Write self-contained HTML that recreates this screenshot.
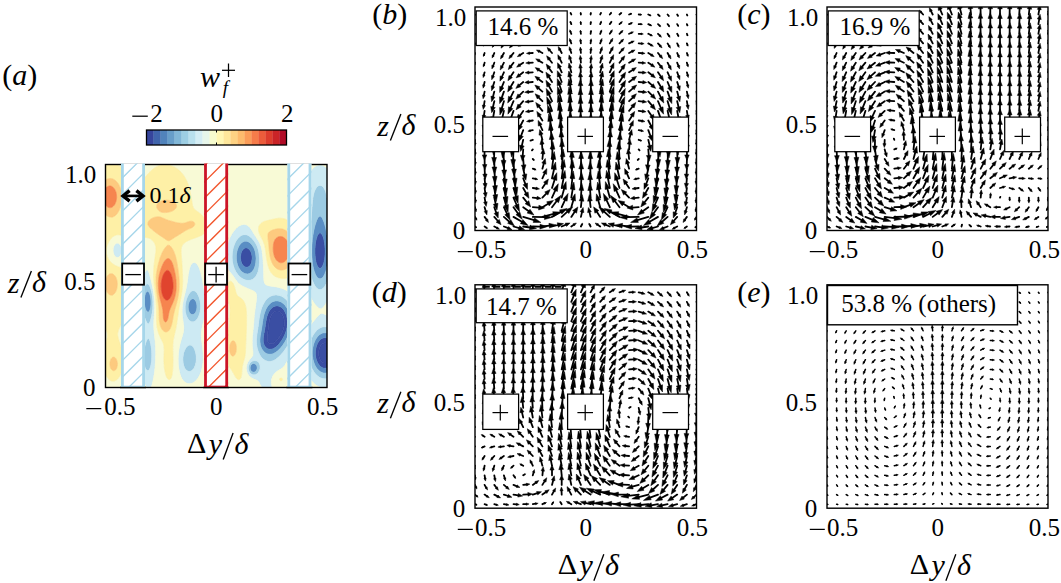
<!DOCTYPE html><html><head><meta charset="utf-8"><style>html,body{margin:0;padding:0;background:#fff}svg{display:block}text{font-family:"Liberation Serif",serif;fill:#000}</style></head><body>
<svg width="1061" height="583" viewBox="0 0 1061 583">
<defs>
<clipPath id="clipa"><rect x="105.5" y="164.5" width="221.5" height="223"/></clipPath>
<clipPath id="clipb"><rect x="475.0" y="7.0" width="221.5" height="223.5"/></clipPath>
<clipPath id="clipc"><rect x="827.0" y="7.0" width="221" height="223.5"/></clipPath>
<clipPath id="clipd"><rect x="475.0" y="284.8" width="221.5" height="223.4"/></clipPath>
<clipPath id="clipe"><rect x="827.0" y="284.8" width="221" height="223.4"/></clipPath>
<linearGradient id="cbg" x1="0" x2="1" y1="0" y2="0"><stop offset="0.000" stop-color="#313695"/><stop offset="0.050" stop-color="#3a54a4"/><stop offset="0.100" stop-color="#4574b3"/><stop offset="0.150" stop-color="#5c90c2"/><stop offset="0.200" stop-color="#74add1"/><stop offset="0.250" stop-color="#90c3dd"/><stop offset="0.300" stop-color="#aad8e9"/><stop offset="0.350" stop-color="#c5e6f0"/><stop offset="0.400" stop-color="#e0f3f8"/><stop offset="0.450" stop-color="#f0f9db"/><stop offset="0.500" stop-color="#fffebe"/><stop offset="0.550" stop-color="#fff0a8"/><stop offset="0.600" stop-color="#fee090"/><stop offset="0.650" stop-color="#fdc778"/><stop offset="0.700" stop-color="#fdad60"/><stop offset="0.750" stop-color="#f88c51"/><stop offset="0.800" stop-color="#f46d43"/><stop offset="0.850" stop-color="#e54e35"/><stop offset="0.900" stop-color="#d62f27"/><stop offset="0.950" stop-color="#bd1726"/><stop offset="1.000" stop-color="#a50026"/></linearGradient>
</defs>
<g clip-path="url(#clipa)">
<path d="M275.1 311.3L275.9 311.1L276.6 310.9L277.4 310.9L278.1 311L278.8 311.3L279.2 311.4L279.6 311.6L280.3 312.1L280.4 312.2L281.1 312.8L281.1 312.9L281.8 313.7L281.8 313.7L282.3 314.4L282.6 314.9L282.7 315.2L283 315.9L283.3 316.5L283.3 316.6L283.6 317.4L283.8 318.1L284 318.9L284 319.2L284.1 319.6L284.2 320.4L284.3 321.1L284.3 321.9L284.4 322.6L284.4 323.4L284.3 324.1L284.3 324.9L284.2 325.6L284.1 326.3L284 326.5L283.9 327.1L283.7 327.8L283.5 328.6L283.3 329.3L283.3 329.4L283.1 330.1L282.8 330.8L282.6 331.4L282.5 331.6L282.2 332.3L281.8 333.1L281.8 333.1L281.4 333.8L281.1 334.4L281 334.5L280.6 335.3L280.3 335.7L280.1 336L279.6 336.8L279.6 336.8L279.1 337.5L278.8 337.8L278.5 338.3L278.1 338.8L277.9 339L277.4 339.7L277.3 339.8L276.6 340.5L276.6 340.5L275.9 341.3L275.9 341.3L275.1 341.9L275.1 342L274.4 342.5L274 342.8L273.7 343L272.9 343.4L272.5 343.5L272.2 343.6L271.4 343.7L270.7 343.7L270 343.6L269.7 343.5L269.2 343.2L268.7 342.8L268.5 342.6L268.1 342L267.7 341.3L267.7 341.3L267.5 340.5L267.3 339.8L267.2 339L267.2 338.3L267.2 337.5L267.2 336.8L267.3 336L267.4 335.3L267.5 334.5L267.6 333.8L267.7 333.1L267.7 332.7L267.8 332.3L267.9 331.6L268 330.8L268.1 330.1L268.2 329.3L268.3 328.6L268.4 327.8L268.5 327.1L268.5 327L268.6 326.3L268.6 325.6L268.7 324.9L268.8 324.1L268.9 323.4L269.1 322.6L269.2 321.9L269.2 321.6L269.3 321.1L269.5 320.4L269.7 319.6L269.8 318.9L270 318.5L270.1 318.1L270.3 317.4L270.6 316.6L270.7 316.4L271 315.9L271.3 315.2L271.4 315L271.8 314.4L272.2 313.8L272.3 313.7L272.9 312.9L272.9 312.9L273.7 312.2L273.7 312.2L274.4 311.7L274.9 311.4L275.1 311.3ZM323.3 343.2L324 342.9L324.8 342.8L325.5 342.9L326.3 343L327 343.3L327 343.5L327 344.2L327 345L327 345.7L327 346.5L327 347.2L327 348L327 348.7L327 349.5L327 350.2L327 351L327 351.7L327 352.4L327 353.2L327 353.9L327 354.7L327 355.4L327 356.2L327 356.9L327 357.7L327 358.4L327 359.2L327 359.9L327 360.7L327 361.4L327 362.1L327 362.6L326.4 362.9L326.3 362.9L325.5 363.1L324.8 363.1L324 363L323.6 362.9L323.3 362.8L322.6 362.4L322.3 362.1L321.8 361.8L321.5 361.4L321.1 361L320.9 360.7L320.4 359.9L320.3 359.9L320 359.2L319.6 358.4L319.6 358.3L319.4 357.7L319.2 356.9L319 356.2L318.9 355.5L318.8 355.4L318.7 354.7L318.7 353.9L318.7 353.2L318.7 352.4L318.7 351.7L318.8 351L318.9 350.5L318.9 350.2L319.1 349.5L319.2 348.7L319.5 348L319.6 347.7L319.8 347.2L320.1 346.5L320.3 346.1L320.6 345.7L321.1 345L321.1 345L321.8 344.2L321.8 344.2L322.6 343.6L322.7 343.5L323.3 343.2Z" fill="#3a4ea3" stroke="#3a4ea3" stroke-width="0.6"/>
<path d="M319.6 233.1L320.3 233L320.5 233.1L321.1 233.5L321.4 233.9L321.8 234.3L322 234.6L322.4 235.4L322.6 235.7L322.7 236.1L323 236.8L323.3 237.6L323.3 237.7L323.5 238.3L323.7 239.1L323.9 239.8L324 240.6L324 240.6L324.2 241.3L324.3 242.1L324.4 242.8L324.5 243.6L324.6 244.3L324.7 245L324.8 245.5L324.8 245.8L324.9 246.5L324.9 247.3L325 248L325 248.8L325 249.5L325.1 250.3L325.1 251L325.1 251.8L325.1 252.5L325 253.3L325 254L325 254.7L324.9 255.5L324.9 256.2L324.8 257L324.8 257L324.7 257.7L324.6 258.5L324.5 259.2L324.4 260L324.2 260.7L324.1 261.5L324 261.6L323.9 262.2L323.7 262.9L323.5 263.7L323.3 264.2L323.2 264.4L322.9 265.2L322.6 265.9L322.6 265.9L322.1 266.7L321.8 267.1L321.5 267.4L321.1 267.8L320.4 268.2L320.3 268.2L320 268.2L319.6 268.2L318.9 267.8L318.5 267.4L318.1 267L317.9 266.7L317.5 265.9L317.4 265.8L317.1 265.2L316.8 264.4L316.6 263.9L316.6 263.7L316.3 262.9L316.1 262.2L316 261.5L315.9 261.1L315.8 260.7L315.7 260L315.5 259.2L315.4 258.5L315.3 257.7L315.3 257L315.2 256.2L315.1 255.9L315.1 255.5L315.1 254.7L315 254L315 253.3L315 252.5L315 251.8L315 251L315 250.3L315 249.5L315 248.8L315.1 248L315.1 247.3L315.1 246.7L315.2 246.5L315.2 245.8L315.3 245L315.4 244.3L315.5 243.6L315.6 242.8L315.7 242.1L315.8 241.3L315.9 241.1L316 240.6L316.2 239.8L316.3 239.1L316.5 238.3L316.6 238L316.8 237.6L317 236.8L317.3 236.1L317.4 235.9L317.6 235.4L318 234.6L318.1 234.5L318.6 233.9L318.9 233.5L319.5 233.1L319.6 233.1ZM245.5 248L246.3 248L246.8 248L247 248.1L247.7 248.3L248.5 248.8L248.5 248.8L249.2 249.4L249.3 249.5L249.9 250.3L250 250.3L250.4 251L250.7 251.6L250.8 251.8L251.1 252.5L251.4 253.3L251.4 253.5L251.6 254L251.7 254.7L251.9 255.5L252 256.2L252 257L252.1 257.7L252.1 258.5L252 259.2L251.9 260L251.8 260.7L251.7 261.5L251.5 262.2L251.4 262.4L251.3 262.9L251 263.7L250.7 264.2L250.6 264.4L250.1 265.2L250 265.4L249.5 265.9L249.2 266.2L248.5 266.7L248.5 266.7L247.7 267L247 267.2L246.3 267.2L245.5 267L244.8 266.7L244.8 266.7L244 266.2L243.7 265.9L243.3 265.5L243 265.2L242.5 264.6L242.5 264.4L242 263.7L241.8 263.2L241.7 262.9L241.4 262.2L241.1 261.5L241.1 261.2L240.9 260.7L240.8 260L240.7 259.2L240.6 258.5L240.6 257.7L240.6 257L240.6 256.2L240.7 255.5L240.8 254.7L240.9 254L241.1 253.4L241.1 253.3L241.3 252.5L241.6 251.8L241.8 251.4L242 251L242.5 250.3L242.5 250.1L243 249.5L243.3 249.3L243.8 248.8L244 248.6L244.8 248.2L245.4 248L245.5 248ZM275.1 306.2L275.9 306L276.6 305.9L277.4 305.9L278.1 306L278.8 306.2L278.9 306.2L279.6 306.5L280.3 306.8L280.6 307L281.1 307.3L281.7 307.7L281.8 307.8L282.5 308.4L282.6 308.5L283.2 309.2L283.3 309.3L283.8 309.9L284 310.3L284.3 310.7L284.7 311.4L284.8 311.5L285.1 312.2L285.5 312.9L285.5 313L285.8 313.7L286.1 314.4L286.3 315L286.3 315.2L286.5 315.9L286.7 316.6L286.9 317.4L287 318L287 318.1L287.1 318.9L287.2 319.6L287.3 320.4L287.4 321.1L287.4 321.9L287.4 322.6L287.4 323.4L287.3 324.1L287.3 324.9L287.2 325.6L287.1 326.3L287 327.1L287 327.2L286.9 327.8L286.7 328.6L286.6 329.3L286.4 330.1L286.3 330.5L286.2 330.8L285.9 331.6L285.7 332.3L285.5 332.8L285.4 333.1L285.1 333.8L284.8 334.5L284.8 334.6L284.5 335.3L284.1 336L284 336.2L283.7 336.8L283.3 337.5L283.3 337.6L282.9 338.3L282.6 338.9L282.5 339L282 339.8L281.8 340L281.5 340.5L281.1 341.2L281 341.3L280.5 342L280.3 342.2L279.9 342.8L279.6 343.2L279.3 343.5L278.8 344.1L278.7 344.2L278.1 344.9L278 345L277.4 345.6L277.3 345.7L276.6 346.3L276.5 346.5L275.9 347L275.5 347.2L275.1 347.5L274.4 348L274.4 348L273.7 348.4L272.9 348.7L272.9 348.7L272.2 349L271.4 349.1L270.7 349.2L270 349.2L269.2 349.2L268.5 349L267.8 348.7L267.7 348.7L267 348.3L266.5 348L266.3 347.7L265.7 347.2L265.5 347L265.1 346.5L264.8 346L264.6 345.7L264.3 345L264 344.4L264 344.2L263.7 343.5L263.6 342.8L263.4 342L263.3 341.3L263.3 340.5L263.3 340.4L263.3 339.8L263.3 339.2L263.3 339L263.3 338.3L263.4 337.5L263.5 336.8L263.6 336L263.7 335.3L263.8 334.5L264 333.8L264 333.5L264.1 333.1L264.3 332.3L264.4 331.6L264.5 330.8L264.7 330.1L264.8 329.5L264.8 329.3L264.9 328.6L265 327.8L265.2 327.1L265.3 326.3L265.4 325.6L265.5 324.9L265.5 324.6L265.6 324.1L265.7 323.4L265.8 322.6L265.9 321.9L266 321.1L266.2 320.4L266.3 319.9L266.3 319.6L266.5 318.9L266.6 318.1L266.8 317.4L267 316.7L267 316.6L267.2 315.9L267.5 315.2L267.7 314.4L267.7 314.4L268 313.7L268.4 312.9L268.5 312.7L268.7 312.2L269.1 311.4L269.2 311.3L269.6 310.7L270 310.1L270.1 309.9L270.7 309.2L270.7 309.2L271.4 308.4L271.4 308.4L272.2 307.7L272.2 307.7L272.9 307.2L273.3 307L273.7 306.7L274.4 306.4L275 306.2L275.1 306.2ZM274.9 311.4L274.4 311.7L273.7 312.2L273.7 312.2L272.9 312.9L272.9 312.9L272.3 313.7L272.2 313.8L271.8 314.4L271.4 315L271.3 315.2L271 315.9L270.7 316.4L270.6 316.6L270.3 317.4L270.1 318.1L270 318.5L269.8 318.9L269.7 319.6L269.5 320.4L269.3 321.1L269.2 321.6L269.2 321.9L269.1 322.6L268.9 323.4L268.8 324.1L268.7 324.9L268.6 325.6L268.6 326.3L268.5 327L268.5 327.1L268.4 327.8L268.3 328.6L268.2 329.3L268.1 330.1L268 330.8L267.9 331.6L267.8 332.3L267.7 332.7L267.7 333.1L267.6 333.8L267.5 334.5L267.4 335.3L267.3 336L267.2 336.8L267.2 337.5L267.2 338.3L267.2 339L267.3 339.8L267.5 340.5L267.7 341.3L267.7 341.3L268.1 342L268.5 342.6L268.7 342.8L269.2 343.2L269.7 343.5L270 343.6L270.7 343.7L271.4 343.7L272.2 343.6L272.5 343.5L272.9 343.4L273.7 343L274 342.8L274.4 342.5L275.1 342L275.1 341.9L275.9 341.3L275.9 341.3L276.6 340.5L276.6 340.5L277.3 339.8L277.4 339.7L277.9 339L278.1 338.8L278.5 338.3L278.8 337.8L279.1 337.5L279.6 336.8L279.6 336.8L280.1 336L280.3 335.7L280.6 335.3L281 334.5L281.1 334.4L281.4 333.8L281.8 333.1L281.8 333.1L282.2 332.3L282.5 331.6L282.6 331.4L282.8 330.8L283.1 330.1L283.3 329.4L283.3 329.3L283.5 328.6L283.7 327.8L283.9 327.1L284 326.5L284.1 326.3L284.2 325.6L284.3 324.9L284.3 324.1L284.4 323.4L284.4 322.6L284.3 321.9L284.3 321.1L284.2 320.4L284.1 319.6L284 319.2L284 318.9L283.8 318.1L283.6 317.4L283.3 316.6L283.3 316.5L283 315.9L282.7 315.2L282.6 314.9L282.3 314.4L281.8 313.7L281.8 313.7L281.1 312.9L281.1 312.8L280.4 312.2L280.3 312.1L279.6 311.6L279.2 311.4L278.8 311.3L278.1 311L277.4 310.9L276.6 310.9L275.9 311.1L275.1 311.3L274.9 311.4ZM322.6 338.2L323.3 338L324 337.8L324.8 337.7L325.5 337.7L326.3 337.9L327 338.1L327 338.3L327 339L327 339.8L327 340.5L327 341.3L327 342L327 342.8L327 343.3L326.3 343L325.5 342.9L324.8 342.8L324 342.9L323.3 343.2L322.7 343.5L322.6 343.6L321.8 344.2L321.8 344.2L321.1 345L321.1 345L320.6 345.7L320.3 346.1L320.1 346.5L319.8 347.2L319.6 347.7L319.5 348L319.2 348.7L319.1 349.5L318.9 350.2L318.9 350.5L318.8 351L318.7 351.7L318.7 352.4L318.7 353.2L318.7 353.9L318.7 354.7L318.8 355.4L318.9 355.5L319 356.2L319.2 356.9L319.4 357.7L319.6 358.3L319.6 358.4L320 359.2L320.3 359.9L320.4 359.9L320.9 360.7L321.1 361L321.5 361.4L321.8 361.8L322.3 362.1L322.6 362.4L323.3 362.8L323.6 362.9L324 363L324.8 363.1L325.5 363.1L326.3 362.9L326.4 362.9L327 362.6L327 362.9L327 363.6L327 364.4L327 365.1L327 365.9L327 366.6L327 367.4L327 367.9L326.3 368.1L326.1 368.1L325.5 368.2L324.8 368.2L324 368.1L323.9 368.1L323.3 368L322.6 367.7L321.9 367.4L321.8 367.3L321.1 366.9L320.8 366.6L320.3 366.3L319.9 365.9L319.6 365.5L319.3 365.1L318.9 364.6L318.7 364.4L318.2 363.6L318.1 363.5L317.8 362.9L317.4 362.1L317.4 362.1L317.1 361.4L316.8 360.7L316.6 360.2L316.5 359.9L316.3 359.2L316.1 358.4L315.9 357.7L315.9 357.4L315.8 356.9L315.7 356.2L315.6 355.4L315.5 354.7L315.5 353.9L315.5 353.2L315.5 352.4L315.5 351.7L315.6 351L315.6 350.2L315.7 349.5L315.9 348.7L315.9 348.6L316 348L316.2 347.2L316.4 346.5L316.6 345.7L316.6 345.7L316.9 345L317.2 344.2L317.4 343.9L317.5 343.5L317.9 342.8L318.1 342.4L318.4 342L318.9 341.3L318.9 341.3L319.5 340.5L319.6 340.4L320.2 339.8L320.3 339.7L321.1 339.1L321.1 339L321.8 338.6L322.4 338.3L322.6 338.2Z" fill="#3a4ea3" stroke="#3a4ea3" stroke-width="0.6"/>
<path d="M318.9 216.7L319.6 216.2L320.3 216.2L321.1 216.6L321.2 216.7L321.8 217.5L321.8 217.5L322.2 218.2L322.6 218.7L322.6 218.9L323 219.7L323.3 220.4L323.3 220.4L323.6 221.2L323.9 221.9L324 222.4L324.1 222.7L324.3 223.4L324.6 224.2L324.8 224.8L324.8 224.9L325 225.7L325.2 226.4L325.4 227.1L325.5 227.6L325.6 227.9L325.8 228.6L325.9 229.4L326.1 230.1L326.2 230.9L326.3 231L326.4 231.6L326.5 232.4L326.7 233.1L326.8 233.9L326.9 234.6L327 235L327 235.4L327 236.1L327 236.8L327 237.6L327 238.3L327 239.1L327 239.8L327 240.6L327 241.3L327 242.1L327 242.8L327 243.6L327 244.3L327 245L327 245.8L327 246.5L327 247.3L327 248L327 248.8L327 249.5L327 250.3L327 251L327 251.8L327 252.5L327 253.3L327 254L327 254.7L327 255.5L327 256.2L327 257L327 257.7L327 258.5L327 259.2L327 260L327 260.7L327 261.5L327 262.2L327 262.9L327 263.7L327 264.4L327 265.2L327 265.9L327 266.2L326.9 266.7L326.7 267.4L326.6 268.2L326.4 268.9L326.3 269.4L326.2 269.7L326 270.4L325.8 271.2L325.5 271.9L325.5 271.9L325.2 272.6L325 273.4L324.8 273.8L324.6 274.1L324.3 274.9L324 275.4L323.9 275.6L323.4 276.4L323.3 276.6L322.8 277.1L322.6 277.5L322.1 277.9L321.8 278.1L321.1 278.6L320.9 278.6L320.3 278.8L319.6 278.8L319.1 278.6L318.9 278.5L318.1 278.1L317.9 277.9L317.4 277.4L317.2 277.1L316.6 276.4L316.6 276.4L316.1 275.6L315.9 275.2L315.7 274.9L315.4 274.1L315.1 273.6L315.1 273.4L314.8 272.6L314.5 271.9L314.4 271.6L314.3 271.2L314 270.4L313.8 269.7L313.7 269L313.6 268.9L313.5 268.2L313.3 267.4L313.1 266.7L313 265.9L312.9 265.5L312.9 265.2L312.7 264.4L312.6 263.7L312.5 262.9L312.4 262.2L312.3 261.5L312.3 260.7L312.2 260L312.2 260L312.1 259.2L312.1 258.5L312 257.7L312 257L311.9 256.2L311.9 255.5L311.9 254.7L311.8 254L311.8 253.3L311.8 252.5L311.8 251.8L311.8 251L311.8 250.3L311.8 249.5L311.8 248.8L311.8 248L311.9 247.3L311.9 246.5L311.9 245.8L312 245L312 244.3L312.1 243.6L312.1 242.8L312.2 242.2L312.2 242.1L312.3 241.3L312.3 240.6L312.4 239.8L312.5 239.1L312.6 238.3L312.7 237.6L312.8 236.8L312.9 236.1L312.9 235.8L313 235.4L313.1 234.6L313.2 233.9L313.4 233.1L313.5 232.4L313.6 231.6L313.7 231.5L313.8 230.9L313.9 230.1L314.1 229.4L314.3 228.6L314.4 228.1L314.4 227.9L314.6 227.1L314.8 226.4L315 225.7L315.1 225.2L315.2 224.9L315.4 224.2L315.7 223.4L315.9 222.7L315.9 222.7L316.2 221.9L316.4 221.2L316.6 220.6L316.7 220.4L317 219.7L317.4 218.9L317.4 218.9L317.8 218.2L318.1 217.6L318.2 217.5L318.8 216.7L318.9 216.7ZM319.5 233.1L318.9 233.5L318.6 233.9L318.1 234.5L318 234.6L317.6 235.4L317.4 235.9L317.3 236.1L317 236.8L316.8 237.6L316.6 238L316.5 238.3L316.3 239.1L316.2 239.8L316 240.6L315.9 241.1L315.8 241.3L315.7 242.1L315.6 242.8L315.5 243.6L315.4 244.3L315.3 245L315.2 245.8L315.2 246.5L315.1 246.7L315.1 247.3L315.1 248L315 248.8L315 249.5L315 250.3L315 251L315 251.8L315 252.5L315 253.3L315 254L315.1 254.7L315.1 255.5L315.1 255.9L315.2 256.2L315.3 257L315.3 257.7L315.4 258.5L315.5 259.2L315.7 260L315.8 260.7L315.9 261.1L316 261.5L316.1 262.2L316.3 262.9L316.6 263.7L316.6 263.9L316.8 264.4L317.1 265.2L317.4 265.8L317.5 265.9L317.9 266.7L318.1 267L318.5 267.4L318.9 267.8L319.6 268.2L320 268.2L320.3 268.2L320.4 268.2L321.1 267.8L321.5 267.4L321.8 267.1L322.1 266.7L322.6 265.9L322.6 265.9L322.9 265.2L323.2 264.4L323.3 264.2L323.5 263.7L323.7 262.9L323.9 262.2L324 261.6L324.1 261.5L324.2 260.7L324.4 260L324.5 259.2L324.6 258.5L324.7 257.7L324.8 257L324.8 257L324.9 256.2L324.9 255.5L325 254.7L325 254L325 253.3L325.1 252.5L325.1 251.8L325.1 251L325.1 250.3L325 249.5L325 248.8L325 248L324.9 247.3L324.9 246.5L324.8 245.8L324.8 245.5L324.7 245L324.6 244.3L324.5 243.6L324.4 242.8L324.3 242.1L324.2 241.3L324 240.6L324 240.6L323.9 239.8L323.7 239.1L323.5 238.3L323.3 237.7L323.3 237.6L323 236.8L322.7 236.1L322.6 235.7L322.4 235.4L322 234.6L321.8 234.3L321.4 233.9L321.1 233.5L320.5 233.1L320.3 233L319.6 233.1L319.5 233.1ZM244.8 241.3L245.5 241.2L246.3 241.3L246.6 241.3L247 241.4L247.7 241.6L248.5 242L248.7 242.1L249.2 242.4L249.8 242.8L250 242.9L250.7 243.6L250.7 243.6L251.4 244.3L251.4 244.4L252 245L252.2 245.3L252.5 245.8L252.9 246.4L253 246.5L253.4 247.3L253.7 247.7L253.8 248L254.2 248.8L254.4 249.4L254.5 249.5L254.7 250.3L255 251L255.1 251.7L255.2 251.8L255.3 252.5L255.5 253.3L255.6 254L255.7 254.7L255.8 255.5L255.9 256.2L255.9 256.3L255.9 257L256 257.7L256 258.5L256 259.2L255.9 260L255.9 260.7L255.9 261L255.8 261.5L255.8 262.2L255.7 262.9L255.5 263.7L255.4 264.4L255.2 265.2L255.1 265.5L255 265.9L254.8 266.7L254.5 267.4L254.4 267.8L254.2 268.2L253.9 268.9L253.7 269.4L253.5 269.7L253 270.4L252.9 270.6L252.5 271.2L252.2 271.5L251.8 271.9L251.4 272.2L250.9 272.6L250.7 272.8L250 273.3L249.7 273.4L249.2 273.6L248.5 273.8L247.7 273.9L247 273.9L246.3 273.8L245.5 273.7L244.8 273.5L244.6 273.4L244 273.1L243.3 272.7L243.2 272.6L242.5 272.2L242.2 271.9L241.8 271.6L241.4 271.2L241.1 270.9L240.7 270.4L240.3 270L240.1 269.7L239.6 269L239.6 268.9L239.1 268.2L238.8 267.7L238.7 267.4L238.3 266.7L238.1 266.1L238 265.9L237.7 265.2L237.5 264.4L237.4 264.1L237.3 263.7L237.1 262.9L236.9 262.2L236.7 261.5L236.6 260.7L236.6 260.7L236.5 260L236.5 259.2L236.4 258.5L236.4 257.7L236.4 257L236.4 256.2L236.4 255.5L236.5 254.7L236.6 254L236.6 253.5L236.7 253.3L236.8 252.5L236.9 251.8L237.1 251L237.3 250.3L237.4 250L237.5 249.5L237.8 248.8L238.1 248L238.1 247.9L238.4 247.3L238.8 246.5L238.8 246.4L239.2 245.8L239.6 245.1L239.7 245L240.2 244.3L240.3 244.2L240.9 243.6L241.1 243.3L241.6 242.8L241.8 242.7L242.5 242.2L242.7 242.1L243.3 241.8L244 241.5L244.7 241.3L244.8 241.3ZM245.4 248L244.8 248.2L244 248.6L243.8 248.8L243.3 249.3L243 249.5L242.5 250.1L242.5 250.3L242 251L241.8 251.4L241.6 251.8L241.3 252.5L241.1 253.3L241.1 253.4L240.9 254L240.8 254.7L240.7 255.5L240.6 256.2L240.6 257L240.6 257.7L240.6 258.5L240.7 259.2L240.8 260L240.9 260.7L241.1 261.2L241.1 261.5L241.4 262.2L241.7 262.9L241.8 263.2L242 263.7L242.5 264.4L242.5 264.6L243 265.2L243.3 265.5L243.7 265.9L244 266.2L244.8 266.7L244.8 266.7L245.5 267L246.3 267.2L247 267.2L247.7 267L248.5 266.7L248.5 266.7L249.2 266.2L249.5 265.9L250 265.4L250.1 265.2L250.6 264.4L250.7 264.2L251 263.7L251.3 262.9L251.4 262.4L251.5 262.2L251.7 261.5L251.8 260.7L251.9 260L252 259.2L252.1 258.5L252.1 257.7L252 257L252 256.2L251.9 255.5L251.7 254.7L251.6 254L251.4 253.5L251.4 253.3L251.1 252.5L250.8 251.8L250.7 251.6L250.4 251L250 250.3L249.9 250.3L249.3 249.5L249.2 249.4L248.5 248.8L248.5 248.8L247.7 248.3L247 248.1L246.8 248L246.3 248L245.5 248L245.4 248ZM147 291.5L147.7 291.3L148.5 291.8L148.7 292L149.2 292.8L149.2 292.8L149.5 293.5L149.8 294.3L149.9 294.7L150 295L150.2 295.8L150.4 296.5L150.5 297.3L150.7 298L150.7 298.2L150.7 298.7L150.8 299.5L150.9 300.2L150.9 301L150.9 301.7L150.9 302.5L150.9 303.2L150.9 304L150.9 304.7L150.8 305.5L150.7 306.2L150.7 306.4L150.6 307L150.5 307.7L150.3 308.4L150.1 309.2L149.9 309.7L149.9 309.9L149.5 310.7L149.2 311.3L149.1 311.4L148.5 312L147.7 312.1L147 311.6L146.9 311.4L146.3 310.7L146.2 310.5L146 309.9L145.7 309.2L145.5 308.7L145.4 308.4L145.2 307.7L145 307L144.9 306.2L144.8 305.7L144.7 305.5L144.6 304.7L144.5 304L144.5 303.2L144.4 302.5L144.4 301.7L144.4 301L144.4 300.2L144.4 299.5L144.5 298.7L144.5 298L144.6 297.3L144.7 296.5L144.8 296.3L144.9 295.8L145.1 295L145.3 294.3L145.5 293.6L145.5 293.5L145.9 292.8L146.2 292.2L146.4 292L147 291.5ZM191.4 299.2L192.2 298.9L192.9 298.8L193.7 299L194.4 299.5L194.4 299.5L195.1 300.2L195.1 300.3L195.6 301L195.9 301.5L196 301.7L196.3 302.5L196.5 303.2L196.6 303.8L196.7 304L196.8 304.7L196.9 305.5L196.9 306.2L196.9 307L196.9 307.7L196.8 308.4L196.7 309.2L196.6 309.4L196.5 309.9L196.3 310.7L196 311.4L195.9 311.6L195.6 312.2L195.1 312.9L195.1 312.9L194.4 313.7L194.4 313.7L193.7 314.2L193.1 314.4L192.9 314.5L192.2 314.5L191.8 314.4L191.4 314.3L190.7 313.9L190.5 313.7L190 313.1L189.8 312.9L189.3 312.2L189.2 311.9L189 311.4L188.7 310.7L188.5 309.9L188.5 309.8L188.4 309.2L188.3 308.4L188.2 307.7L188.2 307L188.2 306.2L188.3 305.5L188.4 304.7L188.5 304.3L188.5 304L188.8 303.2L189 302.5L189.2 302L189.3 301.7L189.7 301L190 300.6L190.3 300.2L190.7 299.7L191 299.5L191.4 299.2ZM275.9 301L276.6 300.9L277.4 301L277.6 301L278.1 301L278.8 301.2L279.6 301.4L280.3 301.7L280.4 301.7L281.1 302L281.8 302.5L281.8 302.5L282.6 303L282.9 303.2L283.3 303.6L283.7 304L284 304.2L284.5 304.7L284.8 305L285.1 305.5L285.5 305.9L285.7 306.2L286.2 307L286.3 307L286.7 307.7L287 308.2L287.1 308.4L287.5 309.2L287.7 309.6L287.9 309.9L288.2 310.7L288.5 311.4L288.5 311.4L288.8 312.2L289 312.9L289.2 313.6L289.2 313.7L289.4 314.4L289.6 315.2L289.8 315.9L289.9 316.6L290 317L290 317.4L290.1 318.1L290.2 318.9L290.3 319.6L290.3 320.4L290.4 321.1L290.4 321.9L290.4 322.6L290.4 323.4L290.4 324.1L290.3 324.9L290.3 325.6L290.2 326.3L290.1 327.1L290 327.8L290 328L289.9 328.6L289.7 329.3L289.6 330.1L289.4 330.8L289.2 331.6L289.2 331.6L289 332.3L288.8 333.1L288.6 333.8L288.5 334L288.3 334.5L288 335.3L287.7 336L287.7 336L287.4 336.8L287.1 337.5L287 337.8L286.8 338.3L286.4 339L286.3 339.3L286 339.8L285.6 340.5L285.5 340.7L285.2 341.3L284.8 342L284.8 342L284.3 342.8L284 343.2L283.8 343.5L283.3 344.2L283.3 344.3L282.8 345L282.6 345.4L282.3 345.7L281.8 346.3L281.7 346.5L281.1 347.2L281.1 347.3L280.5 348L280.3 348.2L279.8 348.7L279.6 349L279.1 349.5L278.8 349.7L278.3 350.2L278.1 350.4L277.5 351L277.4 351.1L276.6 351.6L276.5 351.7L275.9 352.2L275.4 352.4L275.1 352.6L274.4 353L274.1 353.2L273.7 353.4L272.9 353.7L272.2 353.9L272.1 353.9L271.4 354.1L270.7 354.2L270 354.2L269.2 354.2L268.5 354.1L267.7 353.9L267.7 353.9L267 353.7L266.3 353.4L265.9 353.2L265.5 352.9L264.8 352.4L264.8 352.4L264 351.8L264 351.7L263.3 351L263.3 351L262.7 350.2L262.6 350L262.2 349.5L261.8 348.8L261.8 348.7L261.4 348L261.1 347.2L261.1 347.2L260.8 346.5L260.6 345.7L260.4 345L260.3 344.5L260.3 344.2L260.2 343.5L260.1 342.8L260 342L260 341.3L260 340.5L260 339.8L260 339L260.1 338.3L260.1 337.5L260.2 336.8L260.3 336L260.3 336L260.4 335.3L260.6 334.5L260.7 333.8L260.8 333.1L261 332.3L261.1 331.7L261.1 331.6L261.2 330.8L261.4 330.1L261.5 329.3L261.6 328.6L261.8 327.8L261.8 327.5L261.9 327.1L262 326.3L262.1 325.6L262.2 324.9L262.3 324.1L262.4 323.4L262.5 322.6L262.6 322.5L262.6 321.9L262.7 321.1L262.9 320.4L263 319.6L263.1 318.9L263.3 318.1L263.3 317.9L263.4 317.4L263.6 316.6L263.7 315.9L263.9 315.2L264 314.7L264.1 314.4L264.3 313.7L264.6 312.9L264.8 312.3L264.8 312.2L265.1 311.4L265.4 310.7L265.5 310.4L265.7 309.9L266 309.2L266.3 308.8L266.4 308.4L266.8 307.7L267 307.4L267.3 307L267.7 306.3L267.8 306.2L268.4 305.5L268.5 305.3L269 304.7L269.2 304.5L269.7 304L270 303.7L270.6 303.2L270.7 303.1L271.4 302.6L271.6 302.5L272.2 302.1L272.9 301.8L273 301.7L273.7 301.5L274.4 301.2L275.1 301.1L275.8 301L275.9 301ZM275 306.2L274.4 306.4L273.7 306.7L273.3 307L272.9 307.2L272.2 307.7L272.2 307.7L271.4 308.4L271.4 308.4L270.7 309.2L270.7 309.2L270.1 309.9L270 310.1L269.6 310.7L269.2 311.3L269.1 311.4L268.7 312.2L268.5 312.7L268.4 312.9L268 313.7L267.7 314.4L267.7 314.4L267.5 315.2L267.2 315.9L267 316.6L267 316.7L266.8 317.4L266.6 318.1L266.5 318.9L266.3 319.6L266.3 319.9L266.2 320.4L266 321.1L265.9 321.9L265.8 322.6L265.7 323.4L265.6 324.1L265.5 324.6L265.5 324.9L265.4 325.6L265.3 326.3L265.2 327.1L265 327.8L264.9 328.6L264.8 329.3L264.8 329.5L264.7 330.1L264.5 330.8L264.4 331.6L264.3 332.3L264.1 333.1L264 333.5L264 333.8L263.8 334.5L263.7 335.3L263.6 336L263.5 336.8L263.4 337.5L263.3 338.3L263.3 339L263.3 339.2L263.3 339.8L263.3 340.4L263.3 340.5L263.3 341.3L263.4 342L263.6 342.8L263.7 343.5L264 344.2L264 344.4L264.3 345L264.6 345.7L264.8 346L265.1 346.5L265.5 347L265.7 347.2L266.3 347.7L266.5 348L267 348.3L267.7 348.7L267.8 348.7L268.5 349L269.2 349.2L270 349.2L270.7 349.2L271.4 349.1L272.2 349L272.9 348.7L272.9 348.7L273.7 348.4L274.4 348L274.4 348L275.1 347.5L275.5 347.2L275.9 347L276.5 346.5L276.6 346.3L277.3 345.7L277.4 345.6L278 345L278.1 344.9L278.7 344.2L278.8 344.1L279.3 343.5L279.6 343.2L279.9 342.8L280.3 342.2L280.5 342L281 341.3L281.1 341.2L281.5 340.5L281.8 340L282 339.8L282.5 339L282.6 338.9L282.9 338.3L283.3 337.6L283.3 337.5L283.7 336.8L284 336.2L284.1 336L284.5 335.3L284.8 334.6L284.8 334.5L285.1 333.8L285.4 333.1L285.5 332.8L285.7 332.3L285.9 331.6L286.2 330.8L286.3 330.5L286.4 330.1L286.6 329.3L286.7 328.6L286.9 327.8L287 327.2L287 327.1L287.1 326.3L287.2 325.6L287.3 324.9L287.3 324.1L287.4 323.4L287.4 322.6L287.4 321.9L287.4 321.1L287.3 320.4L287.2 319.6L287.1 318.9L287 318.1L287 318L286.9 317.4L286.7 316.6L286.5 315.9L286.3 315.2L286.3 315L286.1 314.4L285.8 313.7L285.5 313L285.5 312.9L285.1 312.2L284.8 311.5L284.7 311.4L284.3 310.7L284 310.3L283.8 309.9L283.3 309.3L283.2 309.2L282.6 308.5L282.5 308.4L281.8 307.8L281.7 307.7L281.1 307.3L280.6 307L280.3 306.8L279.6 306.5L278.9 306.2L278.8 306.2L278.1 306L277.4 305.9L276.6 305.9L275.9 306L275.1 306.2L275 306.2ZM323.3 332.9L324 332.8L324.8 332.8L325.5 332.8L326.3 332.9L327 333L327 333.1L327 333.8L327 334.5L327 335.3L327 336L327 336.8L327 337.5L327 338.1L326.3 337.9L325.5 337.7L324.8 337.7L324 337.8L323.3 338L322.6 338.2L322.4 338.3L321.8 338.6L321.1 339L321.1 339.1L320.3 339.7L320.2 339.8L319.6 340.4L319.5 340.5L318.9 341.3L318.9 341.3L318.4 342L318.1 342.4L317.9 342.8L317.5 343.5L317.4 343.9L317.2 344.2L316.9 345L316.6 345.7L316.6 345.7L316.4 346.5L316.2 347.2L316 348L315.9 348.6L315.9 348.7L315.7 349.5L315.6 350.2L315.6 351L315.5 351.7L315.5 352.4L315.5 353.2L315.5 353.9L315.5 354.7L315.6 355.4L315.7 356.2L315.8 356.9L315.9 357.4L315.9 357.7L316.1 358.4L316.3 359.2L316.5 359.9L316.6 360.2L316.8 360.7L317.1 361.4L317.4 362.1L317.4 362.1L317.8 362.9L318.1 363.5L318.2 363.6L318.7 364.4L318.9 364.6L319.3 365.1L319.6 365.5L319.9 365.9L320.3 366.3L320.8 366.6L321.1 366.9L321.8 367.3L321.9 367.4L322.6 367.7L323.3 368L323.9 368.1L324 368.1L324.8 368.2L325.5 368.2L326.1 368.1L326.3 368.1L327 367.9L327 368.1L327 368.9L327 369.6L327 370.3L327 371.1L327 371.8L327 372.6L327 372.8L326.3 373L325.5 373.1L324.8 373.1L324 373L323.3 372.9L322.6 372.7L322.2 372.6L321.8 372.4L321.1 372.1L320.6 371.8L320.3 371.7L319.6 371.1L319.5 371.1L318.9 370.5L318.7 370.3L318.1 369.8L317.9 369.6L317.4 369L317.3 368.9L316.7 368.1L316.6 368L316.2 367.4L315.9 366.8L315.8 366.6L315.4 365.9L315.1 365.5L315 365.1L314.6 364.4L314.4 363.8L314.3 363.6L314.1 362.9L313.8 362.1L313.7 361.7L313.6 361.4L313.4 360.7L313.2 359.9L313 359.2L312.9 358.6L312.9 358.4L312.8 357.7L312.7 356.9L312.6 356.2L312.5 355.4L312.5 354.7L312.4 353.9L312.4 353.2L312.4 352.4L312.4 351.7L312.5 351L312.5 350.2L312.6 349.5L312.7 348.7L312.8 348L312.9 347.3L312.9 347.2L313.1 346.5L313.3 345.7L313.4 345L313.7 344.2L313.7 344.2L313.9 343.5L314.2 342.8L314.4 342.1L314.4 342L314.8 341.3L315.1 340.5L315.1 340.4L315.5 339.8L315.9 339.1L315.9 339L316.4 338.3L316.6 337.9L316.9 337.5L317.4 336.9L317.5 336.8L318.1 336.1L318.1 336L318.9 335.3L318.9 335.3L319.6 334.7L319.8 334.5L320.3 334.2L321 333.8L321.1 333.8L321.8 333.4L322.6 333.1L322.8 333.1L323.3 332.9ZM253.7 363.6L254.1 363.6L254.4 363.7L255.1 364L255.7 364.4L255.9 364.5L256.4 365.1L256.6 365.6L256.7 365.9L257 366.6L257.1 367.4L257.1 368.1L257 368.9L256.8 369.6L256.6 370L256.4 370.3L255.9 371.1L255.9 371.1L255.1 371.7L255 371.8L254.4 372.1L253.7 372.2L252.9 372.1L252.2 371.8L252.2 371.8L251.4 371.3L251.3 371.1L250.7 370.3L250.7 370.2L250.4 369.6L250.3 368.9L250.2 368.1L250.2 367.4L250.4 366.6L250.6 365.9L250.7 365.7L251.1 365.1L251.4 364.7L251.7 364.4L252.2 364L252.9 363.7L253.4 363.6L253.7 363.6Z" fill="#5a8ec4" stroke="#5a8ec4" stroke-width="0.6"/>
<path d="M318.1 186.1L318.9 185.7L319.6 185.5L320.3 185.5L321.1 185.7L321.8 186L321.9 186.1L322.6 186.6L322.8 186.9L323.3 187.4L323.5 187.6L324 188.4L324 188.5L324.4 189.1L324.8 189.9L324.8 189.9L325.1 190.6L325.4 191.3L325.5 191.8L325.6 192.1L325.9 192.8L326.1 193.6L326.3 194.3L326.3 194.3L326.4 195.1L326.6 195.8L326.7 196.6L326.9 197.3L327 198.1L327 198.2L327 198.8L327 199.6L327 200.3L327 201L327 201.8L327 202.5L327 203.3L327 204L327 204.8L327 205.5L327 206.3L327 207L327 207.8L327 208.5L327 209.2L327 210L327 210.7L327 211.5L327 212.2L327 213L327 213.7L327 214.5L327 215.2L327 216L327 216.7L327 217.5L327 218.2L327 218.9L327 219.7L327 220.4L327 221.2L327 221.9L327 222.7L327 223.4L327 224.2L327 224.9L327 225.7L327 226.4L327 227.1L327 227.9L327 228.6L327 229.4L327 230.1L327 230.9L327 231.6L327 232.4L327 233.1L327 233.9L327 234.6L327 235L326.9 234.6L326.8 233.9L326.7 233.1L326.5 232.4L326.4 231.6L326.3 231L326.2 230.9L326.1 230.1L325.9 229.4L325.8 228.6L325.6 227.9L325.5 227.6L325.4 227.1L325.2 226.4L325 225.7L324.8 224.9L324.8 224.8L324.6 224.2L324.3 223.4L324.1 222.7L324 222.4L323.9 221.9L323.6 221.2L323.3 220.4L323.3 220.4L323 219.7L322.6 218.9L322.6 218.7L322.2 218.2L321.8 217.5L321.8 217.5L321.2 216.7L321.1 216.6L320.3 216.2L319.6 216.2L318.9 216.7L318.8 216.7L318.2 217.5L318.1 217.6L317.8 218.2L317.4 218.9L317.4 218.9L317 219.7L316.7 220.4L316.6 220.6L316.4 221.2L316.2 221.9L315.9 222.7L315.9 222.7L315.7 223.4L315.4 224.2L315.2 224.9L315.1 225.2L315 225.7L314.8 226.4L314.6 227.1L314.4 227.9L314.4 228.1L314.3 228.6L314.1 229.4L313.9 230.1L313.8 230.9L313.7 231.5L313.6 231.6L313.5 232.4L313.4 233.1L313.2 233.9L313.1 234.6L313 235.4L312.9 235.8L312.9 236.1L312.8 236.8L312.7 237.6L312.6 238.3L312.5 239.1L312.4 239.8L312.3 240.6L312.3 241.3L312.2 242.1L312.2 242.2L312.1 242.8L312.1 243.6L312 244.3L312 245L311.9 245.8L311.9 246.5L311.9 247.3L311.8 248L311.8 248.8L311.8 249.5L311.8 250.3L311.8 251L311.8 251.8L311.8 252.5L311.8 253.3L311.8 254L311.9 254.7L311.9 255.5L311.9 256.2L312 257L312 257.7L312.1 258.5L312.1 259.2L312.2 260L312.2 260L312.3 260.7L312.3 261.5L312.4 262.2L312.5 262.9L312.6 263.7L312.7 264.4L312.9 265.2L312.9 265.5L313 265.9L313.1 266.7L313.3 267.4L313.5 268.2L313.6 268.9L313.7 269L313.8 269.7L314 270.4L314.3 271.2L314.4 271.6L314.5 271.9L314.8 272.6L315.1 273.4L315.1 273.6L315.4 274.1L315.7 274.9L315.9 275.2L316.1 275.6L316.6 276.4L316.6 276.4L317.2 277.1L317.4 277.4L317.9 277.9L318.1 278.1L318.9 278.5L319.1 278.6L319.6 278.8L320.3 278.8L320.9 278.6L321.1 278.6L321.8 278.1L322.1 277.9L322.6 277.5L322.8 277.1L323.3 276.6L323.4 276.4L323.9 275.6L324 275.4L324.3 274.9L324.6 274.1L324.8 273.8L325 273.4L325.2 272.6L325.5 271.9L325.5 271.9L325.8 271.2L326 270.4L326.2 269.7L326.3 269.4L326.4 268.9L326.6 268.2L326.7 267.4L326.9 266.7L327 266.2L327 266.7L327 267.4L327 268.2L327 268.9L327 269.7L327 270.4L327 271.2L327 271.9L327 272.6L327 273.4L327 274.1L327 274.9L327 275.6L327 276.4L327 277.1L327 277.9L327 278.6L327 279.4L327 280.1L327 280.8L327 281.6L327 281.8L326.8 282.3L326.5 283.1L326.3 283.5L326.1 283.8L325.7 284.6L325.5 285L325.3 285.3L324.8 286.1L324.8 286.2L324.3 286.8L324 287.2L323.7 287.6L323.3 288L322.9 288.3L322.6 288.6L321.9 289.1L321.8 289.1L321.1 289.4L320.3 289.5L319.6 289.5L318.9 289.4L318.1 289.1L318.1 289L317.4 288.6L317.1 288.3L316.6 287.9L316.3 287.6L315.9 287.1L315.7 286.8L315.2 286.1L315.1 286.1L314.7 285.3L314.4 284.8L314.3 284.6L313.9 283.8L313.7 283.4L313.5 283.1L313.2 282.3L312.9 281.6L312.9 281.6L312.6 280.8L312.4 280.1L312.2 279.6L312.1 279.4L311.9 278.6L311.7 277.9L311.5 277.1L311.4 277.1L311.3 276.4L311.1 275.6L310.9 274.9L310.7 274.1L310.7 274L310.6 273.4L310.4 272.6L310.3 271.9L310.2 271.2L310 270.4L310 270L309.9 269.7L309.8 268.9L309.7 268.2L309.6 267.4L309.5 266.7L309.4 265.9L309.3 265.2L309.3 264.4L309.2 264L309.2 263.7L309.1 262.9L309.1 262.2L309 261.5L309 260.7L308.9 260L308.9 259.2L308.8 258.5L308.8 257.7L308.8 257L308.7 256.2L308.7 255.5L308.7 254.7L308.7 254L308.7 253.3L308.7 252.5L308.7 251.8L308.7 251L308.7 250.3L308.7 249.5L308.7 248.8L308.7 248L308.7 247.3L308.7 246.5L308.8 245.8L308.8 245L308.8 244.3L308.8 243.6L308.9 242.8L308.9 242.1L308.9 241.3L309 240.6L309 239.8L309.1 239.1L309.1 238.3L309.2 237.6L309.2 237.1L309.2 236.8L309.3 236.1L309.4 235.4L309.4 234.6L309.5 233.9L309.6 233.1L309.6 232.4L309.7 231.6L309.8 230.9L309.8 230.1L309.9 229.4L310 229L310 228.6L310.1 227.9L310.2 227.1L310.2 226.4L310.3 225.7L310.4 224.9L310.5 224.2L310.6 223.4L310.7 222.7L310.7 222.3L310.7 221.9L310.8 221.2L310.9 220.4L311 219.7L311.1 218.9L311.1 218.2L311.2 217.5L311.3 216.7L311.4 216L311.4 215.2L311.4 215.1L311.5 214.5L311.6 213.7L311.6 213L311.7 212.2L311.8 211.5L311.8 210.7L311.9 210L311.9 209.2L312 208.5L312 207.8L312.1 207L312.2 206.3L312.2 205.9L312.2 205.5L312.3 204.8L312.3 204L312.4 203.3L312.5 202.5L312.6 201.8L312.6 201L312.7 200.3L312.8 199.6L312.9 198.8L312.9 198.7L313 198.1L313.1 197.3L313.3 196.6L313.4 195.8L313.6 195.1L313.7 194.7L313.7 194.3L313.9 193.6L314.1 192.8L314.4 192.1L314.4 192L314.6 191.3L314.9 190.6L315.1 190.1L315.2 189.9L315.6 189.1L315.9 188.6L316 188.4L316.5 187.6L316.6 187.5L317.2 186.9L317.4 186.7L318 186.1L318.1 186.1ZM242.5 235.1L243.3 234.8L244 234.7L244.8 234.7L245.5 234.7L246.3 234.8L247 235L247.7 235.3L247.8 235.4L248.5 235.7L249.1 236.1L249.2 236.2L250 236.7L250.1 236.8L250.7 237.4L250.9 237.6L251.4 238.1L251.7 238.3L252.2 238.8L252.4 239.1L252.9 239.7L253 239.8L253.6 240.6L253.7 240.6L254.2 241.3L254.4 241.6L254.7 242.1L255.1 242.7L255.2 242.8L255.7 243.6L255.9 243.9L256.1 244.3L256.5 245L256.6 245.4L256.8 245.8L257.2 246.5L257.4 247.1L257.4 247.3L257.7 248L257.9 248.8L258.1 249.3L258.2 249.5L258.4 250.3L258.5 251L258.7 251.8L258.8 252.5L258.8 252.7L258.9 253.3L259 254L259.1 254.7L259.2 255.5L259.3 256.2L259.3 257L259.4 257.7L259.4 258.5L259.4 259.2L259.4 260L259.4 260.7L259.4 261.5L259.4 262.2L259.4 262.9L259.3 263.7L259.3 264.4L259.2 265.2L259.1 265.9L259 266.7L258.9 267.4L258.8 267.9L258.8 268.2L258.6 268.9L258.5 269.7L258.3 270.4L258.1 271.1L258.1 271.2L257.9 271.9L257.6 272.6L257.4 273.2L257.3 273.4L257 274.1L256.6 274.8L256.6 274.9L256.2 275.6L255.9 276.1L255.7 276.4L255.1 277.1L255.1 277.1L254.4 277.9L254.4 277.9L253.7 278.5L253.5 278.6L252.9 279.1L252.4 279.4L252.2 279.5L251.4 279.8L250.7 280L250.5 280.1L250 280.2L249.2 280.3L248.5 280.3L247.7 280.3L247 280.2L246.4 280.1L246.3 280.1L245.5 279.9L244.8 279.6L244.1 279.4L244 279.3L243.3 279L242.6 278.6L242.5 278.6L241.8 278.1L241.4 277.9L241.1 277.6L240.4 277.1L240.3 277L239.6 276.4L239.6 276.4L238.8 275.6L238.8 275.6L238.2 274.9L238.1 274.8L237.6 274.1L237.4 273.8L237.1 273.4L236.6 272.7L236.6 272.6L236.1 271.9L235.9 271.5L235.7 271.2L235.3 270.4L235.1 270.1L234.9 269.7L234.6 268.9L234.4 268.4L234.3 268.2L234 267.4L233.7 266.7L233.7 266.5L233.5 265.9L233.3 265.2L233.1 264.4L232.9 263.7L232.9 263.7L232.8 262.9L232.6 262.2L232.5 261.5L232.4 260.7L232.3 260L232.3 259.2L232.2 258.5L232.2 257.7L232.2 257L232.2 256.2L232.2 255.5L232.3 254.7L232.3 254L232.4 253.3L232.5 252.5L232.6 251.8L232.7 251L232.8 250.3L232.9 249.8L233 249.5L233.1 248.8L233.3 248L233.5 247.3L233.7 246.8L233.7 246.5L234 245.8L234.3 245L234.4 244.7L234.6 244.3L234.9 243.6L235.1 243L235.2 242.8L235.6 242.1L235.9 241.5L236 241.3L236.5 240.6L236.6 240.3L237 239.8L237.4 239.3L237.5 239.1L238.1 238.3L238.1 238.3L238.8 237.6L238.8 237.5L239.6 236.9L239.6 236.8L240.3 236.3L240.6 236.1L241.1 235.8L241.8 235.4L241.9 235.4L242.5 235.1ZM244.7 241.3L244 241.5L243.3 241.8L242.7 242.1L242.5 242.2L241.8 242.7L241.6 242.8L241.1 243.3L240.9 243.6L240.3 244.2L240.2 244.3L239.7 245L239.6 245.1L239.2 245.8L238.8 246.4L238.8 246.5L238.4 247.3L238.1 247.9L238.1 248L237.8 248.8L237.5 249.5L237.4 250L237.3 250.3L237.1 251L236.9 251.8L236.8 252.5L236.7 253.3L236.6 253.5L236.6 254L236.5 254.7L236.4 255.5L236.4 256.2L236.4 257L236.4 257.7L236.4 258.5L236.5 259.2L236.5 260L236.6 260.7L236.6 260.7L236.7 261.5L236.9 262.2L237.1 262.9L237.3 263.7L237.4 264.1L237.5 264.4L237.7 265.2L238 265.9L238.1 266.1L238.3 266.7L238.7 267.4L238.8 267.7L239.1 268.2L239.6 268.9L239.6 269L240.1 269.7L240.3 270L240.7 270.4L241.1 270.9L241.4 271.2L241.8 271.6L242.2 271.9L242.5 272.2L243.2 272.6L243.3 272.7L244 273.1L244.6 273.4L244.8 273.5L245.5 273.7L246.3 273.8L247 273.9L247.7 273.9L248.5 273.8L249.2 273.6L249.7 273.4L250 273.3L250.7 272.8L250.9 272.6L251.4 272.2L251.8 271.9L252.2 271.5L252.5 271.2L252.9 270.6L253 270.4L253.5 269.7L253.7 269.4L253.9 268.9L254.2 268.2L254.4 267.8L254.5 267.4L254.8 266.7L255 265.9L255.1 265.5L255.2 265.2L255.4 264.4L255.5 263.7L255.7 262.9L255.8 262.2L255.8 261.5L255.9 261L255.9 260.7L255.9 260L256 259.2L256 258.5L256 257.7L255.9 257L255.9 256.3L255.9 256.2L255.8 255.5L255.7 254.7L255.6 254L255.5 253.3L255.3 252.5L255.2 251.8L255.1 251.7L255 251L254.7 250.3L254.5 249.5L254.4 249.4L254.2 248.8L253.8 248L253.7 247.7L253.4 247.3L253 246.5L252.9 246.4L252.5 245.8L252.2 245.3L252 245L251.4 244.4L251.4 244.3L250.7 243.6L250.7 243.6L250 242.9L249.8 242.8L249.2 242.4L248.7 242.1L248.5 242L247.7 241.6L247 241.4L246.6 241.3L246.3 241.3L245.5 241.2L244.8 241.3L244.7 241.3ZM146.2 284.3L147 284L147.7 284L148.5 284.5L148.5 284.6L149.1 285.3L149.2 285.4L149.6 286.1L149.9 286.8L150 286.8L150.3 287.6L150.5 288.3L150.7 288.7L150.8 289.1L151 289.8L151.2 290.5L151.4 291.3L151.4 291.4L151.6 292L151.7 292.8L151.9 293.5L152 294.3L152.1 295L152.2 295.2L152.3 295.8L152.4 296.5L152.4 297.3L152.5 298L152.6 298.7L152.7 299.5L152.7 300.2L152.8 301L152.8 301.7L152.8 302.5L152.8 303.2L152.8 304L152.8 304.7L152.8 305.5L152.8 306.2L152.8 307L152.7 307.7L152.7 308.4L152.6 309.2L152.5 309.9L152.4 310.7L152.3 311.4L152.2 312.2L152.2 312.6L152.1 312.9L152 313.7L151.8 314.4L151.7 315.2L151.6 315.9L151.4 316.5L151.4 316.6L151.2 317.4L151 318.1L150.8 318.9L150.7 319.4L150.6 319.6L150.4 320.4L150.1 321.1L149.9 321.6L149.8 321.9L149.5 322.6L149.2 323.1L148.9 323.4L148.5 323.8L147.7 323.6L147.6 323.4L147 322.7L147 322.6L146.6 321.9L146.2 321.3L146.2 321.1L145.9 320.4L145.6 319.6L145.5 319.5L145.3 318.9L145 318.1L144.8 317.5L144.7 317.4L144.5 316.6L144.2 315.9L144 315.2L144 315.2L143.8 314.4L143.6 313.7L143.4 312.9L143.3 312.4L143.2 312.2L143.1 311.4L142.9 310.7L142.8 309.9L142.6 309.2L142.5 308.6L142.5 308.4L142.4 307.7L142.3 307L142.2 306.2L142.1 305.5L142.1 304.7L142 304L142 303.2L142 302.5L141.9 301.7L141.9 301L141.9 300.2L141.9 299.5L142 298.7L142 298L142.1 297.3L142.1 296.5L142.2 295.8L142.3 295L142.4 294.3L142.5 293.5L142.5 293.4L142.6 292.8L142.8 292L143 291.3L143.1 290.5L143.3 290L143.4 289.8L143.6 289.1L143.8 288.3L144 287.8L144.1 287.6L144.5 286.8L144.8 286.2L144.9 286.1L145.3 285.3L145.5 285.1L146 284.6L146.2 284.3ZM146.4 292L146.2 292.2L145.9 292.8L145.5 293.5L145.5 293.6L145.3 294.3L145.1 295L144.9 295.8L144.8 296.3L144.7 296.5L144.6 297.3L144.5 298L144.5 298.7L144.4 299.5L144.4 300.2L144.4 301L144.4 301.7L144.4 302.5L144.5 303.2L144.5 304L144.6 304.7L144.7 305.5L144.8 305.7L144.9 306.2L145 307L145.2 307.7L145.4 308.4L145.5 308.7L145.7 309.2L146 309.9L146.2 310.5L146.3 310.7L146.9 311.4L147 311.6L147.7 312.1L148.5 312L149.1 311.4L149.2 311.3L149.5 310.7L149.9 309.9L149.9 309.7L150.1 309.2L150.3 308.4L150.5 307.7L150.6 307L150.7 306.4L150.7 306.2L150.8 305.5L150.9 304.7L150.9 304L150.9 303.2L150.9 302.5L150.9 301.7L150.9 301L150.9 300.2L150.8 299.5L150.7 298.7L150.7 298.2L150.7 298L150.5 297.3L150.4 296.5L150.2 295.8L150 295L149.9 294.7L149.8 294.3L149.5 293.5L149.2 292.8L149.2 292.8L148.7 292L148.5 291.8L147.7 291.3L147 291.5L146.4 292ZM192.2 290.9L192.9 290.7L193.7 290.7L194.4 290.9L195.1 291.3L195.1 291.3L195.9 291.9L196 292L196.6 292.8L196.6 292.8L197.2 293.5L197.4 293.8L197.6 294.3L198 295L198.1 295.2L198.4 295.8L198.7 296.5L198.8 296.9L199 297.3L199.2 298L199.5 298.7L199.6 299.2L199.7 299.5L199.9 300.2L200 301L200.2 301.7L200.3 302.5L200.3 302.8L200.4 303.2L200.5 304L200.5 304.7L200.6 305.5L200.6 306.2L200.6 307L200.5 307.7L200.5 308.4L200.4 309.2L200.3 309.9L200.3 310L200.2 310.7L200.1 311.4L199.9 312.2L199.7 312.9L199.6 313.5L199.5 313.7L199.3 314.4L199 315.2L198.8 315.6L198.7 315.9L198.4 316.6L198.1 317.2L198 317.4L197.6 318.1L197.4 318.5L197.1 318.9L196.6 319.5L196.5 319.6L195.9 320.3L195.8 320.4L195.1 320.9L194.8 321.1L194.4 321.4L193.7 321.7L192.9 321.8L192.2 321.8L191.4 321.7L190.7 321.3L190.4 321.1L190 320.9L189.4 320.4L189.2 320.2L188.7 319.6L188.5 319.3L188.2 318.9L187.7 318.2L187.7 318.1L187.3 317.4L187 316.8L186.9 316.6L186.6 315.9L186.3 315.2L186.2 315L186.1 314.4L185.9 313.7L185.7 312.9L185.5 312.2L185.5 311.9L185.4 311.4L185.3 310.7L185.3 309.9L185.2 309.2L185.2 308.4L185.2 307.7L185.2 307L185.2 306.2L185.3 305.5L185.4 304.7L185.5 304L185.5 303.8L185.6 303.2L185.7 302.5L185.9 301.7L186.1 301L186.2 300.4L186.3 300.2L186.5 299.5L186.8 298.7L187 298.1L187 298L187.3 297.3L187.7 296.5L187.7 296.4L188 295.8L188.4 295L188.5 294.9L188.9 294.3L189.2 293.7L189.4 293.5L189.9 292.8L190 292.7L190.6 292L190.7 291.9L191.4 291.3L191.5 291.3L192.2 290.9ZM191 299.5L190.7 299.7L190.3 300.2L190 300.6L189.7 301L189.3 301.7L189.2 302L189 302.5L188.8 303.2L188.5 304L188.5 304.3L188.4 304.7L188.3 305.5L188.2 306.2L188.2 307L188.2 307.7L188.3 308.4L188.4 309.2L188.5 309.8L188.5 309.9L188.7 310.7L189 311.4L189.2 311.9L189.3 312.2L189.8 312.9L190 313.1L190.5 313.7L190.7 313.9L191.4 314.3L191.8 314.4L192.2 314.5L192.9 314.5L193.1 314.4L193.7 314.2L194.4 313.7L194.4 313.7L195.1 312.9L195.1 312.9L195.6 312.2L195.9 311.6L196 311.4L196.3 310.7L196.5 309.9L196.6 309.4L196.7 309.2L196.8 308.4L196.9 307.7L196.9 307L196.9 306.2L196.9 305.5L196.8 304.7L196.7 304L196.6 303.8L196.5 303.2L196.3 302.5L196 301.7L195.9 301.5L195.6 301L195.1 300.3L195.1 300.2L194.4 299.5L194.4 299.5L193.7 299L192.9 298.8L192.2 298.9L191.4 299.2L191 299.5ZM272.2 295.7L272.9 295.5L273.7 295.3L274.4 295.2L275.1 295.1L275.9 295.1L276.6 295.1L277.4 295.2L278.1 295.3L278.8 295.4L279.6 295.6L280 295.8L280.3 295.9L281.1 296.1L281.8 296.5L281.9 296.5L282.6 296.9L283.2 297.3L283.3 297.3L284 297.8L284.3 298L284.8 298.4L285.2 298.7L285.5 299L286 299.5L286.3 299.8L286.7 300.2L287 300.6L287.3 301L287.7 301.5L287.9 301.7L288.5 302.5L288.5 302.5L289 303.2L289.2 303.6L289.4 304L289.8 304.7L290 304.9L290.2 305.5L290.6 306.2L290.7 306.4L290.9 307L291.3 307.7L291.4 308.2L291.5 308.4L291.8 309.2L292.1 309.9L292.2 310.3L292.3 310.7L292.5 311.4L292.7 312.2L292.9 312.9L292.9 313L293.1 313.7L293.2 314.4L293.4 315.2L293.5 315.9L293.6 316.6L293.7 317.3L293.7 317.4L293.8 318.1L293.8 318.9L293.9 319.6L293.9 320.4L294 321.1L294 321.9L294 322.6L294 323.4L294 324.1L293.9 324.9L293.9 325.6L293.8 326.3L293.7 327.1L293.7 327.8L293.7 327.8L293.6 328.6L293.5 329.3L293.3 330.1L293.2 330.8L293 331.6L292.9 332.1L292.9 332.3L292.7 333.1L292.5 333.8L292.3 334.5L292.2 335L292.1 335.3L291.9 336L291.6 336.8L291.4 337.3L291.3 337.5L291.1 338.3L290.8 339L290.7 339.2L290.5 339.8L290.1 340.5L290 340.9L289.8 341.3L289.4 342L289.2 342.5L289.1 342.8L288.7 343.5L288.5 343.9L288.3 344.2L287.9 345L287.7 345.2L287.4 345.7L287 346.5L287 346.5L286.5 347.2L286.3 347.7L286 348L285.5 348.7L285.5 348.8L285 349.5L284.8 349.8L284.5 350.2L284 350.8L283.9 351L283.4 351.7L283.3 351.8L282.8 352.4L282.6 352.7L282.2 353.2L281.8 353.6L281.5 353.9L281.1 354.4L280.8 354.7L280.3 355.2L280.1 355.4L279.6 356L279.4 356.2L278.8 356.7L278.5 356.9L278.1 357.3L277.7 357.7L277.4 357.9L276.8 358.4L276.6 358.5L275.9 359L275.7 359.2L275.1 359.5L274.5 359.9L274.4 360L273.7 360.4L273 360.7L272.9 360.7L272.2 361L271.4 361.2L270.7 361.3L270.1 361.4L270 361.4L269.2 361.4L268.5 361.4L268.5 361.4L267.7 361.3L267 361.1L266.3 360.8L265.9 360.7L265.5 360.5L264.8 360.1L264.5 359.9L264 359.6L263.4 359.2L263.3 359.1L262.6 358.4L262.6 358.4L261.9 357.7L261.8 357.6L261.3 356.9L261.1 356.7L260.7 356.2L260.3 355.5L260.3 355.4L259.8 354.7L259.6 354.2L259.5 353.9L259.1 353.2L258.8 352.7L258.8 352.4L258.4 351.7L258.2 351L258.1 350.8L257.9 350.2L257.7 349.5L257.5 348.7L257.4 348.4L257.3 348L257.1 347.2L257 346.5L256.8 345.7L256.7 345L256.6 344.2L256.6 344L256.6 343.5L256.5 342.8L256.5 342L256.5 341.3L256.5 340.5L256.5 339.8L256.6 339L256.6 338.3L256.6 338.2L256.7 337.5L256.7 336.8L256.8 336L256.9 335.3L257 334.5L257.1 333.8L257.2 333.1L257.4 332.3L257.4 332.3L257.5 331.6L257.6 330.8L257.7 330.1L257.8 329.3L257.9 328.6L258 327.8L258.1 327.4L258.1 327.1L258.3 326.3L258.4 325.6L258.4 324.9L258.5 324.1L258.6 323.4L258.7 322.6L258.8 321.9L258.8 321.8L258.9 321.1L259 320.4L259.1 319.6L259.2 318.9L259.3 318.1L259.5 317.4L259.6 316.6L259.6 316.6L259.7 315.9L259.8 315.2L260 314.4L260.1 313.7L260.3 312.9L260.3 312.9L260.5 312.2L260.7 311.4L260.9 310.7L261.1 310L261.1 309.9L261.3 309.2L261.6 308.4L261.8 307.8L261.8 307.7L262.1 307L262.4 306.2L262.6 305.9L262.7 305.5L263.1 304.7L263.3 304.3L263.5 304L263.9 303.2L264 302.9L264.3 302.5L264.8 301.7L264.8 301.7L265.3 301L265.5 300.7L265.9 300.2L266.3 299.8L266.5 299.5L267 299L267.2 298.7L267.7 298.3L268.1 298L268.5 297.7L269.1 297.3L269.2 297.1L270 296.7L270.3 296.5L270.7 296.3L271.4 296L272 295.8L272.2 295.7ZM275.8 301L275.1 301.1L274.4 301.2L273.7 301.5L273 301.7L272.9 301.8L272.2 302.1L271.6 302.5L271.4 302.6L270.7 303.1L270.6 303.2L270 303.7L269.7 304L269.2 304.5L269 304.7L268.5 305.3L268.4 305.5L267.8 306.2L267.7 306.3L267.3 307L267 307.4L266.8 307.7L266.4 308.4L266.3 308.8L266 309.2L265.7 309.9L265.5 310.4L265.4 310.7L265.1 311.4L264.8 312.2L264.8 312.3L264.6 312.9L264.3 313.7L264.1 314.4L264 314.7L263.9 315.2L263.7 315.9L263.6 316.6L263.4 317.4L263.3 317.9L263.3 318.1L263.1 318.9L263 319.6L262.9 320.4L262.7 321.1L262.6 321.9L262.6 322.5L262.5 322.6L262.4 323.4L262.3 324.1L262.2 324.9L262.1 325.6L262 326.3L261.9 327.1L261.8 327.5L261.8 327.8L261.6 328.6L261.5 329.3L261.4 330.1L261.2 330.8L261.1 331.6L261.1 331.7L261 332.3L260.8 333.1L260.7 333.8L260.6 334.5L260.4 335.3L260.3 336L260.3 336L260.2 336.8L260.1 337.5L260.1 338.3L260 339L260 339.8L260 340.5L260 341.3L260 342L260.1 342.8L260.2 343.5L260.3 344.2L260.3 344.5L260.4 345L260.6 345.7L260.8 346.5L261.1 347.2L261.1 347.2L261.4 348L261.8 348.7L261.8 348.8L262.2 349.5L262.6 350L262.7 350.2L263.3 351L263.3 351L264 351.7L264 351.8L264.8 352.4L264.8 352.4L265.5 352.9L265.9 353.2L266.3 353.4L267 353.7L267.7 353.9L267.7 353.9L268.5 354.1L269.2 354.2L270 354.2L270.7 354.2L271.4 354.1L272.1 353.9L272.2 353.9L272.9 353.7L273.7 353.4L274.1 353.2L274.4 353L275.1 352.6L275.4 352.4L275.9 352.2L276.5 351.7L276.6 351.6L277.4 351.1L277.5 351L278.1 350.4L278.3 350.2L278.8 349.7L279.1 349.5L279.6 349L279.8 348.7L280.3 348.2L280.5 348L281.1 347.3L281.1 347.2L281.7 346.5L281.8 346.3L282.3 345.7L282.6 345.4L282.8 345L283.3 344.3L283.3 344.2L283.8 343.5L284 343.2L284.3 342.8L284.8 342L284.8 342L285.2 341.3L285.5 340.7L285.6 340.5L286 339.8L286.3 339.3L286.4 339L286.8 338.3L287 337.8L287.1 337.5L287.4 336.8L287.7 336L287.7 336L288 335.3L288.3 334.5L288.5 334L288.6 333.8L288.8 333.1L289 332.3L289.2 331.6L289.2 331.6L289.4 330.8L289.6 330.1L289.7 329.3L289.9 328.6L290 328L290 327.8L290.1 327.1L290.2 326.3L290.3 325.6L290.3 324.9L290.4 324.1L290.4 323.4L290.4 322.6L290.4 321.9L290.4 321.1L290.3 320.4L290.3 319.6L290.2 318.9L290.1 318.1L290 317.4L290 317L289.9 316.6L289.8 315.9L289.6 315.2L289.4 314.4L289.2 313.7L289.2 313.6L289 312.9L288.8 312.2L288.5 311.4L288.5 311.4L288.2 310.7L287.9 309.9L287.7 309.6L287.5 309.2L287.1 308.4L287 308.2L286.7 307.7L286.3 307L286.2 307L285.7 306.2L285.5 305.9L285.1 305.5L284.8 305L284.5 304.7L284 304.2L283.7 304L283.3 303.6L282.9 303.2L282.6 303L281.8 302.5L281.8 302.5L281.1 302L280.4 301.7L280.3 301.7L279.6 301.4L278.8 301.2L278.1 301L277.6 301L277.4 301L276.6 300.9L275.9 301L275.8 301ZM322.6 327.1L323.3 326.9L324 326.9L324.8 326.8L325.5 326.9L326.3 327L326.9 327.1L327 327.1L327 327.8L327 328.6L327 329.3L327 330.1L327 330.8L327 331.6L327 332.3L327 333L326.3 332.9L325.5 332.8L324.8 332.8L324 332.8L323.3 332.9L322.8 333.1L322.6 333.1L321.8 333.4L321.1 333.8L321 333.8L320.3 334.2L319.8 334.5L319.6 334.7L318.9 335.3L318.9 335.3L318.1 336L318.1 336.1L317.5 336.8L317.4 336.9L316.9 337.5L316.6 337.9L316.4 338.3L315.9 339L315.9 339.1L315.5 339.8L315.1 340.4L315.1 340.5L314.8 341.3L314.4 342L314.4 342.1L314.2 342.8L313.9 343.5L313.7 344.2L313.7 344.2L313.4 345L313.3 345.7L313.1 346.5L312.9 347.2L312.9 347.3L312.8 348L312.7 348.7L312.6 349.5L312.5 350.2L312.5 351L312.4 351.7L312.4 352.4L312.4 353.2L312.4 353.9L312.5 354.7L312.5 355.4L312.6 356.2L312.7 356.9L312.8 357.7L312.9 358.4L312.9 358.6L313 359.2L313.2 359.9L313.4 360.7L313.6 361.4L313.7 361.7L313.8 362.1L314.1 362.9L314.3 363.6L314.4 363.8L314.6 364.4L315 365.1L315.1 365.5L315.4 365.9L315.8 366.6L315.9 366.8L316.2 367.4L316.6 368L316.7 368.1L317.3 368.9L317.4 369L317.9 369.6L318.1 369.8L318.7 370.3L318.9 370.5L319.5 371.1L319.6 371.1L320.3 371.7L320.6 371.8L321.1 372.1L321.8 372.4L322.2 372.6L322.6 372.7L323.3 372.9L324 373L324.8 373.1L325.5 373.1L326.3 373L327 372.8L327 373.3L327 374.1L327 374.8L327 375.6L327 376.3L327 377.1L327 377.8L327 378.6L327 378.6L326.3 378.7L325.5 378.8L324.8 378.8L324 378.7L323.3 378.6L322.8 378.6L322.6 378.5L321.8 378.3L321.1 378L320.6 377.8L320.3 377.7L319.6 377.3L319.2 377.1L318.9 376.8L318.1 376.3L318.1 376.3L317.4 375.7L317.2 375.6L316.6 375L316.4 374.8L315.9 374.3L315.7 374.1L315.1 373.4L315.1 373.3L314.5 372.6L314.4 372.4L314 371.8L313.7 371.3L313.5 371.1L313.1 370.3L312.9 370.1L312.7 369.6L312.3 368.9L312.2 368.7L311.9 368.1L311.6 367.4L311.4 367L311.3 366.6L311 365.9L310.8 365.1L310.7 364.9L310.5 364.4L310.3 363.6L310.1 362.9L310 362.4L309.9 362.1L309.7 361.4L309.6 360.7L309.4 359.9L309.3 359.2L309.2 358.5L309.2 358.4L309.1 357.7L309 356.9L309 356.2L308.9 355.4L308.9 354.7L308.8 353.9L308.8 353.2L308.8 352.4L308.8 351.7L308.9 351L308.9 350.2L309 349.5L309 348.7L309.1 348L309.2 347.2L309.2 347.2L309.3 346.5L309.5 345.7L309.6 345L309.7 344.2L309.9 343.5L310 343.4L310.1 342.8L310.3 342L310.5 341.3L310.7 340.8L310.8 340.5L311.1 339.8L311.3 339L311.4 338.8L311.7 338.3L312 337.5L312.2 337.1L312.3 336.8L312.7 336L312.9 335.7L313.1 335.3L313.6 334.5L313.7 334.4L314.1 333.8L314.4 333.3L314.6 333.1L315.1 332.3L315.1 332.3L315.8 331.6L315.9 331.4L316.4 330.8L316.6 330.6L317.2 330.1L317.4 329.9L318.1 329.3L318.1 329.3L318.9 328.8L319.1 328.6L319.6 328.3L320.3 327.9L320.4 327.8L321.1 327.5L321.8 327.3L322.5 327.1L322.6 327.1ZM147.7 338.8L148.5 338.6L148.9 339L149.2 339.4L149.4 339.8L149.7 340.5L149.9 341.2L150 341.3L150.1 342L150.3 342.8L150.5 343.5L150.7 344.2L150.7 344.3L150.8 345L150.9 345.7L151.1 346.5L151.2 347.2L151.3 348L151.4 348.7L151.4 349.5L151.4 349.5L151.5 350.2L151.6 351L151.6 351.7L151.6 352.4L151.7 353.2L151.7 353.9L151.7 354.7L151.7 355.4L151.7 356.2L151.7 356.9L151.7 357.7L151.6 358.4L151.6 359.2L151.6 359.9L151.5 360.7L151.4 361.3L151.4 361.4L151.3 362.1L151.2 362.9L151.1 363.6L151 364.4L150.8 365.1L150.7 365.8L150.7 365.9L150.5 366.6L150.2 367.4L150 368.1L149.9 368.2L149.6 368.9L149.2 369.6L149.2 369.6L148.5 370.3L148.5 370.4L147.7 370.6L147 370.4L146.9 370.3L146.2 369.6L146.2 369.6L145.8 368.9L145.5 368.3L145.4 368.1L145.1 367.4L144.9 366.6L144.8 366.2L144.7 365.9L144.5 365.1L144.3 364.4L144.2 363.6L144.1 362.9L144 362.5L144 362.1L143.9 361.4L143.8 360.7L143.8 359.9L143.7 359.2L143.7 358.4L143.7 357.7L143.7 356.9L143.7 356.2L143.7 355.4L143.7 354.7L143.7 353.9L143.8 353.2L143.9 352.4L143.9 351.7L144 351L144 350.9L144.1 350.2L144.2 349.5L144.4 348.7L144.5 348L144.6 347.2L144.8 346.6L144.8 346.5L145 345.7L145.2 345L145.4 344.2L145.5 343.7L145.6 343.5L145.8 342.8L146.1 342L146.2 341.5L146.4 341.3L146.7 340.5L147 339.9L147.1 339.8L147.6 339L147.7 338.8ZM188.5 345.5L189.2 345.2L190 345.1L190.7 345.2L191.4 345.4L191.9 345.7L192.2 345.9L192.7 346.5L192.9 346.7L193.3 347.2L193.7 347.7L193.8 348L194.2 348.7L194.4 349.1L194.5 349.5L194.8 350.2L195.1 351L195.1 351.1L195.3 351.7L195.5 352.4L195.7 353.2L195.8 353.9L195.9 354.3L195.9 354.7L196 355.4L196.1 356.2L196.2 356.9L196.2 357.7L196.2 358.4L196.2 359.2L196.1 359.9L196.1 360.7L196 361.4L195.9 362.1L195.9 362.3L195.8 362.9L195.6 363.6L195.4 364.4L195.2 365.1L195.1 365.3L194.9 365.9L194.6 366.6L194.4 367.1L194.3 367.4L193.9 368.1L193.7 368.4L193.4 368.9L192.9 369.4L192.7 369.6L192.2 370.2L191.9 370.3L191.4 370.7L190.7 371.1L190.7 371.1L190 371.3L189.2 371.4L188.5 371.3L187.9 371.1L187.7 371L187 370.6L186.7 370.3L186.2 370L185.9 369.6L185.5 369.1L185.3 368.9L184.9 368.1L184.8 367.9L184.5 367.4L184.2 366.6L184 366.2L183.9 365.9L183.7 365.1L183.5 364.4L183.4 363.6L183.3 363.2L183.2 362.9L183.1 362.1L183.1 361.4L183 360.7L183 359.9L183 359.2L183 358.4L183 357.7L183.1 356.9L183.2 356.2L183.3 355.4L183.3 355.3L183.4 354.7L183.5 353.9L183.7 353.2L183.9 352.4L184 352.1L184.2 351.7L184.4 351L184.7 350.2L184.8 350.1L185.1 349.5L185.5 348.7L185.5 348.7L186 348L186.2 347.6L186.5 347.2L187 346.7L187.2 346.5L187.7 346L188.2 345.7L188.5 345.5ZM252.2 361.3L252.9 361L253.7 360.8L254.4 360.7L255.1 360.7L255.9 360.8L256.6 361L257.4 361.3L257.4 361.4L258.1 361.9L258.4 362.1L258.8 362.8L258.9 362.9L259.3 363.6L259.6 364.3L259.6 364.4L259.8 365.1L260 365.9L260 366.6L260 367.4L260 368.1L259.9 368.9L259.7 369.6L259.6 369.9L259.4 370.3L259.1 371.1L258.8 371.6L258.7 371.8L258.2 372.6L258.1 372.7L257.5 373.3L257.4 373.5L256.6 374L256.5 374.1L255.9 374.4L255.1 374.7L254.4 374.8L253.7 374.8L252.9 374.7L252.2 374.5L251.4 374.1L251.4 374.1L250.7 373.5L250.5 373.3L250 372.8L249.8 372.6L249.4 371.8L249.2 371.6L249 371.1L248.7 370.3L248.6 369.6L248.5 369L248.5 368.9L248.4 368.1L248.4 367.4L248.5 367.1L248.5 366.6L248.7 365.9L248.9 365.1L249.2 364.5L249.3 364.4L249.7 363.6L250 363.2L250.2 362.9L250.7 362.4L251 362.1L251.4 361.8L252 361.4L252.2 361.3ZM253.4 363.6L252.9 363.7L252.2 364L251.7 364.4L251.4 364.7L251.1 365.1L250.7 365.7L250.6 365.9L250.4 366.6L250.2 367.4L250.2 368.1L250.3 368.9L250.4 369.6L250.7 370.2L250.7 370.3L251.3 371.1L251.4 371.3L252.2 371.8L252.2 371.8L252.9 372.1L253.7 372.2L254.4 372.1L255 371.8L255.1 371.7L255.9 371.1L255.9 371.1L256.4 370.3L256.6 370L256.8 369.6L257 368.9L257.1 368.1L257.1 367.4L257 366.6L256.7 365.9L256.6 365.6L256.4 365.1L255.9 364.5L255.7 364.4L255.1 364L254.4 363.7L254.1 363.6L253.7 363.6L253.4 363.6Z" fill="#9ccbe3" stroke="#9ccbe3" stroke-width="0.6"/>
<path d="M318.1 165.2L318.9 165L319.6 164.9L320.3 164.9L321.1 165L321.8 165.1L322.2 165.2L322.6 165.4L323.3 165.7L324 166L324 166L324.8 166.5L325.1 166.7L325.5 167L326.1 167.5L326.3 167.6L326.9 168.2L327 168.4L327 169L327 169.7L327 170.5L327 171.2L327 172L327 172.7L327 173.4L327 174.2L327 174.9L327 175.7L327 176.4L327 177.2L327 177.9L327 178.7L327 179.4L327 180.2L327 180.9L327 181.7L327 182.4L327 183.1L327 183.9L327 184.6L327 185.4L327 186.1L327 186.9L327 187.6L327 188.4L327 189.1L327 189.9L327 190.6L327 191.3L327 192.1L327 192.8L327 193.6L327 194.3L327 195.1L327 195.8L327 196.6L327 197.3L327 198.1L327 198.2L327 198.1L326.9 197.3L326.7 196.6L326.6 195.8L326.4 195.1L326.3 194.3L326.3 194.3L326.1 193.6L325.9 192.8L325.6 192.1L325.5 191.8L325.4 191.3L325.1 190.6L324.8 189.9L324.8 189.9L324.4 189.1L324 188.5L324 188.4L323.5 187.6L323.3 187.4L322.8 186.9L322.6 186.6L321.9 186.1L321.8 186L321.1 185.7L320.3 185.5L319.6 185.5L318.9 185.7L318.1 186.1L318 186.1L317.4 186.7L317.2 186.9L316.6 187.5L316.5 187.6L316 188.4L315.9 188.6L315.6 189.1L315.2 189.9L315.1 190.1L314.9 190.6L314.6 191.3L314.4 192L314.4 192.1L314.1 192.8L313.9 193.6L313.7 194.3L313.7 194.7L313.6 195.1L313.4 195.8L313.3 196.6L313.1 197.3L313 198.1L312.9 198.7L312.9 198.8L312.8 199.6L312.7 200.3L312.6 201L312.6 201.8L312.5 202.5L312.4 203.3L312.3 204L312.3 204.8L312.2 205.5L312.2 205.9L312.2 206.3L312.1 207L312 207.8L312 208.5L311.9 209.2L311.9 210L311.8 210.7L311.8 211.5L311.7 212.2L311.6 213L311.6 213.7L311.5 214.5L311.4 215.1L311.4 215.2L311.4 216L311.3 216.7L311.2 217.5L311.1 218.2L311.1 218.9L311 219.7L310.9 220.4L310.8 221.2L310.7 221.9L310.7 222.3L310.7 222.7L310.6 223.4L310.5 224.2L310.4 224.9L310.3 225.7L310.2 226.4L310.2 227.1L310.1 227.9L310 228.6L310 229L309.9 229.4L309.8 230.1L309.8 230.9L309.7 231.6L309.6 232.4L309.6 233.1L309.5 233.9L309.4 234.6L309.4 235.4L309.3 236.1L309.2 236.8L309.2 237.1L309.2 237.6L309.1 238.3L309.1 239.1L309 239.8L309 240.6L308.9 241.3L308.9 242.1L308.9 242.8L308.8 243.6L308.8 244.3L308.8 245L308.8 245.8L308.7 246.5L308.7 247.3L308.7 248L308.7 248.8L308.7 249.5L308.7 250.3L308.7 251L308.7 251.8L308.7 252.5L308.7 253.3L308.7 254L308.7 254.7L308.7 255.5L308.7 256.2L308.8 257L308.8 257.7L308.8 258.5L308.9 259.2L308.9 260L309 260.7L309 261.5L309.1 262.2L309.1 262.9L309.2 263.7L309.2 264L309.3 264.4L309.3 265.2L309.4 265.9L309.5 266.7L309.6 267.4L309.7 268.2L309.8 268.9L309.9 269.7L310 270L310 270.4L310.2 271.2L310.3 271.9L310.4 272.6L310.6 273.4L310.7 274L310.7 274.1L310.9 274.9L311.1 275.6L311.3 276.4L311.4 277.1L311.5 277.1L311.7 277.9L311.9 278.6L312.1 279.4L312.2 279.6L312.4 280.1L312.6 280.8L312.9 281.6L312.9 281.6L313.2 282.3L313.5 283.1L313.7 283.4L313.9 283.8L314.3 284.6L314.4 284.8L314.7 285.3L315.1 286.1L315.2 286.1L315.7 286.8L315.9 287.1L316.3 287.6L316.6 287.9L317.1 288.3L317.4 288.6L318.1 289L318.1 289.1L318.9 289.4L319.6 289.5L320.3 289.5L321.1 289.4L321.8 289.1L321.9 289.1L322.6 288.6L322.9 288.3L323.3 288L323.7 287.6L324 287.2L324.3 286.8L324.8 286.2L324.8 286.1L325.3 285.3L325.5 285L325.7 284.6L326.1 283.8L326.3 283.5L326.5 283.1L326.8 282.3L327 281.8L327 282.3L327 283.1L327 283.8L327 284.6L327 285.3L327 286.1L327 286.8L327 287.6L327 288.3L327 289.1L327 289.8L327 290.5L327 291.3L327 292L327 292.8L327 293.5L327 294.3L327 295L327 295.8L327 296.5L327 297.3L327 298L327 298.7L327 299.5L327 300.2L327 301L327 301.6L326.9 301.7L326.5 302.5L326.3 302.9L326.1 303.2L325.6 304L325.5 304.2L325.2 304.7L324.8 305.3L324.6 305.5L324.1 306.2L324 306.3L323.5 307L323.3 307.2L322.8 307.7L322.6 308L321.9 308.4L321.8 308.5L321.1 308.8L320.3 308.8L319.6 308.5L319.5 308.4L318.9 308.1L318.3 307.7L318.1 307.5L317.5 307L317.4 306.9L316.7 306.2L316.6 306.1L316 305.5L315.9 305.3L315.4 304.7L315.1 304.4L314.8 304L314.4 303.4L314.3 303.2L313.7 302.5L313.7 302.4L313.3 301.7L312.9 301.2L312.8 301L312.4 300.2L312.2 299.9L312 299.5L311.6 298.7L311.4 298.4L311.2 298L310.9 297.3L310.7 296.9L310.6 296.5L310.2 295.8L310 295.1L309.9 295L309.6 294.3L309.4 293.5L309.2 293.1L309.1 292.8L308.9 292L308.6 291.3L308.5 290.8L308.4 290.5L308.2 289.8L308 289.1L307.8 288.3L307.7 288.2L307.6 287.6L307.4 286.8L307.2 286.1L307 285.3L307 285.1L306.9 284.6L306.7 283.8L306.6 283.1L306.4 282.3L306.3 281.6L306.3 281.2L306.2 280.8L306.1 280.1L306 279.4L305.9 278.6L305.8 277.9L305.7 277.1L305.6 276.4L305.5 275.7L305.5 275.6L305.4 274.9L305.4 274.1L305.3 273.4L305.2 272.6L305.2 271.9L305.1 271.2L305.1 270.4L305 269.7L305 268.9L305 268.2L304.9 267.4L304.9 266.7L304.9 265.9L304.9 265.2L304.9 264.4L304.8 263.7L304.8 262.9L304.8 262.2L304.8 261.5L304.8 260.7L304.8 260L304.8 259.2L304.8 258.5L304.8 257.7L304.8 257L304.8 256.2L304.8 255.5L304.8 254.7L304.8 254L304.8 253.3L304.8 252.5L304.8 251.8L304.8 251L304.8 250.3L304.8 249.5L304.8 248.8L304.8 248L304.8 247.3L304.8 246.5L304.8 245.8L304.8 245L304.8 244.3L304.8 243.6L304.8 242.8L304.8 242.1L304.8 241.3L304.8 240.6L304.8 239.8L304.8 239.1L304.8 238.3L304.8 237.6L304.8 236.8L304.8 236.1L304.8 235.4L304.8 234.6L304.8 233.9L304.8 233.1L304.8 232.4L304.8 231.6L304.8 230.9L304.8 230.1L304.8 229.4L304.8 228.6L304.8 227.9L304.8 227.1L304.8 226.4L304.8 225.7L304.8 224.9L304.8 224.2L304.8 223.4L304.8 223L304.8 222.7L304.8 221.9L304.7 221.2L304.7 220.4L304.7 219.7L304.7 218.9L304.7 218.2L304.7 217.5L304.6 216.7L304.6 216L304.6 215.2L304.6 214.5L304.5 213.7L304.5 213L304.5 212.2L304.5 211.5L304.4 210.7L304.4 210L304.4 209.2L304.4 208.5L304.3 207.8L304.3 207L304.3 206.3L304.3 205.5L304.3 204.8L304.2 204L304.2 203.3L304.2 202.5L304.2 201.8L304.2 201L304.2 200.3L304.2 199.6L304.2 198.8L304.3 198.1L304.3 197.3L304.3 196.6L304.3 195.8L304.4 195.1L304.4 194.3L304.5 193.6L304.5 192.8L304.6 192.1L304.7 191.3L304.7 190.6L304.8 190.4L304.8 189.9L304.9 189.1L305 188.4L305.1 187.6L305.3 186.9L305.4 186.1L305.5 185.4L305.5 185.4L305.7 184.6L305.8 183.9L306 183.1L306.2 182.4L306.3 182.1L306.4 181.7L306.6 180.9L306.8 180.2L307 179.5L307 179.4L307.3 178.7L307.5 177.9L307.7 177.3L307.8 177.2L308.1 176.4L308.4 175.7L308.5 175.5L308.7 174.9L309.1 174.2L309.2 173.9L309.5 173.4L309.9 172.7L310 172.5L310.3 172L310.7 171.3L310.8 171.2L311.3 170.5L311.4 170.2L311.8 169.7L312.2 169.3L312.4 169L312.9 168.4L313.1 168.2L313.7 167.7L313.9 167.5L314.4 167.1L314.9 166.7L315.1 166.5L315.9 166.1L316 166L316.6 165.7L317.4 165.4L317.8 165.2L318.1 165.2ZM241.8 224.9L242.5 224.7L243.3 224.6L244 224.5L244.8 224.5L245.5 224.6L246.3 224.9L246.4 224.9L247 225.2L247.7 225.6L247.8 225.7L248.5 226.2L248.7 226.4L249.2 226.9L249.4 227.1L250 227.8L250 227.9L250.6 228.6L250.7 228.8L251.1 229.4L251.4 229.9L251.6 230.1L252.1 230.9L252.2 231.1L252.5 231.6L252.9 232.2L253 232.4L253.5 233.1L253.7 233.4L253.9 233.9L254.4 234.6L254.4 234.6L254.9 235.4L255.1 235.8L255.4 236.1L255.8 236.8L255.9 236.9L256.3 237.6L256.6 238.1L256.8 238.3L257.3 239.1L257.4 239.2L257.7 239.8L258.1 240.4L258.2 240.6L258.6 241.3L258.8 241.7L259 242.1L259.4 242.8L259.6 243.1L259.8 243.6L260.1 244.3L260.3 244.8L260.4 245L260.7 245.8L261 246.5L261.1 246.9L261.2 247.3L261.4 248L261.6 248.8L261.7 249.5L261.8 249.9L261.9 250.3L262 251L262.1 251.8L262.2 252.5L262.3 253.3L262.4 254L262.5 254.7L262.6 254.9L262.6 255.5L262.7 256.2L262.8 257L262.8 257.7L262.9 258.5L262.9 259.2L263 260L263.1 260.7L263.1 261.5L263.2 262.2L263.2 262.9L263.2 263.7L263.3 264.4L263.3 264.5L263.3 265.2L263.4 265.9L263.4 266.7L263.4 267.4L263.5 268.2L263.5 268.9L263.5 269.7L263.5 270.4L263.6 271.2L263.6 271.9L263.6 272.6L263.6 273.4L263.6 274.1L263.6 274.9L263.6 275.6L263.7 276.4L263.7 277.1L263.7 277.9L263.7 278.6L263.8 279.4L263.8 280.1L263.9 280.8L264 281.4L264.1 281.6L264.3 282.3L264.5 283.1L264.8 283.6L265 283.8L265.5 284.5L265.7 284.6L266.3 285L267 285.3L267 285.3L267.7 285.6L268.5 285.8L269.2 285.9L270 286.1L270 286.1L270.7 286.2L271.4 286.3L272.2 286.4L272.9 286.5L273.7 286.6L274.4 286.7L274.9 286.8L275.1 286.9L275.9 287L276.6 287.1L277.4 287.3L278.1 287.4L278.6 287.6L278.8 287.6L279.6 287.8L280.3 288L281.1 288.2L281.3 288.3L281.8 288.5L282.6 288.7L283.3 289L283.4 289.1L284 289.3L284.8 289.7L285.1 289.8L285.5 290L286.3 290.4L286.4 290.5L287 290.9L287.6 291.3L287.7 291.4L288.5 291.9L288.6 292L289.2 292.5L289.5 292.8L290 293.2L290.3 293.5L290.7 293.9L291.1 294.3L291.4 294.7L291.7 295L292.2 295.6L292.3 295.8L292.9 296.5L292.9 296.6L293.4 297.3L293.7 297.7L293.8 298L294.3 298.7L294.4 299L294.7 299.5L295.1 300.2L295.1 300.3L295.5 301L295.8 301.7L295.9 301.9L296.1 302.5L296.4 303.2L296.6 303.7L296.7 304L297 304.7L297.3 305.5L297.4 305.8L297.5 306.2L297.8 307L298 307.7L298.1 308.2L298.2 308.4L298.4 309.2L298.5 309.9L298.7 310.7L298.8 311.4L298.9 311.4L299 312.2L299.2 312.9L299.3 313.7L299.4 314.4L299.5 315.2L299.6 315.7L299.6 315.9L299.7 316.6L299.8 317.4L299.9 318.1L300 318.9L300 319.6L300.1 320.4L300.1 321.1L300.2 321.9L300.2 322.6L300.2 323.4L300.3 324.1L300.3 324.9L300.3 325.6L300.3 326.3L300.3 327.1L300.3 327.8L300.3 328.6L300.2 329.3L300.2 330.1L300.2 330.8L300.1 331.6L300 332.3L300 333.1L299.9 333.8L299.8 334.5L299.6 335.3L299.6 335.4L299.5 336L299.3 336.8L299.2 337.5L298.9 338.3L298.8 338.5L298.7 339L298.5 339.8L298.2 340.5L298.1 340.7L297.9 341.3L297.6 342L297.4 342.5L297.3 342.8L296.9 343.5L296.6 344.1L296.6 344.2L296.2 345L295.9 345.6L295.8 345.7L295.4 346.5L295.1 347L295 347.2L294.7 348L294.4 348.4L294.2 348.7L293.8 349.5L293.7 349.7L293.4 350.2L293 351L292.9 351.1L292.6 351.7L292.2 352.3L292.1 352.4L291.7 353.2L291.4 353.6L291.3 353.9L290.8 354.7L290.7 354.9L290.4 355.4L290 356.1L289.9 356.2L289.5 356.9L289.2 357.4L289.1 357.7L288.6 358.4L288.5 358.7L288.2 359.2L287.8 359.9L287.7 360L287.4 360.7L287 361.3L287 361.4L286.5 362.1L286.3 362.7L286.1 362.9L285.7 363.6L285.5 364L285.3 364.4L284.8 365.1L284.8 365.2L284.3 365.9L284 366.2L283.7 366.6L283.3 367.1L283 367.4L282.6 367.7L282.1 368.1L281.8 368.3L281.1 368.8L281 368.9L280.3 369.3L279.8 369.6L279.6 369.7L278.8 370.1L278.5 370.3L278.1 370.6L277.4 371.1L277.4 371.1L276.6 371.6L276.4 371.8L275.9 372.2L275.5 372.6L275.1 372.9L274.7 373.3L274.4 373.7L274.1 374.1L273.7 374.6L273.5 374.8L273 375.6L272.9 375.8L272.6 376.3L272.3 377.1L272.2 377.4L272 377.8L271.8 378.6L271.6 379.3L271.5 380L271.4 380.6L271.4 380.8L271.4 381.5L271.4 382.3L271.4 383L271.4 383.1L271.5 383.8L271.6 384.5L271.7 385.3L271.8 386L271.9 386.8L272 387.5L271.4 387.5L270.7 387.5L270 387.5L269.2 387.5L268.5 387.5L267.7 387.5L267 387.5L266.3 387.5L265.5 387.5L264.8 387.5L264 387.5L263.3 387.5L262.6 387.5L261.8 387.5L261.8 387.5L261.4 386.8L261.1 386.2L261 386L260.6 385.3L260.3 384.7L260.2 384.5L259.9 383.8L259.6 383.3L259.5 383L259 382.3L258.8 382L258.5 381.5L258.1 381.1L257.7 380.8L257.4 380.5L256.6 380.1L256.5 380L255.9 379.8L255.1 379.5L254.6 379.3L254.4 379.2L253.7 379L252.9 378.6L252.8 378.6L252.2 378.3L251.5 377.8L251.4 377.8L250.7 377.3L250.4 377.1L250 376.6L249.6 376.3L249.2 375.9L249 375.6L248.5 374.9L248.4 374.8L247.9 374.1L247.7 373.7L247.6 373.3L247.2 372.6L247 371.9L247 371.8L246.8 371.1L246.6 370.3L246.5 369.6L246.4 368.9L246.4 368.1L246.4 367.4L246.5 366.6L246.6 365.9L246.8 365.1L247 364.4L247 364.4L247.3 363.6L247.6 362.9L247.7 362.6L248 362.1L248.4 361.4L248.5 361.3L248.9 360.7L249.2 360.2L249.4 359.9L250 359.3L250.1 359.2L250.7 358.4L250.7 358.4L251.4 357.7L251.4 357.6L252 356.9L252.2 356.6L252.4 356.2L252.8 355.4L252.9 354.8L252.9 354.7L253 353.9L253.1 353.2L253 352.4L253 351.7L252.9 351.3L252.9 351L252.8 350.2L252.7 349.5L252.6 348.7L252.6 348L252.5 347.2L252.4 346.5L252.4 345.7L252.3 345L252.3 344.2L252.3 343.5L252.3 342.8L252.3 342L252.3 341.3L252.3 340.5L252.3 339.8L252.3 339L252.4 338.3L252.4 337.5L252.5 336.8L252.5 336L252.6 335.3L252.7 334.5L252.7 333.8L252.8 333.1L252.9 332.3L252.9 332L253 331.6L253 330.8L253.1 330.1L253.2 329.3L253.3 328.6L253.3 327.8L253.4 327.1L253.5 326.3L253.5 325.6L253.6 324.9L253.7 324.2L253.7 324.1L253.7 323.4L253.8 322.6L253.9 321.9L253.9 321.1L254 320.4L254 319.6L254.1 318.9L254.2 318.1L254.2 317.4L254.3 316.6L254.4 315.9L254.4 315.8L254.5 315.2L254.5 314.4L254.6 313.7L254.7 312.9L254.8 312.2L254.9 311.4L255 310.7L255.1 309.9L255.1 309.4L255.2 309.2L255.3 308.4L255.4 307.7L255.5 307L255.6 306.2L255.7 305.5L255.8 304.7L255.9 304.1L255.9 304L256 303.2L256.1 302.5L256.2 301.7L256.3 301L256.4 300.2L256.5 299.5L256.5 298.7L256.6 298L256.6 297.3L256.6 297.3L256.6 296.5L256.6 296.3L256.6 295.8L256.5 295L256.4 294.3L256.1 293.5L255.9 293.1L255.7 292.8L255.1 292.1L255.1 292L254.4 291.5L254.1 291.3L253.7 291L252.9 290.7L252.7 290.5L252.2 290.3L251.4 290L251 289.8L250.7 289.7L250 289.4L249.2 289.1L249.1 289.1L248.5 288.8L247.7 288.5L247.4 288.3L247 288.1L246.3 287.8L245.7 287.6L245.5 287.5L244.8 287.1L244.2 286.8L244 286.8L243.3 286.4L242.7 286.1L242.5 286L241.8 285.6L241.4 285.3L241.1 285.1L240.3 284.7L240.2 284.6L239.6 284.1L239.2 283.8L238.8 283.5L238.4 283.1L238.1 282.8L237.7 282.3L237.4 282L237.1 281.6L236.6 281L236.5 280.8L236 280.1L235.9 279.9L235.5 279.4L235.1 278.8L235 278.6L234.5 277.9L234.4 277.7L234 277.1L233.7 276.6L233.5 276.4L233 275.6L232.9 275.5L232.4 274.9L232.2 274.6L231.8 274.1L231.4 273.7L231.2 273.4L230.7 272.8L230.5 272.6L230 272L229.9 271.9L229.3 271.2L229.2 271.1L228.7 270.4L228.5 269.9L228.3 269.7L227.9 268.9L227.7 268.4L227.6 268.2L227.4 267.4L227.1 266.7L227 266.2L226.9 265.9L226.7 265.2L226.6 264.4L226.5 263.7L226.3 262.9L226.3 262.2L226.3 262.2L226.2 261.5L226.1 260.7L226 260L226 259.2L225.9 258.5L225.9 257.7L225.9 257L225.9 256.2L225.9 255.5L226 254.7L226 254L226 253.3L226.1 252.5L226.2 251.8L226.3 251.1L226.3 251L226.4 250.3L226.5 249.5L226.6 248.8L226.7 248L226.9 247.3L227 246.7L227 246.5L227.2 245.8L227.4 245L227.6 244.3L227.7 243.7L227.8 243.6L228 242.8L228.3 242.1L228.5 241.4L228.5 241.3L228.8 240.6L229.1 239.8L229.2 239.5L229.4 239.1L229.7 238.3L230 237.8L230 237.6L230.4 236.8L230.7 236.3L230.8 236.1L231.2 235.4L231.4 234.9L231.6 234.6L232 233.9L232.2 233.6L232.5 233.1L232.9 232.5L233 232.4L233.5 231.6L233.7 231.4L234.1 230.9L234.4 230.4L234.7 230.1L235.1 229.6L235.3 229.4L235.9 228.8L236 228.6L236.6 228L236.8 227.9L237.4 227.4L237.7 227.1L238.1 226.8L238.7 226.4L238.8 226.3L239.6 225.8L239.9 225.7L240.3 225.5L241.1 225.1L241.7 224.9L241.8 224.9ZM241.9 235.4L241.8 235.4L241.1 235.8L240.6 236.1L240.3 236.3L239.6 236.8L239.6 236.9L238.8 237.5L238.8 237.6L238.1 238.3L238.1 238.3L237.5 239.1L237.4 239.3L237 239.8L236.6 240.3L236.5 240.6L236 241.3L235.9 241.5L235.6 242.1L235.2 242.8L235.1 243L234.9 243.6L234.6 244.3L234.4 244.7L234.3 245L234 245.8L233.7 246.5L233.7 246.8L233.5 247.3L233.3 248L233.1 248.8L233 249.5L232.9 249.8L232.8 250.3L232.7 251L232.6 251.8L232.5 252.5L232.4 253.3L232.3 254L232.3 254.7L232.2 255.5L232.2 256.2L232.2 257L232.2 257.7L232.2 258.5L232.3 259.2L232.3 260L232.4 260.7L232.5 261.5L232.6 262.2L232.8 262.9L232.9 263.7L232.9 263.7L233.1 264.4L233.3 265.2L233.5 265.9L233.7 266.5L233.7 266.7L234 267.4L234.3 268.2L234.4 268.4L234.6 268.9L234.9 269.7L235.1 270.1L235.3 270.4L235.7 271.2L235.9 271.5L236.1 271.9L236.6 272.6L236.6 272.7L237.1 273.4L237.4 273.8L237.6 274.1L238.1 274.8L238.2 274.9L238.8 275.6L238.8 275.6L239.6 276.4L239.6 276.4L240.3 277L240.4 277.1L241.1 277.6L241.4 277.9L241.8 278.1L242.5 278.6L242.6 278.6L243.3 279L244 279.3L244.1 279.4L244.8 279.6L245.5 279.9L246.3 280.1L246.4 280.1L247 280.2L247.7 280.3L248.5 280.3L249.2 280.3L250 280.2L250.5 280.1L250.7 280L251.4 279.8L252.2 279.5L252.4 279.4L252.9 279.1L253.5 278.6L253.7 278.5L254.4 277.9L254.4 277.9L255.1 277.1L255.1 277.1L255.7 276.4L255.9 276.1L256.2 275.6L256.6 274.9L256.6 274.8L257 274.1L257.3 273.4L257.4 273.2L257.6 272.6L257.9 271.9L258.1 271.2L258.1 271.1L258.3 270.4L258.5 269.7L258.6 268.9L258.8 268.2L258.8 267.9L258.9 267.4L259 266.7L259.1 265.9L259.2 265.2L259.3 264.4L259.3 263.7L259.4 262.9L259.4 262.2L259.4 261.5L259.4 260.7L259.4 260L259.4 259.2L259.4 258.5L259.4 257.7L259.3 257L259.3 256.2L259.2 255.5L259.1 254.7L259 254L258.9 253.3L258.8 252.7L258.8 252.5L258.7 251.8L258.5 251L258.4 250.3L258.2 249.5L258.1 249.3L257.9 248.8L257.7 248L257.4 247.3L257.4 247.1L257.2 246.5L256.8 245.8L256.6 245.4L256.5 245L256.1 244.3L255.9 243.9L255.7 243.6L255.2 242.8L255.1 242.7L254.7 242.1L254.4 241.6L254.2 241.3L253.7 240.6L253.6 240.6L253 239.8L252.9 239.7L252.4 239.1L252.2 238.8L251.7 238.3L251.4 238.1L250.9 237.6L250.7 237.4L250.1 236.8L250 236.7L249.2 236.2L249.1 236.1L248.5 235.7L247.8 235.4L247.7 235.3L247 235L246.3 234.8L245.5 234.7L244.8 234.7L244 234.7L243.3 234.8L242.5 235.1L241.9 235.4ZM272 295.8L271.4 296L270.7 296.3L270.3 296.5L270 296.7L269.2 297.1L269.1 297.3L268.5 297.7L268.1 298L267.7 298.3L267.2 298.7L267 299L266.5 299.5L266.3 299.8L265.9 300.2L265.5 300.7L265.3 301L264.8 301.7L264.8 301.7L264.3 302.5L264 302.9L263.9 303.2L263.5 304L263.3 304.3L263.1 304.7L262.7 305.5L262.6 305.9L262.4 306.2L262.1 307L261.8 307.7L261.8 307.8L261.6 308.4L261.3 309.2L261.1 309.9L261.1 310L260.9 310.7L260.7 311.4L260.5 312.2L260.3 312.9L260.3 312.9L260.1 313.7L260 314.4L259.8 315.2L259.7 315.9L259.6 316.6L259.6 316.6L259.5 317.4L259.3 318.1L259.2 318.9L259.1 319.6L259 320.4L258.9 321.1L258.8 321.8L258.8 321.9L258.7 322.6L258.6 323.4L258.5 324.1L258.4 324.9L258.4 325.6L258.3 326.3L258.1 327.1L258.1 327.4L258 327.8L257.9 328.6L257.8 329.3L257.7 330.1L257.6 330.8L257.5 331.6L257.4 332.3L257.4 332.3L257.2 333.1L257.1 333.8L257 334.5L256.9 335.3L256.8 336L256.7 336.8L256.7 337.5L256.6 338.2L256.6 338.3L256.6 339L256.5 339.8L256.5 340.5L256.5 341.3L256.5 342L256.5 342.8L256.6 343.5L256.6 344L256.6 344.2L256.7 345L256.8 345.7L257 346.5L257.1 347.2L257.3 348L257.4 348.4L257.5 348.7L257.7 349.5L257.9 350.2L258.1 350.8L258.2 351L258.4 351.7L258.8 352.4L258.8 352.7L259.1 353.2L259.5 353.9L259.6 354.2L259.8 354.7L260.3 355.4L260.3 355.5L260.7 356.2L261.1 356.7L261.3 356.9L261.8 357.6L261.9 357.7L262.6 358.4L262.6 358.4L263.3 359.1L263.4 359.2L264 359.6L264.5 359.9L264.8 360.1L265.5 360.5L265.9 360.7L266.3 360.8L267 361.1L267.7 361.3L268.5 361.4L268.5 361.4L269.2 361.4L270 361.4L270.1 361.4L270.7 361.3L271.4 361.2L272.2 361L272.9 360.7L273 360.7L273.7 360.4L274.4 360L274.5 359.9L275.1 359.5L275.7 359.2L275.9 359L276.6 358.5L276.8 358.4L277.4 357.9L277.7 357.7L278.1 357.3L278.5 356.9L278.8 356.7L279.4 356.2L279.6 356L280.1 355.4L280.3 355.2L280.8 354.7L281.1 354.4L281.5 353.9L281.8 353.6L282.2 353.2L282.6 352.7L282.8 352.4L283.3 351.8L283.4 351.7L283.9 351L284 350.8L284.5 350.2L284.8 349.8L285 349.5L285.5 348.8L285.5 348.7L286 348L286.3 347.7L286.5 347.2L287 346.5L287 346.5L287.4 345.7L287.7 345.2L287.9 345L288.3 344.2L288.5 343.9L288.7 343.5L289.1 342.8L289.2 342.5L289.4 342L289.8 341.3L290 340.9L290.1 340.5L290.5 339.8L290.7 339.2L290.8 339L291.1 338.3L291.3 337.5L291.4 337.3L291.6 336.8L291.9 336L292.1 335.3L292.2 335L292.3 334.5L292.5 333.8L292.7 333.1L292.9 332.3L292.9 332.1L293 331.6L293.2 330.8L293.3 330.1L293.5 329.3L293.6 328.6L293.7 327.8L293.7 327.8L293.7 327.1L293.8 326.3L293.9 325.6L293.9 324.9L294 324.1L294 323.4L294 322.6L294 321.9L294 321.1L293.9 320.4L293.9 319.6L293.8 318.9L293.8 318.1L293.7 317.4L293.7 317.3L293.6 316.6L293.5 315.9L293.4 315.2L293.2 314.4L293.1 313.7L292.9 313L292.9 312.9L292.7 312.2L292.5 311.4L292.3 310.7L292.2 310.3L292.1 309.9L291.8 309.2L291.5 308.4L291.4 308.2L291.3 307.7L290.9 307L290.7 306.4L290.6 306.2L290.2 305.5L290 304.9L289.8 304.7L289.4 304L289.2 303.6L289 303.2L288.5 302.5L288.5 302.5L287.9 301.7L287.7 301.5L287.3 301L287 300.6L286.7 300.2L286.3 299.8L286 299.5L285.5 299L285.2 298.7L284.8 298.4L284.3 298L284 297.8L283.3 297.3L283.2 297.3L282.6 296.9L281.9 296.5L281.8 296.5L281.1 296.1L280.3 295.9L280 295.8L279.6 295.6L278.8 295.4L278.1 295.3L277.4 295.2L276.6 295.1L275.9 295.1L275.1 295.1L274.4 295.2L273.7 295.3L272.9 295.5L272.2 295.7L272 295.8ZM252 361.4L251.4 361.8L251 362.1L250.7 362.4L250.2 362.9L250 363.2L249.7 363.6L249.3 364.4L249.2 364.5L248.9 365.1L248.7 365.9L248.5 366.6L248.5 367.1L248.4 367.4L248.4 368.1L248.5 368.9L248.5 369L248.6 369.6L248.7 370.3L249 371.1L249.2 371.6L249.4 371.8L249.8 372.6L250 372.8L250.5 373.3L250.7 373.5L251.4 374.1L251.4 374.1L252.2 374.5L252.9 374.7L253.7 374.8L254.4 374.8L255.1 374.7L255.9 374.4L256.5 374.1L256.6 374L257.4 373.5L257.5 373.3L258.1 372.7L258.2 372.6L258.7 371.8L258.8 371.6L259.1 371.1L259.4 370.3L259.6 369.9L259.7 369.6L259.9 368.9L260 368.1L260 367.4L260 366.6L260 365.9L259.8 365.1L259.6 364.4L259.6 364.3L259.3 363.6L258.9 362.9L258.8 362.8L258.4 362.1L258.1 361.9L257.4 361.4L257.4 361.3L256.6 361L255.9 360.8L255.1 360.7L254.4 360.7L253.7 360.8L252.9 361L252.2 361.3L252 361.4ZM116.6 243.3L117.4 243.2L118.1 243.3L118.7 243.6L118.8 243.6L119.6 244.2L119.6 244.3L120.2 245L120.3 245.2L120.6 245.8L121 246.5L121.1 246.8L121.2 247.3L121.4 248L121.5 248.8L121.6 249.5L121.6 250.3L121.6 251L121.6 251.8L121.5 252.5L121.3 253.3L121.1 254L121.1 254L120.8 254.7L120.4 255.5L120.3 255.6L119.8 256.2L119.6 256.5L119 257L118.8 257.1L118.1 257.4L117.4 257.5L116.6 257.3L115.9 257L115.9 257L115.1 256.3L115.1 256.2L114.5 255.5L114.4 255.3L114.1 254.7L113.8 254L113.6 253.6L113.5 253.3L113.4 252.5L113.2 251.8L113.2 251L113.1 250.3L113.2 249.5L113.2 248.8L113.4 248L113.5 247.3L113.6 246.9L113.8 246.5L114.1 245.8L114.4 245.3L114.5 245L115.1 244.3L115.1 244.3L115.9 243.6L116.1 243.6L116.6 243.3ZM192.9 262.9L193.7 262.6L194.4 262.6L195.1 262.8L195.5 262.9L195.9 263.2L196.4 263.7L196.6 263.8L197.1 264.4L197.4 264.7L197.7 265.2L198.1 265.9L198.1 265.9L198.5 266.7L198.8 267.3L198.9 267.4L199.2 268.2L199.5 268.9L199.6 269.1L199.8 269.7L200 270.4L200.3 271.2L200.3 271.2L200.5 271.9L200.7 272.6L200.9 273.4L201.1 273.9L201.1 274.1L201.3 274.9L201.5 275.6L201.7 276.4L201.8 277L201.8 277.1L202 277.9L202.1 278.6L202.3 279.4L202.4 280.1L202.5 280.8L202.5 280.9L202.7 281.6L202.8 282.3L202.9 283.1L203 283.8L203.2 284.6L203.3 285.3L203.3 285.4L203.4 286.1L203.5 286.8L203.6 287.6L203.8 288.3L203.9 289.1L204 289.8L204 290.1L204.1 290.5L204.2 291.3L204.3 292L204.5 292.8L204.6 293.5L204.7 294.3L204.8 294.9L204.8 295L204.9 295.8L205 296.5L205.1 297.3L205.2 298L205.3 298.7L205.3 299.5L205.4 300.2L205.5 301L205.5 301.7L205.5 301.8L205.6 302.5L205.6 303.2L205.6 304L205.6 304.7L205.7 305.5L205.7 306.2L205.6 307L205.6 307.7L205.6 308.4L205.5 309.2L205.5 309.7L205.5 309.9L205.4 310.7L205.4 311.4L205.3 312.2L205.2 312.9L205.1 313.7L205 314.4L204.9 315.2L204.8 315.7L204.7 315.9L204.6 316.6L204.5 317.4L204.3 318.1L204.2 318.9L204 319.4L204 319.6L203.8 320.4L203.6 321.1L203.5 321.9L203.3 322.5L203.3 322.6L203.1 323.4L202.9 324.1L202.7 324.9L202.5 325.6L202.5 325.6L202.4 326.3L202.2 327.1L202.1 327.8L201.9 328.6L201.8 329.1L201.8 329.3L201.7 330.1L201.6 330.8L201.5 331.6L201.4 332.3L201.3 333.1L201.3 333.8L201.3 334.5L201.3 335.3L201.3 336L201.3 336.8L201.4 337.5L201.4 338.3L201.5 339L201.5 339.8L201.6 340.5L201.7 341.3L201.8 342L201.8 342.1L201.9 342.8L202 343.5L202.1 344.2L202.2 345L202.3 345.7L202.4 346.5L202.5 347.2L202.5 347.9L202.6 348L202.6 348.7L202.7 349.5L202.8 350.2L202.9 351L202.9 351.7L203 352.4L203 353.2L203.1 353.9L203.1 354.7L203.1 355.4L203.2 356.2L203.2 356.9L203.2 357.7L203.2 358.4L203.1 359.2L203.1 359.9L203.1 360.7L203 361.4L203 362.1L202.9 362.9L202.8 363.6L202.7 364.4L202.6 365.1L202.5 365.4L202.5 365.9L202.3 366.6L202.2 367.4L202 368.1L201.8 368.9L201.8 369L201.7 369.6L201.4 370.3L201.2 371.1L201.1 371.6L201 371.8L200.7 372.6L200.4 373.3L200.3 373.6L200.1 374.1L199.8 374.8L199.6 375.2L199.4 375.6L199 376.3L198.8 376.6L198.6 377.1L198.1 377.8L198.1 377.8L197.6 378.6L197.4 378.9L197 379.3L196.6 379.8L196.4 380L195.9 380.6L195.7 380.8L195.1 381.3L194.8 381.5L194.4 381.9L193.8 382.3L193.7 382.4L192.9 382.8L192.4 383L192.2 383.1L191.4 383.4L190.7 383.5L190 383.6L189.2 383.7L188.5 383.6L187.7 383.5L187 383.3L186.4 383L186.2 382.9L185.5 382.5L185.1 382.3L184.8 382L184.2 381.5L184 381.4L183.5 380.8L183.3 380.5L182.9 380L182.5 379.5L182.4 379.3L181.9 378.6L181.8 378.3L181.5 377.8L181.2 377.1L181.1 376.8L180.9 376.3L180.6 375.6L180.3 374.8L180.3 374.8L180.1 374.1L179.9 373.3L179.7 372.6L179.6 372.1L179.5 371.8L179.3 371.1L179.2 370.3L179.1 369.6L178.9 368.9L178.8 368.2L178.8 368.1L178.7 367.4L178.6 366.6L178.6 365.9L178.5 365.1L178.4 364.4L178.4 363.6L178.3 362.9L178.3 362.1L178.3 361.4L178.3 360.7L178.2 359.9L178.2 359.2L178.2 358.4L178.3 357.7L178.3 356.9L178.3 356.2L178.4 355.4L178.4 354.7L178.5 353.9L178.5 353.2L178.6 352.4L178.7 351.7L178.8 351L178.8 350.4L178.9 350.2L179 349.5L179.1 348.7L179.2 348L179.4 347.2L179.5 346.5L179.6 346.1L179.7 345.7L179.8 345L180 344.2L180.2 343.5L180.3 343L180.4 342.8L180.6 342L180.8 341.3L181 340.5L181.1 340.4L181.2 339.8L181.5 339L181.7 338.3L181.8 338L181.9 337.5L182.2 336.8L182.4 336L182.5 335.6L182.6 335.3L182.8 334.5L183 333.8L183.2 333.1L183.3 332.7L183.4 332.3L183.5 331.6L183.6 330.8L183.7 330.1L183.7 329.3L183.8 328.6L183.8 327.8L183.8 327.1L183.7 326.3L183.7 325.6L183.6 324.9L183.5 324.1L183.4 323.4L183.3 322.6L183.3 322.5L183.2 321.9L183.1 321.1L183 320.4L182.9 319.6L182.8 318.9L182.7 318.1L182.6 317.4L182.5 317L182.5 316.6L182.4 315.9L182.4 315.2L182.3 314.4L182.3 313.7L182.2 312.9L182.2 312.2L182.2 311.4L182.2 310.7L182.2 309.9L182.2 309.2L182.3 308.4L182.3 307.7L182.4 307L182.5 306.2L182.5 305.5L182.5 305.4L182.6 304.7L182.7 304L182.8 303.2L183 302.5L183.1 301.7L183.2 301L183.3 300.7L183.4 300.2L183.5 299.5L183.7 298.7L183.9 298L184 297.3L184 297.3L184.2 296.5L184.4 295.8L184.6 295L184.8 294.3L184.8 294.3L185 293.5L185.2 292.8L185.3 292L185.5 291.4L185.5 291.3L185.7 290.5L185.9 289.8L186.1 289.1L186.2 288.3L186.2 288.2L186.4 287.6L186.5 286.8L186.7 286.1L186.8 285.3L187 284.6L187 284.3L187.1 283.8L187.2 283.1L187.3 282.3L187.4 281.6L187.5 280.8L187.6 280.1L187.7 279.4L187.7 279.2L187.8 278.6L187.9 277.9L188 277.1L188.1 276.4L188.2 275.6L188.3 274.9L188.4 274.1L188.5 273.9L188.6 273.4L188.7 272.6L188.8 271.9L189 271.2L189.1 270.4L189.2 270L189.3 269.7L189.5 268.9L189.7 268.2L189.9 267.4L190 267.4L190.2 266.7L190.5 265.9L190.7 265.6L190.9 265.2L191.3 264.4L191.4 264.3L191.9 263.7L192.2 263.4L192.8 262.9L192.9 262.9ZM191.5 291.3L191.4 291.3L190.7 291.9L190.6 292L190 292.7L189.9 292.8L189.4 293.5L189.2 293.7L188.9 294.3L188.5 294.9L188.4 295L188 295.8L187.7 296.4L187.7 296.5L187.3 297.3L187 298L187 298.1L186.8 298.7L186.5 299.5L186.3 300.2L186.2 300.4L186.1 301L185.9 301.7L185.7 302.5L185.6 303.2L185.5 303.8L185.5 304L185.4 304.7L185.3 305.5L185.2 306.2L185.2 307L185.2 307.7L185.2 308.4L185.2 309.2L185.3 309.9L185.3 310.7L185.4 311.4L185.5 311.9L185.5 312.2L185.7 312.9L185.9 313.7L186.1 314.4L186.2 315L186.3 315.2L186.6 315.9L186.9 316.6L187 316.8L187.3 317.4L187.7 318.1L187.7 318.2L188.2 318.9L188.5 319.3L188.7 319.6L189.2 320.2L189.4 320.4L190 320.9L190.4 321.1L190.7 321.3L191.4 321.7L192.2 321.8L192.9 321.8L193.7 321.7L194.4 321.4L194.8 321.1L195.1 320.9L195.8 320.4L195.9 320.3L196.5 319.6L196.6 319.5L197.1 318.9L197.4 318.5L197.6 318.1L198 317.4L198.1 317.2L198.4 316.6L198.7 315.9L198.8 315.6L199 315.2L199.3 314.4L199.5 313.7L199.6 313.5L199.7 312.9L199.9 312.2L200.1 311.4L200.2 310.7L200.3 310L200.3 309.9L200.4 309.2L200.5 308.4L200.5 307.7L200.6 307L200.6 306.2L200.6 305.5L200.5 304.7L200.5 304L200.4 303.2L200.3 302.8L200.3 302.5L200.2 301.7L200 301L199.9 300.2L199.7 299.5L199.6 299.2L199.5 298.7L199.2 298L199 297.3L198.8 296.9L198.7 296.5L198.4 295.8L198.1 295.2L198 295L197.6 294.3L197.4 293.8L197.2 293.5L196.6 292.8L196.6 292.8L196 292L195.9 291.9L195.1 291.3L195.1 291.3L194.4 290.9L193.7 290.7L192.9 290.7L192.2 290.9L191.5 291.3ZM188.2 345.7L187.7 346L187.2 346.5L187 346.7L186.5 347.2L186.2 347.6L186 348L185.5 348.7L185.5 348.7L185.1 349.5L184.8 350.1L184.7 350.2L184.4 351L184.2 351.7L184 352.1L183.9 352.4L183.7 353.2L183.5 353.9L183.4 354.7L183.3 355.3L183.3 355.4L183.2 356.2L183.1 356.9L183 357.7L183 358.4L183 359.2L183 359.9L183 360.7L183.1 361.4L183.1 362.1L183.2 362.9L183.3 363.2L183.4 363.6L183.5 364.4L183.7 365.1L183.9 365.9L184 366.2L184.2 366.6L184.5 367.4L184.8 367.9L184.9 368.1L185.3 368.9L185.5 369.1L185.9 369.6L186.2 370L186.7 370.3L187 370.6L187.7 371L187.9 371.1L188.5 371.3L189.2 371.4L190 371.3L190.7 371.1L190.7 371.1L191.4 370.7L191.9 370.3L192.2 370.2L192.7 369.6L192.9 369.4L193.4 368.9L193.7 368.4L193.9 368.1L194.3 367.4L194.4 367.1L194.6 366.6L194.9 365.9L195.1 365.3L195.2 365.1L195.4 364.4L195.6 363.6L195.8 362.9L195.9 362.3L195.9 362.1L196 361.4L196.1 360.7L196.1 359.9L196.2 359.2L196.2 358.4L196.2 357.7L196.2 356.9L196.1 356.2L196 355.4L195.9 354.7L195.9 354.3L195.8 353.9L195.7 353.2L195.5 352.4L195.3 351.7L195.1 351.1L195.1 351L194.8 350.2L194.5 349.5L194.4 349.1L194.2 348.7L193.8 348L193.7 347.7L193.3 347.2L192.9 346.7L192.7 346.5L192.2 345.9L191.9 345.7L191.4 345.4L190.7 345.2L190 345.1L189.2 345.2L188.5 345.5L188.2 345.7ZM146.2 270.2L147 269.8L147.7 270.2L147.9 270.4L148.3 271.2L148.5 271.4L148.6 271.9L148.9 272.6L149.2 273.4L149.2 273.5L149.4 274.1L149.6 274.9L149.8 275.6L149.9 276L150 276.4L150.2 277.1L150.4 277.9L150.6 278.6L150.7 278.9L150.8 279.4L151 280.1L151.1 280.8L151.3 281.6L151.4 282L151.5 282.3L151.7 283.1L151.8 283.8L152 284.6L152.2 285.3L152.2 285.4L152.3 286.1L152.5 286.8L152.6 287.6L152.7 288.3L152.9 289.1L152.9 289.2L153 289.8L153.1 290.5L153.3 291.3L153.4 292L153.5 292.8L153.6 293.5L153.7 293.9L153.7 294.3L153.8 295L153.9 295.8L154 296.5L154.1 297.3L154.1 298L154.2 298.7L154.3 299.5L154.3 300.2L154.4 301L154.4 301.2L154.4 301.7L154.5 302.5L154.5 303.2L154.5 304L154.6 304.7L154.6 305.5L154.6 306.2L154.6 307L154.6 307.7L154.6 308.4L154.5 309.2L154.5 309.9L154.5 310.7L154.4 311.4L154.4 312.2L154.4 312.3L154.4 312.9L154.3 313.7L154.3 314.4L154.2 315.2L154.1 315.9L154.1 316.6L154 317.4L154 318.1L153.9 318.9L153.9 319.6L153.8 320.4L153.8 321.1L153.8 321.9L153.8 322.6L153.7 323.4L153.7 324.1L153.7 324.9L153.7 325.6L153.7 326.3L153.8 327.1L153.8 327.8L153.8 328.6L153.9 329.3L153.9 330.1L154 330.8L154.1 331.6L154.1 332.3L154.2 333.1L154.3 333.8L154.4 334.5L154.4 334.8L154.4 335.3L154.5 336L154.6 336.8L154.7 337.5L154.8 338.3L154.9 339L154.9 339.8L155 340.5L155.1 341.3L155.1 341.9L155.1 342L155.2 342.8L155.3 343.5L155.3 344.2L155.4 345L155.4 345.7L155.4 346.5L155.5 347.2L155.5 348L155.5 348.7L155.5 349.5L155.6 350.2L155.6 351L155.6 351.7L155.6 352.4L155.6 353.2L155.6 353.9L155.6 354.7L155.6 355.4L155.5 356.2L155.5 356.9L155.5 357.7L155.5 358.4L155.5 359.2L155.4 359.9L155.4 360.7L155.4 361.4L155.3 362.1L155.3 362.9L155.2 363.6L155.2 364.4L155.1 365L155.1 365.1L155.1 365.9L155 366.6L155 367.4L154.9 368.1L154.8 368.9L154.7 369.6L154.7 370.3L154.6 371.1L154.5 371.8L154.4 372.4L154.4 372.6L154.3 373.3L154.2 374.1L154.1 374.8L153.9 375.6L153.8 376.3L153.7 377.1L153.7 377.3L153.6 377.8L153.4 378.6L153.3 379.3L153.1 380L153 380.8L152.9 381.1L152.8 381.5L152.6 382.3L152.5 383L152.3 383.8L152.2 384.1L152.1 384.5L151.8 385.3L151.6 386L151.4 386.5L151.3 386.8L151 387.5L150.7 387.5L149.9 387.5L149.2 387.5L148.5 387.5L147.7 387.5L147 387.5L146.3 387.5L146.2 387.4L146 386.8L145.6 386L145.5 385.8L145.3 385.3L145 384.5L144.8 383.9L144.7 383.8L144.4 383L144.2 382.3L144 381.8L143.9 381.5L143.7 380.8L143.5 380L143.3 379.5L143.2 379.3L143 378.6L142.8 377.8L142.6 377.1L142.5 376.8L142.4 376.3L142.2 375.6L142 374.8L141.9 374.1L141.8 373.7L141.7 373.3L141.6 372.6L141.4 371.8L141.3 371.1L141.2 370.3L141.1 369.6L141.1 369.6L140.9 368.9L140.8 368.1L140.7 367.4L140.6 366.6L140.6 365.9L140.5 365.1L140.4 364.4L140.4 363.6L140.3 363L140.3 362.9L140.3 362.1L140.2 361.4L140.2 360.7L140.1 359.9L140.1 359.2L140.1 358.4L140.1 357.7L140.1 356.9L140.1 356.2L140.1 355.4L140.1 354.7L140.1 353.9L140.2 353.2L140.2 352.4L140.2 351.7L140.3 351L140.3 350.4L140.3 350.2L140.4 349.5L140.4 348.7L140.5 348L140.5 347.2L140.6 346.5L140.7 345.7L140.8 345L140.8 344.2L140.9 343.5L141 342.8L141.1 342.2L141.1 342L141.1 341.3L141.2 340.5L141.3 339.8L141.4 339L141.4 338.3L141.5 337.5L141.6 336.8L141.6 336L141.7 335.3L141.7 334.5L141.8 333.8L141.8 333.3L141.8 333.1L141.8 332.3L141.8 331.6L141.8 330.8L141.8 330.1L141.8 329.3L141.8 329L141.8 328.6L141.7 327.8L141.7 327.1L141.6 326.3L141.6 325.6L141.5 324.9L141.4 324.1L141.3 323.4L141.2 322.6L141.1 321.9L141.1 321.5L141 321.1L140.9 320.4L140.8 319.6L140.6 318.9L140.5 318.1L140.4 317.4L140.3 316.8L140.3 316.6L140.2 315.9L140.1 315.2L139.9 314.4L139.8 313.7L139.7 312.9L139.6 312.2L139.6 311.7L139.5 311.4L139.4 310.7L139.4 309.9L139.3 309.2L139.2 308.4L139.1 307.7L139.1 307L139 306.2L139 305.5L138.9 304.7L138.9 304L138.9 303.2L138.9 302.5L138.9 301.7L138.9 301L138.9 300.2L138.9 299.5L138.9 298.7L138.9 298L138.9 297.3L139 296.5L139 295.8L139.1 295L139.1 294.3L139.2 293.5L139.3 292.8L139.4 292L139.5 291.3L139.6 290.7L139.6 290.5L139.7 289.8L139.8 289.1L140 288.3L140.1 287.6L140.3 286.8L140.3 286.5L140.4 286.1L140.6 285.3L140.7 284.6L140.9 283.8L141.1 283.4L141.1 283.1L141.3 282.3L141.5 281.6L141.8 280.8L141.8 280.7L142 280.1L142.2 279.4L142.5 278.6L142.5 278.4L142.7 277.9L143 277.1L143.3 276.4L143.3 276.3L143.5 275.6L143.8 274.9L144 274.4L144.1 274.1L144.5 273.4L144.8 272.7L144.8 272.6L145.2 271.9L145.5 271.3L145.6 271.2L146.1 270.4L146.2 270.2ZM146 284.6L145.5 285.1L145.3 285.3L144.9 286.1L144.8 286.2L144.5 286.8L144.1 287.6L144 287.8L143.8 288.3L143.6 289.1L143.4 289.8L143.3 290L143.1 290.5L143 291.3L142.8 292L142.6 292.8L142.5 293.4L142.5 293.5L142.4 294.3L142.3 295L142.2 295.8L142.1 296.5L142.1 297.3L142 298L142 298.7L141.9 299.5L141.9 300.2L141.9 301L141.9 301.7L142 302.5L142 303.2L142 304L142.1 304.7L142.1 305.5L142.2 306.2L142.3 307L142.4 307.7L142.5 308.4L142.5 308.6L142.6 309.2L142.8 309.9L142.9 310.7L143.1 311.4L143.2 312.2L143.3 312.4L143.4 312.9L143.6 313.7L143.8 314.4L144 315.2L144 315.2L144.2 315.9L144.5 316.6L144.7 317.4L144.8 317.5L145 318.1L145.3 318.9L145.5 319.5L145.6 319.6L145.9 320.4L146.2 321.1L146.2 321.3L146.6 321.9L147 322.6L147 322.7L147.6 323.4L147.7 323.6L148.5 323.8L148.9 323.4L149.2 323.1L149.5 322.6L149.8 321.9L149.9 321.6L150.1 321.1L150.4 320.4L150.6 319.6L150.7 319.4L150.8 318.9L151 318.1L151.2 317.4L151.4 316.6L151.4 316.5L151.6 315.9L151.7 315.2L151.8 314.4L152 313.7L152.1 312.9L152.2 312.6L152.2 312.2L152.3 311.4L152.4 310.7L152.5 309.9L152.6 309.2L152.7 308.4L152.7 307.7L152.8 307L152.8 306.2L152.8 305.5L152.8 304.7L152.8 304L152.8 303.2L152.8 302.5L152.8 301.7L152.8 301L152.7 300.2L152.7 299.5L152.6 298.7L152.5 298L152.4 297.3L152.4 296.5L152.3 295.8L152.2 295.2L152.1 295L152 294.3L151.9 293.5L151.7 292.8L151.6 292L151.4 291.4L151.4 291.3L151.2 290.5L151 289.8L150.8 289.1L150.7 288.7L150.5 288.3L150.3 287.6L150 286.8L149.9 286.8L149.6 286.1L149.2 285.4L149.1 285.3L148.5 284.6L148.5 284.5L147.7 284L147 284L146.2 284.3L146 284.6ZM147.6 339L147.1 339.8L147 339.9L146.7 340.5L146.4 341.3L146.2 341.5L146.1 342L145.8 342.8L145.6 343.5L145.5 343.7L145.4 344.2L145.2 345L145 345.7L144.8 346.5L144.8 346.6L144.6 347.2L144.5 348L144.4 348.7L144.2 349.5L144.1 350.2L144 350.9L144 351L143.9 351.7L143.9 352.4L143.8 353.2L143.7 353.9L143.7 354.7L143.7 355.4L143.7 356.2L143.7 356.9L143.7 357.7L143.7 358.4L143.7 359.2L143.8 359.9L143.8 360.7L143.9 361.4L144 362.1L144 362.5L144.1 362.9L144.2 363.6L144.3 364.4L144.5 365.1L144.7 365.9L144.8 366.2L144.9 366.6L145.1 367.4L145.4 368.1L145.5 368.3L145.8 368.9L146.2 369.6L146.2 369.6L146.9 370.3L147 370.4L147.7 370.6L148.5 370.4L148.5 370.3L149.2 369.6L149.2 369.6L149.6 368.9L149.9 368.2L150 368.1L150.2 367.4L150.5 366.6L150.7 365.9L150.7 365.8L150.8 365.1L151 364.4L151.1 363.6L151.2 362.9L151.3 362.1L151.4 361.4L151.4 361.3L151.5 360.7L151.6 359.9L151.6 359.2L151.6 358.4L151.7 357.7L151.7 356.9L151.7 356.2L151.7 355.4L151.7 354.7L151.7 353.9L151.7 353.2L151.6 352.4L151.6 351.7L151.6 351L151.5 350.2L151.4 349.5L151.4 349.5L151.4 348.7L151.3 348L151.2 347.2L151.1 346.5L150.9 345.7L150.8 345L150.7 344.3L150.7 344.2L150.5 343.5L150.3 342.8L150.1 342L150 341.3L149.9 341.2L149.7 340.5L149.4 339.8L149.2 339.4L148.9 339L148.5 338.6L147.7 338.8L147.6 339ZM321.1 313.6L321.8 313.4L322.6 313.5L323 313.7L323.3 313.7L324 314L324.7 314.4L324.8 314.4L325.5 314.8L326.1 315.2L326.3 315.3L327 315.7L327 315.9L327 316.6L327 317.4L327 318.1L327 318.9L327 319.6L327 320.4L327 321.1L327 321.9L327 322.6L327 323.4L327 324.1L327 324.9L327 325.6L327 326.3L327 327.1L327 327.1L326.9 327.1L326.3 327L325.5 326.9L324.8 326.8L324 326.9L323.3 326.9L322.6 327.1L322.5 327.1L321.8 327.3L321.1 327.5L320.4 327.8L320.3 327.9L319.6 328.3L319.1 328.6L318.9 328.8L318.1 329.3L318.1 329.3L317.4 329.9L317.2 330.1L316.6 330.6L316.4 330.8L315.9 331.4L315.8 331.6L315.1 332.3L315.1 332.3L314.6 333.1L314.4 333.3L314.1 333.8L313.7 334.4L313.6 334.5L313.1 335.3L312.9 335.7L312.7 336L312.3 336.8L312.2 337.1L312 337.5L311.7 338.3L311.4 338.8L311.3 339L311.1 339.8L310.8 340.5L310.7 340.8L310.5 341.3L310.3 342L310.1 342.8L310 343.4L309.9 343.5L309.7 344.2L309.6 345L309.5 345.7L309.3 346.5L309.2 347.2L309.2 347.2L309.1 348L309 348.7L309 349.5L308.9 350.2L308.9 351L308.8 351.7L308.8 352.4L308.8 353.2L308.8 353.9L308.9 354.7L308.9 355.4L309 356.2L309 356.9L309.1 357.7L309.2 358.4L309.2 358.5L309.3 359.2L309.4 359.9L309.6 360.7L309.7 361.4L309.9 362.1L310 362.4L310.1 362.9L310.3 363.6L310.5 364.4L310.7 364.9L310.8 365.1L311 365.9L311.3 366.6L311.4 367L311.6 367.4L311.9 368.1L312.2 368.7L312.3 368.9L312.7 369.6L312.9 370.1L313.1 370.3L313.5 371.1L313.7 371.3L314 371.8L314.4 372.4L314.5 372.6L315.1 373.3L315.1 373.4L315.7 374.1L315.9 374.3L316.4 374.8L316.6 375L317.2 375.6L317.4 375.7L318.1 376.3L318.1 376.3L318.9 376.8L319.2 377.1L319.6 377.3L320.3 377.7L320.6 377.8L321.1 378L321.8 378.3L322.6 378.5L322.8 378.6L323.3 378.6L324 378.7L324.8 378.8L325.5 378.8L326.3 378.7L327 378.6L327 379.3L327 380L327 380.8L327 381.5L327 382.3L327 383L327 383.8L327 384.5L327 385.3L327 386L327 386.8L327 387.5L326.3 387.5L325.5 387.5L324.8 387.5L324 387.5L323.3 387.5L322.6 387.5L321.8 387.5L321.2 387.5L321.1 387.5L320.3 387.2L319.6 387L319.1 386.8L318.9 386.6L318.1 386.3L317.7 386L317.4 385.8L316.6 385.4L316.5 385.3L315.9 384.9L315.4 384.5L315.1 384.3L314.5 383.8L314.4 383.7L313.7 383L313.7 383L313 382.3L312.9 382.2L312.3 381.5L312.2 381.4L311.6 380.8L311.4 380.5L311.1 380L310.7 379.6L310.5 379.3L310 378.6L310 378.5L309.5 377.8L309.2 377.3L309 377.1L308.6 376.3L308.5 376.1L308.2 375.6L307.8 374.8L307.7 374.7L307.4 374.1L307.1 373.3L307 373.1L306.8 372.6L306.5 371.8L306.3 371.3L306.2 371.1L305.9 370.3L305.6 369.6L305.5 369.3L305.4 368.9L305.1 368.1L304.9 367.4L304.8 366.9L304.7 366.6L304.5 365.9L304.3 365.1L304.1 364.4L304 364L304 363.6L303.8 362.9L303.6 362.1L303.5 361.4L303.4 360.7L303.3 360.1L303.3 359.9L303.1 359.2L303 358.4L302.9 357.7L302.9 356.9L302.8 356.2L302.7 355.4L302.7 354.7L302.6 353.9L302.6 353.2L302.6 353L302.5 352.4L302.5 351.7L302.5 351L302.4 350.2L302.4 349.5L302.4 348.7L302.4 348L302.5 347.2L302.5 346.5L302.5 345.7L302.6 345.3L302.6 345L302.6 344.2L302.7 343.5L302.8 342.8L302.9 342L303 341.3L303.1 340.5L303.3 339.9L303.3 339.8L303.5 339L303.7 338.3L303.9 337.5L304 337.3L304.2 336.8L304.5 336L304.8 335.3L304.8 335.3L305.1 334.5L305.5 333.8L305.5 333.7L305.8 333.1L306.2 332.3L306.3 332.2L306.6 331.6L307 330.9L307 330.8L307.5 330.1L307.7 329.6L307.9 329.3L308.4 328.6L308.5 328.4L308.8 327.8L309.2 327.3L309.3 327.1L309.8 326.3L310 326.2L310.4 325.6L310.7 325.1L310.9 324.9L311.4 324.1L311.4 324.1L312 323.4L312.2 323.1L312.5 322.6L312.9 322.1L313.1 321.9L313.7 321.2L313.7 321.1L314.3 320.4L314.4 320.3L314.9 319.6L315.1 319.4L315.5 318.9L315.9 318.5L316.2 318.1L316.6 317.6L316.8 317.4L317.4 316.8L317.5 316.6L318.1 316L318.2 315.9L318.9 315.2L318.9 315.2L319.6 314.5L319.7 314.4L320.3 313.9L320.9 313.7L321.1 313.6Z" fill="#cdeaf3" stroke="#cdeaf3" stroke-width="0.6"/>
<path d="M106.2 164.5L107 164.5L107.7 164.5L108.5 164.5L108.7 164.5L108.5 164.6L107.7 165L107.3 165.2L107 165.5L106.2 166L106.2 166L105.5 166.5L105.5 166L105.5 165.2L105.5 164.5L106.2 164.5ZM117.4 164.5L118.1 164.5L118.8 164.5L119.6 164.5L120.3 164.5L121.1 164.5L121.8 164.5L122.5 164.5L123.3 164.5L124 164.5L124.8 164.5L125.5 164.5L126.2 164.5L127 164.5L127.7 164.5L128.5 164.5L129.2 164.5L129.9 164.5L130.7 164.5L131.4 164.5L132.2 164.5L132.9 164.5L133.7 164.5L134.4 164.5L135.1 164.5L135.9 164.5L136.6 164.5L137.4 164.5L138.1 164.5L138.8 164.5L139.6 164.5L140.3 164.5L141.1 164.5L141.8 164.5L142.5 164.5L143.3 164.5L144 164.5L144.8 164.5L145.5 164.5L146.2 164.5L147 164.5L147.7 164.5L148.5 164.5L149.2 164.5L149.9 164.5L150.7 164.5L151.4 164.5L152.2 164.5L152.9 164.5L153.7 164.5L154.4 164.5L155.1 164.5L155.9 164.5L156.6 164.5L157.4 164.5L158.1 164.5L158.8 164.5L159.6 164.5L160.3 164.5L161.1 164.5L161.8 164.5L162.5 164.5L163.3 164.5L164 164.5L164.8 164.5L165.5 164.5L166.2 164.5L167 164.5L167.7 164.5L168.5 164.5L169.2 164.5L169.9 164.5L170.7 164.5L171.4 164.5L172.2 164.5L172.9 164.5L173.7 164.5L174.4 164.5L175.1 164.5L175.9 164.5L176.6 164.5L177.4 164.5L178.1 164.5L178.8 164.5L179.6 164.5L180.3 164.5L181.1 164.5L181.8 164.5L182.5 164.5L183.3 164.5L184 164.5L184.8 164.5L185.5 164.5L186.2 164.5L187 164.5L187.7 164.5L188.5 164.5L189.2 164.5L190 164.5L190.7 164.5L191.4 164.5L192.2 164.5L192.9 164.5L193.7 164.5L194.4 164.5L195.1 164.5L195.9 164.5L196.6 164.5L197.4 164.5L198.1 164.5L198.8 164.5L199.6 164.5L200.3 164.5L201.1 164.5L201.8 164.5L202.5 164.5L203.3 164.5L204 164.5L204.8 164.5L205.5 164.5L206.2 164.5L207 164.5L207.7 164.5L208.5 164.5L209.2 164.5L210 164.5L210.7 164.5L211.4 164.5L212.2 164.5L212.9 164.5L213.7 164.5L214.4 164.5L215.1 164.5L215.9 164.5L216.6 164.5L217.4 164.5L218.1 164.5L218.8 164.5L219.6 164.5L220.3 164.5L221.1 164.5L221.8 164.5L222.5 164.5L223.3 164.5L224 164.5L224.8 164.5L225.5 164.5L226.3 164.5L227 164.5L227.7 164.5L228.5 164.5L229.2 164.5L230 164.5L230.7 164.5L231.4 164.5L232.2 164.5L232.9 164.5L233.7 164.5L234.4 164.5L235.1 164.5L235.9 164.5L236.6 164.5L237.4 164.5L238.1 164.5L238.8 164.5L239.6 164.5L240.3 164.5L241.1 164.5L241.8 164.5L242.5 164.5L243.3 164.5L244 164.5L244.8 164.5L245.5 164.5L246.3 164.5L247 164.5L247.7 164.5L248.5 164.5L249.2 164.5L250 164.5L250.7 164.5L251.4 164.5L252.2 164.5L252.9 164.5L253.7 164.5L254.4 164.5L255.1 164.5L255.9 164.5L256.6 164.5L257.4 164.5L258.1 164.5L258.8 164.5L259.6 164.5L260.3 164.5L261.1 164.5L261.8 164.5L262.6 164.5L263.3 164.5L264 164.5L264.8 164.5L265.5 164.5L266.3 164.5L267 164.5L267.7 164.5L268.5 164.5L269.2 164.5L270 164.5L270.7 164.5L271.4 164.5L272.2 164.5L272.9 164.5L273.7 164.5L274.4 164.5L275.1 164.5L275.9 164.5L276.6 164.5L277.4 164.5L278.1 164.5L278.8 164.5L279.6 164.5L280.3 164.5L281.1 164.5L281.8 164.5L282.6 164.5L283.3 164.5L284 164.5L284.8 164.5L285.5 164.5L286.3 164.5L287 164.5L287.7 164.5L288.5 164.5L289.2 164.5L290 164.5L290.7 164.5L291.4 164.5L292.2 164.5L292.9 164.5L293.7 164.5L294.4 164.5L295.1 164.5L295.9 164.5L296.6 164.5L297.4 164.5L298.1 164.5L298.8 164.5L299.6 164.5L300.3 164.5L301.1 164.5L301.8 164.5L302.6 164.5L303.3 164.5L304 164.5L304.8 164.5L305.5 164.5L306.3 164.5L307 164.5L307.7 164.5L308.5 164.5L309.2 164.5L310 164.5L310.7 164.5L311.4 164.5L312.2 164.5L312.9 164.5L313.7 164.5L314.4 164.5L315.1 164.5L315.9 164.5L316.6 164.5L317.4 164.5L318.1 164.5L318.9 164.5L319.6 164.5L320.3 164.5L321.1 164.5L321.8 164.5L322.6 164.5L323.3 164.5L324 164.5L324.8 164.5L325.5 164.5L326.3 164.5L327 164.5L327 165.2L327 166L327 166.7L327 167.5L327 168.2L327 168.4L326.9 168.2L326.3 167.6L326.1 167.5L325.5 167L325.1 166.7L324.8 166.5L324 166L324 166L323.3 165.7L322.6 165.4L322.2 165.2L321.8 165.1L321.1 165L320.3 164.9L319.6 164.9L318.9 165L318.1 165.2L317.8 165.2L317.4 165.4L316.6 165.7L316 166L315.9 166.1L315.1 166.5L314.9 166.7L314.4 167.1L313.9 167.5L313.7 167.7L313.1 168.2L312.9 168.4L312.4 169L312.2 169.3L311.8 169.7L311.4 170.2L311.3 170.5L310.8 171.2L310.7 171.3L310.3 172L310 172.5L309.9 172.7L309.5 173.4L309.2 173.9L309.1 174.2L308.7 174.9L308.5 175.5L308.4 175.7L308.1 176.4L307.8 177.2L307.7 177.3L307.5 177.9L307.3 178.7L307 179.4L307 179.5L306.8 180.2L306.6 180.9L306.4 181.7L306.3 182.1L306.2 182.4L306 183.1L305.8 183.9L305.7 184.6L305.5 185.4L305.5 185.4L305.4 186.1L305.3 186.9L305.1 187.6L305 188.4L304.9 189.1L304.8 189.9L304.8 190.4L304.7 190.6L304.7 191.3L304.6 192.1L304.5 192.8L304.5 193.6L304.4 194.3L304.4 195.1L304.3 195.8L304.3 196.6L304.3 197.3L304.3 198.1L304.2 198.8L304.2 199.6L304.2 200.3L304.2 201L304.2 201.8L304.2 202.5L304.2 203.3L304.2 204L304.3 204.8L304.3 205.5L304.3 206.3L304.3 207L304.3 207.8L304.4 208.5L304.4 209.2L304.4 210L304.4 210.7L304.5 211.5L304.5 212.2L304.5 213L304.5 213.7L304.6 214.5L304.6 215.2L304.6 216L304.6 216.7L304.7 217.5L304.7 218.2L304.7 218.9L304.7 219.7L304.7 220.4L304.7 221.2L304.8 221.9L304.8 222.7L304.8 223L304.8 223.4L304.8 224.2L304.8 224.9L304.8 225.7L304.8 226.4L304.8 227.1L304.8 227.9L304.8 228.6L304.8 229.4L304.8 230.1L304.8 230.9L304.8 231.6L304.8 232.4L304.8 233.1L304.8 233.9L304.8 234.6L304.8 235.4L304.8 236.1L304.8 236.8L304.8 237.6L304.8 238.3L304.8 239.1L304.8 239.8L304.8 240.6L304.8 241.3L304.8 242.1L304.8 242.8L304.8 243.6L304.8 244.3L304.8 245L304.8 245.8L304.8 246.5L304.8 247.3L304.8 248L304.8 248.8L304.8 249.5L304.8 250.3L304.8 251L304.8 251.8L304.8 252.5L304.8 253.3L304.8 254L304.8 254.7L304.8 255.5L304.8 256.2L304.8 257L304.8 257.7L304.8 258.5L304.8 259.2L304.8 260L304.8 260.7L304.8 261.5L304.8 262.2L304.8 262.9L304.8 263.7L304.9 264.4L304.9 265.2L304.9 265.9L304.9 266.7L304.9 267.4L305 268.2L305 268.9L305 269.7L305.1 270.4L305.1 271.2L305.2 271.9L305.2 272.6L305.3 273.4L305.4 274.1L305.4 274.9L305.5 275.6L305.5 275.7L305.6 276.4L305.7 277.1L305.8 277.9L305.9 278.6L306 279.4L306.1 280.1L306.2 280.8L306.3 281.2L306.3 281.6L306.4 282.3L306.6 283.1L306.7 283.8L306.9 284.6L307 285.1L307 285.3L307.2 286.1L307.4 286.8L307.6 287.6L307.7 288.2L307.8 288.3L308 289.1L308.2 289.8L308.4 290.5L308.5 290.8L308.6 291.3L308.9 292L309.1 292.8L309.2 293.1L309.4 293.5L309.6 294.3L309.9 295L310 295.1L310.2 295.8L310.6 296.5L310.7 296.9L310.9 297.3L311.2 298L311.4 298.4L311.6 298.7L312 299.5L312.2 299.9L312.4 300.2L312.8 301L312.9 301.2L313.3 301.7L313.7 302.4L313.7 302.5L314.3 303.2L314.4 303.4L314.8 304L315.1 304.4L315.4 304.7L315.9 305.3L316 305.5L316.6 306.1L316.7 306.2L317.4 306.9L317.5 307L318.1 307.5L318.3 307.7L318.9 308.1L319.5 308.4L319.6 308.5L320.3 308.8L321.1 308.8L321.8 308.5L321.9 308.4L322.6 308L322.8 307.7L323.3 307.2L323.5 307L324 306.3L324.1 306.2L324.6 305.5L324.8 305.3L325.2 304.7L325.5 304.2L325.6 304L326.1 303.2L326.3 302.9L326.5 302.5L326.9 301.7L327 301.6L327 301.7L327 302.5L327 303.2L327 304L327 304.7L327 305.5L327 306.2L327 307L327 307.7L327 308.4L327 309.2L327 309.9L327 310.7L327 311.4L327 312.2L327 312.9L327 313.7L327 314.4L327 315.2L327 315.7L326.3 315.3L326.1 315.2L325.5 314.8L324.8 314.4L324.7 314.4L324 314L323.3 313.7L323 313.7L322.6 313.5L321.8 313.4L321.1 313.6L320.9 313.7L320.3 313.9L319.7 314.4L319.6 314.5L318.9 315.2L318.9 315.2L318.2 315.9L318.1 316L317.5 316.6L317.4 316.8L316.8 317.4L316.6 317.6L316.2 318.1L315.9 318.5L315.5 318.9L315.1 319.4L314.9 319.6L314.4 320.3L314.3 320.4L313.7 321.1L313.7 321.2L313.1 321.9L312.9 322.1L312.5 322.6L312.2 323.1L312 323.4L311.4 324.1L311.4 324.1L310.9 324.9L310.7 325.1L310.4 325.6L310 326.2L309.8 326.3L309.3 327.1L309.2 327.3L308.8 327.8L308.5 328.4L308.4 328.6L307.9 329.3L307.7 329.6L307.5 330.1L307 330.8L307 330.9L306.6 331.6L306.3 332.2L306.2 332.3L305.8 333.1L305.5 333.7L305.5 333.8L305.1 334.5L304.8 335.3L304.8 335.3L304.5 336L304.2 336.8L304 337.3L303.9 337.5L303.7 338.3L303.5 339L303.3 339.8L303.3 339.9L303.1 340.5L303 341.3L302.9 342L302.8 342.8L302.7 343.5L302.6 344.2L302.6 345L302.6 345.3L302.5 345.7L302.5 346.5L302.5 347.2L302.4 348L302.4 348.7L302.4 349.5L302.4 350.2L302.5 351L302.5 351.7L302.5 352.4L302.6 353L302.6 353.2L302.6 353.9L302.7 354.7L302.7 355.4L302.8 356.2L302.9 356.9L302.9 357.7L303 358.4L303.1 359.2L303.3 359.9L303.3 360.1L303.4 360.7L303.5 361.4L303.6 362.1L303.8 362.9L304 363.6L304 364L304.1 364.4L304.3 365.1L304.5 365.9L304.7 366.6L304.8 366.9L304.9 367.4L305.1 368.1L305.4 368.9L305.5 369.3L305.6 369.6L305.9 370.3L306.2 371.1L306.3 371.3L306.5 371.8L306.8 372.6L307 373.1L307.1 373.3L307.4 374.1L307.7 374.7L307.8 374.8L308.2 375.6L308.5 376.1L308.6 376.3L309 377.1L309.2 377.3L309.5 377.8L310 378.5L310 378.6L310.5 379.3L310.7 379.6L311.1 380L311.4 380.5L311.6 380.8L312.2 381.4L312.3 381.5L312.9 382.2L313 382.3L313.7 383L313.7 383L314.4 383.7L314.5 383.8L315.1 384.3L315.4 384.5L315.9 384.9L316.5 385.3L316.6 385.4L317.4 385.8L317.7 386L318.1 386.3L318.9 386.6L319.1 386.8L319.6 387L320.3 387.2L321.1 387.5L321.2 387.5L321.1 387.5L320.3 387.5L319.6 387.5L318.9 387.5L318.1 387.5L317.4 387.5L316.6 387.5L315.9 387.5L315.1 387.5L314.4 387.5L313.7 387.5L312.9 387.5L312.2 387.5L311.4 387.5L310.7 387.5L310 387.5L309.2 387.5L308.5 387.5L307.7 387.5L307 387.5L306.3 387.5L305.5 387.5L304.8 387.5L304 387.5L303.3 387.5L302.6 387.5L301.8 387.5L301.1 387.5L300.3 387.5L299.6 387.5L298.8 387.5L298.1 387.5L297.4 387.5L296.6 387.5L295.9 387.5L295.1 387.5L294.4 387.5L293.7 387.5L292.9 387.5L292.2 387.5L291.4 387.5L290.7 387.5L290 387.5L289.2 387.5L288.5 387.5L287.7 387.5L287 387.5L286.3 387.5L285.5 387.5L284.8 387.5L284 387.5L283.3 387.5L282.6 387.5L281.8 387.5L281.1 387.5L280.3 387.5L279.6 387.5L278.8 387.5L278.1 387.5L277.4 387.5L276.6 387.5L275.9 387.5L275.1 387.5L274.4 387.5L273.7 387.5L272.9 387.5L272.2 387.5L272 387.5L271.9 386.8L271.8 386L271.7 385.3L271.6 384.5L271.5 383.8L271.4 383.1L271.4 383L271.4 382.3L271.4 381.5L271.4 380.8L271.4 380.6L271.5 380L271.6 379.3L271.8 378.6L272 377.8L272.2 377.4L272.3 377.1L272.6 376.3L272.9 375.8L273 375.6L273.5 374.8L273.7 374.6L274.1 374.1L274.4 373.7L274.7 373.3L275.1 372.9L275.5 372.6L275.9 372.2L276.4 371.8L276.6 371.6L277.4 371.1L277.4 371.1L278.1 370.6L278.5 370.3L278.8 370.1L279.6 369.7L279.8 369.6L280.3 369.3L281 368.9L281.1 368.8L281.8 368.3L282.1 368.1L282.6 367.7L283 367.4L283.3 367.1L283.7 366.6L284 366.2L284.3 365.9L284.8 365.2L284.8 365.1L285.3 364.4L285.5 364L285.7 363.6L286.1 362.9L286.3 362.7L286.5 362.1L287 361.4L287 361.3L287.4 360.7L287.7 360L287.8 359.9L288.2 359.2L288.5 358.7L288.6 358.4L289.1 357.7L289.2 357.4L289.5 356.9L289.9 356.2L290 356.1L290.4 355.4L290.7 354.9L290.8 354.7L291.3 353.9L291.4 353.6L291.7 353.2L292.1 352.4L292.2 352.3L292.6 351.7L292.9 351.1L293 351L293.4 350.2L293.7 349.7L293.8 349.5L294.2 348.7L294.4 348.4L294.7 348L295 347.2L295.1 347L295.4 346.5L295.8 345.7L295.9 345.6L296.2 345L296.6 344.2L296.6 344.1L296.9 343.5L297.3 342.8L297.4 342.5L297.6 342L297.9 341.3L298.1 340.7L298.2 340.5L298.5 339.8L298.7 339L298.8 338.5L298.9 338.3L299.2 337.5L299.3 336.8L299.5 336L299.6 335.4L299.6 335.3L299.8 334.5L299.9 333.8L300 333.1L300 332.3L300.1 331.6L300.2 330.8L300.2 330.1L300.2 329.3L300.3 328.6L300.3 327.8L300.3 327.1L300.3 326.3L300.3 325.6L300.3 324.9L300.3 324.1L300.2 323.4L300.2 322.6L300.2 321.9L300.1 321.1L300.1 320.4L300 319.6L300 318.9L299.9 318.1L299.8 317.4L299.7 316.6L299.6 315.9L299.6 315.7L299.5 315.2L299.4 314.4L299.3 313.7L299.2 312.9L299 312.2L298.9 311.4L298.8 311.4L298.7 310.7L298.5 309.9L298.4 309.2L298.2 308.4L298.1 308.2L298 307.7L297.8 307L297.5 306.2L297.4 305.8L297.3 305.5L297 304.7L296.7 304L296.6 303.7L296.4 303.2L296.1 302.5L295.9 301.9L295.8 301.7L295.5 301L295.1 300.3L295.1 300.2L294.7 299.5L294.4 299L294.3 298.7L293.8 298L293.7 297.7L293.4 297.3L292.9 296.6L292.9 296.5L292.3 295.8L292.2 295.6L291.7 295L291.4 294.7L291.1 294.3L290.7 293.9L290.3 293.5L290 293.2L289.5 292.8L289.2 292.5L288.6 292L288.5 291.9L287.7 291.4L287.6 291.3L287 290.9L286.4 290.5L286.3 290.4L285.5 290L285.1 289.8L284.8 289.7L284 289.3L283.4 289.1L283.3 289L282.6 288.7L281.8 288.5L281.3 288.3L281.1 288.2L280.3 288L279.6 287.8L278.8 287.6L278.6 287.6L278.1 287.4L277.4 287.3L276.6 287.1L275.9 287L275.1 286.9L274.9 286.8L274.4 286.7L273.7 286.6L272.9 286.5L272.2 286.4L271.4 286.3L270.7 286.2L270 286.1L270 286.1L269.2 285.9L268.5 285.8L267.7 285.6L267 285.3L267 285.3L266.3 285L265.7 284.6L265.5 284.5L265 283.8L264.8 283.6L264.5 283.1L264.3 282.3L264.1 281.6L264 281.4L263.9 280.8L263.8 280.1L263.8 279.4L263.7 278.6L263.7 277.9L263.7 277.1L263.7 276.4L263.6 275.6L263.6 274.9L263.6 274.1L263.6 273.4L263.6 272.6L263.6 271.9L263.6 271.2L263.5 270.4L263.5 269.7L263.5 268.9L263.5 268.2L263.4 267.4L263.4 266.7L263.4 265.9L263.3 265.2L263.3 264.5L263.3 264.4L263.2 263.7L263.2 262.9L263.2 262.2L263.1 261.5L263.1 260.7L263 260L262.9 259.2L262.9 258.5L262.8 257.7L262.8 257L262.7 256.2L262.6 255.5L262.6 254.9L262.5 254.7L262.4 254L262.3 253.3L262.2 252.5L262.1 251.8L262 251L261.9 250.3L261.8 249.9L261.7 249.5L261.6 248.8L261.4 248L261.2 247.3L261.1 246.9L261 246.5L260.7 245.8L260.4 245L260.3 244.8L260.1 244.3L259.8 243.6L259.6 243.1L259.4 242.8L259 242.1L258.8 241.7L258.6 241.3L258.2 240.6L258.1 240.4L257.7 239.8L257.4 239.2L257.3 239.1L256.8 238.3L256.6 238.1L256.3 237.6L255.9 236.9L255.8 236.8L255.4 236.1L255.1 235.8L254.9 235.4L254.4 234.6L254.4 234.6L253.9 233.9L253.7 233.4L253.5 233.1L253 232.4L252.9 232.2L252.5 231.6L252.2 231.1L252.1 230.9L251.6 230.1L251.4 229.9L251.1 229.4L250.7 228.8L250.6 228.6L250 227.9L250 227.8L249.4 227.1L249.2 226.9L248.7 226.4L248.5 226.2L247.8 225.7L247.7 225.6L247 225.2L246.4 224.9L246.3 224.9L245.5 224.6L244.8 224.5L244 224.5L243.3 224.6L242.5 224.7L241.8 224.9L241.7 224.9L241.1 225.1L240.3 225.5L239.9 225.7L239.6 225.8L238.8 226.3L238.7 226.4L238.1 226.8L237.7 227.1L237.4 227.4L236.8 227.9L236.6 228L236 228.6L235.9 228.8L235.3 229.4L235.1 229.6L234.7 230.1L234.4 230.4L234.1 230.9L233.7 231.4L233.5 231.6L233 232.4L232.9 232.5L232.5 233.1L232.2 233.6L232 233.9L231.6 234.6L231.4 234.9L231.2 235.4L230.8 236.1L230.7 236.3L230.4 236.8L230 237.6L230 237.8L229.7 238.3L229.4 239.1L229.2 239.5L229.1 239.8L228.8 240.6L228.5 241.3L228.5 241.4L228.3 242.1L228 242.8L227.8 243.6L227.7 243.7L227.6 244.3L227.4 245L227.2 245.8L227 246.5L227 246.7L226.9 247.3L226.7 248L226.6 248.8L226.5 249.5L226.4 250.3L226.3 251L226.3 251.1L226.2 251.8L226.1 252.5L226 253.3L226 254L226 254.7L225.9 255.5L225.9 256.2L225.9 257L225.9 257.7L225.9 258.5L226 259.2L226 260L226.1 260.7L226.2 261.5L226.3 262.2L226.3 262.2L226.3 262.9L226.5 263.7L226.6 264.4L226.7 265.2L226.9 265.9L227 266.2L227.1 266.7L227.4 267.4L227.6 268.2L227.7 268.4L227.9 268.9L228.3 269.7L228.5 269.9L228.7 270.4L229.2 271.1L229.3 271.2L229.9 271.9L230 272L230.5 272.6L230.7 272.8L231.2 273.4L231.4 273.7L231.8 274.1L232.2 274.6L232.4 274.9L232.9 275.5L233 275.6L233.5 276.4L233.7 276.6L234 277.1L234.4 277.7L234.5 277.9L235 278.6L235.1 278.8L235.5 279.4L235.9 279.9L236 280.1L236.5 280.8L236.6 281L237.1 281.6L237.4 282L237.7 282.3L238.1 282.8L238.4 283.1L238.8 283.5L239.2 283.8L239.6 284.1L240.2 284.6L240.3 284.7L241.1 285.1L241.4 285.3L241.8 285.6L242.5 286L242.7 286.1L243.3 286.4L244 286.8L244.2 286.8L244.8 287.1L245.5 287.5L245.7 287.6L246.3 287.8L247 288.1L247.4 288.3L247.7 288.5L248.5 288.8L249.1 289.1L249.2 289.1L250 289.4L250.7 289.7L251 289.8L251.4 290L252.2 290.3L252.7 290.5L252.9 290.7L253.7 291L254.1 291.3L254.4 291.5L255.1 292L255.1 292.1L255.7 292.8L255.9 293.1L256.1 293.5L256.4 294.3L256.5 295L256.6 295.8L256.6 296.3L256.6 296.5L256.6 297.3L256.6 297.3L256.6 298L256.5 298.7L256.5 299.5L256.4 300.2L256.3 301L256.2 301.7L256.1 302.5L256 303.2L255.9 304L255.9 304.1L255.8 304.7L255.7 305.5L255.6 306.2L255.5 307L255.4 307.7L255.3 308.4L255.2 309.2L255.1 309.4L255.1 309.9L255 310.7L254.9 311.4L254.8 312.2L254.7 312.9L254.6 313.7L254.5 314.4L254.5 315.2L254.4 315.8L254.4 315.9L254.3 316.6L254.2 317.4L254.2 318.1L254.1 318.9L254 319.6L254 320.4L253.9 321.1L253.9 321.9L253.8 322.6L253.7 323.4L253.7 324.1L253.7 324.2L253.6 324.9L253.5 325.6L253.5 326.3L253.4 327.1L253.3 327.8L253.3 328.6L253.2 329.3L253.1 330.1L253 330.8L253 331.6L252.9 332L252.9 332.3L252.8 333.1L252.7 333.8L252.7 334.5L252.6 335.3L252.5 336L252.5 336.8L252.4 337.5L252.4 338.3L252.3 339L252.3 339.8L252.3 340.5L252.3 341.3L252.3 342L252.3 342.8L252.3 343.5L252.3 344.2L252.3 345L252.4 345.7L252.4 346.5L252.5 347.2L252.6 348L252.6 348.7L252.7 349.5L252.8 350.2L252.9 351L252.9 351.3L253 351.7L253 352.4L253.1 353.2L253 353.9L252.9 354.7L252.9 354.8L252.8 355.4L252.4 356.2L252.2 356.6L252 356.9L251.4 357.6L251.4 357.7L250.7 358.4L250.7 358.4L250.1 359.2L250 359.3L249.4 359.9L249.2 360.2L248.9 360.7L248.5 361.3L248.4 361.4L248 362.1L247.7 362.6L247.6 362.9L247.3 363.6L247 364.4L247 364.4L246.8 365.1L246.6 365.9L246.5 366.6L246.4 367.4L246.4 368.1L246.4 368.9L246.5 369.6L246.6 370.3L246.8 371.1L247 371.8L247 371.9L247.2 372.6L247.6 373.3L247.7 373.7L247.9 374.1L248.4 374.8L248.5 374.9L249 375.6L249.2 375.9L249.6 376.3L250 376.6L250.4 377.1L250.7 377.3L251.4 377.8L251.5 377.8L252.2 378.3L252.8 378.6L252.9 378.6L253.7 379L254.4 379.2L254.6 379.3L255.1 379.5L255.9 379.8L256.5 380L256.6 380.1L257.4 380.5L257.7 380.8L258.1 381.1L258.5 381.5L258.8 382L259 382.3L259.5 383L259.6 383.3L259.9 383.8L260.2 384.5L260.3 384.7L260.6 385.3L261 386L261.1 386.2L261.4 386.8L261.8 387.5L261.1 387.5L260.3 387.5L259.6 387.5L258.8 387.5L258.1 387.5L257.4 387.5L256.6 387.5L255.9 387.5L255.1 387.5L254.4 387.5L253.7 387.5L252.9 387.5L252.2 387.5L251.4 387.5L250.7 387.5L250 387.5L249.2 387.5L248.5 387.5L247.7 387.5L247 387.5L246.3 387.5L245.5 387.5L244.8 387.5L244 387.5L243.3 387.5L242.5 387.5L241.8 387.5L241.1 387.5L240.3 387.5L239.6 387.5L238.8 387.5L238.1 387.5L237.4 387.5L236.6 387.5L235.9 387.5L235.1 387.5L234.4 387.5L233.7 387.5L232.9 387.5L232.2 387.5L231.4 387.5L230.7 387.5L230 387.5L229.2 387.5L228.5 387.5L227.7 387.5L227 387.5L226.3 387.5L225.5 387.5L224.8 387.5L224 387.5L223.3 387.5L222.5 387.5L221.8 387.5L221.1 387.5L220.3 387.5L219.6 387.5L218.8 387.5L218.1 387.5L217.4 387.5L216.6 387.5L215.9 387.5L215.1 387.5L214.4 387.5L213.7 387.5L212.9 387.5L212.2 387.5L211.4 387.5L210.7 387.5L210 387.5L209.2 387.5L208.5 387.5L207.7 387.5L207 387.5L206.2 387.5L205.5 387.5L204.8 387.5L204 387.5L203.3 387.5L202.5 387.5L201.8 387.5L201.1 387.5L200.3 387.5L199.6 387.5L198.8 387.5L198.1 387.5L197.4 387.5L196.6 387.5L195.9 387.5L195.1 387.5L194.4 387.5L193.7 387.5L192.9 387.5L192.2 387.5L191.4 387.5L190.7 387.5L190 387.5L189.2 387.5L188.5 387.5L187.7 387.5L187 387.5L186.2 387.5L185.5 387.5L184.8 387.5L184 387.5L183.3 387.5L182.5 387.5L181.8 387.5L181.1 387.5L180.3 387.5L179.6 387.5L178.8 387.5L178.1 387.5L177.4 387.5L176.6 387.5L175.9 387.5L175.1 387.5L174.4 387.5L173.7 387.5L172.9 387.5L172.2 387.5L171.4 387.5L170.7 387.5L169.9 387.5L169.2 387.5L168.5 387.5L167.7 387.5L167 387.5L166.2 387.5L165.5 387.5L164.8 387.5L164 387.5L163.3 387.5L162.5 387.5L161.8 387.5L161.1 387.5L160.3 387.5L159.6 387.5L158.8 387.5L158.1 387.5L157.4 387.5L156.6 387.5L155.9 387.5L155.1 387.5L154.4 387.5L153.7 387.5L152.9 387.5L152.2 387.5L151.4 387.5L151 387.5L151.3 386.8L151.4 386.5L151.6 386L151.8 385.3L152.1 384.5L152.2 384.1L152.3 383.8L152.5 383L152.6 382.3L152.8 381.5L152.9 381.1L153 380.8L153.1 380L153.3 379.3L153.4 378.6L153.6 377.8L153.7 377.3L153.7 377.1L153.8 376.3L153.9 375.6L154.1 374.8L154.2 374.1L154.3 373.3L154.4 372.6L154.4 372.4L154.5 371.8L154.6 371.1L154.7 370.3L154.7 369.6L154.8 368.9L154.9 368.1L155 367.4L155 366.6L155.1 365.9L155.1 365.1L155.1 365L155.2 364.4L155.2 363.6L155.3 362.9L155.3 362.1L155.4 361.4L155.4 360.7L155.4 359.9L155.5 359.2L155.5 358.4L155.5 357.7L155.5 356.9L155.5 356.2L155.6 355.4L155.6 354.7L155.6 353.9L155.6 353.2L155.6 352.4L155.6 351.7L155.6 351L155.6 350.2L155.5 349.5L155.5 348.7L155.5 348L155.5 347.2L155.4 346.5L155.4 345.7L155.4 345L155.3 344.2L155.3 343.5L155.2 342.8L155.1 342L155.1 341.9L155.1 341.3L155 340.5L154.9 339.8L154.9 339L154.8 338.3L154.7 337.5L154.6 336.8L154.5 336L154.4 335.3L154.4 334.8L154.4 334.5L154.3 333.8L154.2 333.1L154.1 332.3L154.1 331.6L154 330.8L153.9 330.1L153.9 329.3L153.8 328.6L153.8 327.8L153.8 327.1L153.7 326.3L153.7 325.6L153.7 324.9L153.7 324.1L153.7 323.4L153.8 322.6L153.8 321.9L153.8 321.1L153.8 320.4L153.9 319.6L153.9 318.9L154 318.1L154 317.4L154.1 316.6L154.1 315.9L154.2 315.2L154.3 314.4L154.3 313.7L154.4 312.9L154.4 312.3L154.4 312.2L154.4 311.4L154.5 310.7L154.5 309.9L154.5 309.2L154.6 308.4L154.6 307.7L154.6 307L154.6 306.2L154.6 305.5L154.6 304.7L154.5 304L154.5 303.2L154.5 302.5L154.4 301.7L154.4 301.2L154.4 301L154.3 300.2L154.3 299.5L154.2 298.7L154.1 298L154.1 297.3L154 296.5L153.9 295.8L153.8 295L153.7 294.3L153.7 293.9L153.6 293.5L153.5 292.8L153.4 292L153.3 291.3L153.1 290.5L153 289.8L152.9 289.2L152.9 289.1L152.7 288.3L152.6 287.6L152.5 286.8L152.3 286.1L152.2 285.4L152.2 285.3L152 284.6L151.8 283.8L151.7 283.1L151.5 282.3L151.4 282L151.3 281.6L151.1 280.8L151 280.1L150.8 279.4L150.7 278.9L150.6 278.6L150.4 277.9L150.2 277.1L150 276.4L149.9 276L149.8 275.6L149.6 274.9L149.4 274.1L149.2 273.5L149.2 273.4L148.9 272.6L148.6 271.9L148.5 271.4L148.3 271.2L147.9 270.4L147.7 270.2L147 269.8L146.2 270.2L146.1 270.4L145.6 271.2L145.5 271.3L145.2 271.9L144.8 272.6L144.8 272.7L144.5 273.4L144.1 274.1L144 274.4L143.8 274.9L143.5 275.6L143.3 276.3L143.3 276.4L143 277.1L142.7 277.9L142.5 278.4L142.5 278.6L142.2 279.4L142 280.1L141.8 280.7L141.8 280.8L141.5 281.6L141.3 282.3L141.1 283.1L141.1 283.4L140.9 283.8L140.7 284.6L140.6 285.3L140.4 286.1L140.3 286.5L140.3 286.8L140.1 287.6L140 288.3L139.8 289.1L139.7 289.8L139.6 290.5L139.6 290.7L139.5 291.3L139.4 292L139.3 292.8L139.2 293.5L139.1 294.3L139.1 295L139 295.8L139 296.5L138.9 297.3L138.9 298L138.9 298.7L138.9 299.5L138.9 300.2L138.9 301L138.9 301.7L138.9 302.5L138.9 303.2L138.9 304L138.9 304.7L139 305.5L139 306.2L139.1 307L139.1 307.7L139.2 308.4L139.3 309.2L139.4 309.9L139.4 310.7L139.5 311.4L139.6 311.7L139.6 312.2L139.7 312.9L139.8 313.7L139.9 314.4L140.1 315.2L140.2 315.9L140.3 316.6L140.3 316.8L140.4 317.4L140.5 318.1L140.6 318.9L140.8 319.6L140.9 320.4L141 321.1L141.1 321.5L141.1 321.9L141.2 322.6L141.3 323.4L141.4 324.1L141.5 324.9L141.6 325.6L141.6 326.3L141.7 327.1L141.7 327.8L141.8 328.6L141.8 329L141.8 329.3L141.8 330.1L141.8 330.8L141.8 331.6L141.8 332.3L141.8 333.1L141.8 333.3L141.8 333.8L141.7 334.5L141.7 335.3L141.6 336L141.6 336.8L141.5 337.5L141.4 338.3L141.4 339L141.3 339.8L141.2 340.5L141.1 341.3L141.1 342L141.1 342.2L141 342.8L140.9 343.5L140.8 344.2L140.8 345L140.7 345.7L140.6 346.5L140.5 347.2L140.5 348L140.4 348.7L140.4 349.5L140.3 350.2L140.3 350.4L140.3 351L140.2 351.7L140.2 352.4L140.2 353.2L140.1 353.9L140.1 354.7L140.1 355.4L140.1 356.2L140.1 356.9L140.1 357.7L140.1 358.4L140.1 359.2L140.1 359.9L140.2 360.7L140.2 361.4L140.3 362.1L140.3 362.9L140.3 363L140.4 363.6L140.4 364.4L140.5 365.1L140.6 365.9L140.6 366.6L140.7 367.4L140.8 368.1L140.9 368.9L141.1 369.6L141.1 369.6L141.2 370.3L141.3 371.1L141.4 371.8L141.6 372.6L141.7 373.3L141.8 373.7L141.9 374.1L142 374.8L142.2 375.6L142.4 376.3L142.5 376.8L142.6 377.1L142.8 377.8L143 378.6L143.2 379.3L143.3 379.5L143.5 380L143.7 380.8L143.9 381.5L144 381.8L144.2 382.3L144.4 383L144.7 383.8L144.8 383.9L145 384.5L145.3 385.3L145.5 385.8L145.6 386L146 386.8L146.2 387.4L146.3 387.5L146.2 387.5L145.5 387.5L144.8 387.5L144 387.5L143.3 387.5L142.5 387.5L141.8 387.5L141.1 387.5L140.3 387.5L139.6 387.5L138.8 387.5L138.1 387.5L137.4 387.5L136.6 387.5L135.9 387.5L135.1 387.5L134.4 387.5L133.7 387.5L132.9 387.5L132.2 387.5L131.4 387.5L130.7 387.5L129.9 387.5L129.2 387.5L128.5 387.5L127.7 387.5L127 387.5L126.2 387.5L125.5 387.5L124.8 387.5L124 387.5L123.3 387.5L122.5 387.5L121.8 387.5L121.1 387.5L120.3 387.5L119.6 387.5L118.8 387.5L118.1 387.5L117.4 387.5L116.6 387.5L115.9 387.5L115.1 387.5L114.4 387.5L113.6 387.5L112.9 387.5L112.2 387.5L111.4 387.5L110.7 387.5L109.9 387.5L109.2 387.5L108.5 387.5L107.7 387.5L107 387.5L106.2 387.5L105.5 387.5L105.5 386.8L105.5 386L105.5 385.3L105.5 384.5L105.5 383.8L105.5 383L105.5 382.3L105.5 381.5L105.5 380.8L105.5 380L105.5 379.3L105.5 378.6L105.5 377.8L105.5 377.1L105.5 376.3L105.5 375.6L105.5 374.8L105.5 374.1L105.5 374.1L105.5 374.1L105.8 374.8L106.2 375.6L106.2 375.7L106.6 376.3L107 376.9L107.1 377.1L107.6 377.8L107.7 378L108.2 378.6L108.5 378.9L108.9 379.3L109.2 379.6L109.8 380L109.9 380.2L110.7 380.6L111.2 380.8L111.4 380.9L112.2 381.1L112.9 381.2L113.6 381.1L114.4 381L114.9 380.8L115.1 380.7L115.9 380.3L116.3 380L116.6 379.8L117.2 379.3L117.4 379.2L117.9 378.6L118.1 378.4L118.5 377.8L118.8 377.4L119.1 377.1L119.5 376.3L119.6 376.2L119.9 375.6L120.3 374.8L120.3 374.8L120.6 374.1L120.9 373.3L121.1 373L121.2 372.6L121.5 371.8L121.7 371.1L121.8 370.6L121.9 370.3L122 369.6L122.2 368.9L122.3 368.1L122.5 367.4L122.5 366.8L122.6 366.6L122.7 365.9L122.7 365.1L122.8 364.4L122.9 363.6L122.9 362.9L122.9 362.1L122.9 361.4L122.9 360.7L122.9 359.9L122.9 359.2L122.8 358.4L122.8 357.7L122.7 356.9L122.7 356.2L122.6 355.4L122.5 355L122.5 354.7L122.4 353.9L122.3 353.2L122.2 352.4L122 351.7L121.9 351L121.8 350.4L121.7 350.2L121.6 349.5L121.4 348.7L121.2 348L121.1 347.3L121 347.2L120.8 346.5L120.6 345.7L120.4 345L120.3 344.7L120.2 344.2L120 343.5L119.7 342.8L119.6 342.3L119.5 342L119.2 341.3L119 340.5L118.8 340L118.8 339.8L118.5 339L118.3 338.3L118.1 337.5L118.1 337.4L118 336.8L117.8 336L117.7 335.3L117.7 334.5L117.7 333.8L117.8 333.1L117.9 332.3L118 331.6L118.1 331.4L118.3 330.8L118.5 330.1L118.8 329.3L118.8 329.3L119.1 328.6L119.5 327.8L119.6 327.6L119.8 327.1L120.2 326.3L120.3 326.1L120.6 325.6L120.9 324.9L121.1 324.6L121.3 324.1L121.6 323.4L121.8 323L122 322.6L122.3 321.9L122.5 321.3L122.6 321.1L122.9 320.4L123.2 319.6L123.3 319.5L123.5 318.9L123.8 318.1L124 317.5L124 317.4L124.3 316.6L124.5 315.9L124.8 315.2L124.8 315.1L125 314.4L125.2 313.7L125.3 312.9L125.5 312.3L125.5 312.2L125.7 311.4L125.9 310.7L126 309.9L126.1 309.2L126.2 308.6L126.3 308.4L126.4 307.7L126.5 307L126.6 306.2L126.7 305.5L126.8 304.7L126.9 304L126.9 303.2L127 302.8L127 302.5L127.1 301.7L127.1 301L127.2 300.2L127.2 299.5L127.2 298.7L127.3 298L127.3 297.3L127.3 296.5L127.3 295.8L127.3 295L127.3 294.3L127.3 293.5L127.3 292.8L127.3 292L127.3 291.3L127.3 290.5L127.2 289.8L127.2 289.1L127.2 288.3L127.1 287.6L127.1 286.8L127 286.1L127 285.4L127 285.3L126.9 284.6L126.9 283.8L126.8 283.1L126.7 282.3L126.7 281.6L126.6 280.8L126.5 280.1L126.4 279.4L126.3 278.6L126.2 278L126.2 277.9L126.1 277.1L126 276.4L125.9 275.6L125.7 274.9L125.6 274.1L125.5 273.7L125.4 273.4L125.2 272.6L125 271.9L124.8 271.2L124.7 271.2L124.4 270.4L124 269.8L123.9 269.7L123.3 268.9L123.3 268.9L122.5 268.4L122.2 268.2L121.8 268L121.1 267.7L120.3 267.5L120.2 267.4L119.6 267.2L118.8 267L118.1 266.7L118 266.7L117.4 266.4L116.6 266.1L116.2 265.9L115.9 265.8L115.1 265.4L114.8 265.2L114.4 265L113.6 264.5L113.6 264.4L112.9 264L112.6 263.7L112.2 263.4L111.7 262.9L111.4 262.7L110.9 262.2L110.7 262L110.2 261.5L109.9 261.1L109.6 260.7L109.2 260.1L109.1 260L108.6 259.2L108.5 258.9L108.2 258.5L107.8 257.7L107.7 257.4L107.5 257L107.2 256.2L107 255.5L107 255.3L106.8 254.7L106.6 254L106.5 253.3L106.4 252.5L106.4 251.8L106.4 251L106.4 250.3L106.4 249.5L106.5 248.8L106.6 248L106.8 247.3L107 246.6L107 246.5L107.2 245.8L107.4 245L107.7 244.3L107.7 244.2L108 243.6L108.3 242.8L108.5 242.5L108.6 242.1L109 241.3L109.2 241.1L109.5 240.6L109.9 239.9L110 239.8L110.5 239.1L110.7 238.9L111.2 238.3L111.4 238L111.9 237.6L112.2 237.3L112.7 236.8L112.9 236.7L113.6 236.2L113.8 236.1L114.4 235.7L115.1 235.4L115.2 235.4L115.9 235.1L116.6 234.9L117.4 234.8L118.1 234.8L118.8 234.8L119.6 234.9L120.3 235.1L121.1 235.3L121.1 235.4L121.8 235.6L122.5 236L122.7 236.1L123.3 236.4L124 236.8L124 236.9L124.8 237.4L125.1 237.6L125.5 237.9L126.2 238.3L126.2 238.3L127 238.8L127.7 239.1L127.7 239.1L128.5 239.3L129.2 239.3L129.9 239.3L130.7 239.2L131.1 239.1L131.4 239L132.2 238.8L132.9 238.7L133.7 238.5L134.4 238.5L135.1 238.4L135.9 238.4L136.6 238.4L137.4 238.3L137.4 238.3L138.1 238.3L138.8 238.3L139.6 238.2L140.3 238.2L141.1 238.1L141.8 237.9L142.5 237.8L143.3 237.7L143.9 237.6L144 237.6L144.8 237.5L145.5 237.4L146.2 237.5L147 237.5L147.3 237.6L147.7 237.7L148.5 237.9L149.2 238.2L149.5 238.3L149.9 238.5L150.7 239L150.8 239.1L151.4 239.6L151.7 239.8L152.2 240.2L152.5 240.6L152.9 241L153.2 241.3L153.7 241.9L153.8 242.1L154.3 242.8L154.4 243L154.7 243.6L155.1 244.3L155.1 244.5L155.3 245L155.5 245.8L155.7 246.5L155.8 247.3L155.9 248L155.9 248.3L155.9 248.8L155.9 249.5L155.9 250L155.9 250.3L155.8 251L155.8 251.8L155.7 252.5L155.6 253.3L155.5 254L155.4 254.7L155.3 255.5L155.2 256.2L155.1 257L155.1 257L155 257.7L154.9 258.5L154.8 259.2L154.7 260L154.6 260.7L154.5 261.5L154.4 262.2L154.4 262.5L154.3 262.9L154.2 263.7L154.2 264.4L154.1 265.2L154 265.9L153.9 266.7L153.9 267.4L153.8 268.2L153.7 268.9L153.7 269.7L153.7 270.1L153.6 270.4L153.6 271.2L153.6 271.9L153.5 272.6L153.5 273.4L153.5 274.1L153.5 274.9L153.5 275.6L153.5 276.4L153.5 277.1L153.6 277.9L153.6 278.6L153.7 279.1L153.7 279.4L153.7 280.1L153.8 280.8L153.8 281.6L153.9 282.3L154 283.1L154.1 283.8L154.1 284.6L154.2 285.3L154.3 286.1L154.4 286.8L154.4 286.8L154.5 287.6L154.6 288.3L154.7 289.1L154.8 289.8L154.9 290.5L155 291.3L155 292L155.1 292.8L155.1 292.8L155.2 293.5L155.3 294.3L155.4 295L155.5 295.8L155.6 296.5L155.7 297.3L155.8 298L155.8 298.7L155.9 299.2L155.9 299.5L156 300.2L156.1 301L156.1 301.7L156.2 302.5L156.2 303.2L156.3 304L156.3 304.7L156.4 305.5L156.4 306.2L156.5 307L156.5 307.7L156.5 308.4L156.5 309.2L156.5 309.9L156.5 310.7L156.5 311.4L156.5 312.2L156.5 312.9L156.5 313.7L156.5 314.4L156.5 315.2L156.5 315.9L156.5 316.6L156.5 317.4L156.5 318.1L156.5 318.9L156.5 319.6L156.5 320.4L156.5 321.1L156.6 321.9L156.6 322.6L156.6 322.6L156.7 323.4L156.7 324.1L156.8 324.9L156.9 325.6L157 326.3L157.1 327.1L157.2 327.8L157.4 328.4L157.4 328.6L157.5 329.3L157.7 330.1L157.9 330.8L158.1 331.5L158.1 331.6L158.3 332.3L158.6 333.1L158.8 333.8L158.8 333.8L159.1 334.5L159.4 335.3L159.6 335.7L159.8 336L160.1 336.8L160.3 337.3L160.4 337.5L160.8 338.3L161.1 338.8L161.2 339L161.6 339.8L161.8 340.2L162 340.5L162.3 341.3L162.5 341.8L162.7 342L163 342.8L163.2 343.5L163.3 343.6L163.5 344.2L163.7 345L163.8 345.7L164 346.5L164 347.1L164 347.2L164.1 348L164.1 348.7L164.2 349.5L164.2 350.2L164.1 351L164.1 351.7L164.1 352.4L164.1 353.2L164 353.9L164 354.5L164 354.7L164 355.4L164 356.2L163.9 356.9L163.9 357.7L163.9 358.4L163.9 359.2L163.9 359.9L163.9 360.7L163.9 361.4L164 362.1L164 362.9L164 363.6L164 363.7L164.1 364.4L164.1 365.1L164.2 365.9L164.2 366.6L164.3 367.4L164.4 368.1L164.5 368.9L164.6 369.6L164.7 370.3L164.8 370.5L164.9 371.1L165 371.8L165.2 372.6L165.4 373.3L165.5 373.9L165.6 374.1L165.8 374.8L166 375.6L166.2 376.1L166.3 376.3L166.7 377.1L167 377.7L167.1 377.8L167.6 378.6L167.7 378.8L168.3 379.3L168.5 379.4L169.2 379.6L169.9 379.4L170.1 379.3L170.7 378.7L170.8 378.6L171.2 377.8L171.4 377.3L171.5 377.1L171.7 376.3L171.9 375.6L172.1 374.8L172.2 374.5L172.2 374.1L172.3 373.3L172.4 372.6L172.5 371.8L172.6 371.1L172.7 370.3L172.7 369.6L172.8 368.9L172.8 368.1L172.8 367.4L172.9 366.6L172.9 365.9L172.9 365.2L172.9 365.1L172.9 364.4L172.9 363.6L172.9 362.9L173 362.1L173 361.4L173 360.7L173 359.9L173 359.2L173 358.4L173 357.7L172.9 356.9L172.9 356.2L172.9 355.4L172.9 354.7L172.9 354.4L172.9 353.9L172.9 353.2L172.9 352.4L172.9 351.7L172.8 351L172.8 350.2L172.8 349.5L172.8 348.7L172.8 348L172.8 347.2L172.8 346.5L172.8 345.7L172.8 345L172.9 344.2L172.9 343.6L172.9 343.5L173 342.8L173.1 342L173.1 341.3L173.2 340.5L173.4 339.8L173.5 339L173.7 338.3L173.7 338.3L173.8 337.5L174 336.8L174.1 336L174.3 335.3L174.4 334.9L174.5 334.5L174.7 333.8L174.8 333.1L175 332.3L175.1 331.7L175.2 331.6L175.3 330.8L175.5 330.1L175.7 329.3L175.8 328.6L175.9 328.3L176 327.8L176.1 327.1L176.3 326.3L176.4 325.6L176.5 324.9L176.6 324.4L176.7 324.1L176.8 323.4L176.9 322.6L177 321.9L177.1 321.1L177.2 320.4L177.3 319.6L177.4 319.5L177.4 318.9L177.5 318.1L177.6 317.4L177.8 316.6L177.9 315.9L178 315.2L178.1 314.4L178.1 314.1L178.2 313.7L178.3 312.9L178.4 312.2L178.5 311.4L178.6 310.7L178.7 309.9L178.8 309.3L178.8 309.2L179 308.4L179.1 307.7L179.2 307L179.4 306.2L179.5 305.5L179.6 304.9L179.6 304.7L179.8 304L179.9 303.2L180 302.5L180.2 301.7L180.3 301L180.3 301L180.5 300.2L180.6 299.5L180.7 298.7L180.9 298L181 297.3L181.1 297L181.2 296.5L181.3 295.8L181.4 295L181.5 294.3L181.7 293.5L181.8 292.8L181.8 292.6L181.9 292L182 291.3L182.1 290.5L182.2 289.8L182.3 289.1L182.3 288.3L182.4 287.6L182.5 286.8L182.5 286.1L182.5 285.3L182.5 285.3L182.6 284.6L182.6 283.8L182.6 283.1L182.6 282.3L182.7 281.6L182.7 280.8L182.7 280.1L182.7 279.4L182.6 278.6L182.6 277.9L182.6 277.1L182.6 276.4L182.6 275.6L182.5 275L182.5 274.9L182.5 274.1L182.5 273.4L182.4 272.6L182.4 271.9L182.4 271.2L182.3 270.4L182.3 269.7L182.3 268.9L182.2 268.2L182.2 267.4L182.1 266.7L182.1 265.9L182 265.2L182 264.4L181.9 263.7L181.9 262.9L181.8 262.2L181.8 261.7L181.8 261.5L181.7 260.7L181.7 260L181.6 259.2L181.6 258.5L181.5 257.7L181.5 257L181.4 256.2L181.4 255.5L181.3 254.7L181.3 254L181.2 253.3L181.2 252.5L181.2 251.8L181.1 251L181.2 250.3L181.2 249.5L181.3 248.8L181.4 248L181.5 247.3L181.8 246.5L181.8 246.4L182.1 245.8L182.5 245L182.5 245L183 244.3L183.3 244L183.7 243.6L184 243.3L184.6 242.8L184.8 242.7L185.5 242.2L185.6 242.1L186.2 241.7L186.9 241.3L187 241.3L187.7 240.9L188.3 240.6L188.5 240.5L189.2 240.2L190 239.8L190 239.8L190.7 239.5L191.4 239.2L191.8 239.1L192.2 239L192.9 238.7L193.7 238.4L193.9 238.3L194.4 238.2L195.1 237.9L195.9 237.6L196 237.6L196.6 237.4L197.4 237.1L198.1 236.8L198.1 236.8L198.8 236.5L199.6 236.2L199.9 236.1L200.3 235.9L201.1 235.6L201.5 235.4L201.8 235.2L202.5 234.7L202.7 234.6L203.3 234.2L203.8 233.9L204 233.6L204.6 233.1L204.8 233L205.3 232.4L205.5 232.1L205.9 231.6L206.2 231L206.3 230.9L206.7 230.1L206.9 229.4L207 229.2L207.1 228.6L207.3 227.9L207.3 227.1L207.3 226.4L207.3 225.7L207.2 224.9L207 224.2L207 224L206.8 223.4L206.6 222.7L206.4 221.9L206.2 221.7L206.1 221.2L205.7 220.4L205.5 220L205.3 219.7L204.9 218.9L204.8 218.7L204.4 218.2L204 217.6L203.9 217.5L203.3 216.7L203.3 216.7L202.7 216L202.5 215.8L202 215.2L201.8 215.1L201.2 214.5L201.1 214.4L200.3 213.8L200.3 213.7L199.6 213.2L199.3 213L198.8 212.6L198.3 212.2L198.1 212.1L197.4 211.6L197.2 211.5L196.6 211.1L196.2 210.7L195.9 210.5L195.2 210L195.1 209.9L194.4 209.2L194.4 209.2L193.8 208.5L193.7 208.2L193.4 207.8L193 207L192.9 206.6L192.8 206.3L192.6 205.5L192.5 204.8L192.3 204L192.2 203.3L192.2 203L192.1 202.5L192 201.8L191.9 201L191.7 200.3L191.6 199.6L191.4 198.8L191.4 198.8L191.3 198.1L191.2 197.3L191 196.6L190.9 195.8L190.8 195.1L190.7 194.7L190.6 194.3L190.5 193.6L190.4 192.8L190.2 192.1L190.1 191.3L190 190.7L189.9 190.6L189.8 189.9L189.6 189.1L189.4 188.4L189.2 187.6L189.2 187.6L189 186.9L188.8 186.1L188.6 185.4L188.5 185.1L188.3 184.6L188 183.9L187.7 183.1L187.7 183.1L187.4 182.4L187.1 181.7L187 181.4L186.8 180.9L186.4 180.2L186.2 179.8L186 179.4L185.6 178.7L185.5 178.4L185.2 177.9L184.8 177.2L184.8 177.2L184.3 176.4L184 176L183.8 175.7L183.3 175L183.3 174.9L182.7 174.2L182.5 174L182.1 173.4L181.8 173.1L181.4 172.7L181.1 172.3L180.7 172L180.3 171.5L180 171.2L179.6 170.8L179.2 170.5L178.8 170.1L178.3 169.7L178.1 169.5L177.4 169L177.4 169L176.6 168.4L176.3 168.2L175.9 167.9L175.1 167.5L175.1 167.5L174.4 167.1L173.7 166.7L173.7 166.7L172.9 166.4L172.2 166.1L172 166L171.4 165.8L170.7 165.5L169.9 165.3L169.6 165.2L169.2 165.1L168.5 165L167.7 164.9L167 164.8L166.2 164.7L165.5 164.7L164.8 164.7L164 164.7L163.3 164.8L162.5 164.8L161.8 165L161.1 165.1L160.5 165.2L160.3 165.3L159.6 165.5L158.8 165.8L158.2 166L158.1 166L157.4 166.4L156.6 166.7L156.6 166.7L155.9 167.1L155.3 167.5L155.1 167.6L154.4 168.1L154.2 168.2L153.7 168.6L153.2 169L152.9 169.2L152.3 169.7L152.2 169.8L151.5 170.5L151.4 170.5L150.7 171.2L150.7 171.2L149.9 171.9L149.9 172L149.2 172.7L149.2 172.7L148.5 173.4L148.5 173.5L147.8 174.2L147.7 174.3L147.1 174.9L147 175.1L146.5 175.7L146.2 176L145.8 176.4L145.5 176.8L145.2 177.2L144.8 177.7L144.6 177.9L144 178.6L143.9 178.7L143.3 179.4L143.3 179.5L142.7 180.2L142.5 180.4L142.1 180.9L141.8 181.3L141.5 181.7L141.1 182.2L140.8 182.4L140.3 183L140.2 183.1L139.6 183.9L139.5 183.9L138.8 184.6L138.8 184.6L138.1 185.3L138 185.4L137.4 185.8L136.7 186.1L136.6 186.2L135.9 186.3L135.1 186.2L134.9 186.1L134.4 185.9L133.7 185.4L133.7 185.3L133 184.6L132.9 184.6L132.4 183.9L132.2 183.6L131.9 183.1L131.4 182.6L131.3 182.4L130.9 181.7L130.7 181.4L130.4 180.9L129.9 180.2L129.9 180.2L129.5 179.4L129.2 179L129 178.7L128.6 177.9L128.5 177.7L128.1 177.2L127.7 176.5L127.7 176.4L127.2 175.7L127 175.3L126.8 174.9L126.3 174.2L126.2 174.2L125.8 173.4L125.5 173.1L125.3 172.7L124.8 172L124.7 172L124.2 171.2L124 171L123.6 170.5L123.3 170.1L123 169.7L122.5 169.2L122.4 169L121.8 168.3L121.7 168.2L121.1 167.6L121 167.5L120.3 166.9L120.2 166.7L119.6 166.2L119.3 166L118.8 165.7L118.2 165.2L118.1 165.2L117.4 164.7L116.9 164.5L117.4 164.5ZM274.4 218.9L273.7 219.1L272.9 219.3L272.2 219.4L271.4 219.6L271.1 219.7L270.7 219.8L270 219.9L269.2 220.1L268.5 220.3L267.9 220.4L267.7 220.5L267 220.6L266.3 220.8L265.5 221.1L265.2 221.2L264.8 221.3L264 221.6L263.3 221.9L263.3 221.9L262.6 222.3L262 222.7L261.8 222.8L261.1 223.4L261 223.4L260.3 224.1L260.3 224.2L259.7 224.9L259.6 225.1L259.3 225.7L258.9 226.4L258.8 226.7L258.7 227.1L258.6 227.9L258.5 228.6L258.5 229.4L258.5 230.1L258.6 230.9L258.8 231.6L258.8 231.9L259 232.4L259.2 233.1L259.5 233.9L259.6 234L259.8 234.6L260.2 235.4L260.3 235.6L260.6 236.1L261 236.8L261.1 237.1L261.4 237.6L261.8 238.3L261.8 238.4L262.1 239.1L262.5 239.8L262.6 239.9L262.9 240.6L263.2 241.3L263.3 241.5L263.5 242.1L263.8 242.8L264 243.5L264.1 243.6L264.3 244.3L264.5 245L264.7 245.8L264.8 246.2L264.9 246.5L265 247.3L265.1 248L265.3 248.8L265.4 249.5L265.5 250.3L265.5 250.4L265.6 251L265.7 251.8L265.8 252.5L265.9 253.3L266 254L266.1 254.7L266.2 255.5L266.3 256.1L266.3 256.2L266.4 257L266.5 257.7L266.6 258.5L266.7 259.2L266.8 260L267 260.7L267 260.9L267.1 261.5L267.3 262.2L267.4 262.9L267.6 263.7L267.7 264.3L267.8 264.4L268 265.2L268.2 265.9L268.4 266.7L268.5 266.9L268.7 267.4L268.9 268.2L269.2 268.9L269.2 268.9L269.5 269.7L269.9 270.4L270 270.5L270.3 271.2L270.7 271.8L270.8 271.9L271.3 272.6L271.4 272.9L271.8 273.4L272.2 273.8L272.5 274.1L272.9 274.6L273.3 274.9L273.7 275.2L274.2 275.6L274.4 275.8L275.1 276.3L275.4 276.4L275.9 276.7L276.6 277L276.8 277.1L277.4 277.3L278.1 277.6L278.8 277.8L278.9 277.9L279.6 278L280.3 278.2L281.1 278.3L281.8 278.4L282.6 278.4L283.3 278.5L284 278.4L284.8 278.4L285.5 278.3L286.3 278.2L287 278L287.4 277.9L287.7 277.7L288.5 277.5L289.2 277.1L289.2 277.1L290 276.7L290.5 276.4L290.7 276.2L291.4 275.6L291.5 275.6L292.2 275L292.3 274.9L292.9 274.2L293 274.1L293.6 273.4L293.7 273.3L294.1 272.6L294.4 272.3L294.6 271.9L295.1 271.2L295.1 271L295.5 270.4L295.8 269.7L295.9 269.5L296.2 268.9L296.5 268.2L296.6 267.7L296.7 267.4L297 266.7L297.2 265.9L297.4 265.5L297.5 265.2L297.7 264.4L297.8 263.7L298 262.9L298.1 262.5L298.2 262.2L298.3 261.5L298.4 260.7L298.6 260L298.7 259.2L298.8 258.5L298.8 257.9L298.9 257.7L299 257L299 256.2L299.1 255.5L299.2 254.7L299.2 254L299.2 253.3L299.3 252.5L299.3 251.8L299.3 251L299.3 250.3L299.3 249.5L299.3 248.8L299.3 248L299.3 247.3L299.2 246.5L299.2 245.8L299.1 245L299.1 244.3L299 243.6L298.9 242.8L298.8 242.1L298.8 242.1L298.7 241.3L298.6 240.6L298.5 239.8L298.4 239.1L298.3 238.3L298.1 237.6L298.1 237.6L297.9 236.8L297.8 236.1L297.6 235.4L297.4 234.7L297.4 234.6L297.1 233.9L296.9 233.1L296.6 232.4L296.6 232.4L296.4 231.6L296.1 230.9L295.9 230.5L295.7 230.1L295.4 229.4L295.1 228.9L295 228.6L294.6 227.9L294.4 227.5L294.2 227.1L293.7 226.4L293.7 226.3L293.2 225.7L292.9 225.3L292.7 224.9L292.2 224.3L292.1 224.2L291.4 223.5L291.4 223.4L290.7 222.7L290.7 222.7L290 222L289.8 221.9L289.2 221.4L288.9 221.2L288.5 220.9L287.8 220.4L287.7 220.4L287 220L286.5 219.7L286.3 219.6L285.5 219.3L284.8 219L284.7 218.9L284 218.7L283.3 218.6L282.6 218.4L281.8 218.3L281.1 218.2L280.3 218.2L279.6 218.2L278.8 218.3L278.1 218.3L277.4 218.4L276.6 218.5L275.9 218.6L275.1 218.8L274.4 218.9L274.4 218.9ZM116.1 243.6L115.9 243.6L115.1 244.3L115.1 244.3L114.5 245L114.4 245.3L114.1 245.8L113.8 246.5L113.6 246.9L113.5 247.3L113.4 248L113.2 248.8L113.2 249.5L113.1 250.3L113.2 251L113.2 251.8L113.4 252.5L113.5 253.3L113.6 253.6L113.8 254L114.1 254.7L114.4 255.3L114.5 255.5L115.1 256.2L115.1 256.3L115.9 257L115.9 257L116.6 257.3L117.4 257.5L118.1 257.4L118.8 257.1L119 257L119.6 256.5L119.8 256.2L120.3 255.6L120.4 255.5L120.8 254.7L121.1 254L121.1 254L121.3 253.3L121.5 252.5L121.6 251.8L121.6 251L121.6 250.3L121.6 249.5L121.5 248.8L121.4 248L121.2 247.3L121.1 246.8L121 246.5L120.6 245.8L120.3 245.2L120.2 245L119.6 244.3L119.6 244.2L118.8 243.6L118.7 243.6L118.1 243.3L117.4 243.2L116.6 243.3L116.1 243.6ZM192.8 262.9L192.2 263.4L191.9 263.7L191.4 264.3L191.3 264.4L190.9 265.2L190.7 265.6L190.5 265.9L190.2 266.7L190 267.4L189.9 267.4L189.7 268.2L189.5 268.9L189.3 269.7L189.2 270L189.1 270.4L189 271.2L188.8 271.9L188.7 272.6L188.6 273.4L188.5 273.9L188.4 274.1L188.3 274.9L188.2 275.6L188.1 276.4L188 277.1L187.9 277.9L187.8 278.6L187.7 279.2L187.7 279.4L187.6 280.1L187.5 280.8L187.4 281.6L187.3 282.3L187.2 283.1L187.1 283.8L187 284.3L187 284.6L186.8 285.3L186.7 286.1L186.5 286.8L186.4 287.6L186.2 288.2L186.2 288.3L186.1 289.1L185.9 289.8L185.7 290.5L185.5 291.3L185.5 291.4L185.3 292L185.2 292.8L185 293.5L184.8 294.3L184.8 294.3L184.6 295L184.4 295.8L184.2 296.5L184 297.3L184 297.3L183.9 298L183.7 298.7L183.5 299.5L183.4 300.2L183.3 300.7L183.2 301L183.1 301.7L183 302.5L182.8 303.2L182.7 304L182.6 304.7L182.5 305.4L182.5 305.5L182.5 306.2L182.4 307L182.3 307.7L182.3 308.4L182.2 309.2L182.2 309.9L182.2 310.7L182.2 311.4L182.2 312.2L182.2 312.9L182.3 313.7L182.3 314.4L182.4 315.2L182.4 315.9L182.5 316.6L182.5 317L182.6 317.4L182.7 318.1L182.8 318.9L182.9 319.6L183 320.4L183.1 321.1L183.2 321.9L183.3 322.5L183.3 322.6L183.4 323.4L183.5 324.1L183.6 324.9L183.7 325.6L183.7 326.3L183.8 327.1L183.8 327.8L183.8 328.6L183.7 329.3L183.7 330.1L183.6 330.8L183.5 331.6L183.4 332.3L183.3 332.7L183.2 333.1L183 333.8L182.8 334.5L182.6 335.3L182.5 335.6L182.4 336L182.2 336.8L181.9 337.5L181.8 338L181.7 338.3L181.5 339L181.2 339.8L181.1 340.4L181 340.5L180.8 341.3L180.6 342L180.4 342.8L180.3 343L180.2 343.5L180 344.2L179.8 345L179.7 345.7L179.6 346.1L179.5 346.5L179.4 347.2L179.2 348L179.1 348.7L179 349.5L178.9 350.2L178.8 350.4L178.8 351L178.7 351.7L178.6 352.4L178.5 353.2L178.5 353.9L178.4 354.7L178.4 355.4L178.3 356.2L178.3 356.9L178.3 357.7L178.2 358.4L178.2 359.2L178.2 359.9L178.3 360.7L178.3 361.4L178.3 362.1L178.3 362.9L178.4 363.6L178.4 364.4L178.5 365.1L178.6 365.9L178.6 366.6L178.7 367.4L178.8 368.1L178.8 368.2L178.9 368.9L179.1 369.6L179.2 370.3L179.3 371.1L179.5 371.8L179.6 372.1L179.7 372.6L179.9 373.3L180.1 374.1L180.3 374.8L180.3 374.8L180.6 375.6L180.9 376.3L181.1 376.8L181.2 377.1L181.5 377.8L181.8 378.3L181.9 378.6L182.4 379.3L182.5 379.5L182.9 380L183.3 380.5L183.5 380.8L184 381.4L184.2 381.5L184.8 382L185.1 382.3L185.5 382.5L186.2 382.9L186.4 383L187 383.3L187.7 383.5L188.5 383.6L189.2 383.7L190 383.6L190.7 383.5L191.4 383.4L192.2 383.1L192.4 383L192.9 382.8L193.7 382.4L193.8 382.3L194.4 381.9L194.8 381.5L195.1 381.3L195.7 380.8L195.9 380.6L196.4 380L196.6 379.8L197 379.3L197.4 378.9L197.6 378.6L198.1 377.8L198.1 377.8L198.6 377.1L198.8 376.6L199 376.3L199.4 375.6L199.6 375.2L199.8 374.8L200.1 374.1L200.3 373.6L200.4 373.3L200.7 372.6L201 371.8L201.1 371.6L201.2 371.1L201.4 370.3L201.7 369.6L201.8 369L201.8 368.9L202 368.1L202.2 367.4L202.3 366.6L202.5 365.9L202.5 365.4L202.6 365.1L202.7 364.4L202.8 363.6L202.9 362.9L203 362.1L203 361.4L203.1 360.7L203.1 359.9L203.1 359.2L203.2 358.4L203.2 357.7L203.2 356.9L203.2 356.2L203.1 355.4L203.1 354.7L203.1 353.9L203 353.2L203 352.4L202.9 351.7L202.9 351L202.8 350.2L202.7 349.5L202.6 348.7L202.6 348L202.5 347.9L202.5 347.2L202.4 346.5L202.3 345.7L202.2 345L202.1 344.2L202 343.5L201.9 342.8L201.8 342.1L201.8 342L201.7 341.3L201.6 340.5L201.5 339.8L201.5 339L201.4 338.3L201.4 337.5L201.3 336.8L201.3 336L201.3 335.3L201.3 334.5L201.3 333.8L201.3 333.1L201.4 332.3L201.5 331.6L201.6 330.8L201.7 330.1L201.8 329.3L201.8 329.1L201.9 328.6L202.1 327.8L202.2 327.1L202.4 326.3L202.5 325.6L202.5 325.6L202.7 324.9L202.9 324.1L203.1 323.4L203.3 322.6L203.3 322.5L203.5 321.9L203.6 321.1L203.8 320.4L204 319.6L204 319.4L204.2 318.9L204.3 318.1L204.5 317.4L204.6 316.6L204.7 315.9L204.8 315.7L204.9 315.2L205 314.4L205.1 313.7L205.2 312.9L205.3 312.2L205.4 311.4L205.4 310.7L205.5 309.9L205.5 309.7L205.5 309.2L205.6 308.4L205.6 307.7L205.6 307L205.7 306.2L205.7 305.5L205.6 304.7L205.6 304L205.6 303.2L205.6 302.5L205.5 301.8L205.5 301.7L205.5 301L205.4 300.2L205.3 299.5L205.3 298.7L205.2 298L205.1 297.3L205 296.5L204.9 295.8L204.8 295L204.8 294.9L204.7 294.3L204.6 293.5L204.5 292.8L204.3 292L204.2 291.3L204.1 290.5L204 290.1L204 289.8L203.9 289.1L203.8 288.3L203.6 287.6L203.5 286.8L203.4 286.1L203.3 285.4L203.3 285.3L203.2 284.6L203 283.8L202.9 283.1L202.8 282.3L202.7 281.6L202.5 280.9L202.5 280.8L202.4 280.1L202.3 279.4L202.1 278.6L202 277.9L201.8 277.1L201.8 277L201.7 276.4L201.5 275.6L201.3 274.9L201.1 274.1L201.1 273.9L200.9 273.4L200.7 272.6L200.5 271.9L200.3 271.2L200.3 271.2L200 270.4L199.8 269.7L199.6 269.1L199.5 268.9L199.2 268.2L198.9 267.4L198.8 267.3L198.5 266.7L198.1 265.9L198.1 265.9L197.7 265.2L197.4 264.7L197.1 264.4L196.6 263.8L196.4 263.7L195.9 263.2L195.5 262.9L195.1 262.8L194.4 262.6L193.7 262.6L192.9 262.9L192.8 262.9ZM229.6 281.6L229.2 281.9L228.8 282.3L228.5 282.9L228.3 283.1L228 283.8L227.7 284.6L227.7 284.6L227.5 285.3L227.4 286.1L227.2 286.8L227.1 287.6L227 288.3L227 288.9L227 289.1L226.9 289.8L226.9 290.5L226.9 291.3L226.9 292L227 292.8L227 293L227 293.5L227.1 294.3L227.2 295L227.3 295.8L227.4 296.5L227.5 297.3L227.7 298L227.7 298.2L227.8 298.7L228 299.5L228.2 300.2L228.4 301L228.5 301.2L228.6 301.7L228.9 302.5L229.1 303.2L229.2 303.8L229.3 304L229.5 304.7L229.6 305.5L229.8 306.2L229.9 307L230 307.5L230 307.7L230 308.4L230.1 309.2L230.1 309.9L230.1 310.7L230.1 311.4L230.1 312.2L230 312.9L230 313.7L230 314.4L230 314.6L229.9 315.2L229.9 315.9L229.8 316.6L229.8 317.4L229.7 318.1L229.7 318.9L229.6 319.6L229.6 320.4L229.5 321.1L229.5 321.9L229.4 322.6L229.3 323.4L229.2 324.1L229.2 324.3L229.1 324.9L229 325.6L228.9 326.3L228.8 327.1L228.6 327.8L228.5 328.6L228.5 328.6L228.3 329.3L228.1 330.1L227.9 330.8L227.7 331.6L227.7 331.6L227.5 332.3L227.3 333.1L227.1 333.8L227 334.4L227 334.5L226.8 335.3L226.6 336L226.4 336.8L226.3 337.5L226.2 337.5L226.1 338.3L225.9 339L225.8 339.8L225.7 340.5L225.5 341.3L225.5 341.5L225.4 342L225.3 342.8L225.3 343.5L225.2 344.2L225.1 345L225.1 345.7L225 346.5L225 347.2L225 348L225 348.7L225 349.5L225 350.2L225.1 351L225.1 351.7L225.2 352.4L225.3 353.2L225.3 353.9L225.5 354.7L225.5 355L225.6 355.4L225.7 356.2L225.8 356.9L226 357.7L226.2 358.4L226.3 358.7L226.4 359.2L226.6 359.9L226.8 360.7L227 361.2L227 361.4L227.3 362.1L227.6 362.9L227.7 363.2L227.9 363.6L228.2 364.4L228.5 364.9L228.6 365.1L229 365.9L229.2 366.3L229.4 366.6L229.8 367.4L230 367.6L230.2 368.1L230.7 368.8L230.7 368.9L231.2 369.6L231.4 370L231.7 370.3L232.1 371.1L232.2 371.2L232.6 371.8L232.9 372.4L233.1 372.6L233.5 373.3L233.7 373.6L233.9 374.1L234.3 374.8L234.4 374.9L234.8 375.6L235.1 376.2L235.2 376.3L235.7 377.1L235.9 377.4L236.2 377.8L236.6 378.4L236.8 378.6L237.4 379.1L237.7 379.3L238.1 379.5L238.8 379.7L239.6 379.4L239.7 379.3L240.3 378.7L240.4 378.6L240.8 377.8L241.1 377.3L241.1 377.1L241.3 376.3L241.5 375.6L241.6 374.8L241.7 374.1L241.8 373.3L241.8 372.8L241.8 372.6L241.9 371.8L241.9 371.1L241.9 370.3L242 369.6L242.1 368.9L242.2 368.1L242.3 367.4L242.4 366.6L242.5 365.9L242.5 365.7L242.7 365.1L242.8 364.4L243 363.6L243.2 362.9L243.3 362.5L243.4 362.1L243.6 361.4L243.8 360.7L244 359.9L244 359.9L244.2 359.2L244.5 358.4L244.7 357.7L244.8 357.2L244.8 356.9L245 356.2L245.1 355.4L245.2 354.7L245.3 353.9L245.4 353.2L245.5 352.4L245.5 351.7L245.5 351.7L245.6 351L245.6 350.2L245.6 349.5L245.6 348.7L245.7 348L245.7 347.2L245.7 346.5L245.7 345.7L245.8 345L245.8 344.2L245.8 343.5L245.8 342.8L245.9 342L245.9 341.3L245.9 340.5L246 339.8L246 339L246 338.3L246.1 337.5L246.1 336.8L246.1 336L246.2 335.3L246.2 334.5L246.3 334L246.3 333.8L246.3 333.1L246.3 332.3L246.4 331.6L246.4 330.8L246.4 330.1L246.5 329.3L246.5 328.6L246.5 327.8L246.5 327.1L246.5 326.3L246.6 325.6L246.6 324.9L246.6 324.1L246.6 323.4L246.6 322.6L246.6 321.9L246.6 321.1L246.6 320.4L246.6 319.6L246.6 318.9L246.6 318.1L246.6 317.4L246.6 316.6L246.6 315.9L246.6 315.2L246.5 314.4L246.5 313.7L246.5 312.9L246.4 312.2L246.4 311.4L246.3 310.7L246.3 310L246.2 309.9L246.2 309.2L246.1 308.4L245.9 307.7L245.8 307L245.6 306.2L245.5 305.6L245.5 305.5L245.2 304.7L245 304L244.8 303.3L244.7 303.2L244.4 302.5L244 301.7L244 301.7L243.6 301L243.3 300.6L243 300.2L242.5 299.7L242.4 299.5L241.8 298.9L241.6 298.7L241.1 298.3L240.6 298L240.3 297.8L239.6 297.3L239.5 297.3L238.8 296.9L238.4 296.5L238.1 296.3L237.6 295.8L237.4 295.5L237.1 295L236.7 294.3L236.6 294.2L236.4 293.5L236.1 292.8L235.9 292L235.9 292L235.7 291.3L235.5 290.5L235.3 289.8L235.1 289.3L235.1 289.1L234.9 288.3L234.7 287.6L234.4 286.8L234.4 286.8L234.2 286.1L233.9 285.3L233.7 284.8L233.6 284.6L233.2 283.8L232.9 283.3L232.7 283.1L232.2 282.3L232.2 282.3L231.4 281.6L231.3 281.6L230.7 281.3L230 281.4L229.6 281.6ZM279.9 378.6L279.6 379.2L279.6 379.3L279.6 379.4L279.8 380L280.3 380.6L280.9 380.8L281.1 380.8L281.2 380.8L281.8 380.5L282.3 380L282.5 379.3L282.2 378.6L281.8 378.2L281.1 377.9L280.3 378.2L279.9 378.6ZM105.7 329.3L106.1 330.1L106.2 330.4L106.4 330.8L106.7 331.6L107 332.3L107 332.3L107.2 333.1L107.3 333.8L107.4 334.5L107.4 335.3L107.4 336L107.3 336.8L107.2 337.5L107.1 338.3L107 338.7L106.9 339L106.7 339.8L106.5 340.5L106.3 341.3L106.2 341.6L106.1 342L105.9 342.8L105.7 343.5L105.5 344.2L105.5 344.3L105.5 344.2L105.5 343.5L105.5 342.8L105.5 342L105.5 341.3L105.5 340.5L105.5 339.8L105.5 339L105.5 338.3L105.5 337.5L105.5 336.8L105.5 336L105.5 335.3L105.5 334.5L105.5 333.8L105.5 333.1L105.5 332.3L105.5 331.6L105.5 330.8L105.5 330.1L105.5 329.3L105.5 328.9L105.7 329.3Z" fill="#f8fad6" stroke="#f8fad6" stroke-width="0.6"/>
<path d="M107.7 165L108.5 164.6L108.7 164.5L109.2 164.5L109.9 164.5L110.7 164.5L111.4 164.5L112.2 164.5L112.9 164.5L113.6 164.5L114.4 164.5L115.1 164.5L115.9 164.5L116.6 164.5L116.9 164.5L117.4 164.7L118.1 165.2L118.2 165.2L118.8 165.7L119.3 166L119.6 166.2L120.2 166.7L120.3 166.9L121 167.5L121.1 167.6L121.7 168.2L121.8 168.3L122.4 169L122.5 169.2L123 169.7L123.3 170.1L123.6 170.5L124 171L124.2 171.2L124.7 172L124.8 172L125.3 172.7L125.5 173.1L125.8 173.4L126.2 174.2L126.3 174.2L126.8 174.9L127 175.3L127.2 175.7L127.7 176.4L127.7 176.5L128.1 177.2L128.5 177.7L128.6 177.9L129 178.7L129.2 179L129.5 179.4L129.9 180.2L129.9 180.2L130.4 180.9L130.7 181.4L130.9 181.7L131.3 182.4L131.4 182.6L131.9 183.1L132.2 183.6L132.4 183.9L132.9 184.6L133 184.6L133.7 185.3L133.7 185.4L134.4 185.9L134.9 186.1L135.1 186.2L135.9 186.3L136.6 186.2L136.7 186.1L137.4 185.8L138 185.4L138.1 185.3L138.8 184.6L138.8 184.6L139.5 183.9L139.6 183.9L140.2 183.1L140.3 183L140.8 182.4L141.1 182.2L141.5 181.7L141.8 181.3L142.1 180.9L142.5 180.4L142.7 180.2L143.3 179.5L143.3 179.4L143.9 178.7L144 178.6L144.6 177.9L144.8 177.7L145.2 177.2L145.5 176.8L145.8 176.4L146.2 176L146.5 175.7L147 175.1L147.1 174.9L147.7 174.3L147.8 174.2L148.5 173.5L148.5 173.4L149.2 172.7L149.2 172.7L149.9 172L149.9 171.9L150.7 171.2L150.7 171.2L151.4 170.5L151.5 170.5L152.2 169.8L152.3 169.7L152.9 169.2L153.2 169L153.7 168.6L154.2 168.2L154.4 168.1L155.1 167.6L155.3 167.5L155.9 167.1L156.6 166.7L156.6 166.7L157.4 166.4L158.1 166L158.2 166L158.8 165.8L159.6 165.5L160.3 165.3L160.5 165.2L161.1 165.1L161.8 165L162.5 164.8L163.3 164.8L164 164.7L164.8 164.7L165.5 164.7L166.2 164.7L167 164.8L167.7 164.9L168.5 165L169.2 165.1L169.6 165.2L169.9 165.3L170.7 165.5L171.4 165.8L172 166L172.2 166.1L172.9 166.4L173.7 166.7L173.7 166.7L174.4 167.1L175.1 167.5L175.1 167.5L175.9 167.9L176.3 168.2L176.6 168.4L177.4 169L177.4 169L178.1 169.5L178.3 169.7L178.8 170.1L179.2 170.5L179.6 170.8L180 171.2L180.3 171.5L180.7 172L181.1 172.3L181.4 172.7L181.8 173.1L182.1 173.4L182.5 174L182.7 174.2L183.3 174.9L183.3 175L183.8 175.7L184 176L184.3 176.4L184.8 177.2L184.8 177.2L185.2 177.9L185.5 178.4L185.6 178.7L186 179.4L186.2 179.8L186.4 180.2L186.8 180.9L187 181.4L187.1 181.7L187.4 182.4L187.7 183.1L187.7 183.1L188 183.9L188.3 184.6L188.5 185.1L188.6 185.4L188.8 186.1L189 186.9L189.2 187.6L189.2 187.6L189.4 188.4L189.6 189.1L189.8 189.9L189.9 190.6L190 190.7L190.1 191.3L190.2 192.1L190.4 192.8L190.5 193.6L190.6 194.3L190.7 194.7L190.8 195.1L190.9 195.8L191 196.6L191.2 197.3L191.3 198.1L191.4 198.8L191.4 198.8L191.6 199.6L191.7 200.3L191.9 201L192 201.8L192.1 202.5L192.2 203L192.2 203.3L192.3 204L192.5 204.8L192.6 205.5L192.8 206.3L192.9 206.6L193 207L193.4 207.8L193.7 208.2L193.8 208.5L194.4 209.2L194.4 209.2L195.1 209.9L195.2 210L195.9 210.5L196.2 210.7L196.6 211.1L197.2 211.5L197.4 211.6L198.1 212.1L198.3 212.2L198.8 212.6L199.3 213L199.6 213.2L200.3 213.7L200.3 213.8L201.1 214.4L201.2 214.5L201.8 215.1L202 215.2L202.5 215.8L202.7 216L203.3 216.7L203.3 216.7L203.9 217.5L204 217.6L204.4 218.2L204.8 218.7L204.9 218.9L205.3 219.7L205.5 220L205.7 220.4L206.1 221.2L206.2 221.7L206.4 221.9L206.6 222.7L206.8 223.4L207 224L207 224.2L207.2 224.9L207.3 225.7L207.3 226.4L207.3 227.1L207.3 227.9L207.1 228.6L207 229.2L206.9 229.4L206.7 230.1L206.3 230.9L206.2 231L205.9 231.6L205.5 232.1L205.3 232.4L204.8 233L204.6 233.1L204 233.6L203.8 233.9L203.3 234.2L202.7 234.6L202.5 234.7L201.8 235.2L201.5 235.4L201.1 235.6L200.3 235.9L199.9 236.1L199.6 236.2L198.8 236.5L198.1 236.8L198.1 236.8L197.4 237.1L196.6 237.4L196 237.6L195.9 237.6L195.1 237.9L194.4 238.2L193.9 238.3L193.7 238.4L192.9 238.7L192.2 239L191.8 239.1L191.4 239.2L190.7 239.5L190 239.8L190 239.8L189.2 240.2L188.5 240.5L188.3 240.6L187.7 240.9L187 241.3L186.9 241.3L186.2 241.7L185.6 242.1L185.5 242.2L184.8 242.7L184.6 242.8L184 243.3L183.7 243.6L183.3 244L183 244.3L182.5 245L182.5 245L182.1 245.8L181.8 246.4L181.8 246.5L181.5 247.3L181.4 248L181.3 248.8L181.2 249.5L181.2 250.3L181.1 251L181.2 251.8L181.2 252.5L181.2 253.3L181.3 254L181.3 254.7L181.4 255.5L181.4 256.2L181.5 257L181.5 257.7L181.6 258.5L181.6 259.2L181.7 260L181.7 260.7L181.8 261.5L181.8 261.7L181.8 262.2L181.9 262.9L181.9 263.7L182 264.4L182 265.2L182.1 265.9L182.1 266.7L182.2 267.4L182.2 268.2L182.3 268.9L182.3 269.7L182.3 270.4L182.4 271.2L182.4 271.9L182.4 272.6L182.5 273.4L182.5 274.1L182.5 274.9L182.5 275L182.6 275.6L182.6 276.4L182.6 277.1L182.6 277.9L182.6 278.6L182.7 279.4L182.7 280.1L182.7 280.8L182.7 281.6L182.6 282.3L182.6 283.1L182.6 283.8L182.6 284.6L182.5 285.3L182.5 285.3L182.5 286.1L182.5 286.8L182.4 287.6L182.3 288.3L182.3 289.1L182.2 289.8L182.1 290.5L182 291.3L181.9 292L181.8 292.6L181.8 292.8L181.7 293.5L181.5 294.3L181.4 295L181.3 295.8L181.2 296.5L181.1 297L181 297.3L180.9 298L180.7 298.7L180.6 299.5L180.5 300.2L180.3 301L180.3 301L180.2 301.7L180 302.5L179.9 303.2L179.8 304L179.6 304.7L179.6 304.9L179.5 305.5L179.4 306.2L179.2 307L179.1 307.7L179 308.4L178.8 309.2L178.8 309.3L178.7 309.9L178.6 310.7L178.5 311.4L178.4 312.2L178.3 312.9L178.2 313.7L178.1 314.1L178.1 314.4L178 315.2L177.9 315.9L177.8 316.6L177.6 317.4L177.5 318.1L177.4 318.9L177.4 319.5L177.3 319.6L177.2 320.4L177.1 321.1L177 321.9L176.9 322.6L176.8 323.4L176.7 324.1L176.6 324.4L176.5 324.9L176.4 325.6L176.3 326.3L176.1 327.1L176 327.8L175.9 328.3L175.8 328.6L175.7 329.3L175.5 330.1L175.3 330.8L175.2 331.6L175.1 331.7L175 332.3L174.8 333.1L174.7 333.8L174.5 334.5L174.4 334.9L174.3 335.3L174.1 336L174 336.8L173.8 337.5L173.7 338.3L173.7 338.3L173.5 339L173.4 339.8L173.2 340.5L173.1 341.3L173.1 342L173 342.8L172.9 343.5L172.9 343.6L172.9 344.2L172.8 345L172.8 345.7L172.8 346.5L172.8 347.2L172.8 348L172.8 348.7L172.8 349.5L172.8 350.2L172.8 351L172.9 351.7L172.9 352.4L172.9 353.2L172.9 353.9L172.9 354.4L172.9 354.7L172.9 355.4L172.9 356.2L172.9 356.9L173 357.7L173 358.4L173 359.2L173 359.9L173 360.7L173 361.4L173 362.1L172.9 362.9L172.9 363.6L172.9 364.4L172.9 365.1L172.9 365.2L172.9 365.9L172.9 366.6L172.8 367.4L172.8 368.1L172.8 368.9L172.7 369.6L172.7 370.3L172.6 371.1L172.5 371.8L172.4 372.6L172.3 373.3L172.2 374.1L172.2 374.5L172.1 374.8L171.9 375.6L171.7 376.3L171.5 377.1L171.4 377.3L171.2 377.8L170.8 378.6L170.7 378.7L170.1 379.3L169.9 379.4L169.2 379.6L168.5 379.4L168.3 379.3L167.7 378.8L167.6 378.6L167.1 377.8L167 377.7L166.7 377.1L166.3 376.3L166.2 376.1L166 375.6L165.8 374.8L165.6 374.1L165.5 373.9L165.4 373.3L165.2 372.6L165 371.8L164.9 371.1L164.8 370.5L164.7 370.3L164.6 369.6L164.5 368.9L164.4 368.1L164.3 367.4L164.2 366.6L164.2 365.9L164.1 365.1L164.1 364.4L164 363.7L164 363.6L164 362.9L164 362.1L163.9 361.4L163.9 360.7L163.9 359.9L163.9 359.2L163.9 358.4L163.9 357.7L163.9 356.9L164 356.2L164 355.4L164 354.7L164 354.5L164 353.9L164.1 353.2L164.1 352.4L164.1 351.7L164.1 351L164.2 350.2L164.2 349.5L164.1 348.7L164.1 348L164 347.2L164 347.1L164 346.5L163.8 345.7L163.7 345L163.5 344.2L163.3 343.6L163.2 343.5L163 342.8L162.7 342L162.5 341.8L162.3 341.3L162 340.5L161.8 340.2L161.6 339.8L161.2 339L161.1 338.8L160.8 338.3L160.4 337.5L160.3 337.3L160.1 336.8L159.8 336L159.6 335.7L159.4 335.3L159.1 334.5L158.8 333.8L158.8 333.8L158.6 333.1L158.3 332.3L158.1 331.6L158.1 331.5L157.9 330.8L157.7 330.1L157.5 329.3L157.4 328.6L157.4 328.4L157.2 327.8L157.1 327.1L157 326.3L156.9 325.6L156.8 324.9L156.7 324.1L156.7 323.4L156.6 322.6L156.6 322.6L156.6 321.9L156.5 321.1L156.5 320.4L156.5 319.6L156.5 318.9L156.5 318.1L156.5 317.4L156.5 316.6L156.5 315.9L156.5 315.2L156.5 314.4L156.5 313.7L156.5 312.9L156.5 312.2L156.5 311.4L156.5 310.7L156.5 309.9L156.5 309.2L156.5 308.4L156.5 307.7L156.5 307L156.4 306.2L156.4 305.5L156.3 304.7L156.3 304L156.2 303.2L156.2 302.5L156.1 301.7L156.1 301L156 300.2L155.9 299.5L155.9 299.2L155.8 298.7L155.8 298L155.7 297.3L155.6 296.5L155.5 295.8L155.4 295L155.3 294.3L155.2 293.5L155.1 292.8L155.1 292.8L155 292L155 291.3L154.9 290.5L154.8 289.8L154.7 289.1L154.6 288.3L154.5 287.6L154.4 286.8L154.4 286.8L154.3 286.1L154.2 285.3L154.1 284.6L154.1 283.8L154 283.1L153.9 282.3L153.8 281.6L153.8 280.8L153.7 280.1L153.7 279.4L153.7 279.1L153.6 278.6L153.6 277.9L153.5 277.1L153.5 276.4L153.5 275.6L153.5 274.9L153.5 274.1L153.5 273.4L153.5 272.6L153.6 271.9L153.6 271.2L153.6 270.4L153.7 270.1L153.7 269.7L153.7 268.9L153.8 268.2L153.9 267.4L153.9 266.7L154 265.9L154.1 265.2L154.2 264.4L154.2 263.7L154.3 262.9L154.4 262.5L154.4 262.2L154.5 261.5L154.6 260.7L154.7 260L154.8 259.2L154.9 258.5L155 257.7L155.1 257L155.1 257L155.2 256.2L155.3 255.5L155.4 254.7L155.5 254L155.6 253.3L155.7 252.5L155.8 251.8L155.8 251L155.9 250.3L155.9 250L155.9 249.5L155.9 248.8L155.9 248.3L155.9 248L155.8 247.3L155.7 246.5L155.5 245.8L155.3 245L155.1 244.5L155.1 244.3L154.7 243.6L154.4 243L154.3 242.8L153.8 242.1L153.7 241.9L153.2 241.3L152.9 241L152.5 240.6L152.2 240.2L151.7 239.8L151.4 239.6L150.8 239.1L150.7 239L149.9 238.5L149.5 238.3L149.2 238.2L148.5 237.9L147.7 237.7L147.3 237.6L147 237.5L146.2 237.5L145.5 237.4L144.8 237.5L144 237.6L143.9 237.6L143.3 237.7L142.5 237.8L141.8 237.9L141.1 238.1L140.3 238.2L139.6 238.2L138.8 238.3L138.1 238.3L137.4 238.3L137.4 238.3L136.6 238.4L135.9 238.4L135.1 238.4L134.4 238.5L133.7 238.5L132.9 238.7L132.2 238.8L131.4 239L131.1 239.1L130.7 239.2L129.9 239.3L129.2 239.3L128.5 239.3L127.7 239.1L127.7 239.1L127 238.8L126.2 238.3L126.2 238.3L125.5 237.9L125.1 237.6L124.8 237.4L124 236.9L124 236.8L123.3 236.4L122.7 236.1L122.5 236L121.8 235.6L121.1 235.4L121.1 235.3L120.3 235.1L119.6 234.9L118.8 234.8L118.1 234.8L117.4 234.8L116.6 234.9L115.9 235.1L115.2 235.4L115.1 235.4L114.4 235.7L113.8 236.1L113.6 236.2L112.9 236.7L112.7 236.8L112.2 237.3L111.9 237.6L111.4 238L111.2 238.3L110.7 238.9L110.5 239.1L110 239.8L109.9 239.9L109.5 240.6L109.2 241.1L109 241.3L108.6 242.1L108.5 242.5L108.3 242.8L108 243.6L107.7 244.2L107.7 244.3L107.4 245L107.2 245.8L107 246.5L107 246.6L106.8 247.3L106.6 248L106.5 248.8L106.4 249.5L106.4 250.3L106.4 251L106.4 251.8L106.4 252.5L106.5 253.3L106.6 254L106.8 254.7L107 255.3L107 255.5L107.2 256.2L107.5 257L107.7 257.4L107.8 257.7L108.2 258.5L108.5 258.9L108.6 259.2L109.1 260L109.2 260.1L109.6 260.7L109.9 261.1L110.2 261.5L110.7 262L110.9 262.2L111.4 262.7L111.7 262.9L112.2 263.4L112.6 263.7L112.9 264L113.6 264.4L113.6 264.5L114.4 265L114.8 265.2L115.1 265.4L115.9 265.8L116.2 265.9L116.6 266.1L117.4 266.4L118 266.7L118.1 266.7L118.8 267L119.6 267.2L120.2 267.4L120.3 267.5L121.1 267.7L121.8 268L122.2 268.2L122.5 268.4L123.3 268.9L123.3 268.9L123.9 269.7L124 269.8L124.4 270.4L124.7 271.2L124.8 271.2L125 271.9L125.2 272.6L125.4 273.4L125.5 273.7L125.6 274.1L125.7 274.9L125.9 275.6L126 276.4L126.1 277.1L126.2 277.9L126.2 278L126.3 278.6L126.4 279.4L126.5 280.1L126.6 280.8L126.7 281.6L126.7 282.3L126.8 283.1L126.9 283.8L126.9 284.6L127 285.3L127 285.4L127 286.1L127.1 286.8L127.1 287.6L127.2 288.3L127.2 289.1L127.2 289.8L127.3 290.5L127.3 291.3L127.3 292L127.3 292.8L127.3 293.5L127.3 294.3L127.3 295L127.3 295.8L127.3 296.5L127.3 297.3L127.3 298L127.2 298.7L127.2 299.5L127.2 300.2L127.1 301L127.1 301.7L127 302.5L127 302.8L126.9 303.2L126.9 304L126.8 304.7L126.7 305.5L126.6 306.2L126.5 307L126.4 307.7L126.3 308.4L126.2 308.6L126.1 309.2L126 309.9L125.9 310.7L125.7 311.4L125.5 312.2L125.5 312.3L125.3 312.9L125.2 313.7L125 314.4L124.8 315.1L124.8 315.2L124.5 315.9L124.3 316.6L124 317.4L124 317.5L123.8 318.1L123.5 318.9L123.3 319.5L123.2 319.6L122.9 320.4L122.6 321.1L122.5 321.3L122.3 321.9L122 322.6L121.8 323L121.6 323.4L121.3 324.1L121.1 324.6L120.9 324.9L120.6 325.6L120.3 326.1L120.2 326.3L119.8 327.1L119.6 327.6L119.5 327.8L119.1 328.6L118.8 329.3L118.8 329.3L118.5 330.1L118.3 330.8L118.1 331.4L118 331.6L117.9 332.3L117.8 333.1L117.7 333.8L117.7 334.5L117.7 335.3L117.8 336L118 336.8L118.1 337.4L118.1 337.5L118.3 338.3L118.5 339L118.8 339.8L118.8 340L119 340.5L119.2 341.3L119.5 342L119.6 342.3L119.7 342.8L120 343.5L120.2 344.2L120.3 344.7L120.4 345L120.6 345.7L120.8 346.5L121 347.2L121.1 347.3L121.2 348L121.4 348.7L121.6 349.5L121.7 350.2L121.8 350.4L121.9 351L122 351.7L122.2 352.4L122.3 353.2L122.4 353.9L122.5 354.7L122.5 355L122.6 355.4L122.7 356.2L122.7 356.9L122.8 357.7L122.8 358.4L122.9 359.2L122.9 359.9L122.9 360.7L122.9 361.4L122.9 362.1L122.9 362.9L122.9 363.6L122.8 364.4L122.7 365.1L122.7 365.9L122.6 366.6L122.5 366.8L122.5 367.4L122.3 368.1L122.2 368.9L122 369.6L121.9 370.3L121.8 370.6L121.7 371.1L121.5 371.8L121.2 372.6L121.1 373L120.9 373.3L120.6 374.1L120.3 374.8L120.3 374.8L119.9 375.6L119.6 376.2L119.5 376.3L119.1 377.1L118.8 377.4L118.5 377.8L118.1 378.4L117.9 378.6L117.4 379.2L117.2 379.3L116.6 379.8L116.3 380L115.9 380.3L115.1 380.7L114.9 380.8L114.4 381L113.6 381.1L112.9 381.2L112.2 381.1L111.4 380.9L111.2 380.8L110.7 380.6L109.9 380.2L109.8 380L109.2 379.6L108.9 379.3L108.5 378.9L108.2 378.6L107.7 378L107.6 377.8L107.1 377.1L107 376.9L106.6 376.3L106.2 375.7L106.2 375.6L105.8 374.8L105.5 374.1L105.5 374.1L105.5 373.3L105.5 372.6L105.5 371.8L105.5 371.1L105.5 370.3L105.5 369.6L105.5 368.9L105.5 368.1L105.5 367.4L105.5 366.6L105.5 365.9L105.5 365.1L105.5 364.4L105.5 363.6L105.5 362.9L105.5 362.1L105.5 361.4L105.5 360.7L105.5 359.9L105.5 359.2L105.5 358.4L105.5 357.7L105.5 356.9L105.5 356.2L105.5 355.4L105.5 354.7L105.5 353.9L105.5 353.2L105.5 352.4L105.5 351.7L105.5 351L105.5 350.2L105.5 349.5L105.5 348.7L105.5 348L105.5 347.2L105.5 346.5L105.5 345.7L105.5 345L105.5 344.3L105.5 344.2L105.7 343.5L105.9 342.8L106.1 342L106.2 341.6L106.3 341.3L106.5 340.5L106.7 339.8L106.9 339L107 338.7L107.1 338.3L107.2 337.5L107.3 336.8L107.4 336L107.4 335.3L107.4 334.5L107.3 333.8L107.2 333.1L107 332.3L107 332.3L106.7 331.6L106.4 330.8L106.2 330.4L106.1 330.1L105.7 329.3L105.5 328.9L105.5 328.6L105.5 327.8L105.5 327.1L105.5 326.3L105.5 325.6L105.5 324.9L105.5 324.1L105.5 323.4L105.5 322.6L105.5 321.9L105.5 321.1L105.5 320.4L105.5 319.6L105.5 318.9L105.5 318.1L105.5 317.4L105.5 316.6L105.5 315.9L105.5 315.2L105.5 314.4L105.5 313.7L105.5 312.9L105.5 312.2L105.5 311.4L105.5 310.7L105.5 309.9L105.5 309.2L105.5 308.4L105.5 307.7L105.5 307L105.5 306.2L105.5 305.5L105.5 304.7L105.5 304L105.5 303.2L105.5 302.5L105.5 301.7L105.5 301L105.5 300.2L105.5 299.5L105.5 298.7L105.5 298L105.5 297.3L105.5 296.5L105.5 295.8L105.5 295L105.5 294.3L105.5 293.5L105.5 292.8L105.5 292L105.5 291.3L105.5 290.5L105.5 289.8L105.5 289.1L105.5 288.3L105.5 287.6L105.5 287.4L105.5 287.6L105.7 288.3L105.9 289.1L106.1 289.8L106.2 290.1L106.4 290.5L106.8 291.3L107 291.7L107.2 292L107.6 292.8L107.7 292.9L108.2 293.5L108.5 293.8L109 294.3L109.2 294.4L109.9 294.8L110.5 295L110.7 295.1L111.4 295.2L112.2 295.1L112.3 295L112.9 294.8L113.6 294.3L113.7 294.3L114.4 293.6L114.4 293.5L115 292.8L115.1 292.6L115.5 292L115.9 291.3L115.9 291.3L116.2 290.5L116.4 289.8L116.6 289.3L116.7 289.1L116.9 288.3L117 287.6L117.1 286.8L117.2 286.1L117.3 285.3L117.3 284.6L117.3 283.8L117.3 283.1L117.2 282.3L117.1 281.6L117 280.8L116.8 280.1L116.6 279.4L116.6 279.3L116.4 278.6L116.1 277.9L115.9 277.4L115.7 277.1L115.3 276.4L115.1 276.2L114.7 275.6L114.4 275.3L114 274.9L113.6 274.6L112.9 274.1L112.9 274.1L112.2 273.8L111.4 273.7L110.7 273.7L109.9 273.8L109.3 274.1L109.2 274.2L108.5 274.7L108.3 274.9L107.7 275.5L107.6 275.6L107.1 276.4L107 276.6L106.7 277.1L106.3 277.9L106.2 278.1L106.1 278.6L105.8 279.4L105.6 280.1L105.5 280.7L105.5 280.1L105.5 279.4L105.5 278.6L105.5 277.9L105.5 277.1L105.5 276.4L105.5 275.6L105.5 274.9L105.5 274.1L105.5 273.4L105.5 272.6L105.5 271.9L105.5 271.2L105.5 270.4L105.5 269.7L105.5 268.9L105.5 268.2L105.5 267.4L105.5 266.7L105.5 265.9L105.5 265.2L105.5 264.4L105.5 263.7L105.5 262.9L105.5 262.2L105.5 261.5L105.5 260.7L105.5 260L105.5 259.2L105.5 258.5L105.5 257.7L105.5 257L105.5 256.2L105.5 255.5L105.5 254.7L105.5 254L105.5 253.3L105.5 252.5L105.5 251.8L105.5 251L105.5 250.3L105.5 249.5L105.5 248.8L105.5 248L105.5 247.3L105.5 246.5L105.5 245.8L105.5 245L105.5 244.3L105.5 243.6L105.5 242.8L105.5 242.1L105.5 241.3L105.5 240.6L105.5 239.8L105.5 239.1L105.5 238.3L105.5 237.6L105.5 236.8L105.5 236.1L105.5 235.4L105.5 234.6L105.5 233.9L105.5 233.1L105.5 232.4L105.5 231.6L105.5 230.9L105.5 230.1L105.5 229.4L105.5 228.6L105.5 227.9L105.5 227.1L105.5 226.4L105.5 225.7L105.5 224.9L105.5 224.2L105.5 223.4L105.5 222.7L105.5 221.9L105.5 221.2L105.5 220.4L105.5 219.7L105.5 218.9L105.5 218.2L105.5 217.5L105.5 216.7L105.5 216L105.5 215.2L105.5 214.5L106.2 215.2L106.3 215.2L107 215.7L107.4 216L107.7 216.2L108.5 216.5L108.9 216.7L109.2 216.8L109.9 217L110.7 217.1L111.4 217.2L112.2 217.1L112.9 216.9L113.4 216.7L113.6 216.6L114.4 216.2L114.7 216L115.1 215.7L115.6 215.2L115.9 215L116.4 214.5L116.6 214.2L117 213.7L117.4 213.2L117.5 213L118 212.2L118.1 212.1L118.4 211.5L118.8 210.7L118.8 210.7L119.2 210L119.5 209.2L119.6 209.1L119.8 208.5L120.1 207.8L120.3 207.1L120.3 207L120.6 206.3L120.8 205.5L120.9 204.8L121.1 204.3L121.1 204L121.3 203.3L121.4 202.5L121.5 201.8L121.6 201L121.7 200.3L121.7 199.6L121.7 198.8L121.8 198.1L121.8 197.3L121.8 196.6L121.7 195.8L121.7 195.1L121.6 194.3L121.5 193.6L121.4 192.8L121.3 192.1L121.1 191.3L121.1 191L121 190.6L120.8 189.9L120.6 189.1L120.3 188.4L120.3 188.3L120.1 187.6L119.8 186.9L119.6 186.4L119.4 186.1L119.1 185.4L118.8 184.9L118.7 184.6L118.2 183.9L118.1 183.7L117.7 183.1L117.4 182.6L117.2 182.4L116.6 181.7L116.5 181.7L115.9 181L115.8 180.9L115.1 180.3L114.9 180.2L114.4 179.8L113.7 179.4L113.6 179.4L112.9 179L112.2 178.8L111.6 178.7L111.4 178.6L110.7 178.5L109.9 178.5L109.2 178.6L108.8 178.7L108.5 178.7L107.7 178.9L107 179.2L106.7 179.4L106.2 179.6L105.5 180.1L105.5 179.4L105.5 178.7L105.5 177.9L105.5 177.2L105.5 176.4L105.5 175.7L105.5 174.9L105.5 174.2L105.5 173.4L105.5 172.7L105.5 172L105.5 171.2L105.5 170.5L105.5 169.7L105.5 169L105.5 168.2L105.5 167.5L105.5 166.7L105.5 166.5L106.2 166L106.2 166L107 165.5L107.3 165.2L107.7 165ZM164.1 200.3L164 200.3L163.3 200.4L162.5 200.6L161.8 200.8L161.2 201L161.1 201.1L160.3 201.4L159.6 201.8L159.6 201.8L158.8 202.3L158.6 202.5L158.1 203L157.8 203.3L157.4 203.9L157.3 204L156.9 204.8L156.7 205.5L156.7 206.3L156.7 207L156.9 207.8L157.2 208.5L157.4 208.7L157.7 209.2L158.1 209.8L158.3 210L158.8 210.6L159 210.7L159.6 211.2L160.1 211.5L160.3 211.6L161.1 212L161.8 212.2L161.9 212.2L162.5 212.4L163.3 212.5L164 212.6L164.8 212.6L165.5 212.6L166.2 212.5L167 212.4L167.7 212.3L168.1 212.2L168.5 212.2L169.2 212L169.9 211.8L170.7 211.6L170.9 211.5L171.4 211.3L172.2 211L172.7 210.7L172.9 210.6L173.7 210.2L174 210L174.4 209.7L174.9 209.2L175.1 209L175.6 208.5L175.9 208.1L176.1 207.8L176.4 207L176.6 206.3L176.5 205.5L176.3 204.8L176 204L175.9 203.9L175.4 203.3L175.1 203L174.6 202.5L174.4 202.4L173.7 201.9L173.4 201.8L172.9 201.5L172.2 201.2L171.8 201L171.4 200.9L170.7 200.7L169.9 200.5L169.2 200.4L168.8 200.3L168.5 200.3L167.7 200.2L167 200.1L166.2 200.1L165.5 200.2L164.8 200.2L164.1 200.3ZM154.2 217.5L153.7 217.6L152.9 218L152.4 218.2L152.2 218.3L151.4 218.7L151.1 218.9L150.7 219.2L150.1 219.7L149.9 219.8L149.3 220.4L149.2 220.5L148.7 221.2L148.5 221.6L148.3 221.9L148 222.7L147.9 223.4L147.9 224.2L148.1 224.9L148.5 225.7L148.5 225.7L148.9 226.4L149.2 226.8L149.5 227.1L149.9 227.6L150.2 227.9L150.7 228.3L151 228.6L151.4 229L151.9 229.4L152.2 229.6L152.8 230.1L152.9 230.2L153.7 230.8L153.7 230.9L154.4 231.4L154.6 231.6L155.1 232L155.6 232.4L155.9 232.6L156.6 233.1L156.6 233.1L157.4 233.6L157.7 233.9L158.1 234.2L158.7 234.6L158.8 234.7L159.6 235.2L159.8 235.4L160.3 235.7L161 236.1L161.1 236.2L161.8 236.7L162.1 236.8L162.5 237.2L163.2 237.6L163.3 237.7L164 238.2L164.2 238.3L164.8 238.7L165.3 239.1L165.5 239.3L166.2 239.8L166.4 239.8L167 240.2L167.7 240.6L167.8 240.6L168.5 240.7L169.2 240.7L169.4 240.6L169.9 240.4L170.7 240L170.9 239.8L171.4 239.5L172.1 239.1L172.2 239L172.9 238.5L173.2 238.3L173.7 238.1L174.4 237.6L174.4 237.6L175.1 237.1L175.5 236.8L175.9 236.6L176.6 236.2L176.7 236.1L177.4 235.7L177.9 235.4L178.1 235.2L178.8 234.8L179.1 234.6L179.6 234.3L180.3 233.9L180.4 233.9L181.1 233.4L181.5 233.1L181.8 232.9L182.5 232.5L182.7 232.4L183.3 232L183.9 231.6L184 231.5L184.8 231L185.1 230.9L185.5 230.6L186.2 230.2L186.4 230.1L187 229.8L187.7 229.5L187.9 229.4L188.5 229.1L189.2 228.8L189.7 228.6L190 228.5L190.7 228.2L191.4 227.9L191.4 227.9L192.2 227.4L192.7 227.1L192.9 227L193.6 226.4L193.7 226.3L194.2 225.7L194.4 225.3L194.6 224.9L194.7 224.2L194.7 223.4L194.4 222.8L194.3 222.7L193.7 222L193.6 221.9L192.9 221.6L192.2 221.4L191.4 221.2L190.7 221.2L190 221.3L189.2 221.5L188.5 221.7L187.7 221.9L187.7 221.9L187 222.2L186.2 222.5L185.6 222.7L185.5 222.7L184.8 222.9L184 223.1L183.3 223.2L182.5 223.3L181.8 223.3L181.1 223.3L180.3 223.2L179.6 223.1L178.8 223L178.1 222.9L177.4 222.7L177.2 222.7L176.6 222.5L175.9 222.4L175.1 222.2L174.4 222L174.1 221.9L173.7 221.8L172.9 221.6L172.2 221.4L171.4 221.2L171.2 221.2L170.7 221L169.9 220.8L169.2 220.6L168.7 220.4L168.5 220.4L167.7 220.1L167 219.8L166.6 219.7L166.2 219.5L165.5 219.2L164.8 218.9L164.8 218.9L164 218.6L163.3 218.2L163.2 218.2L162.5 217.9L161.8 217.6L161.4 217.5L161.1 217.3L160.3 217.1L159.6 216.9L158.8 216.8L158.1 216.8L157.4 216.8L156.6 216.9L155.9 217L155.1 217.2L154.4 217.4L154.2 217.5ZM167 245.8L167 245.8L166.2 246.5L166.2 246.5L165.6 247.3L165.5 247.4L165 248L164.8 248.3L164.5 248.8L164 249.5L164 249.5L163.5 250.3L163.3 250.7L163.1 251L162.7 251.8L162.5 252.1L162.4 252.5L162 253.3L161.8 253.7L161.7 254L161.4 254.7L161.1 255.5L161 255.5L160.8 256.2L160.5 257L160.3 257.5L160.2 257.7L160 258.5L159.7 259.2L159.6 259.7L159.5 260L159.3 260.7L159.1 261.5L158.8 262.2L158.8 262.2L158.6 262.9L158.4 263.7L158.3 264.4L158.1 265.1L158.1 265.2L157.9 265.9L157.7 266.7L157.6 267.4L157.4 268.2L157.4 268.4L157.3 268.9L157.1 269.7L157 270.4L156.9 271.2L156.7 271.9L156.6 272.6L156.6 272.8L156.5 273.4L156.4 274.1L156.4 274.9L156.3 275.6L156.2 276.4L156.2 277.1L156.1 277.9L156.1 278.6L156.1 279.4L156.1 280.1L156.1 280.8L156.1 281.6L156.1 282.3L156.1 283.1L156.1 283.8L156.2 284.6L156.2 285.3L156.3 286.1L156.3 286.8L156.4 287.6L156.4 288.3L156.5 289.1L156.6 289.8L156.6 290.2L156.7 290.5L156.7 291.3L156.8 292L156.9 292.8L157 293.5L157.1 294.3L157.2 295L157.3 295.8L157.4 296.3L157.4 296.5L157.5 297.3L157.6 298L157.7 298.7L157.8 299.5L157.9 300.2L158 301L158.1 301.7L158.1 301.7L158.2 302.5L158.3 303.2L158.4 304L158.5 304.7L158.6 305.5L158.7 306.2L158.8 307L158.8 307.7L158.8 307.9L158.9 308.4L158.9 309.2L159 309.9L159 310.7L159.1 311.4L159.1 312.2L159.1 312.9L159.1 313.7L159.1 314.4L159.1 315.2L159.2 315.9L159.2 316.6L159.2 317.4L159.2 318.1L159.3 318.9L159.3 319.6L159.4 320.4L159.5 321.1L159.6 321.9L159.6 322L159.7 322.6L159.8 323.4L160 324.1L160.2 324.9L160.3 325.5L160.4 325.6L160.6 326.3L160.9 327.1L161.1 327.5L161.2 327.8L161.6 328.6L161.8 328.9L162.1 329.3L162.5 329.9L162.7 330.1L163.3 330.7L163.5 330.8L164 331.3L164.6 331.6L164.8 331.6L165.5 331.9L166.2 331.9L167 331.8L167.4 331.6L167.7 331.4L168.5 330.9L168.5 330.8L169.2 330.1L169.2 330L169.7 329.3L169.9 328.9L170.1 328.6L170.5 327.8L170.7 327.3L170.8 327.1L171 326.3L171.3 325.6L171.4 325.2L171.5 324.9L171.7 324.1L171.9 323.4L172.1 322.6L172.2 322.2L172.3 321.9L172.4 321.1L172.5 320.4L172.7 319.6L172.8 318.9L172.9 318.2L172.9 318.1L173.1 317.4L173.2 316.6L173.3 315.9L173.5 315.2L173.6 314.4L173.7 314.1L173.8 313.7L173.9 312.9L174.1 312.2L174.3 311.4L174.4 310.9L174.5 310.7L174.6 309.9L174.9 309.2L175.1 308.4L175.1 308.2L175.3 307.7L175.5 307L175.7 306.2L175.9 305.6L175.9 305.5L176.1 304.7L176.3 304L176.6 303.2L176.6 303L176.8 302.5L176.9 301.7L177.1 301L177.3 300.2L177.4 300.1L177.5 299.5L177.7 298.7L177.8 298L178 297.3L178.1 296.6L178.1 296.5L178.3 295.8L178.4 295L178.5 294.3L178.6 293.5L178.7 292.8L178.8 292L178.8 291.8L178.9 291.3L179 290.5L179 289.8L179.1 289.1L179.1 288.3L179.2 287.6L179.2 286.8L179.2 286.1L179.2 285.3L179.3 284.6L179.3 283.8L179.2 283.1L179.2 282.3L179.2 281.6L179.2 280.8L179.1 280.1L179.1 279.4L179 278.6L179 277.9L178.9 277.1L178.8 276.4L178.8 276.3L178.8 275.6L178.7 274.9L178.6 274.1L178.5 273.4L178.4 272.6L178.3 271.9L178.3 271.2L178.2 270.4L178.1 270L178.1 269.7L177.9 268.9L177.8 268.2L177.7 267.4L177.6 266.7L177.5 265.9L177.4 265.2L177.4 265L177.3 264.4L177.1 263.7L177 262.9L176.9 262.2L176.7 261.5L176.6 260.9L176.6 260.7L176.4 260L176.3 259.2L176.1 258.5L175.9 257.7L175.9 257.6L175.7 257L175.5 256.2L175.3 255.5L175.1 255L175 254.7L174.8 254L174.5 253.3L174.4 253L174.2 252.5L173.9 251.8L173.7 251.2L173.5 251L173.2 250.3L172.9 249.8L172.8 249.5L172.3 248.8L172.2 248.5L171.8 248L171.4 247.4L171.3 247.3L170.7 246.5L170.7 246.5L170 245.8L169.9 245.8L169.2 245.3L168.5 245.2L167.7 245.3L167 245.8ZM112.1 357.7L111.4 358.4L111.4 358.4L111 359.2L110.7 359.7L110.6 359.9L110.4 360.7L110.2 361.4L110 362.1L110 362.9L109.9 363.1L109.9 363.6L109.9 364.4L109.9 364.7L110 365.1L110.1 365.9L110.2 366.6L110.4 367.4L110.7 368L110.7 368.1L111.1 368.9L111.4 369.3L111.7 369.6L112.2 370.1L112.6 370.3L112.9 370.5L113.6 370.7L114.4 370.6L114.8 370.3L115.1 370.2L115.8 369.6L115.9 369.5L116.3 368.9L116.6 368.2L116.7 368.1L116.9 367.4L117.1 366.6L117.3 365.9L117.4 365.3L117.4 365.1L117.4 364.4L117.4 363.6L117.4 363.1L117.3 362.9L117.2 362.1L117.1 361.4L116.9 360.7L116.6 360L116.6 359.9L116.2 359.2L115.9 358.6L115.7 358.4L115.1 357.8L114.9 357.7L114.4 357.3L113.6 357.1L112.9 357.2L112.2 357.6L112.1 357.7ZM274.4 218.9L275.1 218.8L275.9 218.6L276.6 218.5L277.4 218.4L278.1 218.3L278.8 218.3L279.6 218.2L280.3 218.2L281.1 218.2L281.8 218.3L282.6 218.4L283.3 218.6L284 218.7L284.7 218.9L284.8 219L285.5 219.3L286.3 219.6L286.5 219.7L287 220L287.7 220.4L287.8 220.4L288.5 220.9L288.9 221.2L289.2 221.4L289.8 221.9L290 222L290.7 222.7L290.7 222.7L291.4 223.4L291.4 223.5L292.1 224.2L292.2 224.3L292.7 224.9L292.9 225.3L293.2 225.7L293.7 226.3L293.7 226.4L294.2 227.1L294.4 227.5L294.6 227.9L295 228.6L295.1 228.9L295.4 229.4L295.7 230.1L295.9 230.5L296.1 230.9L296.4 231.6L296.6 232.4L296.6 232.4L296.9 233.1L297.1 233.9L297.4 234.6L297.4 234.7L297.6 235.4L297.8 236.1L297.9 236.8L298.1 237.6L298.1 237.6L298.3 238.3L298.4 239.1L298.5 239.8L298.6 240.6L298.7 241.3L298.8 242.1L298.8 242.1L298.9 242.8L299 243.6L299.1 244.3L299.1 245L299.2 245.8L299.2 246.5L299.3 247.3L299.3 248L299.3 248.8L299.3 249.5L299.3 250.3L299.3 251L299.3 251.8L299.3 252.5L299.2 253.3L299.2 254L299.2 254.7L299.1 255.5L299 256.2L299 257L298.9 257.7L298.8 257.9L298.8 258.5L298.7 259.2L298.6 260L298.4 260.7L298.3 261.5L298.2 262.2L298.1 262.5L298 262.9L297.8 263.7L297.7 264.4L297.5 265.2L297.4 265.5L297.2 265.9L297 266.7L296.7 267.4L296.6 267.7L296.5 268.2L296.2 268.9L295.9 269.5L295.8 269.7L295.5 270.4L295.1 271L295.1 271.2L294.6 271.9L294.4 272.3L294.1 272.6L293.7 273.3L293.6 273.4L293 274.1L292.9 274.2L292.3 274.9L292.2 275L291.5 275.6L291.4 275.6L290.7 276.2L290.5 276.4L290 276.7L289.2 277.1L289.2 277.1L288.5 277.5L287.7 277.7L287.4 277.9L287 278L286.3 278.2L285.5 278.3L284.8 278.4L284 278.4L283.3 278.5L282.6 278.4L281.8 278.4L281.1 278.3L280.3 278.2L279.6 278L278.9 277.9L278.8 277.8L278.1 277.6L277.4 277.3L276.8 277.1L276.6 277L275.9 276.7L275.4 276.4L275.1 276.3L274.4 275.8L274.2 275.6L273.7 275.2L273.3 274.9L272.9 274.6L272.5 274.1L272.2 273.8L271.8 273.4L271.4 272.9L271.3 272.6L270.8 271.9L270.7 271.8L270.3 271.2L270 270.5L269.9 270.4L269.5 269.7L269.2 268.9L269.2 268.9L268.9 268.2L268.7 267.4L268.5 266.9L268.4 266.7L268.2 265.9L268 265.2L267.8 264.4L267.7 264.3L267.6 263.7L267.4 262.9L267.3 262.2L267.1 261.5L267 260.9L267 260.7L266.8 260L266.7 259.2L266.6 258.5L266.5 257.7L266.4 257L266.3 256.2L266.3 256.1L266.2 255.5L266.1 254.7L266 254L265.9 253.3L265.8 252.5L265.7 251.8L265.6 251L265.5 250.4L265.5 250.3L265.4 249.5L265.3 248.8L265.1 248L265 247.3L264.9 246.5L264.8 246.2L264.7 245.8L264.5 245L264.3 244.3L264.1 243.6L264 243.5L263.8 242.8L263.5 242.1L263.3 241.5L263.2 241.3L262.9 240.6L262.6 239.9L262.5 239.8L262.1 239.1L261.8 238.4L261.8 238.3L261.4 237.6L261.1 237.1L261 236.8L260.6 236.1L260.3 235.6L260.2 235.4L259.8 234.6L259.6 234L259.5 233.9L259.2 233.1L259 232.4L258.8 231.9L258.8 231.6L258.6 230.9L258.5 230.1L258.5 229.4L258.5 228.6L258.6 227.9L258.7 227.1L258.8 226.7L258.9 226.4L259.3 225.7L259.6 225.1L259.7 224.9L260.3 224.2L260.3 224.1L261 223.4L261.1 223.4L261.8 222.8L262 222.7L262.6 222.3L263.3 221.9L263.3 221.9L264 221.6L264.8 221.3L265.2 221.2L265.5 221.1L266.3 220.8L267 220.6L267.7 220.5L267.9 220.4L268.5 220.3L269.2 220.1L270 219.9L270.7 219.8L271.1 219.7L271.4 219.6L272.2 219.4L272.9 219.3L273.7 219.1L274.4 218.9L274.4 218.9ZM274.7 229.4L274.4 229.5L273.7 229.7L272.9 230L272.5 230.1L272.2 230.3L271.4 230.6L270.9 230.9L270.7 231L270 231.4L269.7 231.6L269.2 232.1L268.9 232.4L268.5 233.1L268.4 233.1L268.1 233.9L268 234.6L267.9 235.4L267.9 236.1L267.9 236.8L268 237.6L268 238.3L268.1 239.1L268.2 239.8L268.3 240.6L268.4 241.3L268.5 242L268.5 242.1L268.6 242.8L268.6 243.6L268.7 244.3L268.8 245L268.8 245.8L268.9 246.5L269 247.3L269 248L269.1 248.8L269.1 249.5L269.2 250.3L269.2 250.3L269.3 251L269.4 251.8L269.5 252.5L269.6 253.3L269.7 254L269.8 254.7L269.9 255.5L270 255.7L270.1 256.2L270.2 257L270.4 257.7L270.6 258.5L270.7 258.9L270.8 259.2L271 260L271.3 260.7L271.4 261.1L271.6 261.5L271.9 262.2L272.2 262.9L272.2 262.9L272.6 263.7L272.9 264.3L273 264.4L273.5 265.2L273.7 265.4L274 265.9L274.4 266.4L274.7 266.7L275.1 267.2L275.4 267.4L275.9 267.9L276.3 268.2L276.6 268.4L277.4 268.9L277.4 268.9L278.1 269.3L278.8 269.6L279.2 269.7L279.6 269.8L280.3 269.9L281.1 270L281.8 270L282.6 270L283.3 269.8L284 269.7L284 269.6L284.8 269.4L285.5 269L285.7 268.9L286.3 268.6L286.9 268.2L287 268.1L287.7 267.5L287.8 267.4L288.5 266.7L288.5 266.7L289.2 265.9L289.2 265.8L289.7 265.2L290 264.8L290.2 264.4L290.7 263.7L290.7 263.6L291.1 262.9L291.4 262.2L291.4 262.2L291.8 261.5L292 260.7L292.2 260.3L292.3 260L292.6 259.2L292.8 258.5L292.9 257.9L293 257.7L293.1 257L293.3 256.2L293.4 255.5L293.6 254.7L293.7 254L293.7 253.9L293.7 253.3L293.8 252.5L293.8 251.8L293.9 251L293.9 250.3L293.9 249.5L293.9 248.8L293.8 248L293.8 247.3L293.7 246.5L293.7 246.1L293.6 245.8L293.5 245L293.4 244.3L293.3 243.6L293.1 242.8L292.9 242.1L292.9 242L292.7 241.3L292.5 240.6L292.3 239.8L292.2 239.5L292 239.1L291.7 238.3L291.4 237.7L291.4 237.6L291 236.8L290.7 236.2L290.6 236.1L290.2 235.4L290 234.9L289.7 234.6L289.2 233.9L289.2 233.9L288.6 233.1L288.5 233L287.9 232.4L287.7 232.2L287.2 231.6L287 231.5L286.3 230.9L286.2 230.9L285.5 230.4L285.1 230.1L284.8 230L284 229.6L283.5 229.4L283.3 229.3L282.6 229.1L281.8 228.9L281.1 228.8L280.3 228.7L279.6 228.7L278.8 228.7L278.1 228.7L277.4 228.8L276.6 228.9L275.9 229.1L275.1 229.3L274.7 229.4ZM230 281.4L230.7 281.3L231.3 281.6L231.4 281.6L232.2 282.3L232.2 282.3L232.7 283.1L232.9 283.3L233.2 283.8L233.6 284.6L233.7 284.8L233.9 285.3L234.2 286.1L234.4 286.8L234.4 286.8L234.7 287.6L234.9 288.3L235.1 289.1L235.1 289.3L235.3 289.8L235.5 290.5L235.7 291.3L235.9 292L235.9 292L236.1 292.8L236.4 293.5L236.6 294.2L236.7 294.3L237.1 295L237.4 295.5L237.6 295.8L238.1 296.3L238.4 296.5L238.8 296.9L239.5 297.3L239.6 297.3L240.3 297.8L240.6 298L241.1 298.3L241.6 298.7L241.8 298.9L242.4 299.5L242.5 299.7L243 300.2L243.3 300.6L243.6 301L244 301.7L244 301.7L244.4 302.5L244.7 303.2L244.8 303.3L245 304L245.2 304.7L245.5 305.5L245.5 305.6L245.6 306.2L245.8 307L245.9 307.7L246.1 308.4L246.2 309.2L246.2 309.9L246.3 310L246.3 310.7L246.4 311.4L246.4 312.2L246.5 312.9L246.5 313.7L246.5 314.4L246.6 315.2L246.6 315.9L246.6 316.6L246.6 317.4L246.6 318.1L246.6 318.9L246.6 319.6L246.6 320.4L246.6 321.1L246.6 321.9L246.6 322.6L246.6 323.4L246.6 324.1L246.6 324.9L246.6 325.6L246.5 326.3L246.5 327.1L246.5 327.8L246.5 328.6L246.5 329.3L246.4 330.1L246.4 330.8L246.4 331.6L246.3 332.3L246.3 333.1L246.3 333.8L246.3 334L246.2 334.5L246.2 335.3L246.1 336L246.1 336.8L246.1 337.5L246 338.3L246 339L246 339.8L245.9 340.5L245.9 341.3L245.9 342L245.8 342.8L245.8 343.5L245.8 344.2L245.8 345L245.7 345.7L245.7 346.5L245.7 347.2L245.7 348L245.6 348.7L245.6 349.5L245.6 350.2L245.6 351L245.5 351.7L245.5 351.7L245.5 352.4L245.4 353.2L245.3 353.9L245.2 354.7L245.1 355.4L245 356.2L244.8 356.9L244.8 357.2L244.7 357.7L244.5 358.4L244.2 359.2L244 359.9L244 359.9L243.8 360.7L243.6 361.4L243.4 362.1L243.3 362.5L243.2 362.9L243 363.6L242.8 364.4L242.7 365.1L242.5 365.7L242.5 365.9L242.4 366.6L242.3 367.4L242.2 368.1L242.1 368.9L242 369.6L241.9 370.3L241.9 371.1L241.9 371.8L241.8 372.6L241.8 372.8L241.8 373.3L241.7 374.1L241.6 374.8L241.5 375.6L241.3 376.3L241.1 377.1L241.1 377.3L240.8 377.8L240.4 378.6L240.3 378.7L239.7 379.3L239.6 379.4L238.8 379.7L238.1 379.5L237.7 379.3L237.4 379.1L236.8 378.6L236.6 378.4L236.2 377.8L235.9 377.4L235.7 377.1L235.2 376.3L235.1 376.2L234.8 375.6L234.4 374.9L234.3 374.8L233.9 374.1L233.7 373.6L233.5 373.3L233.1 372.6L232.9 372.4L232.6 371.8L232.2 371.2L232.1 371.1L231.7 370.3L231.4 370L231.2 369.6L230.7 368.9L230.7 368.8L230.2 368.1L230 367.6L229.8 367.4L229.4 366.6L229.2 366.3L229 365.9L228.6 365.1L228.5 364.9L228.2 364.4L227.9 363.6L227.7 363.2L227.6 362.9L227.3 362.1L227 361.4L227 361.2L226.8 360.7L226.6 359.9L226.4 359.2L226.3 358.7L226.2 358.4L226 357.7L225.8 356.9L225.7 356.2L225.6 355.4L225.5 355L225.5 354.7L225.3 353.9L225.3 353.2L225.2 352.4L225.1 351.7L225.1 351L225 350.2L225 349.5L225 348.7L225 348L225 347.2L225 346.5L225.1 345.7L225.1 345L225.2 344.2L225.3 343.5L225.3 342.8L225.4 342L225.5 341.5L225.5 341.3L225.7 340.5L225.8 339.8L225.9 339L226.1 338.3L226.2 337.5L226.3 337.5L226.4 336.8L226.6 336L226.8 335.3L227 334.5L227 334.4L227.1 333.8L227.3 333.1L227.5 332.3L227.7 331.6L227.7 331.6L227.9 330.8L228.1 330.1L228.3 329.3L228.5 328.6L228.5 328.6L228.6 327.8L228.8 327.1L228.9 326.3L229 325.6L229.1 324.9L229.2 324.3L229.2 324.1L229.3 323.4L229.4 322.6L229.5 321.9L229.5 321.1L229.6 320.4L229.6 319.6L229.7 318.9L229.7 318.1L229.8 317.4L229.8 316.6L229.9 315.9L229.9 315.2L230 314.6L230 314.4L230 313.7L230 312.9L230.1 312.2L230.1 311.4L230.1 310.7L230.1 309.9L230.1 309.2L230 308.4L230 307.7L230 307.5L229.9 307L229.8 306.2L229.6 305.5L229.5 304.7L229.3 304L229.2 303.8L229.1 303.2L228.9 302.5L228.6 301.7L228.5 301.2L228.4 301L228.2 300.2L228 299.5L227.8 298.7L227.7 298.2L227.7 298L227.5 297.3L227.4 296.5L227.3 295.8L227.2 295L227.1 294.3L227 293.5L227 293L227 292.8L226.9 292L226.9 291.3L226.9 290.5L226.9 289.8L227 289.1L227 288.9L227 288.3L227.1 287.6L227.2 286.8L227.4 286.1L227.5 285.3L227.7 284.6L227.7 284.6L228 283.8L228.3 283.1L228.5 282.9L228.8 282.3L229.2 281.9L229.6 281.6L230 281.4ZM232 341.3L231.4 341.8L231.3 342L230.8 342.8L230.7 343L230.5 343.5L230.2 344.2L230 345L230 345.2L229.8 345.7L229.7 346.5L229.6 347.2L229.6 348L229.6 348.7L229.6 349.5L229.7 350.2L229.7 351L229.9 351.7L230 352.1L230 352.4L230.3 353.2L230.6 353.9L230.7 354.2L231 354.7L231.4 355.3L231.6 355.4L232.2 355.9L232.9 356L233.7 355.8L234.2 355.4L234.4 355.3L234.8 354.7L235.1 354.1L235.2 353.9L235.5 353.2L235.8 352.4L235.9 352.1L236 351.7L236.1 351L236.2 350.2L236.3 349.5L236.3 348.7L236.3 348L236.3 347.2L236.3 346.5L236.2 345.7L236 345L235.9 344.2L235.9 344.2L235.6 343.5L235.3 342.8L235.1 342.3L234.9 342L234.4 341.3L234.3 341.3L233.7 340.9L232.9 340.8L232.2 341.1L232 341.3ZM280.3 378.2L281.1 377.9L281.8 378.2L282.2 378.6L282.5 379.3L282.3 380L281.8 380.5L281.2 380.8L281.1 380.8L280.9 380.8L280.3 380.6L279.8 380L279.6 379.4L279.6 379.3L279.6 379.2L279.9 378.6L280.3 378.2Z" fill="#fef0a6" stroke="#fef0a6" stroke-width="0.6"/>
<path d="M109.2 178.6L109.9 178.5L110.7 178.5L111.4 178.6L111.6 178.7L112.2 178.8L112.9 179L113.6 179.4L113.7 179.4L114.4 179.8L114.9 180.2L115.1 180.3L115.8 180.9L115.9 181L116.5 181.7L116.6 181.7L117.2 182.4L117.4 182.6L117.7 183.1L118.1 183.7L118.2 183.9L118.7 184.6L118.8 184.9L119.1 185.4L119.4 186.1L119.6 186.4L119.8 186.9L120.1 187.6L120.3 188.3L120.3 188.4L120.6 189.1L120.8 189.9L121 190.6L121.1 191L121.1 191.3L121.3 192.1L121.4 192.8L121.5 193.6L121.6 194.3L121.7 195.1L121.7 195.8L121.8 196.6L121.8 197.3L121.8 198.1L121.7 198.8L121.7 199.6L121.7 200.3L121.6 201L121.5 201.8L121.4 202.5L121.3 203.3L121.1 204L121.1 204.3L120.9 204.8L120.8 205.5L120.6 206.3L120.3 207L120.3 207.1L120.1 207.8L119.8 208.5L119.6 209.1L119.5 209.2L119.2 210L118.8 210.7L118.8 210.7L118.4 211.5L118.1 212.1L118 212.2L117.5 213L117.4 213.2L117 213.7L116.6 214.2L116.4 214.5L115.9 215L115.6 215.2L115.1 215.7L114.7 216L114.4 216.2L113.6 216.6L113.4 216.7L112.9 216.9L112.2 217.1L111.4 217.2L110.7 217.1L109.9 217L109.2 216.8L108.9 216.7L108.5 216.5L107.7 216.2L107.4 216L107 215.7L106.3 215.2L106.2 215.2L105.5 214.5L105.5 214.5L105.5 213.7L105.5 213L105.5 212.2L105.5 211.5L105.5 210.7L105.5 210L105.5 209.2L105.5 208.5L105.5 207.8L105.5 207L105.5 206.3L105.5 205.5L105.5 205L105.9 205.5L106.2 205.8L106.7 206.3L107 206.5L107.7 207L107.7 207L108.5 207.4L109.2 207.6L109.9 207.6L110.7 207.6L111.4 207.4L112.2 207L112.2 207L112.9 206.5L113.2 206.3L113.6 205.8L113.9 205.5L114.4 204.9L114.5 204.8L114.9 204L115.1 203.6L115.3 203.3L115.6 202.5L115.8 201.8L115.9 201.7L116.1 201L116.2 200.3L116.4 199.6L116.5 198.8L116.5 198.1L116.6 197.3L116.6 196.6L116.5 195.8L116.5 195.1L116.4 194.3L116.3 193.6L116.1 192.8L115.9 192.1L115.9 192L115.6 191.3L115.3 190.6L115.1 190.2L115 189.9L114.5 189.1L114.4 188.9L114 188.4L113.6 187.9L113.3 187.6L112.9 187.2L112.4 186.9L112.2 186.7L111.4 186.3L110.8 186.1L110.7 186.1L109.9 186L109.2 186L108.7 186.1L108.5 186.2L107.7 186.5L107 186.9L107 186.9L106.2 187.5L106.1 187.6L105.5 188.3L105.5 187.6L105.5 186.9L105.5 186.1L105.5 185.4L105.5 184.6L105.5 183.9L105.5 183.1L105.5 182.4L105.5 181.7L105.5 180.9L105.5 180.2L105.5 180.1L106.2 179.6L106.7 179.4L107 179.2L107.7 178.9L108.5 178.7L108.8 178.7L109.2 178.6ZM164.8 200.2L165.5 200.2L166.2 200.1L167 200.1L167.7 200.2L168.5 200.3L168.8 200.3L169.2 200.4L169.9 200.5L170.7 200.7L171.4 200.9L171.8 201L172.2 201.2L172.9 201.5L173.4 201.8L173.7 201.9L174.4 202.4L174.6 202.5L175.1 203L175.4 203.3L175.9 203.9L176 204L176.3 204.8L176.5 205.5L176.6 206.3L176.4 207L176.1 207.8L175.9 208.1L175.6 208.5L175.1 209L174.9 209.2L174.4 209.7L174 210L173.7 210.2L172.9 210.6L172.7 210.7L172.2 211L171.4 211.3L170.9 211.5L170.7 211.6L169.9 211.8L169.2 212L168.5 212.2L168.1 212.2L167.7 212.3L167 212.4L166.2 212.5L165.5 212.6L164.8 212.6L164 212.6L163.3 212.5L162.5 212.4L161.9 212.2L161.8 212.2L161.1 212L160.3 211.6L160.1 211.5L159.6 211.2L159 210.7L158.8 210.6L158.3 210L158.1 209.8L157.7 209.2L157.4 208.7L157.2 208.5L156.9 207.8L156.7 207L156.7 206.3L156.7 205.5L156.9 204.8L157.3 204L157.4 203.9L157.8 203.3L158.1 203L158.6 202.5L158.8 202.3L159.6 201.8L159.6 201.8L160.3 201.4L161.1 201.1L161.2 201L161.8 200.8L162.5 200.6L163.3 200.4L164 200.3L164.1 200.3L164.8 200.2ZM154.4 217.4L155.1 217.2L155.9 217L156.6 216.9L157.4 216.8L158.1 216.8L158.8 216.8L159.6 216.9L160.3 217.1L161.1 217.3L161.4 217.5L161.8 217.6L162.5 217.9L163.2 218.2L163.3 218.2L164 218.6L164.8 218.9L164.8 218.9L165.5 219.2L166.2 219.5L166.6 219.7L167 219.8L167.7 220.1L168.5 220.4L168.7 220.4L169.2 220.6L169.9 220.8L170.7 221L171.2 221.2L171.4 221.2L172.2 221.4L172.9 221.6L173.7 221.8L174.1 221.9L174.4 222L175.1 222.2L175.9 222.4L176.6 222.5L177.2 222.7L177.4 222.7L178.1 222.9L178.8 223L179.6 223.1L180.3 223.2L181.1 223.3L181.8 223.3L182.5 223.3L183.3 223.2L184 223.1L184.8 222.9L185.5 222.7L185.6 222.7L186.2 222.5L187 222.2L187.7 221.9L187.7 221.9L188.5 221.7L189.2 221.5L190 221.3L190.7 221.2L191.4 221.2L192.2 221.4L192.9 221.6L193.6 221.9L193.7 222L194.3 222.7L194.4 222.8L194.7 223.4L194.7 224.2L194.6 224.9L194.4 225.3L194.2 225.7L193.7 226.3L193.6 226.4L192.9 227L192.7 227.1L192.2 227.4L191.4 227.9L191.4 227.9L190.7 228.2L190 228.5L189.7 228.6L189.2 228.8L188.5 229.1L187.9 229.4L187.7 229.5L187 229.8L186.4 230.1L186.2 230.2L185.5 230.6L185.1 230.9L184.8 231L184 231.5L183.9 231.6L183.3 232L182.7 232.4L182.5 232.5L181.8 232.9L181.5 233.1L181.1 233.4L180.4 233.9L180.3 233.9L179.6 234.3L179.1 234.6L178.8 234.8L178.1 235.2L177.9 235.4L177.4 235.7L176.7 236.1L176.6 236.2L175.9 236.6L175.5 236.8L175.1 237.1L174.4 237.6L174.4 237.6L173.7 238.1L173.2 238.3L172.9 238.5L172.2 239L172.1 239.1L171.4 239.5L170.9 239.8L170.7 240L169.9 240.4L169.4 240.6L169.2 240.7L168.5 240.7L167.8 240.6L167.7 240.6L167 240.2L166.4 239.8L166.2 239.8L165.5 239.3L165.3 239.1L164.8 238.7L164.2 238.3L164 238.2L163.3 237.7L163.2 237.6L162.5 237.2L162.1 236.8L161.8 236.7L161.1 236.2L161 236.1L160.3 235.7L159.8 235.4L159.6 235.2L158.8 234.7L158.7 234.6L158.1 234.2L157.7 233.9L157.4 233.6L156.6 233.1L156.6 233.1L155.9 232.6L155.6 232.4L155.1 232L154.6 231.6L154.4 231.4L153.7 230.9L153.7 230.8L152.9 230.2L152.8 230.1L152.2 229.6L151.9 229.4L151.4 229L151 228.6L150.7 228.3L150.2 227.9L149.9 227.6L149.5 227.1L149.2 226.8L148.9 226.4L148.5 225.7L148.5 225.7L148.1 224.9L147.9 224.2L147.9 223.4L148 222.7L148.3 221.9L148.5 221.6L148.7 221.2L149.2 220.5L149.3 220.4L149.9 219.8L150.1 219.7L150.7 219.2L151.1 218.9L151.4 218.7L152.2 218.3L152.4 218.2L152.9 218L153.7 217.6L154.2 217.5L154.4 217.4ZM275.1 229.3L275.9 229.1L276.6 228.9L277.4 228.8L278.1 228.7L278.8 228.7L279.6 228.7L280.3 228.7L281.1 228.8L281.8 228.9L282.6 229.1L283.3 229.3L283.5 229.4L284 229.6L284.8 230L285.1 230.1L285.5 230.4L286.2 230.9L286.3 230.9L287 231.5L287.2 231.6L287.7 232.2L287.9 232.4L288.5 233L288.6 233.1L289.2 233.9L289.2 233.9L289.7 234.6L290 234.9L290.2 235.4L290.6 236.1L290.7 236.2L291 236.8L291.4 237.6L291.4 237.7L291.7 238.3L292 239.1L292.2 239.5L292.3 239.8L292.5 240.6L292.7 241.3L292.9 242L292.9 242.1L293.1 242.8L293.3 243.6L293.4 244.3L293.5 245L293.6 245.8L293.7 246.1L293.7 246.5L293.8 247.3L293.8 248L293.9 248.8L293.9 249.5L293.9 250.3L293.9 251L293.8 251.8L293.8 252.5L293.7 253.3L293.7 253.9L293.7 254L293.6 254.7L293.4 255.5L293.3 256.2L293.1 257L293 257.7L292.9 257.9L292.8 258.5L292.6 259.2L292.3 260L292.2 260.3L292 260.7L291.8 261.5L291.4 262.2L291.4 262.2L291.1 262.9L290.7 263.6L290.7 263.7L290.2 264.4L290 264.8L289.7 265.2L289.2 265.8L289.2 265.9L288.5 266.7L288.5 266.7L287.8 267.4L287.7 267.5L287 268.1L286.9 268.2L286.3 268.6L285.7 268.9L285.5 269L284.8 269.4L284 269.6L284 269.7L283.3 269.8L282.6 270L281.8 270L281.1 270L280.3 269.9L279.6 269.8L279.2 269.7L278.8 269.6L278.1 269.3L277.4 268.9L277.4 268.9L276.6 268.4L276.3 268.2L275.9 267.9L275.4 267.4L275.1 267.2L274.7 266.7L274.4 266.4L274 265.9L273.7 265.4L273.5 265.2L273 264.4L272.9 264.3L272.6 263.7L272.2 262.9L272.2 262.9L271.9 262.2L271.6 261.5L271.4 261.1L271.3 260.7L271 260L270.8 259.2L270.7 258.9L270.6 258.5L270.4 257.7L270.2 257L270.1 256.2L270 255.7L269.9 255.5L269.8 254.7L269.7 254L269.6 253.3L269.5 252.5L269.4 251.8L269.3 251L269.2 250.3L269.2 250.3L269.1 249.5L269.1 248.8L269 248L269 247.3L268.9 246.5L268.8 245.8L268.8 245L268.7 244.3L268.6 243.6L268.6 242.8L268.5 242.1L268.5 242L268.4 241.3L268.3 240.6L268.2 239.8L268.1 239.1L268 238.3L268 237.6L267.9 236.8L267.9 236.1L267.9 235.4L268 234.6L268.1 233.9L268.4 233.1L268.5 233.1L268.9 232.4L269.2 232.1L269.7 231.6L270 231.4L270.7 231L270.9 230.9L271.4 230.6L272.2 230.3L272.5 230.1L272.9 230L273.7 229.7L274.4 229.5L274.7 229.4L275.1 229.3ZM278.5 236.8L278.1 237L277.4 237.4L277 237.6L276.6 237.9L276.1 238.3L275.9 238.6L275.5 239.1L275.1 239.5L275 239.8L274.6 240.6L274.4 241L274.3 241.3L274 242.1L273.8 242.8L273.7 243.4L273.6 243.6L273.5 244.3L273.4 245L273.3 245.8L273.3 246.5L273.2 247.3L273.2 248L273.2 248.8L273.2 249.5L273.3 250.3L273.3 251L273.4 251.8L273.5 252.5L273.7 253.3L273.7 253.3L273.8 254L274 254.7L274.2 255.5L274.4 256.1L274.4 256.2L274.7 257L275.1 257.7L275.1 257.9L275.5 258.5L275.9 259.2L275.9 259.2L276.4 260L276.6 260.2L277.1 260.7L277.4 261L277.9 261.5L278.1 261.6L278.8 262.1L279.2 262.2L279.6 262.4L280.3 262.6L281.1 262.7L281.8 262.6L282.6 262.5L283.3 262.3L283.4 262.2L284 261.9L284.6 261.5L284.8 261.4L285.5 260.7L285.5 260.7L286.1 260L286.3 259.8L286.7 259.2L287 258.7L287.1 258.5L287.5 257.7L287.7 257.2L287.8 257L288.1 256.2L288.4 255.5L288.5 255.1L288.6 254.7L288.7 254L288.9 253.3L289 252.5L289.1 251.8L289.1 251L289.2 250.3L289.2 249.5L289.1 248.8L289.1 248L289 247.3L288.9 246.5L288.7 245.8L288.6 245L288.5 244.7L288.4 244.3L288.1 243.6L287.8 242.8L287.7 242.6L287.5 242.1L287.1 241.3L287 241.1L286.7 240.6L286.3 239.9L286.2 239.8L285.6 239.1L285.5 239L284.8 238.3L284.8 238.3L284 237.7L283.8 237.6L283.3 237.3L282.6 236.9L282.3 236.8L281.8 236.7L281.1 236.6L280.3 236.5L279.6 236.6L278.8 236.7L278.5 236.8ZM167.7 245.3L168.5 245.2L169.2 245.3L169.9 245.8L170 245.8L170.7 246.5L170.7 246.5L171.3 247.3L171.4 247.4L171.8 248L172.2 248.5L172.3 248.8L172.8 249.5L172.9 249.8L173.2 250.3L173.5 251L173.7 251.2L173.9 251.8L174.2 252.5L174.4 253L174.5 253.3L174.8 254L175 254.7L175.1 255L175.3 255.5L175.5 256.2L175.7 257L175.9 257.6L175.9 257.7L176.1 258.5L176.3 259.2L176.4 260L176.6 260.7L176.6 260.9L176.7 261.5L176.9 262.2L177 262.9L177.1 263.7L177.3 264.4L177.4 265L177.4 265.2L177.5 265.9L177.6 266.7L177.7 267.4L177.8 268.2L177.9 268.9L178.1 269.7L178.1 270L178.2 270.4L178.3 271.2L178.3 271.9L178.4 272.6L178.5 273.4L178.6 274.1L178.7 274.9L178.8 275.6L178.8 276.3L178.8 276.4L178.9 277.1L179 277.9L179 278.6L179.1 279.4L179.1 280.1L179.2 280.8L179.2 281.6L179.2 282.3L179.2 283.1L179.3 283.8L179.3 284.6L179.2 285.3L179.2 286.1L179.2 286.8L179.2 287.6L179.1 288.3L179.1 289.1L179 289.8L179 290.5L178.9 291.3L178.8 291.8L178.8 292L178.7 292.8L178.6 293.5L178.5 294.3L178.4 295L178.3 295.8L178.1 296.5L178.1 296.6L178 297.3L177.8 298L177.7 298.7L177.5 299.5L177.4 300.1L177.3 300.2L177.1 301L176.9 301.7L176.8 302.5L176.6 303L176.6 303.2L176.3 304L176.1 304.7L175.9 305.5L175.9 305.6L175.7 306.2L175.5 307L175.3 307.7L175.1 308.2L175.1 308.4L174.9 309.2L174.6 309.9L174.5 310.7L174.4 310.9L174.3 311.4L174.1 312.2L173.9 312.9L173.8 313.7L173.7 314.1L173.6 314.4L173.5 315.2L173.3 315.9L173.2 316.6L173.1 317.4L172.9 318.1L172.9 318.2L172.8 318.9L172.7 319.6L172.5 320.4L172.4 321.1L172.3 321.9L172.2 322.2L172.1 322.6L171.9 323.4L171.7 324.1L171.5 324.9L171.4 325.2L171.3 325.6L171 326.3L170.8 327.1L170.7 327.3L170.5 327.8L170.1 328.6L169.9 328.9L169.7 329.3L169.2 330L169.2 330.1L168.5 330.8L168.5 330.9L167.7 331.4L167.4 331.6L167 331.8L166.2 331.9L165.5 331.9L164.8 331.6L164.6 331.6L164 331.3L163.5 330.8L163.3 330.7L162.7 330.1L162.5 329.9L162.1 329.3L161.8 328.9L161.6 328.6L161.2 327.8L161.1 327.5L160.9 327.1L160.6 326.3L160.4 325.6L160.3 325.5L160.2 324.9L160 324.1L159.8 323.4L159.7 322.6L159.6 322L159.6 321.9L159.5 321.1L159.4 320.4L159.3 319.6L159.3 318.9L159.2 318.1L159.2 317.4L159.2 316.6L159.2 315.9L159.1 315.2L159.1 314.4L159.1 313.7L159.1 312.9L159.1 312.2L159.1 311.4L159 310.7L159 309.9L158.9 309.2L158.9 308.4L158.8 307.9L158.8 307.7L158.8 307L158.7 306.2L158.6 305.5L158.5 304.7L158.4 304L158.3 303.2L158.2 302.5L158.1 301.7L158.1 301.7L158 301L157.9 300.2L157.8 299.5L157.7 298.7L157.6 298L157.5 297.3L157.4 296.5L157.4 296.3L157.3 295.8L157.2 295L157.1 294.3L157 293.5L156.9 292.8L156.8 292L156.7 291.3L156.7 290.5L156.6 290.2L156.6 289.8L156.5 289.1L156.4 288.3L156.4 287.6L156.3 286.8L156.3 286.1L156.2 285.3L156.2 284.6L156.1 283.8L156.1 283.1L156.1 282.3L156.1 281.6L156.1 280.8L156.1 280.1L156.1 279.4L156.1 278.6L156.1 277.9L156.2 277.1L156.2 276.4L156.3 275.6L156.4 274.9L156.4 274.1L156.5 273.4L156.6 272.8L156.6 272.6L156.7 271.9L156.9 271.2L157 270.4L157.1 269.7L157.3 268.9L157.4 268.4L157.4 268.2L157.6 267.4L157.7 266.7L157.9 265.9L158.1 265.2L158.1 265.1L158.3 264.4L158.4 263.7L158.6 262.9L158.8 262.2L158.8 262.2L159.1 261.5L159.3 260.7L159.5 260L159.6 259.7L159.7 259.2L160 258.5L160.2 257.7L160.3 257.5L160.5 257L160.8 256.2L161 255.5L161.1 255.5L161.4 254.7L161.7 254L161.8 253.7L162 253.3L162.4 252.5L162.5 252.1L162.7 251.8L163.1 251L163.3 250.7L163.5 250.3L164 249.5L164 249.5L164.5 248.8L164.8 248.3L165 248L165.5 247.4L165.6 247.3L166.2 246.5L166.2 246.5L167 245.8L167 245.8L167.7 245.3ZM166.4 259.2L166.2 259.3L165.6 260L165.5 260L165 260.7L164.8 261L164.4 261.5L164 262.1L164 262.2L163.6 262.9L163.3 263.5L163.2 263.7L162.8 264.4L162.5 265L162.5 265.2L162.2 265.9L161.8 266.7L161.8 266.8L161.6 267.4L161.3 268.2L161.1 268.8L161 268.9L160.8 269.7L160.5 270.4L160.3 271.1L160.3 271.2L160.1 271.9L159.9 272.6L159.7 273.4L159.6 273.9L159.5 274.1L159.4 274.9L159.2 275.6L159.1 276.4L159 277.1L158.8 277.9L158.8 277.9L158.7 278.6L158.7 279.4L158.6 280.1L158.5 280.8L158.5 281.6L158.4 282.3L158.4 283.1L158.4 283.8L158.4 284.6L158.4 285.3L158.4 286.1L158.5 286.8L158.5 287.6L158.5 288.3L158.6 289.1L158.7 289.8L158.7 290.5L158.8 291.3L158.8 291.5L158.9 292L159 292.8L159.1 293.5L159.2 294.3L159.4 295L159.5 295.8L159.6 296.2L159.6 296.5L159.8 297.3L160 298L160.1 298.7L160.3 299.5L160.3 299.6L160.5 300.2L160.7 301L160.9 301.7L161 302.5L161.1 302.5L161.3 303.2L161.5 304L161.7 304.7L161.8 305.3L161.8 305.5L162 306.2L162.2 307L162.4 307.7L162.5 308.4L162.5 308.5L162.7 309.2L162.8 309.9L162.9 310.7L163 311.4L163 312.2L163.1 312.9L163.1 313.7L163.2 314.4L163.2 315.2L163.2 315.9L163.3 316.6L163.3 317L163.3 317.4L163.4 318.1L163.6 318.9L163.8 319.6L164 320.4L164 320.4L164.4 321.1L164.8 321.6L165.4 321.9L165.5 321.9L165.6 321.9L166.2 321.7L166.7 321.1L167 320.8L167.2 320.4L167.5 319.6L167.7 318.9L167.7 318.9L167.9 318.1L168.1 317.4L168.2 316.6L168.3 315.9L168.5 315.2L168.5 315.1L168.6 314.4L168.7 313.7L168.9 312.9L169 312.2L169.2 311.5L169.2 311.4L169.4 310.7L169.7 309.9L169.9 309.2L170 309.2L170.2 308.4L170.6 307.7L170.7 307.4L170.9 307L171.2 306.2L171.4 305.8L171.6 305.5L171.9 304.7L172.2 304.1L172.2 304L172.6 303.2L172.9 302.5L172.9 302.4L173.2 301.7L173.5 301L173.7 300.6L173.8 300.2L174 299.5L174.3 298.7L174.4 298.4L174.5 298L174.7 297.3L174.9 296.5L175.1 295.8L175.1 295.6L175.3 295L175.4 294.3L175.6 293.5L175.7 292.8L175.8 292L175.9 291.4L175.9 291.3L176 290.5L176.1 289.8L176.1 289.1L176.2 288.3L176.2 287.6L176.2 286.8L176.2 286.1L176.2 285.3L176.2 284.6L176.2 283.8L176.2 283.1L176.1 282.3L176.1 281.6L176 280.8L176 280.1L175.9 279.4L175.9 279.2L175.8 278.6L175.7 277.9L175.6 277.1L175.5 276.4L175.4 275.6L175.3 274.9L175.1 274.1L175.1 274.1L175 273.4L174.8 272.6L174.7 271.9L174.5 271.2L174.4 270.5L174.4 270.4L174.2 269.7L174 268.9L173.8 268.2L173.7 267.5L173.6 267.4L173.4 266.7L173.2 265.9L173 265.2L172.9 264.9L172.7 264.4L172.5 263.7L172.2 262.9L172.2 262.9L171.8 262.2L171.5 261.5L171.4 261.3L171 260.7L170.7 260.2L170.5 260L169.9 259.4L169.7 259.2L169.2 258.8L168.5 258.6L167.7 258.6L167 258.9L166.4 259.2ZM109.9 273.8L110.7 273.7L111.4 273.7L112.2 273.8L112.9 274.1L112.9 274.1L113.6 274.6L114 274.9L114.4 275.3L114.7 275.6L115.1 276.2L115.3 276.4L115.7 277.1L115.9 277.4L116.1 277.9L116.4 278.6L116.6 279.3L116.6 279.4L116.8 280.1L117 280.8L117.1 281.6L117.2 282.3L117.3 283.1L117.3 283.8L117.3 284.6L117.3 285.3L117.2 286.1L117.1 286.8L117 287.6L116.9 288.3L116.7 289.1L116.6 289.3L116.4 289.8L116.2 290.5L115.9 291.3L115.9 291.3L115.5 292L115.1 292.6L115 292.8L114.4 293.5L114.4 293.6L113.7 294.3L113.6 294.3L112.9 294.8L112.3 295L112.2 295.1L111.4 295.2L110.7 295.1L110.5 295L109.9 294.8L109.2 294.4L109 294.3L108.5 293.8L108.2 293.5L107.7 292.9L107.6 292.8L107.2 292L107 291.7L106.8 291.3L106.4 290.5L106.2 290.1L106.1 289.8L105.9 289.1L105.7 288.3L105.5 287.6L105.5 287.4L105.5 286.8L105.5 286.1L105.5 285.3L105.5 284.6L105.5 283.8L105.5 283.1L105.5 282.3L105.5 281.6L105.5 280.8L105.5 280.7L105.6 280.1L105.8 279.4L106.1 278.6L106.2 278.1L106.3 277.9L106.7 277.1L107 276.6L107.1 276.4L107.6 275.6L107.7 275.5L108.3 274.9L108.5 274.7L109.2 274.2L109.3 274.1L109.9 273.8ZM232.2 341.1L232.9 340.8L233.7 340.9L234.3 341.3L234.4 341.3L234.9 342L235.1 342.3L235.3 342.8L235.6 343.5L235.9 344.2L235.9 344.2L236 345L236.2 345.7L236.3 346.5L236.3 347.2L236.3 348L236.3 348.7L236.3 349.5L236.2 350.2L236.1 351L236 351.7L235.9 352.1L235.8 352.4L235.5 353.2L235.2 353.9L235.1 354.1L234.8 354.7L234.4 355.3L234.2 355.4L233.7 355.8L232.9 356L232.2 355.9L231.6 355.4L231.4 355.3L231 354.7L230.7 354.2L230.6 353.9L230.3 353.2L230 352.4L230 352.1L229.9 351.7L229.7 351L229.7 350.2L229.6 349.5L229.6 348.7L229.6 348L229.6 347.2L229.7 346.5L229.8 345.7L230 345.2L230 345L230.2 344.2L230.5 343.5L230.7 343L230.8 342.8L231.3 342L231.4 341.8L232 341.3L232.2 341.1ZM112.2 357.6L112.9 357.2L113.6 357.1L114.4 357.3L114.9 357.7L115.1 357.8L115.7 358.4L115.9 358.6L116.2 359.2L116.6 359.9L116.6 360L116.9 360.7L117.1 361.4L117.2 362.1L117.3 362.9L117.4 363.1L117.4 363.6L117.4 364.4L117.4 365.1L117.4 365.3L117.3 365.9L117.1 366.6L116.9 367.4L116.7 368.1L116.6 368.2L116.3 368.9L115.9 369.5L115.8 369.6L115.1 370.2L114.8 370.3L114.4 370.6L113.6 370.7L112.9 370.5L112.6 370.3L112.2 370.1L111.7 369.6L111.4 369.3L111.1 368.9L110.7 368.1L110.7 368L110.4 367.4L110.2 366.6L110.1 365.9L110 365.1L109.9 364.7L109.9 364.4L109.9 363.6L109.9 363.1L110 362.9L110 362.1L110.2 361.4L110.4 360.7L110.6 359.9L110.7 359.7L111 359.2L111.4 358.4L111.4 358.4L112.1 357.7L112.2 357.6Z" fill="#fdca7f" stroke="#fdca7f" stroke-width="0.6"/>
<path d="M109.2 186L109.9 186L110.7 186.1L110.8 186.1L111.4 186.3L112.2 186.7L112.4 186.9L112.9 187.2L113.3 187.6L113.6 187.9L114 188.4L114.4 188.9L114.5 189.1L115 189.9L115.1 190.2L115.3 190.6L115.6 191.3L115.9 192L115.9 192.1L116.1 192.8L116.3 193.6L116.4 194.3L116.5 195.1L116.5 195.8L116.6 196.6L116.6 197.3L116.5 198.1L116.5 198.8L116.4 199.6L116.2 200.3L116.1 201L115.9 201.7L115.8 201.8L115.6 202.5L115.3 203.3L115.1 203.6L114.9 204L114.5 204.8L114.4 204.9L113.9 205.5L113.6 205.8L113.2 206.3L112.9 206.5L112.2 207L112.2 207L111.4 207.4L110.7 207.6L109.9 207.6L109.2 207.6L108.5 207.4L107.7 207L107.7 207L107 206.5L106.7 206.3L106.2 205.8L105.9 205.5L105.5 205L105.5 204.8L105.5 204L105.5 203.3L105.5 202.5L105.5 201.8L105.5 201L105.5 200.3L105.5 199.6L105.5 198.8L105.5 198.1L105.5 197.3L105.5 196.6L105.5 195.8L105.5 195.1L105.5 194.3L105.5 193.6L105.5 192.8L105.5 192.1L105.5 191.3L105.5 190.6L105.5 189.9L105.5 189.1L105.5 188.4L105.5 188.3L106.1 187.6L106.2 187.5L107 186.9L107 186.9L107.7 186.5L108.5 186.2L108.7 186.1L109.2 186ZM278.8 236.7L279.6 236.6L280.3 236.5L281.1 236.6L281.8 236.7L282.3 236.8L282.6 236.9L283.3 237.3L283.8 237.6L284 237.7L284.8 238.3L284.8 238.3L285.5 239L285.6 239.1L286.2 239.8L286.3 239.9L286.7 240.6L287 241.1L287.1 241.3L287.5 242.1L287.7 242.6L287.8 242.8L288.1 243.6L288.4 244.3L288.5 244.7L288.6 245L288.7 245.8L288.9 246.5L289 247.3L289.1 248L289.1 248.8L289.2 249.5L289.2 250.3L289.1 251L289.1 251.8L289 252.5L288.9 253.3L288.7 254L288.6 254.7L288.5 255.1L288.4 255.5L288.1 256.2L287.8 257L287.7 257.2L287.5 257.7L287.1 258.5L287 258.7L286.7 259.2L286.3 259.8L286.1 260L285.5 260.7L285.5 260.7L284.8 261.4L284.6 261.5L284 261.9L283.4 262.2L283.3 262.3L282.6 262.5L281.8 262.6L281.1 262.7L280.3 262.6L279.6 262.4L279.2 262.2L278.8 262.1L278.1 261.6L277.9 261.5L277.4 261L277.1 260.7L276.6 260.2L276.4 260L275.9 259.2L275.9 259.2L275.5 258.5L275.1 257.9L275.1 257.7L274.7 257L274.4 256.2L274.4 256.1L274.2 255.5L274 254.7L273.8 254L273.7 253.3L273.7 253.3L273.5 252.5L273.4 251.8L273.3 251L273.3 250.3L273.2 249.5L273.2 248.8L273.2 248L273.2 247.3L273.3 246.5L273.3 245.8L273.4 245L273.5 244.3L273.6 243.6L273.7 243.4L273.8 242.8L274 242.1L274.3 241.3L274.4 241L274.6 240.6L275 239.8L275.1 239.5L275.5 239.1L275.9 238.6L276.1 238.3L276.6 237.9L277 237.6L277.4 237.4L278.1 237L278.5 236.8L278.8 236.7ZM167 258.9L167.7 258.6L168.5 258.6L169.2 258.8L169.7 259.2L169.9 259.4L170.5 260L170.7 260.2L171 260.7L171.4 261.3L171.5 261.5L171.8 262.2L172.2 262.9L172.2 262.9L172.5 263.7L172.7 264.4L172.9 264.9L173 265.2L173.2 265.9L173.4 266.7L173.6 267.4L173.7 267.5L173.8 268.2L174 268.9L174.2 269.7L174.4 270.4L174.4 270.5L174.5 271.2L174.7 271.9L174.8 272.6L175 273.4L175.1 274.1L175.1 274.1L175.3 274.9L175.4 275.6L175.5 276.4L175.6 277.1L175.7 277.9L175.8 278.6L175.9 279.2L175.9 279.4L176 280.1L176 280.8L176.1 281.6L176.1 282.3L176.2 283.1L176.2 283.8L176.2 284.6L176.2 285.3L176.2 286.1L176.2 286.8L176.2 287.6L176.2 288.3L176.1 289.1L176.1 289.8L176 290.5L175.9 291.3L175.9 291.4L175.8 292L175.7 292.8L175.6 293.5L175.4 294.3L175.3 295L175.1 295.6L175.1 295.8L174.9 296.5L174.7 297.3L174.5 298L174.4 298.4L174.3 298.7L174 299.5L173.8 300.2L173.7 300.6L173.5 301L173.2 301.7L172.9 302.4L172.9 302.5L172.6 303.2L172.2 304L172.2 304.1L171.9 304.7L171.6 305.5L171.4 305.8L171.2 306.2L170.9 307L170.7 307.4L170.6 307.7L170.2 308.4L170 309.2L169.9 309.2L169.7 309.9L169.4 310.7L169.2 311.4L169.2 311.5L169 312.2L168.9 312.9L168.7 313.7L168.6 314.4L168.5 315.1L168.5 315.2L168.3 315.9L168.2 316.6L168.1 317.4L167.9 318.1L167.7 318.9L167.7 318.9L167.5 319.6L167.2 320.4L167 320.8L166.7 321.1L166.2 321.7L165.6 321.9L165.5 321.9L165.4 321.9L164.8 321.6L164.4 321.1L164 320.4L164 320.4L163.8 319.6L163.6 318.9L163.4 318.1L163.3 317.4L163.3 317L163.3 316.6L163.2 315.9L163.2 315.2L163.2 314.4L163.1 313.7L163.1 312.9L163 312.2L163 311.4L162.9 310.7L162.8 309.9L162.7 309.2L162.5 308.5L162.5 308.4L162.4 307.7L162.2 307L162 306.2L161.8 305.5L161.8 305.3L161.7 304.7L161.5 304L161.3 303.2L161.1 302.5L161 302.5L160.9 301.7L160.7 301L160.5 300.2L160.3 299.6L160.3 299.5L160.1 298.7L160 298L159.8 297.3L159.6 296.5L159.6 296.2L159.5 295.8L159.4 295L159.2 294.3L159.1 293.5L159 292.8L158.9 292L158.8 291.5L158.8 291.3L158.7 290.5L158.7 289.8L158.6 289.1L158.5 288.3L158.5 287.6L158.5 286.8L158.4 286.1L158.4 285.3L158.4 284.6L158.4 283.8L158.4 283.1L158.4 282.3L158.5 281.6L158.5 280.8L158.6 280.1L158.7 279.4L158.7 278.6L158.8 277.9L158.8 277.9L159 277.1L159.1 276.4L159.2 275.6L159.4 274.9L159.5 274.1L159.6 273.9L159.7 273.4L159.9 272.6L160.1 271.9L160.3 271.2L160.3 271.1L160.5 270.4L160.8 269.7L161 268.9L161.1 268.8L161.3 268.2L161.6 267.4L161.8 266.8L161.8 266.7L162.2 265.9L162.5 265.2L162.5 265L162.8 264.4L163.2 263.7L163.3 263.5L163.6 262.9L164 262.2L164 262.1L164.4 261.5L164.8 261L165 260.7L165.5 260L165.6 260L166.2 259.3L166.4 259.2L167 258.9ZM167.5 270.4L167 270.4L166.2 270.8L165.8 271.2L165.5 271.4L165.1 271.9L164.8 272.3L164.5 272.6L164.1 273.4L164 273.4L163.7 274.1L163.3 274.9L163.3 274.9L163 275.6L162.7 276.4L162.5 276.9L162.5 277.1L162.3 277.9L162.1 278.6L161.9 279.4L161.8 279.7L161.7 280.1L161.6 280.8L161.5 281.6L161.4 282.3L161.3 283.1L161.2 283.8L161.2 284.6L161.2 285.3L161.2 286.1L161.2 286.8L161.2 287.6L161.3 288.3L161.3 289.1L161.4 289.8L161.5 290.5L161.6 291.3L161.8 292L161.8 292.2L161.9 292.8L162.1 293.5L162.3 294.3L162.5 295L162.6 295L162.8 295.8L163.1 296.5L163.3 296.8L163.5 297.3L163.9 298L164 298.2L164.5 298.7L164.8 299.1L165.2 299.5L165.5 299.8L166.2 300.1L167 300.2L167.7 300L168.5 299.6L168.6 299.5L169.2 298.9L169.4 298.7L169.9 298L170 298L170.4 297.3L170.7 296.8L170.8 296.5L171.2 295.8L171.4 295.2L171.5 295L171.8 294.3L172 293.5L172.2 293L172.2 292.8L172.4 292L172.6 291.3L172.7 290.5L172.8 289.8L172.9 289.1L172.9 288.8L173 288.3L173 287.6L173 286.8L173.1 286.1L173.1 285.3L173 284.6L173 283.8L172.9 283.1L172.9 282.7L172.9 282.3L172.8 281.6L172.7 280.8L172.6 280.1L172.4 279.4L172.3 278.6L172.2 278.1L172.1 277.9L171.9 277.1L171.7 276.4L171.5 275.6L171.4 275.5L171.2 274.9L170.9 274.1L170.7 273.6L170.6 273.4L170.2 272.6L169.9 272.2L169.7 271.9L169.2 271.3L169.1 271.2L168.5 270.7L167.8 270.4L167.7 270.4L167.5 270.4Z" fill="#f6854f" stroke="#f6854f" stroke-width="0.6"/>
<path d="M167.7 270.4L167.8 270.4L168.5 270.7L169.1 271.2L169.2 271.3L169.7 271.9L169.9 272.2L170.2 272.6L170.6 273.4L170.7 273.6L170.9 274.1L171.2 274.9L171.4 275.5L171.5 275.6L171.7 276.4L171.9 277.1L172.1 277.9L172.2 278.1L172.3 278.6L172.4 279.4L172.6 280.1L172.7 280.8L172.8 281.6L172.9 282.3L172.9 282.7L172.9 283.1L173 283.8L173 284.6L173.1 285.3L173.1 286.1L173 286.8L173 287.6L173 288.3L172.9 288.8L172.9 289.1L172.8 289.8L172.7 290.5L172.6 291.3L172.4 292L172.2 292.8L172.2 293L172 293.5L171.8 294.3L171.5 295L171.4 295.2L171.2 295.8L170.8 296.5L170.7 296.8L170.4 297.3L170 298L169.9 298L169.4 298.7L169.2 298.9L168.6 299.5L168.5 299.6L167.7 300L167 300.2L166.2 300.1L165.5 299.8L165.2 299.5L164.8 299.1L164.5 298.7L164 298.2L163.9 298L163.5 297.3L163.3 296.8L163.1 296.5L162.8 295.8L162.6 295L162.5 295L162.3 294.3L162.1 293.5L161.9 292.8L161.8 292.2L161.8 292L161.6 291.3L161.5 290.5L161.4 289.8L161.3 289.1L161.3 288.3L161.2 287.6L161.2 286.8L161.2 286.1L161.2 285.3L161.2 284.6L161.2 283.8L161.3 283.1L161.4 282.3L161.5 281.6L161.6 280.8L161.7 280.1L161.8 279.7L161.9 279.4L162.1 278.6L162.3 277.9L162.5 277.1L162.5 276.9L162.7 276.4L163 275.6L163.3 274.9L163.3 274.9L163.7 274.1L164 273.4L164.1 273.4L164.5 272.6L164.8 272.3L165.1 271.9L165.5 271.4L165.8 271.2L166.2 270.8L167 270.4L167.5 270.4L167.7 270.4Z" fill="#e0442e" stroke="#e0442e" stroke-width="0.6"/>
</g>
<rect x="105.5" y="164.5" width="221.5" height="223" fill="none" stroke="#000" stroke-width="1.4"/>
<rect x="121" y="163.6" width="24" height="223.9" fill="#fff"/>
<clipPath id="hs1330"><rect x="121" y="163.6" width="24" height="223.9"/></clipPath>
<path d="M119 164.7L147 136.7M119 181.3L147 153.3M119 197.9L147 169.9M119 214.5L147 186.5M119 231.1L147 203.1M119 247.7L147 219.7M119 264.3L147 236.3M119 280.9L147 252.9M119 297.5L147 269.5M119 314.1L147 286.1M119 330.7L147 302.7M119 347.3L147 319.3M119 363.9L147 335.9M119 380.5L147 352.5M119 397.1L147 369.1M119 413.7L147 385.7M119 430.3L147 402.3" stroke="#a6d6ea" stroke-width="1.35" clip-path="url(#hs1330)"/>
<path d="M122.4 163.6V387.5M143.6 163.6V387.5" stroke="#a6d6ea" stroke-width="2.8"/>
<path d="M121 386.3H145" stroke="#a6d6ea" stroke-width="1.2"/>
<path d="M120 387.5H146" stroke="#000" stroke-width="1.4"/>
<rect x="204.1" y="163.6" width="24" height="223.9" fill="#fff"/>
<clipPath id="hs2161"><rect x="204.1" y="163.6" width="24" height="223.9"/></clipPath>
<path d="M202.1 152.1L230.1 124.1M202.1 168.2L230.1 140.2M202.1 184.3L230.1 156.3M202.1 200.4L230.1 172.4M202.1 216.5L230.1 188.5M202.1 232.6L230.1 204.6M202.1 248.7L230.1 220.7M202.1 264.8L230.1 236.8M202.1 280.9L230.1 252.9M202.1 297L230.1 269M202.1 313.1L230.1 285.1M202.1 329.2L230.1 301.2M202.1 345.3L230.1 317.3M202.1 361.4L230.1 333.4M202.1 377.5L230.1 349.5M202.1 393.6L230.1 365.6M202.1 409.7L230.1 381.7M202.1 425.8L230.1 397.8" stroke="#f2552c" stroke-width="1.35" clip-path="url(#hs2161)"/>
<path d="M205.5 163.6V387.5M226.7 163.6V387.5" stroke="#cc1427" stroke-width="2.8"/>
<path d="M204.1 386.3H228.1" stroke="#cc1427" stroke-width="1.2"/>
<path d="M203.1 387.5H229.1" stroke="#000" stroke-width="1.4"/>
<rect x="287.4" y="163.6" width="24" height="223.9" fill="#fff"/>
<clipPath id="hs2994"><rect x="287.4" y="163.6" width="24" height="223.9"/></clipPath>
<path d="M285.4 164.8L313.4 136.8M285.4 181.4L313.4 153.4M285.4 198L313.4 170M285.4 214.6L313.4 186.6M285.4 231.2L313.4 203.2M285.4 247.8L313.4 219.8M285.4 264.4L313.4 236.4M285.4 281L313.4 253M285.4 297.6L313.4 269.6M285.4 314.2L313.4 286.2M285.4 330.8L313.4 302.8M285.4 347.4L313.4 319.4M285.4 364L313.4 336M285.4 380.6L313.4 352.6M285.4 397.2L313.4 369.2M285.4 413.8L313.4 385.8M285.4 430.4L313.4 402.4" stroke="#a6d6ea" stroke-width="1.35" clip-path="url(#hs2994)"/>
<path d="M288.8 163.6V387.5M310 163.6V387.5" stroke="#a6d6ea" stroke-width="2.8"/>
<path d="M287.4 386.3H311.4" stroke="#a6d6ea" stroke-width="1.2"/>
<path d="M286.4 387.5H312.4" stroke="#000" stroke-width="1.4"/>
<g clip-path="url(#clipb)">
<path d="M475 226.5L476 227.3M484.6 226.5L486.4 227.7M494.3 226.5L497.2 228M503.9 226.5L508.2 228.2M513.5 226.5L519.3 228.1M523.2 226.5L530.1 227.5M532.8 226.5L540.2 226.6M542.4 226.5L549.5 225.7M552 226.5L558.1 225M561.7 226.5L566.1 224.7M571.3 226.5L574.1 224.6M580.9 226.5L581.9 224.5M590.6 226.5L589.6 224.5M600.2 226.5L597.4 224.6M609.8 226.5L605.4 224.7M619.5 226.5L613.4 225M629.1 226.5L622 225.7M638.7 226.5L631.3 226.6M648.3 226.5L641.4 227.5M658 226.5L652.2 228.1M667.6 226.5L663.3 228.2M677.2 226.5L674.3 228M686.9 226.5L685.1 227.7M696.5 226.5L695.5 227.3M475 216.9L476.1 218.8M484.6 216.9L486.8 219.9M494.3 216.9L497.9 221M503.9 216.9L509.4 221.7M513.5 216.9L521.9 221.8M523.2 216.9L534.1 220.2M532.8 216.9L544.7 217.2M542.4 216.9L553.6 213.9M552 216.9L560.9 211.9M561.7 216.9L567.4 211.6M571.3 216.9L574.7 211.7M580.9 216.9L582.1 211.9M590.6 216.9L589.4 211.9M600.2 216.9L596.8 211.7M609.8 216.9L604.1 211.6M619.5 216.9L610.6 211.9M629.1 216.9L617.9 213.9M638.7 216.9L626.8 217.2M648.3 216.9L637.4 220.2M658 216.9L649.6 221.8M667.6 216.9L662.1 221.7M677.2 216.9L673.6 221M686.9 216.9L684.7 219.9M696.5 216.9L695.4 218.8M475 207.2L475.6 209.8M484.6 207.2L485.8 211.3M494.3 207.2L496.3 212.9M503.9 207.2L507.1 213.9M513.5 207.2L518 213.5M523.2 207.2L528.8 211.3M532.8 207.2L539 207.6M542.4 207.2L548.2 203.7M552 207.2L556.7 201M561.7 207.2L565.1 199.9M571.3 207.2L573.3 200.2M580.9 207.2L581.6 200.6M590.6 207.2L589.9 200.6M600.2 207.2L598.2 200.2M609.8 207.2L606.4 199.9M619.5 207.2L614.8 201M629.1 207.2L623.3 203.7M638.7 207.2L632.5 207.6M648.3 207.2L642.7 211.3M658 207.2L653.5 213.5M667.6 207.2L664.4 213.9M677.2 207.2L675.2 212.9M686.9 207.2L685.7 211.3M696.5 207.2L695.9 209.8M475 197.6L475.4 200.6M484.6 197.6L485.4 202.3M494.3 197.6L495.7 204.1M503.9 197.6L506.1 205.5M513.5 197.6L516.7 205M523.2 197.6L527.1 202.5M532.8 197.6L537.3 198.1M542.4 197.6L546.5 193.3M552 197.6L555.3 190.3M561.7 197.6L564.2 188.5M571.3 197.6L572.7 189.2M580.9 197.6L581.4 190M590.6 197.6L590.1 190M600.2 197.6L598.8 189.2M609.8 197.6L607.3 188.5M619.5 197.6L616.2 190.3M629.1 197.6L625 193.3M638.7 197.6L634.2 198.1M648.3 197.6L644.4 202.5M658 197.6L654.8 205M667.6 197.6L665.4 205.5M677.2 197.6L675.8 204.1M686.9 197.6L686.1 202.3M696.5 197.6L696.1 200.6M475 188L475.3 191.2M484.6 188L485.3 193.1M494.3 188L495.3 195.1M503.9 188L505.7 197.1M513.5 188L516.1 196.5M523.2 188L526.2 193.4M532.8 188L536.4 188.5M542.4 188L545.6 183.2M552 188L554.7 179.5M561.7 188L563.7 177.5M571.3 188L572.4 178.1M580.9 188L581.3 179.3M590.6 188L590.2 179.3M600.2 188L599.1 178.1M609.8 188L607.8 177.5M619.5 188L616.8 179.5M629.1 188L625.9 183.2M638.7 188L635.1 188.5M648.3 188L645.3 193.4M658 188L655.4 196.5M667.6 188L665.8 197.1M677.2 188L676.2 195.1M686.9 188L686.2 193.1M696.5 188L696.2 191.2M475 178.3L475.2 181.7M484.6 178.3L485.1 183.8M494.3 178.3L495.1 185.9M503.9 178.3L505.3 188.5M513.5 178.3L515.5 187.8M523.2 178.3L525.4 184.1M532.8 178.3L535.7 178.9M542.4 178.3L544.8 173.2M552 178.3L554.1 169M561.7 178.3L563.2 166.7M571.3 178.3L572.2 167.4M580.9 178.3L581.2 168.6M590.6 178.3L590.3 168.6M600.2 178.3L599.3 167.4M609.8 178.3L608.3 166.7M619.5 178.3L617.4 169M629.1 178.3L626.7 173.2M638.7 178.3L635.8 178.9M648.3 178.3L646.1 184.1M658 178.3L656 187.8M667.6 178.3L666.2 188.5M677.2 178.3L676.4 185.9M686.9 178.3L686.4 183.8M696.5 178.3L696.3 181.7M475 168.7L475.2 172.2M484.6 168.7L484.9 174.4M494.3 168.7L494.8 176.7M503.9 168.7L504.8 179.6M513.5 168.7L514.8 178.8M523.2 168.7L524.6 174.8M532.8 168.7L534.8 169.4M542.4 168.7L543.9 163.3M552 168.7L553.3 158.7M561.7 168.7L562.7 156.3M571.3 168.7L571.9 156.9M580.9 168.7L581.1 158.2M590.6 168.7L590.4 158.2M600.2 168.7L599.6 156.9M609.8 168.7L608.8 156.3M619.5 168.7L618.2 158.7M629.1 168.7L627.6 163.3M638.7 168.7L636.7 169.4M648.3 168.7L646.9 174.8M658 168.7L656.7 178.8M667.6 168.7L666.7 179.6M677.2 168.7L676.7 176.7M686.9 168.7L686.6 174.4M696.5 168.7L696.3 172.2M475 159L475.1 162.7M484.6 159L484.7 164.8M494.3 159L494.4 167.4M503.9 159L504.2 170.3M513.5 159L514 169.5M523.2 159L523.7 165.3M532.8 159L533.7 159.9M542.4 159L543 153.5M552 159L552.5 148.8M561.7 159L562 146.3M571.3 159L571.5 146.9M580.9 159L581 148.2M590.6 159L590.5 148.2M600.2 159L600 146.9M609.8 159L609.5 146.3M619.5 159L619 148.8M629.1 159L628.5 153.5M638.7 159L637.8 159.9M648.3 159L647.8 165.3M658 159L657.5 169.5M667.6 159L667.3 170.3M677.2 159L677.1 167.4M686.9 159L686.8 164.8M696.5 159L696.4 162.7M475 149.4L475 153M484.6 149.4L484.5 155.2M494.3 149.4L494.1 157.8M503.9 149.4L503.6 160.7M513.5 149.4L513.1 159.9M523.2 149.4L522.7 155.7M532.8 149.4L532 150.3M542.4 149.4L542 143.9M552 149.4L551.7 139.1M561.7 149.4L561.4 136.6M571.3 149.4L571.1 137.2M580.9 149.4L580.9 138.5M590.6 149.4L590.6 138.5M600.2 149.4L600.4 137.2M609.8 149.4L610.1 136.6M619.5 149.4L619.8 139.1M629.1 149.4L629.5 143.9M638.7 149.4L639.5 150.3M648.3 149.4L648.8 155.7M658 149.4L658.4 159.9M667.6 149.4L667.9 160.7M677.2 149.4L677.4 157.8M686.9 149.4L687 155.2M696.5 149.4L696.5 153M475 139.8L474.9 143.3M484.6 139.8L484.4 145.5M494.3 139.8L493.8 147.8M503.9 139.8L503 150.7M513.5 139.8L512.3 150M523.2 139.8L521.8 145.9M532.8 139.8L530.9 140.5M542.4 139.8L541 134.4M552 139.8L550.8 129.8M561.7 139.8L560.7 127.3M571.3 139.8L570.8 128M580.9 139.8L580.8 129.2M590.6 139.8L590.7 129.2M600.2 139.8L600.7 128M609.8 139.8L610.8 127.3M619.5 139.8L620.7 129.8M629.1 139.8L630.5 134.4M638.7 139.8L640.6 140.5M648.3 139.8L649.7 145.9M658 139.8L659.2 150M667.6 139.8L668.5 150.7M677.2 139.8L677.7 147.8M686.9 139.8L687.1 145.5M696.5 139.8L696.6 143.3M475 130.1L474.8 133.6M484.6 130.1L484.2 135.6M494.3 130.1L493.5 137.8M503.9 130.1L502.5 140.4M513.5 130.1L511.7 139.7M523.2 130.1L521 136M532.8 130.1L530 130.7M542.4 130.1L540.1 125M552 130.1L550.1 120.8M561.7 130.1L560.2 118.4M571.3 130.1L570.5 119.1M580.9 130.1L580.7 120.3M590.6 130.1L590.8 120.3M600.2 130.1L601 119.1M609.8 130.1L611.3 118.4M619.5 130.1L621.4 120.8M629.1 130.1L631.4 125M638.7 130.1L641.5 130.7M648.3 130.1L650.5 136M658 130.1L659.8 139.7M667.6 130.1L669 140.4M677.2 130.1L678 137.8M686.9 130.1L687.3 135.6M696.5 130.1L696.7 133.6M475 120.5L474.7 123.8M484.6 120.5L484 125.7M494.3 120.5L493.3 127.7M503.9 120.5L502.2 129.8M513.5 120.5L511.1 129.2M523.2 120.5L520.3 126M532.8 120.5L529.3 121M542.4 120.5L539.4 115.7M552 120.5L549.6 112M561.7 120.5L559.8 109.9M571.3 120.5L570.2 110.5M580.9 120.5L580.6 111.7M590.6 120.5L590.9 111.7M600.2 120.5L601.3 110.5M609.8 120.5L611.7 109.9M619.5 120.5L621.9 112M629.1 120.5L632.1 115.7M638.7 120.5L642.2 121M648.3 120.5L651.2 126M658 120.5L660.4 129.2M667.6 120.5L669.3 129.8M677.2 120.5L678.2 127.7M686.9 120.5L687.5 125.7M696.5 120.5L696.8 123.8M475 110.9L474.6 113.9M484.6 110.9L483.9 115.7M494.3 110.9L493.1 117.5M503.9 110.9L502 119M513.5 110.9L510.8 118.5M523.2 110.9L519.8 115.9M532.8 110.9L528.8 111.3M542.4 110.9L538.9 106.5M552 110.9L549.3 103.4M561.7 110.9L559.5 101.6M571.3 110.9L570.1 102.2M580.9 110.9L580.6 103.2M590.6 110.9L590.9 103.2M600.2 110.9L601.4 102.2M609.8 110.9L612 101.6M619.5 110.9L622.2 103.4M629.1 110.9L632.6 106.5M638.7 110.9L642.7 111.3M648.3 110.9L651.7 115.9M658 110.9L660.7 118.5M667.6 110.9L669.5 119M677.2 110.9L678.4 117.5M686.9 110.9L687.6 115.7M696.5 110.9L696.9 113.9M475 101.2L474.6 104M484.6 101.2L483.9 105.6M494.3 101.2L492.9 107.3M503.9 101.2L501.8 108.3M513.5 101.2L510.6 108M523.2 101.2L519.4 105.7M532.8 101.2L528.5 101.7M542.4 101.2L538.5 97.3M552 101.2L549 94.6M561.7 101.2L559.5 93.4M571.3 101.2L570 93.8M580.9 101.2L580.5 94.2M590.6 101.2L591 94.2M600.2 101.2L601.5 93.8M609.8 101.2L612 93.4M619.5 101.2L622.5 94.6M629.1 101.2L633 97.3M638.7 101.2L643 101.7M648.3 101.2L652.1 105.7M658 101.2L660.9 108M667.6 101.2L669.7 108.3M677.2 101.2L678.6 107.3M686.9 101.2L687.6 105.6M696.5 101.2L696.9 104M475 91.6L474.6 94.1M484.6 91.6L483.8 95.5M494.3 91.6L492.9 97M503.9 91.6L501.7 97.9M513.5 91.6L510.5 97.6M523.2 91.6L519.2 95.6M532.8 91.6L528.4 92M542.4 91.6L538.4 88.1M552 91.6L548.8 85.7M561.7 91.6L559.4 84.8M571.3 91.6L570 85M580.9 91.6L580.5 85.4M590.6 91.6L591 85.4M600.2 91.6L601.5 85M609.8 91.6L612.1 84.8M619.5 91.6L622.7 85.7M629.1 91.6L633.1 88.1M638.7 91.6L643.1 92M648.3 91.6L652.3 95.6M658 91.6L661 97.6M667.6 91.6L669.8 97.9M677.2 91.6L678.6 97M686.9 91.6L687.7 95.5M696.5 91.6L696.9 94.1M475 82L474.6 84.1M484.6 82L483.8 85.4M494.3 82L492.8 86.6M503.9 82L501.7 87.4M513.5 82L510.4 87.2M523.2 82L519.3 85.4M532.8 82L528.4 82.3M542.4 82L538.4 79M552 82L548.8 76.8M561.7 82L559.4 76M571.3 82L570 76.2M580.9 82L580.5 76.5M590.6 82L591 76.5M600.2 82L601.5 76.2M609.8 82L612.1 76M619.5 82L622.7 76.8M629.1 82L633.1 79M638.7 82L643.1 82.3M648.3 82L652.2 85.4M658 82L661.1 87.2M667.6 82L669.8 87.4M677.2 82L678.7 86.6M686.9 82L687.7 85.4M696.5 82L696.9 84.1M475 72.3L474.6 74.2M484.6 72.3L483.8 75.3M494.3 72.3L492.9 76.3M503.9 72.3L501.8 77M513.5 72.3L510.5 76.8M523.2 72.3L519.4 75.2M532.8 72.3L528.6 72.6M542.4 72.3L538.5 69.8M552 72.3L548.9 67.9M561.7 72.3L559.5 67.3M571.3 72.3L570 67.4M580.9 72.3L580.5 67.7M590.6 72.3L591 67.7M600.2 72.3L601.5 67.4M609.8 72.3L612 67.3M619.5 72.3L622.6 67.9M629.1 72.3L633 69.8M638.7 72.3L642.9 72.6M648.3 72.3L652.1 75.2M658 72.3L661 76.8M667.6 72.3L669.7 77M677.2 72.3L678.6 76.3M686.9 72.3L687.7 75.3M696.5 72.3L696.9 74.2M475 62.7L474.6 64.3M484.6 62.7L483.9 65.2M494.3 62.7L493 66.1M503.9 62.7L501.9 66.6M513.5 62.7L510.7 66.4M523.2 62.7L519.7 65.1M532.8 62.7L528.9 62.9M542.4 62.7L538.8 60.6M552 62.7L549.1 59M561.7 62.7L559.6 58.4M571.3 62.7L570.1 58.5M580.9 62.7L580.5 58.7M590.6 62.7L591 58.7M600.2 62.7L601.4 58.5M609.8 62.7L611.9 58.4M619.5 62.7L622.4 59M629.1 62.7L632.7 60.6M638.7 62.7L642.6 62.9M648.3 62.7L651.8 65.1M658 62.7L660.8 66.4M667.6 62.7L669.6 66.6M677.2 62.7L678.5 66.1M686.9 62.7L687.6 65.2M696.5 62.7L696.9 64.3M475 53L474.6 54.4M484.6 53L483.9 55.1M494.3 53L493.1 55.9M503.9 53L502.1 56.3M513.5 53L511 56.1M523.2 53L520 55M532.8 53L529.3 53.2M542.4 53L539.2 51.3M552 53L549.4 50M561.7 53L559.8 49.5M571.3 53L570.2 49.6M580.9 53L580.6 49.8M590.6 53L590.9 49.8M600.2 53L601.3 49.6M609.8 53L611.7 49.5M619.5 53L622.1 50M629.1 53L632.3 51.3M638.7 53L642.2 53.2M648.3 53L651.5 55M658 53L660.5 56.1M667.6 53L669.4 56.3M677.2 53L678.4 55.9M686.9 53L687.6 55.1M696.5 53L696.9 54.4M475 43.4L474.6 44.6M484.6 43.4L484 45.1M494.3 43.4L493.2 45.7M503.9 43.4L502.3 46.1M513.5 43.4L511.3 45.9M523.2 43.4L520.4 45M532.8 43.4L529.7 43.6M542.4 43.4L539.5 42M552 43.4L549.7 41M561.7 43.4L560 40.6M571.3 43.4L570.3 40.6M580.9 43.4L580.6 40.7M590.6 43.4L590.9 40.7M600.2 43.4L601.2 40.6M609.8 43.4L611.5 40.6M619.5 43.4L621.8 41M629.1 43.4L632 42M638.7 43.4L641.8 43.6M648.3 43.4L651.1 45M658 43.4L660.2 45.9M667.6 43.4L669.2 46.1M677.2 43.4L678.3 45.7M686.9 43.4L687.5 45.1M696.5 43.4L696.9 44.6M475 33.8L474.7 34.7M484.6 33.8L484.1 35.2M494.3 33.8L493.3 35.6M503.9 33.8L502.5 35.9M513.5 33.8L511.6 35.7M523.2 33.8L520.7 35M532.8 33.8L530.2 33.9M542.4 33.8L539.9 32.7M552 33.8L550 31.8M561.7 33.8L560.2 31.5M571.3 33.8L570.4 31.5M580.9 33.8L580.6 31.6M590.6 33.8L590.9 31.6M600.2 33.8L601.1 31.5M609.8 33.8L611.3 31.5M619.5 33.8L621.5 31.8M629.1 33.8L631.6 32.7M638.7 33.8L641.3 33.9M648.3 33.8L650.8 35M658 33.8L659.9 35.7M667.6 33.8L669 35.9M677.2 33.8L678.2 35.6M686.9 33.8L687.4 35.2M696.5 33.8L696.8 34.7M475 24.1L474.7 24.9M484.6 24.1L484.1 25.3M494.3 24.1L493.5 25.6M503.9 24.1L502.7 25.8M513.5 24.1L511.9 25.7M523.2 24.1L521.1 25.1M532.8 24.1L530.6 24.2M542.4 24.1L540.3 23.3M552 24.1L550.3 22.6M561.7 24.1L560.4 22.3M571.3 24.1L570.6 22.3M580.9 24.1L580.7 22.4M590.6 24.1L590.8 22.4M600.2 24.1L600.9 22.3M609.8 24.1L611.1 22.3M619.5 24.1L621.2 22.6M629.1 24.1L631.2 23.3M638.7 24.1L640.9 24.2M648.3 24.1L650.4 25.1M658 24.1L659.6 25.7M667.6 24.1L668.8 25.8M677.2 24.1L678 25.6M686.9 24.1L687.4 25.3M696.5 24.1L696.8 24.9M475 14.5L474.7 15.2M484.6 14.5L484.2 15.4M494.3 14.5L493.6 15.7M503.9 14.5L502.9 15.8M513.5 14.5L512.1 15.7M523.2 14.5L521.5 15.3M532.8 14.5L530.9 14.6M542.4 14.5L540.7 13.8M552 14.5L550.6 13.3M561.7 14.5L560.6 13.1M571.3 14.5L570.7 13.1M580.9 14.5L580.7 13.1M590.6 14.5L590.8 13.1M600.2 14.5L600.8 13.1M609.8 14.5L610.9 13.1M619.5 14.5L620.9 13.3M629.1 14.5L630.8 13.8M638.7 14.5L640.6 14.6M648.3 14.5L650 15.3M658 14.5L659.4 15.7M667.6 14.5L668.6 15.8M677.2 14.5L677.9 15.7M686.9 14.5L687.3 15.4M696.5 14.5L696.8 15.2" stroke="#000" stroke-width="1.8" stroke-linecap="round" fill="none"/>
<path d="M476.6 227.7L475.5 227.4L476 226.8ZM487.7 228.5L485.8 228.1L486.5 226.9ZM499.5 229.3L496.3 228.9L497.4 226.8ZM512 229.7L507.3 229.7L508.6 226.5ZM524.5 229.5L518.4 230.2L519.6 225.8ZM536.5 228.4L529.5 229.8L530.1 225.1ZM547.1 226.7L539.9 229L540 224.2ZM556 224.9L549.5 228.1L548.9 223.3ZM563.5 223.6L558.3 227.3L557.2 222.8ZM570.1 223L566.6 226.4L565.2 223.1ZM576.4 223L574.5 225.8L573.1 223.7ZM582.7 223.1L582.5 225.1L581.1 224.4ZM588.8 223.1L590.4 224.4L589 225.1ZM595.1 223L598.4 223.7L597 225.8ZM601.4 223L606.3 223.1L604.9 226.4ZM608 223.6L614.3 222.8L613.2 227.3ZM615.5 224.9L622.6 223.3L622 228.1ZM624.4 226.7L631.5 224.2L631.6 229ZM635 228.4L641.4 225.1L642 229.8ZM647 229.5L651.9 225.8L653.1 230.2ZM659.5 229.7L662.9 226.5L664.2 229.7ZM672 229.3L674.1 226.8L675.2 228.9ZM683.8 228.5L685 226.9L685.7 228.1ZM694.9 227.7L695.5 226.8L696 227.4ZM477 220.3L475.3 219L476.7 218.2ZM488.5 222.5L485.5 220.5L487.7 218.9ZM501.1 224.8L496.1 222.2L499.3 219.4ZM514.5 226.1L507.6 223.3L510.8 219.7ZM528.1 225.5L520.4 223.7L522.9 219.6ZM540.9 222.4L533.1 222.4L534.5 217.9ZM551.9 217.4L544.4 219.6L544.5 214.8ZM560.6 212.1L553.9 216.3L552.7 211.7ZM567.2 208.4L561.8 214.1L559.5 209.9ZM572.7 206.8L568.8 213.6L565.6 210.1ZM577.9 206.9L576.6 213.2L572.6 210.6ZM583.1 207.5L583.9 212.6L580.1 211.7ZM588.4 207.5L591.4 211.7L587.6 212.6ZM593.6 206.9L598.9 210.6L594.9 213.2ZM598.8 206.8L605.9 210.1L602.7 213.6ZM604.3 208.4L612 209.9L609.7 214.1ZM610.9 212.1L618.8 211.7L617.6 216.3ZM619.6 217.4L627 214.8L627.1 219.6ZM630.6 222.4L637 217.9L638.4 222.4ZM643.4 225.5L648.6 219.6L651.1 223.7ZM657 226.1L660.7 219.7L663.9 223.3ZM670.4 224.8L672.2 219.4L675.4 222.2ZM683 222.5L683.8 218.9L686 220.5ZM694.5 220.3L694.8 218.2L696.2 219ZM476.1 211.9L474.6 209.8L476.5 209.3ZM486.9 214.9L484.2 211.5L487.3 210.6ZM498.2 218L494.1 213.4L498.4 211.8ZM510.1 220L504.8 214.7L509.2 212.6ZM522.2 219.3L515.9 214.7L519.8 211.9ZM534 215.1L527.1 213.1L530 209.2ZM544.6 207.9L538.6 210L538.9 205.2ZM553.5 200.4L549.2 205.9L546.7 201.8ZM561.1 195.3L558.5 202.7L554.7 199.8ZM568.1 193.4L567.1 201.2L562.8 199.2ZM575.1 193.8L575.5 201.1L570.9 199.8ZM582.2 194.6L583.9 201.2L579.2 200.7ZM589.3 194.6L592.3 200.7L587.6 201.2ZM596.4 193.8L600.6 199.8L596 201.1ZM603.4 193.4L608.7 199.2L604.4 201.2ZM610.4 195.3L616.8 199.8L613 202.7ZM618 200.4L624.8 201.8L622.3 205.9ZM626.9 207.9L632.6 205.2L632.9 210ZM637.5 215.1L641.5 209.2L644.4 213.1ZM649.3 219.3L651.7 211.9L655.6 214.7ZM661.4 220L662.3 212.6L666.7 214.7ZM673.3 218L673.1 211.8L677.4 213.4ZM684.6 214.9L684.2 210.6L687.3 211.5ZM695.4 211.9L695 209.3L696.9 209.8ZM475.8 202.9L474.3 200.4L476.5 200.1ZM486.2 206.4L483.6 202.3L487.2 201.7ZM497 210L493.3 204.3L498 203.3ZM508.1 212.4L503.8 205.8L508.4 204.5ZM519.5 211.7L514.3 205.7L518.8 203.8ZM530.7 206.9L525.1 203.8L528.8 200.7ZM541.2 198.5L536.8 199.7L537.2 196.3ZM550.2 189.5L547.9 195.1L544.7 192ZM558.3 183.7L557.4 191.5L553 189.6ZM566.1 181.6L566.4 189.5L561.8 188.2ZM573.9 182.1L575 189.9L570.3 189.1ZM581.8 183.1L583.7 190.5L579 190.2ZM589.7 183.1L592.5 190.2L587.8 190.5ZM597.6 182.1L601.2 189.1L596.5 189.9ZM605.4 181.6L609.7 188.2L605.1 189.5ZM613.2 183.7L618.5 189.6L614.1 191.5ZM621.3 189.5L626.8 192L623.6 195.1ZM630.3 198.5L634.3 196.3L634.7 199.7ZM640.8 206.9L642.7 200.7L646.4 203.8ZM652 211.7L652.7 203.8L657.2 205.7ZM663.4 212.4L663.1 204.5L667.7 205.8ZM674.5 210L673.5 203.3L678.2 204.3ZM685.3 206.4L684.3 201.7L687.9 202.3ZM695.7 202.9L695 200.1L697.2 200.4ZM475.6 193.8L474.1 191L476.5 190.8ZM485.8 197.6L483.3 193L487.2 192.6ZM496.3 201.6L492.9 195.1L497.7 194.4ZM507.1 204.2L503.3 197.3L508 196.4ZM518.1 203.4L513.7 196.9L518.3 195.6ZM529 198.3L524 194.3L528.1 191.9ZM539.5 188.9L535.9 189.8L536.3 187.1ZM548.4 179L547.2 184.7L543.6 182.2ZM556.8 172.7L556.9 180.5L552.3 179.1ZM565 170.4L566 178.2L561.3 177.3ZM573.3 170.9L574.8 178.7L570 178.1ZM581.6 172.1L583.7 179.7L578.9 179.5ZM589.9 172.1L592.6 179.5L587.8 179.7ZM598.2 170.9L601.5 178.1L596.7 178.7ZM606.5 170.4L610.2 177.3L605.5 178.2ZM614.7 172.7L619.2 179.1L614.6 180.5ZM623.1 179L627.9 182.2L624.3 184.7ZM632 188.9L635.2 187.1L635.6 189.8ZM642.5 198.3L643.4 191.9L647.5 194.3ZM653.4 203.4L653.2 195.6L657.8 196.9ZM664.4 204.2L663.5 196.4L668.2 197.3ZM675.2 201.6L673.8 194.4L678.6 195.1ZM685.7 197.6L684.3 192.6L688.2 193ZM695.9 193.8L695 190.8L697.4 191ZM475.4 184.6L474 181.5L476.5 181.4ZM485.5 188.6L483 183.6L487.1 183.3ZM495.8 192.9L492.6 185.9L497.4 185.4ZM506.3 195.6L502.9 188.5L507.6 187.9ZM516.9 194.9L513.1 188L517.8 187ZM527.5 189.4L523.1 184.7L527.5 183ZM537.9 179.4L535.1 179.9L535.6 177.8ZM546.9 168.6L546.6 174.4L542.7 172.6ZM555.6 162L556.3 169.8L551.7 168.8ZM564.2 159.6L565.6 167.3L560.8 166.7ZM572.8 160.2L574.6 167.8L569.8 167.5ZM581.4 161.4L583.6 168.9L578.8 168.8ZM590.1 161.4L592.7 168.8L587.9 168.9ZM598.7 160.2L601.7 167.5L596.9 167.8ZM607.3 159.6L610.7 166.7L605.9 167.3ZM615.9 162L619.8 168.8L615.2 169.8ZM624.6 168.6L628.8 172.6L624.9 174.4ZM633.6 179.4L635.9 177.8L636.4 179.9ZM644 189.4L644 183L648.4 184.7ZM654.6 194.9L653.7 187L658.4 188ZM665.2 195.6L663.9 187.9L668.6 188.5ZM675.7 192.9L674.1 185.4L678.9 185.9ZM686 188.6L684.4 183.3L688.5 183.6ZM696.1 184.6L695 181.4L697.5 181.5ZM475.3 175.2L473.8 172L476.4 171.9ZM485.2 179.4L482.8 174.2L487.1 174ZM495.2 183.9L492.4 176.6L497.1 176.3ZM505.4 186.8L502.4 179.5L507.2 179.1ZM515.7 186L512.4 178.8L517.1 178.2ZM525.9 180.3L522.2 175L526.8 173.9ZM536.2 169.9L534.2 170L534.7 168.6ZM545.3 158.5L545.9 164.2L541.8 163ZM554.3 151.6L555.7 159.4L550.9 158.7ZM563.2 149.1L565 156.8L560.3 156.4ZM572.2 149.8L574.3 157.4L569.5 157.1ZM581.2 151L583.5 158.5L578.7 158.5ZM590.3 151L592.8 158.5L588 158.5ZM599.3 149.8L602 157.1L597.2 157.4ZM608.3 149.1L611.2 156.4L606.5 156.8ZM617.2 151.6L620.6 158.7L615.8 159.4ZM626.2 158.5L629.7 163L625.6 164.2ZM635.3 169.9L636.8 168.6L637.3 170ZM645.6 180.3L644.7 173.9L649.3 175ZM655.8 186L654.4 178.2L659.1 178.8ZM666.1 186.8L664.3 179.1L669.1 179.5ZM676.3 183.9L674.4 176.3L679.1 176.6ZM686.3 179.4L684.4 174L688.7 174.2ZM696.2 175.2L695.1 171.9L697.7 172ZM475.1 165.7L473.7 162.4L476.4 162.4ZM484.8 170L482.5 164.6L486.9 164.5ZM494.6 174.6L492 167.1L496.8 167ZM504.4 177.5L501.8 170.1L506.6 169.9ZM514.3 176.7L511.6 169.3L516.4 169.1ZM524.1 170.9L521.3 165.2L526 164.8ZM534.1 160.4L533.2 160L533.7 159.4ZM543.4 148.6L545 154L540.8 153.6ZM552.9 141.6L554.9 149.2L550.1 149ZM562.2 139.1L564.4 146.6L559.6 146.5ZM571.6 139.7L573.9 147.2L569.1 147.2ZM581 141L583.4 148.5L578.6 148.5ZM590.5 141L592.9 148.5L588.1 148.5ZM599.9 139.7L602.4 147.2L597.6 147.2ZM609.3 139.1L611.9 146.5L607.1 146.6ZM618.6 141.6L621.4 149L616.6 149.2ZM628.1 148.6L630.7 153.6L626.5 154ZM637.4 160.4L637.8 159.4L638.3 160ZM647.4 170.9L645.5 164.8L650.2 165.2ZM657.2 176.7L655.1 169.1L659.9 169.3ZM667.1 177.5L664.9 169.9L669.7 170.1ZM676.9 174.6L674.7 167L679.5 167.1ZM686.7 170L684.6 164.5L689 164.6ZM696.4 165.7L695.1 162.4L697.8 162.4ZM474.9 156.1L473.6 152.7L476.3 152.8ZM484.5 160.4L482.3 154.9L486.8 154.9ZM494 165L491.7 157.4L496.5 157.5ZM503.4 167.9L501.2 160.3L506 160.5ZM512.9 167.1L510.8 159.5L515.6 159.7ZM522.3 161.3L520.4 155.2L525.1 155.5ZM531.7 150.7L532 149.9L532.5 150.3ZM541.6 139L544.1 144L539.9 144.4ZM551.4 131.9L554.1 139.3L549.3 139.5ZM561.2 129.4L563.8 136.9L559 137ZM571 130L573.5 137.5L568.7 137.6ZM580.8 131.3L583.3 138.8L578.5 138.8ZM590.7 131.3L593 138.8L588.2 138.8ZM600.5 130L602.8 137.6L598 137.5ZM610.3 129.4L612.5 137L607.7 136.9ZM620.1 131.9L622.2 139.5L617.4 139.3ZM629.9 139L631.6 144.4L627.4 144ZM639.8 150.7L639 150.3L639.5 149.9ZM649.2 161.3L646.4 155.5L651.1 155.2ZM658.6 167.1L655.9 159.7L660.7 159.5ZM668.1 167.9L665.5 160.5L670.3 160.3ZM677.5 165L675 157.5L679.8 157.4ZM687 160.4L684.7 154.9L689.2 154.9ZM696.6 156.1L695.2 152.8L697.9 152.7ZM474.7 146.3L473.6 143L476.2 143.1ZM484.1 150.6L482.2 145.1L486.5 145.3ZM493.4 155L491.4 147.4L496.2 147.7ZM502.5 157.9L500.7 150.2L505.5 150.6ZM511.5 157.1L510 149.4L514.8 149.9ZM520.6 151.4L519.5 145.1L524.2 146.1ZM529.6 141L530.9 139.7L531.4 141ZM539.7 129.6L543.1 134.1L539 135.2ZM550 122.6L553.2 129.8L548.5 130.4ZM560.2 120.2L563.2 127.5L558.4 127.8ZM570.5 120.8L573.2 128.2L568.4 128.4ZM580.7 122L583.2 129.5L578.4 129.6ZM590.8 122L593.1 129.6L588.3 129.5ZM601 120.8L603.1 128.4L598.3 128.2ZM611.3 120.2L613.1 127.8L608.3 127.5ZM621.5 122.6L623 130.4L618.3 129.8ZM631.8 129.6L632.5 135.2L628.4 134.1ZM641.9 141L640.1 141L640.6 139.7ZM650.9 151.4L647.3 146.1L652 145.1ZM660 157.1L656.7 149.9L661.5 149.4ZM669 157.9L666 150.6L670.8 150.2ZM678.1 155L675.3 147.7L680.1 147.4ZM687.4 150.6L685 145.3L689.3 145.1ZM696.8 146.3L695.3 143.1L697.9 143ZM474.6 136.4L473.5 133.2L476 133.4ZM483.8 140.5L482.1 135.2L486.3 135.5ZM492.8 144.8L491.1 137.2L495.9 137.7ZM501.6 147.5L500.2 139.8L505 140.4ZM510.3 146.8L509.4 138.9L514.1 139.9ZM519 141.3L518.8 134.9L523.3 136.5ZM527.8 131.2L530.1 129.7L530.5 131.7ZM538.1 120.4L542.2 124.4L538.3 126.1ZM548.7 113.7L552.5 120.6L547.8 121.5ZM559.3 111.3L562.6 118.4L557.9 119ZM569.9 111.9L572.9 119.2L568.1 119.6ZM580.5 113.1L583.1 120.5L578.3 120.7ZM591 113.1L593.2 120.7L588.4 120.5ZM601.6 111.9L603.4 119.6L598.6 119.2ZM612.2 111.3L613.6 119L608.9 118.4ZM622.8 113.7L623.7 121.5L619 120.6ZM633.4 120.4L633.2 126.1L629.3 124.4ZM643.7 131.2L641 131.7L641.4 129.7ZM652.5 141.3L648.2 136.5L652.7 134.9ZM661.2 146.8L657.4 139.9L662.1 138.9ZM669.9 147.5L666.5 140.4L671.3 139.8ZM678.7 144.8L675.6 137.7L680.4 137.2ZM687.7 140.5L685.2 135.5L689.4 135.2ZM696.9 136.4L695.5 133.4L698 133.2ZM474.4 126.4L473.5 123.3L475.9 123.6ZM483.5 130.3L482.1 125.2L486 125.6ZM492.3 134.3L490.9 127.1L495.7 127.7ZM500.9 136.9L499.9 129.1L504.6 129.9ZM509.2 136.1L508.9 128.3L513.5 129.5ZM517.7 130.9L518.3 124.6L522.5 126.8ZM526.5 121.5L529.4 119.7L529.8 122.3ZM536.8 111.4L541.4 114.8L537.8 117.1ZM547.6 105.1L552 111.6L547.4 112.9ZM558.5 102.8L562.2 109.7L557.5 110.6ZM569.5 103.3L572.7 110.5L567.9 111ZM580.3 104.5L583 111.9L578.2 112ZM591.2 104.5L593.3 112L588.5 111.9ZM602 103.3L603.6 111L598.8 110.5ZM613 102.8L614 110.6L609.3 109.7ZM623.9 105.1L624.1 112.9L619.5 111.6ZM634.7 111.4L633.7 117.1L630.1 114.8ZM645 121.5L641.7 122.3L642.1 119.7ZM653.8 130.9L649 126.8L653.2 124.6ZM662.3 136.1L658 129.5L662.6 128.3ZM670.6 136.9L666.9 129.9L671.6 129.1ZM679.2 134.3L675.8 127.7L680.6 127.1ZM688 130.3L685.5 125.6L689.4 125.2ZM697.1 126.4L695.6 123.6L698 123.3ZM474.3 116.3L473.6 113.5L475.8 113.7ZM483.3 119.9L482.2 115.1L485.8 115.6ZM492 123.6L490.8 116.8L495.5 117.6ZM500.3 126L499.7 118.1L504.4 119.2ZM508.4 125.3L508.7 117.4L513.2 119ZM516.7 120.4L518 114.3L521.8 116.9ZM525.4 111.8L528.9 109.8L529.3 112.8ZM535.7 102.5L540.7 105.4L537.4 108ZM546.7 96.7L551.6 102.8L547.1 104.5ZM557.9 94.5L561.9 101.3L557.3 102.4ZM569.1 95L572.5 102.1L567.8 102.8ZM580.2 96.1L583 103.3L578.2 103.6ZM591.3 96.1L593.3 103.6L588.5 103.3ZM602.4 95L603.7 102.8L599 102.1ZM613.6 94.5L614.2 102.4L609.6 101.3ZM624.8 96.7L624.4 104.5L619.9 102.8ZM635.8 102.5L634.1 108L630.8 105.4ZM646.1 111.8L642.2 112.8L642.6 109.8ZM654.8 120.4L649.7 116.9L653.5 114.3ZM663.1 125.3L658.3 119L662.8 117.4ZM671.2 126L667.1 119.2L671.8 118.1ZM679.5 123.6L676 117.6L680.7 116.8ZM688.2 119.9L685.7 115.6L689.3 115.1ZM697.2 116.3L695.7 113.7L697.9 113.5ZM474.3 106.2L473.6 103.5L475.6 103.8ZM483.2 109.4L482.3 105L485.5 105.6ZM491.7 112.7L490.7 106.5L495.3 107.5ZM499.9 114.9L499.6 107.4L504.2 108.7ZM507.9 114.2L508.5 106.8L512.9 108.7ZM516 109.8L517.9 104.1L521.3 106.9ZM524.8 102L528.6 100L529 103.2ZM535.1 93.8L540.2 96L537.3 99ZM546.2 88.4L551.3 93.8L546.9 95.8ZM557.5 86.5L561.9 93.1L557.3 94.4ZM568.9 86.9L572.5 93.7L567.7 94.5ZM580.1 87.9L582.9 94.4L578.1 94.7ZM591.4 87.9L593.4 94.7L588.6 94.4ZM602.6 86.9L603.8 94.5L599 93.7ZM614 86.5L614.2 94.4L609.6 93.1ZM625.3 88.4L624.6 95.8L620.2 93.8ZM636.4 93.8L634.2 99L631.3 96ZM646.7 102L642.5 103.2L642.9 100ZM655.5 109.8L650.2 106.9L653.6 104.1ZM663.6 114.2L658.6 108.7L663 106.8ZM671.6 114.9L667.3 108.7L671.9 107.4ZM679.8 112.7L676.2 107.5L680.8 106.5ZM688.3 109.4L686 105.6L689.2 105ZM697.2 106.2L695.9 103.8L697.9 103.5ZM474.2 96L473.7 93.6L475.5 93.9ZM483.1 98.8L482.4 94.9L485.3 95.5ZM491.6 101.7L490.9 96.1L495 97.2ZM499.7 103.6L499.5 96.8L504.1 98.4ZM507.7 103L508.5 96.2L512.7 98.4ZM515.8 99.1L517.9 93.9L521 96.8ZM524.6 92.3L528.5 90.3L528.8 93.6ZM534.8 85L539.9 86.8L537.3 89.8ZM545.9 80.3L551.1 84.8L546.9 87.1ZM557.3 78.6L561.8 84.3L557.2 85.8ZM568.8 78.9L572.4 84.8L567.7 85.7ZM580.1 79.7L582.9 85.5L578.2 85.8ZM591.4 79.7L593.3 85.8L588.6 85.5ZM602.7 78.9L603.8 85.7L599.1 84.8ZM614.2 78.6L614.3 85.8L609.7 84.3ZM625.6 80.3L624.6 87.1L620.4 84.8ZM636.7 85L634.2 89.8L631.6 86.8ZM646.9 92.3L642.7 93.6L643 90.3ZM655.7 99.1L650.5 96.8L653.6 93.9ZM663.8 103L658.8 98.4L663 96.2ZM671.8 103.6L667.4 98.4L672 96.8ZM679.9 101.7L676.5 97.2L680.6 96.1ZM688.4 98.8L686.2 95.5L689.1 94.9ZM697.3 96L696 93.9L697.8 93.6ZM474.2 85.7L473.9 83.7L475.4 84ZM483.1 88.2L482.6 84.8L485.1 85.4ZM491.6 90.8L491.2 85.8L494.7 86.9ZM499.7 92.4L499.7 86.3L503.9 88ZM507.7 91.9L508.6 85.7L512.6 88.1ZM515.8 88.4L518.2 83.7L520.8 86.7ZM524.7 82.5L528.6 80.6L528.8 83.9ZM534.9 76.3L539.8 77.6L537.5 80.7ZM545.9 72.2L550.9 75.8L547 78.3ZM557.3 70.7L561.7 75.5L557.3 77.2ZM568.8 71L572.2 76L567.8 77ZM580.1 71.7L582.6 76.7L578.5 77ZM591.4 71.7L593 77L588.9 76.7ZM602.7 71L603.7 77L599.3 76ZM614.2 70.7L614.2 77.2L609.8 75.5ZM625.6 72.2L624.5 78.3L620.6 75.8ZM636.6 76.3L634 80.7L631.7 77.6ZM646.8 82.5L642.7 83.9L642.9 80.6ZM655.7 88.4L650.7 86.7L653.3 83.7ZM663.8 91.9L658.9 88.1L662.9 85.7ZM671.8 92.4L667.6 88L671.8 86.3ZM679.9 90.8L676.8 86.9L680.3 85.8ZM688.4 88.2L686.4 85.4L688.9 84.8ZM697.3 85.7L696.1 84L697.6 83.7ZM474.3 75.5L474 73.8L475.3 74.1ZM483.2 77.6L482.8 74.7L485 75.3ZM491.7 79.8L491.5 75.5L494.5 76.6ZM499.9 81.2L500.1 75.9L503.7 77.5ZM507.9 80.7L509 75.4L512.4 77.6ZM516.1 77.8L518.5 73.6L520.7 76.5ZM525.1 72.8L528.8 71L529 74.1ZM535.2 67.6L539.7 68.5L537.9 71.4ZM546.2 64L550.8 67L547.5 69.4ZM557.5 62.7L561.5 66.7L557.7 68.4ZM568.9 63L571.9 67.2L568.2 68.1ZM580.1 63.6L582.3 67.8L578.8 68.1ZM591.4 63.6L592.7 68.1L589.2 67.8ZM602.6 63L603.3 68.1L599.6 67.2ZM614 62.7L613.8 68.4L610 66.7ZM625.3 64L624 69.4L620.7 67ZM636.3 67.6L633.6 71.4L631.8 68.5ZM646.4 72.8L642.5 74.1L642.7 71ZM655.4 77.8L650.8 76.5L653 73.6ZM663.6 80.7L659.1 77.6L662.5 75.4ZM671.6 81.2L667.8 77.5L671.4 75.9ZM679.8 79.8L677 76.6L680 75.5ZM688.3 77.6L686.5 75.3L688.7 74.7ZM697.2 75.5L696.2 74.1L697.5 73.8ZM474.3 65.4L474.1 63.9L475.2 64.2ZM483.3 67.1L483.1 64.6L484.8 65.2ZM491.9 68.9L491.8 65.3L494.3 66.3ZM500.2 70L500.6 65.6L503.5 67.1ZM508.3 69.6L509.5 65.1L512.3 67.2ZM516.6 67.2L519 63.6L520.8 66.2ZM525.7 63.1L529.1 61.5L529.3 64.3ZM535.7 58.8L539.9 59.4L538.3 62.1ZM546.6 55.8L550.7 58.2L547.9 60.3ZM557.8 54.7L561.3 57.9L558.1 59.5ZM569 54.9L571.7 58.3L568.6 59.3ZM580.2 55.4L582 58.9L579.1 59.2ZM591.3 55.4L592.4 59.2L589.5 58.9ZM602.5 54.9L602.9 59.3L599.8 58.3ZM613.7 54.7L613.4 59.5L610.2 57.9ZM624.9 55.8L623.6 60.3L620.8 58.2ZM635.8 58.8L633.2 62.1L631.6 59.4ZM645.8 63.1L642.2 64.3L642.4 61.5ZM654.9 67.2L650.7 66.2L652.5 63.6ZM663.2 69.6L659.2 67.2L662 65.1ZM671.3 70L668 67.1L670.9 65.6ZM679.6 68.9L677.2 66.3L679.7 65.3ZM688.2 67.1L686.7 65.2L688.4 64.6ZM697.2 65.4L696.3 64.2L697.4 63.9ZM474.4 55.2L474.3 54L475.1 54.3ZM483.4 56.6L483.3 54.6L484.7 55.1ZM492.1 58.1L492.2 55.1L494.2 56ZM500.5 59L501 55.4L503.4 56.7ZM508.8 58.7L510 54.9L512.3 56.8ZM517.3 56.7L519.5 53.7L521 56ZM526.4 53.4L529.5 51.9L529.7 54.5ZM536.4 49.9L540.1 50.3L538.8 52.7ZM547.1 47.5L550.7 49.3L548.5 51.2ZM558.2 46.6L561.2 49.1L558.6 50.5ZM569.3 46.7L571.5 49.5L569 50.3ZM580.3 47.1L581.8 49.9L579.4 50.2ZM591.2 47.1L592.1 50.2L589.7 49.9ZM602.2 46.7L602.5 50.3L600 49.5ZM613.3 46.6L612.9 50.5L610.3 49.1ZM624.4 47.5L623 51.2L620.8 49.3ZM635.1 49.9L632.7 52.7L631.4 50.3ZM645.1 53.4L641.8 54.5L642 51.9ZM654.2 56.7L650.5 56L652 53.7ZM662.7 58.7L659.2 56.8L661.5 54.9ZM671 59L668.1 56.7L670.5 55.4ZM679.4 58.1L677.3 56L679.3 55.1ZM688.1 56.6L686.8 55.1L688.2 54.6ZM697.1 55.2L696.4 54.3L697.2 54ZM474.5 45.2L474.4 44.2L475.1 44.4ZM483.6 46.3L483.5 44.6L484.7 45.1ZM492.4 47.5L492.5 45.1L494.1 45.8ZM501 48.2L501.5 45.2L503.4 46.4ZM509.4 47.9L510.6 44.8L512.4 46.5ZM518.1 46.3L520 43.9L521.2 45.9ZM527.3 43.7L530 42.4L530.1 44.6ZM537.2 40.9L540.3 41.1L539.3 43.2ZM547.8 39L550.8 40.3L549 42ZM558.6 38.2L561.2 40.2L559.1 41.4ZM569.5 38.4L571.4 40.5L569.4 41.2ZM580.3 38.7L581.6 40.9L579.7 41.2ZM591.2 38.7L591.8 41.2L589.9 40.9ZM602 38.4L602.1 41.2L600.1 40.5ZM612.9 38.2L612.4 41.4L610.3 40.2ZM623.7 39L622.5 42L620.7 40.3ZM634.3 40.9L632.2 43.2L631.2 41.1ZM644.2 43.7L641.4 44.6L641.5 42.4ZM653.4 46.3L650.3 45.9L651.5 43.9ZM662.1 47.9L659.1 46.5L660.9 44.8ZM670.5 48.2L668.1 46.4L670 45.2ZM679.1 47.5L677.4 45.8L679 45.1ZM687.9 46.3L686.8 45.1L688 44.6ZM697 45.2L696.4 44.4L697.1 44.2ZM474.5 35.1L474.5 34.4L475 34.5ZM483.7 36L483.7 34.7L484.6 35.1ZM492.7 36.9L492.8 35L494.1 35.7ZM501.4 37.5L501.9 35.1L503.4 36.1ZM510 37.3L511.1 34.8L512.5 36.2ZM518.9 36L520.6 34L521.5 35.8ZM528.1 34L530.4 32.9L530.5 34.8ZM538 31.8L540.6 31.9L539.8 33.7ZM548.4 30.3L550.9 31.3L549.5 32.8ZM559.1 29.7L561.2 31.2L559.6 32.3ZM569.8 29.8L571.3 31.5L569.7 32.1ZM580.4 30.1L581.4 31.8L579.9 32ZM591.1 30.1L591.6 32L590.1 31.8ZM601.7 29.8L601.8 32.1L600.2 31.5ZM612.4 29.7L611.9 32.3L610.3 31.2ZM623.1 30.3L622 32.8L620.6 31.3ZM633.5 31.8L631.7 33.7L630.9 31.9ZM643.4 34L641 34.8L641.1 32.9ZM652.6 36L650 35.8L650.9 34ZM661.5 37.3L659 36.2L660.4 34.8ZM670.1 37.5L668.1 36.1L669.6 35.1ZM678.8 36.9L677.4 35.7L678.7 35ZM687.8 36L686.9 35.1L687.8 34.7ZM697 35.1L696.5 34.5L697 34.4ZM474.6 25.2L474.6 24.6L475 24.7ZM483.9 25.9L483.9 24.8L484.6 25.1ZM492.9 26.6L493.1 25.1L494.1 25.6ZM501.8 27L502.3 25.2L503.4 26ZM510.7 26.8L511.5 24.9L512.6 26.1ZM519.6 25.9L521 24.3L521.7 25.7ZM528.9 24.3L530.8 23.4L530.9 25ZM538.8 22.6L540.9 22.7L540.3 24.1ZM549.1 21.5L551.1 22.2L550 23.4ZM559.5 21L561.2 22.2L560 23ZM570 21.1L571.3 22.4L570.1 22.9ZM580.5 21.3L581.3 22.6L580.2 22.8ZM591 21.3L591.3 22.8L590.2 22.6ZM601.5 21.1L601.4 22.9L600.2 22.4ZM612 21L611.5 23L610.3 22.2ZM622.4 21.5L621.5 23.4L620.4 22.2ZM632.7 22.6L631.2 24.1L630.6 22.7ZM642.6 24.3L640.6 25L640.7 23.4ZM651.9 25.9L649.8 25.7L650.5 24.3ZM660.8 26.8L658.9 26.1L660 24.9ZM669.7 27L668.1 26L669.2 25.2ZM678.6 26.6L677.4 25.6L678.4 25.1ZM687.6 25.9L686.9 25.1L687.6 24.8ZM696.9 25.2L696.5 24.7L696.9 24.6ZM474.7 15.3L474.7 14.8L475 15ZM484 15.8L484.1 15L484.6 15.3ZM493.2 16.3L493.4 15.2L494.1 15.6ZM502.2 16.6L502.6 15.2L503.5 15.9ZM511.2 16.5L512 15L512.8 16ZM520.3 15.8L521.5 14.6L522 15.7ZM529.7 14.6L531.2 13.9L531.3 15.2ZM539.5 13.4L541.2 13.4L540.7 14.5ZM549.6 12.5L551.2 13L550.4 14ZM559.9 12.2L561.3 13L560.3 13.7ZM570.3 12.2L571.2 13.2L570.3 13.6ZM580.6 12.4L581.2 13.4L580.3 13.5ZM590.9 12.4L591.2 13.5L590.3 13.4ZM601.2 12.2L601.2 13.6L600.3 13.2ZM611.6 12.2L611.2 13.7L610.2 13ZM621.9 12.5L621.1 14L620.3 13ZM632 13.4L630.8 14.5L630.3 13.4ZM641.8 14.6L640.2 15.2L640.3 13.9ZM651.2 15.8L649.5 15.7L650 14.6ZM660.3 16.5L658.7 16L659.5 15ZM669.3 16.6L668 15.9L668.9 15.2ZM678.3 16.3L677.4 15.6L678.1 15.2ZM687.5 15.8L686.9 15.3L687.4 15ZM696.8 15.3L696.5 15L696.8 14.8Z" fill="#000" stroke="#000" stroke-width="0.5" stroke-linejoin="round"/>
</g>
<rect x="475.0" y="7.0" width="221.5" height="223.5" fill="none" stroke="#000" stroke-width="1.4"/>
<g clip-path="url(#clipc)">
<path d="M827 226.5L829.2 227.4M836.6 226.5L839.7 227.6M846.2 226.5L850.3 227.7M855.8 226.5L860.9 227.7M865.4 226.5L871.5 227.6M875 226.5L882 227.3M884.7 226.5L892.2 226.9M894.3 226.5L901.9 226.5M903.9 226.5L911.3 226M913.5 226.5L920.3 225.6M923.1 226.5L928.9 225.3M932.7 226.5L937.4 225.2M942.3 226.5L945.8 225.1M951.9 226.5L954 225M961.5 226.5L961.9 224.8M971.1 226.5L969.7 225.3M980.7 226.5L978.3 225.7M990.3 226.5L987.4 226.1M1000 226.5L996.9 226.5M1009.6 226.5L1006.6 226.7M1019.2 226.5L1016.6 226.9M1028.8 226.5L1026.7 227M1038.4 226.5L1036.8 227M1048 226.5L1046.9 227M827 216.9L829.4 219.3M836.6 216.9L840 219.8M846.2 216.9L850.8 220.2M855.8 216.9L861.7 220.3M865.4 216.9L872.6 219.9M875 216.9L883.9 219.4M884.7 216.9L894.8 218.2M894.3 216.9L904.7 216.7M903.9 216.9L913.8 215.2M913.5 216.9L922 214.1M923.1 216.9L929.8 213.5M932.7 216.9L937.9 213M942.3 216.9L945.8 212.8M951.9 216.9L953.4 212.7M961.5 216.9L960.8 213M971.1 216.9L968.4 213.8M980.7 216.9L976.6 214.7M990.3 216.9L985.4 215.8M1000 216.9L994.8 216.9M1009.6 216.9L1004.7 217.7M1019.2 216.9L1015 218.3M1028.8 216.9L1025.5 218.6M1038.4 216.9L1036 218.5M1048 216.9L1046.4 218.3M827 207.2L828.5 210.6M836.6 207.2L838.8 211.4M846.2 207.2L849.2 212M855.8 207.2L859.7 212.2M865.4 207.2L870.3 211.9M875 207.2L880.8 210.8M884.7 207.2L891.1 209.1M894.3 207.2L900.9 207M903.9 207.2L910.2 204.9M913.5 207.2L919.1 203.2M923.1 207.2L927.6 202.2M932.7 207.2L936.1 201.7M942.3 207.2L944.5 201.5M951.9 207.2L952.8 201.7M961.5 207.2L961.2 202.1M971.1 207.2L969.7 202.7M980.7 207.2L978.3 203.8M990.3 207.2L987.1 205.3M1000 207.2L996.4 207.2M1009.6 207.2L1006.3 208.8M1019.2 207.2L1016.5 209.7M1028.8 207.2L1026.8 210M1038.4 207.2L1037 209.8M1048 207.2L1047.1 209.3M827 197.6L828.1 201.5M836.6 197.6L838.2 202.4M846.2 197.6L848.4 203.1M855.8 197.6L858.8 203.5M865.4 197.6L869.2 203.2M875 197.6L879.6 202M884.7 197.6L890 200M894.3 197.6L899.8 197.3M903.9 197.6L909 194.6M913.5 197.6L917.9 192.7M923.1 197.6L926.6 191.6M932.7 197.6L935.4 191.1M942.3 197.6L944.2 191M951.9 197.6L953.2 191.3M961.5 197.6L962.3 191.7M971.1 197.6L971.6 192.4M980.7 197.6L981.1 193.4M990.3 197.6L990.6 194.8M1000 197.6L1000.3 196.9M1009.6 197.6L1009.7 199.7M1019.2 197.6L1019.2 200.5M1028.8 197.6L1028.9 200.7M1038.4 197.6L1038.5 200.4M1048 197.6L1048 199.9M827 188L827.9 192.2M836.6 188L838 193.3M846.2 188L848.1 194.1M855.8 188L858.3 194.5M865.4 188L868.6 194.2M875 188L879 193M884.7 188L889.4 190.8M894.3 188L899.3 187.6M903.9 188L908.4 184.5M913.5 188L917.3 182.4M923.1 188L926.2 181.3M932.7 188L935.1 180.8M942.3 188L944.2 180.8M951.9 188L953.5 181.2M961.5 188L963.2 181.8M971.1 188L973.1 182.6M980.7 188L983.2 183.7M990.3 188L993.3 185.2M1000 188L1003.2 187.1M1009.6 188L1012.6 188.8M1019.2 188L1021.7 189.9M1028.8 188L1030.7 190.2M1038.4 188L1039.8 190M1048 188L1048.9 189.9M827 178.3L827.8 182.9M836.6 178.3L837.7 184M846.2 178.3L847.8 185M855.8 178.3L857.9 185.4M865.4 178.3L868.1 185.1M875 178.3L878.4 183.9M884.7 178.3L888.8 181.5M894.3 178.3L898.8 177.9M903.9 178.3L907.9 174.5M913.5 178.3L916.8 172.3M923.1 178.3L925.7 171.1M932.7 178.3L934.8 170.4M942.3 178.3L943.9 170.5M951.9 178.3L953.4 171M961.5 178.3L963.3 171.8M971.1 178.3L973.6 172.7M980.7 178.3L983.9 173.9M990.3 178.3L994.1 175.2M1000 178.3L1003.9 176.5M1009.6 178.3L1013.4 177.7M1019.2 178.3L1022.6 178.4M1028.8 178.3L1031.6 178.6M1038.4 178.3L1040.7 178.6M1048 178.3L1049.5 179.2M827 168.7L827.6 173.5M836.6 168.7L837.5 174.7M846.2 168.7L847.4 175.7M855.8 168.7L857.5 176.2M865.4 168.7L867.6 175.9M875 168.7L877.7 174.7M884.7 168.7L888 172.2M894.3 168.7L898.1 168.2M903.9 168.7L907.1 164.5M913.5 168.7L916.1 162.3M923.1 168.7L925.2 160.9M932.7 168.7L934.4 159.9M942.3 168.7L943.4 159.7M951.9 168.7L952.7 160.6M961.5 168.7L962.7 161.6M971.1 168.7L973.1 162.6M980.7 168.7L983.4 163.6M990.3 168.7L993.5 164.6M1000 168.7L1003.3 165.5M1009.6 168.7L1012.9 166.1M1019.2 168.7L1022.2 166.5M1028.8 168.7L1031.3 166.6M1038.4 168.7L1040.4 166.8M1048 168.7L1049.5 168M827 159L827.4 164.1M836.6 159L837.2 165.3M846.2 159L847 166.4M855.8 159L857 167M865.4 159L866.9 166.6M875 159L876.9 165.4M884.7 159L887 162.9M894.3 159L897.2 158.5M903.9 159L906.1 154.5M913.5 159L915.3 152.3M923.1 159L924.5 150.7M932.7 159L933.7 149.4M942.3 159L942.6 148.8M951.9 159L951.8 149.6M961.5 159L961.8 151.3M971.1 159L972.2 152.2M980.7 159L982.4 153.1M990.3 159L992.3 153.9M1000 159L1002.1 154.4M1009.6 159L1011.6 154.8M1019.2 159L1021.1 155M1028.8 159L1030.5 155.1M1038.4 159L1039.9 155.5M1048 159L1049.1 157.2M827 149.4L827.2 154.6M836.6 149.4L836.9 155.9M846.2 149.4L846.6 156.9M855.8 149.4L856.4 157.7M865.4 149.4L866.1 157.2M875 149.4L875.9 155.9M884.7 149.4L885.8 153.5M894.3 149.4L896.1 148.7M903.9 149.4L905 144.7M913.5 149.4L914.3 142.4M923.1 149.4L923.8 140.7M932.7 149.4L933 139.1M942.3 149.4L941.8 138.2M951.9 149.4L951 138.9M961.5 149.4L961.1 140.6M971.1 149.4L971.4 142.1M980.7 149.4L981.4 142.9M990.3 149.4L991.3 143.5M1000 149.4L1001 143.9M1009.6 149.4L1010.6 144.2M1019.2 149.4L1020.3 144.3M1028.8 149.4L1030 144.5M1038.4 149.4L1039.6 145M1048 149.4L1048.8 146.9M827 139.8L827 145M836.6 139.8L836.6 146.3M846.2 139.8L846.2 147.3M855.8 139.8L855.7 148.2M865.4 139.8L865.3 147.7M875 139.8L874.9 146.4M884.7 139.8L884.5 143.9M894.3 139.8L893.9 138.7M903.9 139.8L903.7 135M913.5 139.8L913.4 132.8M923.1 139.8L923 130.9M932.7 139.8L932.3 129.2M942.3 139.8L941.2 128.2M951.9 139.8L950.3 128.7M961.5 139.8L960.5 130.4M971.1 139.8L970.9 132.1M980.7 139.8L980.9 132.9M990.3 139.8L990.7 133.5M1000 139.8L1000.4 133.9M1009.6 139.8L1010.1 134.1M1019.2 139.8L1019.8 134.2M1028.8 139.8L1029.7 134.3M1038.4 139.8L1039.4 134.9M1048 139.8L1048.7 137M827 130.1L826.8 135.3M836.6 130.1L836.2 136.6M846.2 130.1L845.7 137.6M855.8 130.1L855.1 138.4M865.4 130.1L864.5 137.9M875 130.1L873.9 136.6M884.7 130.1L883.2 134.2M894.3 130.1L892.1 129.5M903.9 130.1L902.5 125.5M913.5 130.1L912.4 123.2M923.1 130.1L922.2 121.4M932.7 130.1L931.7 119.6M942.3 130.1L940.6 118.5M951.9 130.1L949.9 118.9M961.5 130.1L960.2 120.6M971.1 130.1L970.6 122.4M980.7 130.1L980.6 123.2M990.3 130.1L990.4 123.7M1000 130.1L1000.1 124M1009.6 130.1L1009.8 124.2M1019.2 130.1L1019.7 124.3M1028.8 130.1L1029.6 124.5M1038.4 130.1L1039.3 125.1M1048 130.1L1048.6 127.2M827 120.5L826.5 125.5M836.6 120.5L835.9 126.8M846.2 120.5L845.3 127.8M855.8 120.5L854.6 128.4M865.4 120.5L863.8 128M875 120.5L873 126.8M884.7 120.5L882 124.3M894.3 120.5L891.1 120M903.9 120.5L901.4 116.1M913.5 120.5L911.5 113.8M923.1 120.5L921.5 112.1M932.7 120.5L931.1 110.3M942.3 120.5L940.2 109.1M951.9 120.5L949.6 109.4M961.5 120.5L959.9 111M971.1 120.5L970.5 112.8M980.7 120.5L980.5 113.5M990.3 120.5L990.3 114M1000 120.5L1000 114.3M1009.6 120.5L1009.8 114.5M1019.2 120.5L1019.6 114.6M1028.8 120.5L1029.5 114.7M1038.4 120.5L1039.3 115.3M1048 120.5L1048.6 117.5M827 110.9L826.4 115.6M836.6 110.9L835.7 116.8M846.2 110.9L844.9 117.8M855.8 110.9L854.1 118.3M865.4 110.9L863.2 118M875 110.9L872.2 116.8M884.7 110.9L881.1 114.3M894.3 110.9L890.2 110.4M903.9 110.9L900.5 106.8M913.5 110.9L910.7 104.5M923.1 110.9L920.9 103M932.7 110.9L930.6 101.3M942.3 110.9L939.8 99.9M951.9 110.9L949.3 100.1M961.5 110.9L959.8 101.6M971.1 110.9L970.4 103.2M980.7 110.9L980.5 103.9M990.3 110.9L990.3 104.4M1000 110.9L1000 104.7M1009.6 110.9L1009.7 104.8M1019.2 110.9L1019.6 104.9M1028.8 110.9L1029.5 105.1M1038.4 110.9L1039.3 105.7M1048 110.9L1048.6 107.9M827 101.2L826.2 105.7M836.6 101.2L835.4 106.9M846.2 101.2L844.6 107.8M855.8 101.2L853.6 108.2M865.4 101.2L862.6 107.9M875 101.2L871.5 106.7M884.7 101.2L880.4 104.3M894.3 101.2L889.7 100.8M903.9 101.2L899.8 97.5M913.5 101.2L910.1 95.3M923.1 101.2L920.4 94M932.7 101.2L930.3 92.4M942.3 101.2L939.5 90.9M951.9 101.2L949.2 91M961.5 101.2L959.7 92.4M971.1 101.2L970.3 93.7M980.7 101.2L980.4 94.3M990.3 101.2L990.3 94.8M1000 101.2L1000 95.1M1009.6 101.2L1009.7 95.2M1019.2 101.2L1019.6 95.3M1028.8 101.2L1029.5 95.4M1038.4 101.2L1039.3 96M1048 101.2L1048.6 98.3M827 91.6L826.1 95.8M836.6 91.6L835.3 96.8M846.2 91.6L844.4 97.6M855.8 91.6L853.3 98M865.4 91.6L862.2 97.7M875 91.6L871.1 96.6M884.7 91.6L880 94.4M894.3 91.6L889.3 91.3M903.9 91.6L899.3 88.3M913.5 91.6L909.7 86.2M923.1 91.6L920.1 84.9M932.7 91.6L930.1 83.6M942.3 91.6L939.4 82.1M951.9 91.6L949.1 82M961.5 91.6L959.6 83.2M971.1 91.6L970.2 84.2M980.7 91.6L980.4 84.8M990.3 91.6L990.2 85.2M1000 91.6L1000 85.4M1009.6 91.6L1009.7 85.6M1019.2 91.6L1019.6 85.7M1028.8 91.6L1029.5 85.8M1038.4 91.6L1039.3 86.4M1048 91.6L1048.6 88.6M827 82L826 85.8M836.6 82L835.2 86.7M846.2 82L844.2 87.4M855.8 82L853.1 87.8M865.4 82L862 87.5M875 82L870.8 86.4M884.7 82L879.8 84.4M894.3 82L889.1 81.7M903.9 82L899.1 79M913.5 82L909.4 77.1M923.1 82L919.8 75.9M932.7 82L930 74.8M942.3 82L939.4 73.3M951.9 82L949.1 73M961.5 82L959.6 74M971.1 82L970.2 74.8M980.7 82L980.4 75.3M990.3 82L990.2 75.6M1000 82L1000 75.8M1009.6 82L1009.7 76M1019.2 82L1019.6 76M1028.8 82L1029.5 76.1M1038.4 82L1039.3 76.8M1048 82L1048.6 79M827 72.3L826 75.7M836.6 72.3L835.1 76.6M846.2 72.3L844.1 77.2M855.8 72.3L853 77.5M865.4 72.3L861.9 77.2M875 72.3L870.7 76.2M884.7 72.3L879.7 74.4M894.3 72.3L889.1 72.1M903.9 72.3L899 69.8M913.5 72.3L909.3 68M923.1 72.3L919.7 66.8M932.7 72.3L929.9 65.8M942.3 72.3L939.4 64.6M951.9 72.3L949.1 64.1M961.5 72.3L959.7 64.8M971.1 72.3L970.2 65.3M980.7 72.3L980.4 65.7M990.3 72.3L990.2 66M1000 72.3L1000 66.2M1009.6 72.3L1009.7 66.3M1019.2 72.3L1019.6 66.4M1028.8 72.3L1029.5 66.5M1038.4 72.3L1039.3 67.1M1048 72.3L1048.6 69.3M827 62.7L825.9 65.7M836.6 62.7L835.1 66.4M846.2 62.7L844.1 67M855.8 62.7L853 67.2M865.4 62.7L861.9 66.9M875 62.7L870.8 66M884.7 62.7L879.8 64.5M894.3 62.7L889.2 62.5M903.9 62.7L899.1 60.5M913.5 62.7L909.4 58.9M923.1 62.7L919.7 57.8M932.7 62.7L929.9 56.7M942.3 62.7L939.5 55.6M951.9 62.7L949.2 55.2M961.5 62.7L959.7 55.5M971.1 62.7L970.2 55.9M980.7 62.7L980.4 56.2M990.3 62.7L990.2 56.5M1000 62.7L1000 56.6M1009.6 62.7L1009.7 56.7M1019.2 62.7L1019.6 56.8M1028.8 62.7L1029.5 56.9M1038.4 62.7L1039.3 57.5M1048 62.7L1048.6 59.7M827 53L826 55.7M836.6 53L835.1 56.3M846.2 53L844.2 56.8M855.8 53L853.1 57M865.4 53L862 56.7M875 53L871 55.9M884.7 53L880.1 54.6M894.3 53L889.5 52.9M903.9 53L899.4 51.2M913.5 53L909.6 49.8M923.1 53L919.9 48.8M932.7 53L930 47.6M942.3 53L939.6 46.5M951.9 53L949.3 46M961.5 53L959.7 46.1M971.1 53L970.2 46.4M980.7 53L980.4 46.7M990.3 53L990.2 46.9M1000 53L1000 47M1009.6 53L1009.7 47.1M1019.2 53L1019.6 47.1M1028.8 53L1029.5 47.2M1038.4 53L1039.3 47.8M1048 53L1048.6 50.1M827 43.4L826 45.7M836.6 43.4L835.2 46.2M846.2 43.4L844.3 46.6M855.8 43.4L853.3 46.7M865.4 43.4L862.2 46.5M875 43.4L871.3 45.8M884.7 43.4L880.4 44.7M894.3 43.4L889.9 43.3M903.9 43.4L899.7 41.8M913.5 43.4L909.8 40.7M923.1 43.4L920.1 39.7M932.7 43.4L930.2 38.5M942.3 43.4L939.7 37.2M951.9 43.4L949.3 36.7M961.5 43.4L959.7 36.7M971.1 43.4L970.3 36.9M980.7 43.4L980.4 37.1M990.3 43.4L990.3 37.3M1000 43.4L1000 37.4M1009.6 43.4L1009.7 37.5M1019.2 43.4L1019.6 37.5M1028.8 43.4L1029.5 37.6M1038.4 43.4L1039.3 38.2M1048 43.4L1048.6 40.4M827 33.8L826.1 35.7M836.6 33.8L835.3 36.1M846.2 33.8L844.4 36.4M855.8 33.8L853.5 36.6M865.4 33.8L862.5 36.3M875 33.8L871.6 35.8M884.7 33.8L880.8 34.8M894.3 33.8L890.3 33.6M903.9 33.8L900.1 32.5M913.5 33.8L910.1 31.5M923.1 33.8L920.3 30.5M932.7 33.8L930.4 29.3M942.3 33.8L939.8 28M951.9 33.8L949.4 27.3M961.5 33.8L959.8 27.3M971.1 33.8L970.3 27.4M980.7 33.8L980.4 27.6M990.3 33.8L990.3 27.7M1000 33.8L1000 27.8M1009.6 33.8L1009.7 27.8M1019.2 33.8L1019.6 27.9M1028.8 33.8L1029.5 28M1038.4 33.8L1039.3 28.6M1048 33.8L1048.6 30.8M827 24.1L826.2 25.8M836.6 24.1L835.4 26.1M846.2 24.1L844.6 26.4M855.8 24.1L853.7 26.4M865.4 24.1L862.8 26.3M875 24.1L872 25.8M884.7 24.1L881.3 25M894.3 24.1L890.8 24M903.9 24.1L900.5 23.1M913.5 24.1L910.5 22.2M923.1 24.1L920.6 21.3M932.7 24.1L930.6 20.1M942.3 24.1L940 18.7M951.9 24.1L949.5 17.9M961.5 24.1L959.8 17.8M971.1 24.1L970.3 17.9M980.7 24.1L980.5 18M990.3 24.1L990.3 18.1M1000 24.1L1000 18.2M1009.6 24.1L1009.7 18.2M1019.2 24.1L1019.6 18.2M1028.8 24.1L1029.5 18.3M1038.4 24.1L1039.3 18.9M1048 24.1L1048.6 21.2M827 14.5L826.2 15.9M836.6 14.5L835.5 16.1M846.2 14.5L844.8 16.3M855.8 14.5L854 16.4M865.4 14.5L863.1 16.2M875 14.5L872.4 15.8M884.7 14.5L881.7 15.2M894.3 14.5L891.2 14.4M903.9 14.5L901 13.6M913.5 14.5L910.9 12.9M923.1 14.5L921 12.1M932.7 14.5L930.9 10.8M942.3 14.5L940.1 9.3M951.9 14.5L949.6 8.5M961.5 14.5L959.9 8.3M971.1 14.5L970.4 8.3M980.7 14.5L980.5 8.4M990.3 14.5L990.3 8.5M1000 14.5L1000 8.6M1009.6 14.5L1009.7 8.6M1019.2 14.5L1019.6 8.6M1028.8 14.5L1029.5 8.7M1038.4 14.5L1039.3 9.3M1048 14.5L1048.6 11.5" stroke="#000" stroke-width="1.8" stroke-linecap="round" fill="none"/>
<path d="M830.9 228.1L828.6 228.1L829.3 226.5ZM842.1 228.5L839 228.6L839.8 226.4ZM853.7 228.7L849.5 229.1L850.4 226.1ZM865.4 228.8L860.2 229.5L861.1 225.7ZM877.1 228.5L870.8 229.8L871.7 225.2ZM888.4 228L881.4 229.6L882 224.9ZM899.1 227.3L891.7 229.3L892 224.5ZM909 226.4L901.6 228.9L901.6 224.1ZM918.1 225.5L911.1 228.4L910.8 223.6ZM926.5 224.8L920.3 228L919.7 223.3ZM934.2 224.3L929.1 227.6L928.2 223.2ZM941.6 224L937.6 227L936.6 223.5ZM948.7 223.8L946 226.5L945 223.9ZM955.6 223.8L954.3 225.9L953.2 224.4ZM962.1 223.8L962.4 225.2L961.3 225ZM968.7 224.4L970.3 225L969.5 225.9ZM976.5 225.2L978.9 225L978.3 226.7ZM985.1 225.8L987.9 225.1L987.6 227.2ZM994.4 226.4L997.2 225.4L997.2 227.6ZM1004.3 226.9L1006.8 225.7L1007 227.8ZM1014.6 227.2L1016.7 226L1017 227.8ZM1025.2 227.4L1026.8 226.2L1027.2 227.7ZM1035.8 227.3L1036.9 226.4L1037.3 227.4ZM1046.3 227.2L1047 226.5L1047.3 227.2ZM831.3 221.3L828.3 219.9L830 218.2ZM842.9 222.4L838.6 220.9L840.8 218.4ZM854.8 223.1L849.3 221.7L851.8 218.3ZM867 223.4L860.2 222.2L862.6 218ZM879.1 222.8L871.3 222L873.2 217.6ZM890.9 221.3L883 221.6L884.3 217ZM901.9 219.2L894.1 220.6L894.8 215.8ZM911.9 216.6L904.5 219.1L904.4 214.3ZM920.9 214L913.9 217.6L913.1 212.9ZM928.8 211.9L922.4 216.5L921 211.9ZM936 210.4L930.6 215.8L928.5 211.5ZM942.6 209.5L939.1 215.1L936.2 211.3ZM948.8 209.2L947.1 214.3L944 211.7ZM954.6 209.2L954.8 213.6L951.7 212.5ZM960.1 209.8L962.2 213L959.4 213.6ZM966.1 211.1L969.8 213L967.5 215ZM973 212.9L977.7 213.3L976.1 216.4ZM981.1 214.9L986.1 214L985.3 217.7ZM990.3 216.8L995.1 214.9L995.1 218.8ZM1000.5 218.5L1004.7 215.9L1005.4 219.5ZM1011.4 219.6L1014.8 216.7L1015.8 219.8ZM1022.7 220L1025.1 217.2L1026.4 219.6ZM1034.1 219.8L1035.6 217.5L1036.8 219.2ZM1045.2 219.3L1046.1 217.5L1047.1 218.6ZM829.7 213.4L827.1 210.8L829.6 209.8ZM840.6 215L837.1 211.9L840.2 210.3ZM851.8 216.2L847.2 212.8L850.8 210.6ZM863.3 216.7L857.7 213.4L861.4 210.5ZM874.8 216.1L868.5 213.4L871.8 209.9ZM886.1 214.1L879.3 212.7L881.9 208.6ZM897 210.8L890.2 211.3L891.5 206.7ZM907 206.8L900.7 209.4L900.6 204.6ZM916 202.7L910.8 207.2L909.1 202.7ZM924.2 199.6L920.2 205.3L917.4 201.4ZM931.8 197.6L929.2 204L925.7 200.8ZM939.2 196.6L938 203.2L933.9 200.7ZM946.4 196.4L946.5 202.6L942.2 201ZM953.6 196.8L954.9 202.3L950.7 201.6ZM960.9 197.5L963.2 202.3L959.3 202.5ZM968.4 198.8L971.4 202.5L968.1 203.6ZM976.1 200.8L979.7 203.1L977.2 205ZM984.3 203.8L988 204.3L986.7 206.7ZM993.5 207.2L996.7 205.9L996.7 208.5ZM1003.6 210.1L1006 207.5L1007.2 209.9ZM1014.3 211.8L1015.8 208.5L1017.6 210.5ZM1025.1 212.3L1025.9 209L1028 210.5ZM1035.9 211.8L1036.2 209L1038 210ZM1046.4 210.9L1046.5 208.7L1047.9 209.4ZM829 204.7L826.6 201.6L829.4 200.8ZM839.6 206.6L836.3 202.7L839.9 201.5ZM850.4 208.1L846.2 203.7L850.4 202ZM861.5 208.8L856.5 204.3L860.8 202.1ZM872.7 208.2L867.1 204.3L871 201.6ZM883.8 206.1L877.8 203.6L881.1 200.1ZM894.7 202.2L888.8 201.9L890.6 197.9ZM904.8 197L899.6 199.4L899.4 195.2ZM913.7 192L909.9 196.7L907.7 192.8ZM921.9 188.2L919.5 194.5L915.9 191.3ZM929.9 186.1L928.6 193.1L924.4 190.6ZM937.9 185.1L937.5 192.3L933.1 190.4ZM945.9 185.1L946.4 192L941.8 190.7ZM954.3 185.6L955.5 192L950.7 191.1ZM963 186.5L964.5 192.3L960 191.7ZM972.1 187.8L973.5 192.9L969.6 192.5ZM981.3 189.8L982.6 193.8L979.5 193.6ZM990.7 192.7L991.5 195.2L989.6 195.1ZM1000.3 196.7L1000.3 197.2L1000 197.1ZM1009.7 201.1L1008.9 199.4L1010.4 199.3ZM1019.3 202.8L1018.2 200.2L1020.3 200.2ZM1028.9 203.1L1027.7 200.4L1030 200.3ZM1038.5 202.5L1037.5 200.1L1039.4 200ZM1048.1 201.6L1047.2 199.6L1048.8 199.6ZM828.7 195.9L826.3 192.3L829.4 191.6ZM839.1 198L835.9 193.5L839.9 192.5ZM849.8 199.7L845.7 194.5L850.3 193.1ZM860.6 200.5L856 195.1L860.5 193.4ZM871.6 199.9L866.4 195L870.6 192.8ZM882.6 197.6L876.9 194.3L880.7 191.3ZM893.5 193.3L888 192.4L890.2 188.8ZM903.7 187.3L899.1 189.5L898.8 185.7ZM912.5 181.5L909.5 186.4L906.9 183ZM920.8 177.4L919.1 184.1L915.2 181.3ZM929 175.2L928.2 182.6L923.9 180.5ZM937.4 174.2L937.3 181.9L932.8 180.3ZM945.9 174.2L946.4 181.7L941.8 180.5ZM954.9 174.9L955.8 182L951.1 180.9ZM964.7 176.1L965.4 182.7L960.8 181.4ZM975 177.8L975.1 183.6L971 182.1ZM985.4 180L984.7 184.9L981.5 183ZM995.8 182.9L994.1 186.5L992.1 184.3ZM1005.8 186.4L1003.2 188.3L1002.6 186ZM1015 189.5L1012 189.8L1012.6 187.7ZM1023.7 191.4L1020.7 190.6L1022.1 188.8ZM1032.3 191.9L1029.7 190.7L1031.3 189.2ZM1040.9 191.6L1038.9 190.3L1040.4 189.3ZM1049.6 191.2L1048.1 189.9L1049.4 189.3ZM828.4 186.9L826 182.9L829.4 182.3ZM838.7 189.2L835.5 184.2L839.8 183.3ZM849.2 191L845.4 185.2L850.1 184.1ZM859.9 191.9L855.5 185.8L860.1 184.4ZM870.6 191.4L865.8 185.7L870.3 183.9ZM881.5 188.9L876.2 184.9L880.3 182.4ZM892.4 184.3L887.3 182.9L889.7 179.8ZM902.7 177.6L898.6 179.6L898.3 176.3ZM911.4 171.1L909.1 176.2L906.2 173.2ZM919.7 166.8L918.7 173.7L914.5 171.4ZM928.2 164.5L927.9 172.2L923.4 170.6ZM936.7 163.5L937.1 171.4L932.4 170.1ZM945.4 163.5L946.2 171.3L941.5 170.3ZM954.7 164.3L955.7 171.8L950.9 170.9ZM965 165.8L965.6 172.7L960.9 171.4ZM975.9 167.7L975.6 174L971.4 172.1ZM986.8 169.9L985.5 175.3L982.1 172.9ZM997.4 172.4L995.1 176.8L992.7 173.9ZM1007.4 174.9L1004.3 178.1L1003 175.1ZM1016.7 177.1L1013.4 179.1L1012.9 176.3ZM1025.4 178.5L1022.3 179.6L1022.3 177.2ZM1033.9 178.9L1031.2 179.6L1031.5 177.6ZM1042.3 178.9L1040.2 179.4L1040.5 177.8ZM1050.5 179.8L1049 179.5L1049.5 178.5ZM828.1 177.8L825.7 173.5L829.4 173ZM838.3 180.2L835.1 174.8L839.7 174.1ZM848.6 182.2L845 175.8L849.8 175ZM859 183.2L855.1 176.4L859.8 175.4ZM869.5 182.6L865.2 176.3L869.8 175ZM880.2 180.1L875.4 175.4L879.8 173.4ZM891 175.3L886.5 173.3L889.1 170.7ZM901.4 167.8L898 169.7L897.6 166.8ZM910 160.8L908.5 165.9L905.3 163.5ZM918.5 156.4L918.2 163.4L913.7 161.6ZM927.1 153.9L927.4 161.8L922.8 160.5ZM935.7 152.8L936.7 160.6L932 159.7ZM944.2 152.5L945.7 160.2L941 159.7ZM953.4 153.4L955.1 161.1L950.3 160.6ZM963.8 155.1L965 162.3L960.3 161.5ZM974.9 157L975.3 163.6L970.7 162.1ZM985.8 159L985.2 164.9L981.3 162.8ZM996.3 160.9L994.9 166L991.8 163.6ZM1006.3 162.6L1004.3 166.9L1001.9 164.4ZM1015.7 164L1013.6 167.5L1011.7 165.1ZM1024.7 164.7L1022.7 167.8L1021.1 165.6ZM1033.4 164.9L1031.9 167.7L1030.3 165.8ZM1042.1 165.2L1040.9 167.7L1039.5 166.2ZM1050.5 167.5L1049.5 168.6L1049 167.6ZM827.8 168.5L825.5 163.9L829.3 163.6ZM837.7 171.1L834.8 165.3L839.6 164.8ZM847.8 173.1L844.6 166.4L849.4 165.8ZM858 174.2L854.5 167.1L859.3 166.4ZM868.2 173.6L864.5 166.8L869.2 165.9ZM878.6 171.1L874.5 165.8L879.1 164.4ZM889.1 166.3L885.4 163.5L888.3 161.8ZM899.6 158.1L897.1 159.6L896.7 157.5ZM908.1 150.6L907.7 155.7L904.3 154ZM916.9 146.1L917.5 153.2L912.9 152ZM925.8 143.6L926.9 151.4L922.1 150.6ZM934.5 142.2L936.1 149.9L931.3 149.4ZM942.8 141.6L945 149.2L940.2 149ZM951.8 142.4L954.2 149.8L949.4 149.9ZM962.1 144.1L964.2 151.7L959.4 151.5ZM973.1 146L974.5 152.9L969.7 152.2ZM983.8 147.8L984.5 154L980 152.8ZM994.1 149.2L994.2 154.9L990.2 153.4ZM1003.9 150.4L1003.7 155.5L1000.2 153.9ZM1013.4 151.1L1013.1 155.9L1009.9 154.3ZM1022.8 151.6L1022.5 156L1019.5 154.6ZM1032.1 151.8L1031.9 156.1L1029 154.8ZM1041.2 152.6L1041.1 156.4L1038.5 155.2ZM1049.9 155.8L1049.6 157.8L1048.3 157ZM827.4 159.1L825.2 154.3L829.1 154.2ZM837.1 161.7L834.5 155.7L839.3 155.5ZM847 163.8L844.2 156.8L849 156.5ZM856.9 164.9L854 157.6L858.8 157.3ZM866.8 164.4L863.7 157.1L868.5 156.7ZM876.7 161.9L873.5 156L878.3 155.3ZM886.9 157L884.2 153.7L887.3 152.8ZM897.3 148.2L896 149.4L895.5 148.2ZM905.9 140.6L906.7 145.4L903.1 144.6ZM915.1 136.1L916.7 143L911.9 142.5ZM924.3 133.5L926.1 141.1L921.4 140.8ZM933.3 131.9L935.4 139.5L930.6 139.3ZM941.5 131L944.2 138.4L939.4 138.6ZM950.4 131.7L953.4 139L948.6 139.4ZM960.7 133.4L963.5 140.8L958.7 141ZM971.6 135.3L973.7 142.4L968.9 142.3ZM982.1 137L983.8 143.4L979 142.9ZM992.1 138.2L993.5 144.2L989 143.4ZM1001.9 139L1003 144.6L998.8 143.8ZM1011.5 139.6L1012.5 144.9L1008.6 144.1ZM1021.2 139.8L1022.1 145L1018.3 144.2ZM1031 140.1L1031.8 145.2L1028 144.3ZM1040.6 141.1L1041.2 145.7L1037.8 144.8ZM1049.5 145L1049.6 147.5L1047.8 146.9ZM826.9 149.5L825 144.6L828.9 144.7ZM836.5 152.2L834.2 146L839 146ZM846.1 154.3L843.8 147L848.6 147.1ZM855.7 155.4L853.4 147.9L858.2 147.9ZM865.2 154.9L862.9 147.3L867.7 147.4ZM874.8 152.3L872.5 146L877.3 146.1ZM884.3 147.5L882.9 143.6L886 143.7ZM893.7 138.2L894.3 138.9L893.7 139.1ZM903.6 130.8L905.5 135.2L901.9 135.3ZM913.3 126.3L915.8 133L911 133.1ZM922.9 123.7L925.4 131.2L920.6 131.2ZM932.1 122L934.7 129.4L929.9 129.6ZM940.4 121L943.6 128.2L938.8 128.7ZM949.3 121.6L952.8 128.6L948 129.3ZM959.7 123.2L962.9 130.4L958.2 131ZM970.6 125.1L973.3 132.4L968.5 132.5ZM981 126.7L983.3 133.3L978.5 133.2ZM991 127.8L993.1 133.9L988.3 133.7ZM1000.7 128.5L1002.6 134.3L998.1 134ZM1010.5 129L1012.2 134.6L1007.9 134.2ZM1020.4 129.2L1021.9 134.7L1017.7 134.2ZM1030.5 129.4L1031.7 135L1027.6 134.3ZM1040.3 130.6L1041.2 135.6L1037.5 134.8ZM1049.2 134.8L1049.6 137.5L1047.6 137ZM826.5 139.8L824.8 134.9L828.7 135.1ZM835.9 142.4L833.9 136.1L838.7 136.4ZM845.2 144.5L843.3 137.2L848.1 137.5ZM854.5 145.6L852.8 137.9L857.5 138.3ZM863.7 145.1L862.2 137.3L867 137.9ZM872.9 142.5L871.6 135.9L876.3 136.7ZM881.9 137.7L881.8 133.4L884.8 134.5ZM890.6 129L892.7 128.8L892.2 130.3ZM901.2 121.4L904.3 125.2L900.8 126.3ZM911.4 116.9L914.8 123.1L910.1 123.9ZM921.4 114.2L924.6 121.4L919.8 121.9ZM931 112.5L934.1 119.7L929.3 120.2ZM939.6 111.3L943 118.4L938.3 119.1ZM948.6 111.8L952.3 118.8L947.6 119.6ZM959.2 113.4L962.6 120.5L957.8 121.2ZM970.1 115.3L973 122.5L968.2 122.9ZM980.5 116.8L983 123.4L978.2 123.5ZM990.5 117.9L992.8 124L988 124ZM1000.2 118.5L1002.4 124.4L997.8 124.3ZM1010.1 118.9L1012.1 124.6L1007.6 124.4ZM1020.1 119.1L1021.8 124.8L1017.4 124.4ZM1030.3 119.4L1031.7 125.1L1027.4 124.5ZM1040.2 120.6L1041.2 125.7L1037.4 125ZM1049.1 124.9L1049.6 127.7L1047.5 127.3ZM826.1 129.9L824.7 125L828.5 125.4ZM835.3 132.4L833.6 126.2L838.4 126.7ZM844.4 134.5L842.9 127.2L847.7 127.8ZM853.4 135.5L852.2 127.7L857 128.5ZM862.3 135L861.5 127.2L866.2 128.2ZM871.1 132.4L870.8 125.7L875.4 127.2ZM879.7 127.6L880.8 123.1L883.6 125ZM888.5 119.6L891.5 118.9L891.2 121.2ZM899.2 112.2L903.2 115.4L899.8 117.3ZM909.7 107.7L913.9 113.4L909.3 114.8ZM920.1 105L923.9 111.9L919.2 112.8ZM930 103.2L933.5 110.3L928.8 111ZM938.8 102L942.6 108.9L937.8 109.8ZM948.1 102.4L952 109.2L947.3 110.2ZM958.8 103.9L962.4 110.9L957.6 111.7ZM969.8 105.6L972.9 112.9L968.1 113.3ZM980.3 107.1L982.9 113.7L978.1 113.9ZM990.3 108.1L992.7 114.3L987.9 114.3ZM1000.1 108.8L1002.4 114.7L997.7 114.6ZM1009.9 109.1L1012 114.9L1007.5 114.7ZM1020 109.3L1021.8 115.1L1017.3 114.7ZM1030.2 109.6L1031.7 115.3L1027.3 114.8ZM1040.1 110.8L1041.2 116L1037.3 115.3ZM1049.1 115.2L1049.6 118.1L1047.5 117.6ZM825.8 119.8L824.6 115.1L828.2 115.6ZM834.8 122.2L833.4 116.2L838 116.9ZM843.7 124.2L842.6 117.1L847.3 118ZM852.4 125.1L851.8 117.5L856.5 118.6ZM861.1 124.6L861 117L865.5 118.5ZM869.6 122.1L870.1 115.4L874.5 117.5ZM878 117.4L880 112.8L882.6 115.5ZM886.8 110L890.7 109L890.4 111.9ZM897.4 103.1L902.2 105.7L899.1 108.3ZM908.3 98.7L913.1 103.8L908.7 105.7ZM918.9 96.1L923.3 102.7L918.6 104ZM929.1 94.2L933 101L928.3 102.1ZM938.2 92.9L942.2 99.7L937.5 100.7ZM947.6 93.1L951.7 99.9L947.1 101ZM958.5 94.5L962.2 101.5L957.5 102.4ZM969.6 96.2L972.8 103.3L968 103.8ZM980.2 97.5L982.9 104.1L978.1 104.3ZM990.2 98.5L992.7 104.7L987.9 104.7ZM1000 99.1L1002.3 105L997.6 105ZM1009.9 99.4L1012 105.2L1007.4 105.1ZM1019.9 99.6L1021.8 105.4L1017.3 105.1ZM1030.2 99.9L1031.7 105.6L1027.3 105.1ZM1040.1 101.1L1041.2 106.3L1037.3 105.6ZM1049.1 105.5L1049.6 108.4L1047.5 108ZM825.5 109.7L824.6 105.1L827.9 105.7ZM834.4 111.9L833.4 106.1L837.6 107ZM843.1 113.7L842.3 106.9L847 108ZM851.6 114.6L851.4 107.2L856 108.6ZM860.1 114L860.5 106.7L865 108.6ZM868.4 111.6L869.7 105.1L873.7 107.7ZM876.7 107.1L879.5 102.6L881.8 105.8ZM885.7 100.5L890.1 99.1L889.8 102.6ZM896.1 94.2L901.4 96.2L898.6 99.3ZM907.1 89.9L912.4 94.4L908.2 96.8ZM918 87.4L922.8 93.5L918.3 95.1ZM928.4 85.4L932.7 92L928 93.3ZM937.7 84L941.9 90.6L937.3 91.8ZM947.3 84.1L951.5 90.7L946.9 91.9ZM958.2 85.3L962.1 92.2L957.4 93.1ZM969.5 86.8L972.7 93.7L967.9 94.3ZM980.1 88L982.8 94.5L978 94.7ZM990.2 88.9L992.7 95L987.9 95.1ZM1000 89.5L1002.3 95.4L997.6 95.3ZM1009.9 89.8L1012 95.6L1007.4 95.4ZM1019.9 90L1021.8 95.7L1017.3 95.4ZM1030.2 90.2L1031.7 96L1027.3 95.4ZM1040.1 91.4L1041.2 96.7L1037.3 96ZM1049.1 95.9L1049.6 98.8L1047.5 98.3ZM825.3 99.4L824.6 95.1L827.7 95.8ZM834.1 101.4L833.4 96L837.3 97ZM842.7 103.1L842.1 96.6L846.7 98ZM851.1 103.9L851.2 96.9L855.7 98.6ZM859.3 103.3L860.2 96.3L864.5 98.6ZM867.5 101L869.4 94.8L873.2 97.8ZM875.8 96.8L879.2 92.4L881.3 96ZM884.9 91L889.7 89.4L889.5 93.1ZM895.3 85.3L900.8 86.7L898.3 90.2ZM906.3 81.3L911.8 85.1L907.9 87.8ZM917.3 78.8L922.4 84.2L918 86.2ZM927.8 76.8L932.5 83.2L927.9 84.7ZM937.3 75.2L941.8 81.7L937.2 83.1ZM947 75.1L951.5 81.6L946.8 83ZM958.1 76.1L962.1 82.9L957.4 84ZM969.4 77.5L972.7 84.2L967.9 84.8ZM980.1 78.6L982.8 85L978 85.2ZM990.1 79.4L992.6 85.5L987.8 85.5ZM1000 79.9L1002.3 85.7L997.6 85.7ZM1009.9 80.2L1012 85.9L1007.4 85.8ZM1019.9 80.3L1021.8 86.1L1017.3 85.8ZM1030.2 80.6L1031.7 86.4L1027.3 85.8ZM1040.1 81.8L1041.2 87L1037.3 86.3ZM1049.1 86.2L1049.6 89.1L1047.5 88.7ZM825.2 89L824.7 85.1L827.5 85.8ZM833.9 90.9L833.5 85.9L837 87ZM842.4 92.4L842.2 86.4L846.4 87.9ZM850.7 93L851.1 86.5L855.4 88.5ZM858.9 92.5L860.1 86L864.2 88.5ZM867 90.4L869.3 84.6L872.7 87.8ZM875.4 86.6L879.1 82.4L880.9 86.1ZM884.5 81.4L889.5 79.7L889.3 83.6ZM894.8 76.4L900.5 77.4L898.2 81ZM905.8 72.7L911.5 75.8L907.8 78.9ZM916.8 70.3L922.1 75L917.9 77.3ZM927.5 68.3L932.3 74.3L927.9 76ZM937.1 66.5L941.7 72.8L937.2 74.4ZM946.9 66.2L951.4 72.6L946.9 74.1ZM958 67L962 73.8L957.4 74.9ZM969.4 68.2L972.6 74.8L967.9 75.4ZM980.1 69.2L982.8 75.4L978 75.7ZM990.1 69.9L992.6 75.9L987.8 76ZM1000 70.3L1002.3 76.1L997.6 76.1ZM1009.9 70.6L1012 76.3L1007.4 76.2ZM1019.9 70.7L1021.8 76.5L1017.3 76.2ZM1030.2 70.9L1031.7 76.7L1027.3 76.2ZM1040.1 72.1L1041.2 77.4L1037.3 76.7ZM1049.1 76.6L1049.6 79.5L1047.5 79.1ZM825.1 78.6L824.8 75.1L827.3 75.8ZM833.8 80.2L833.6 75.7L836.8 76.8ZM842.2 81.6L842.4 76.1L846.1 77.7ZM850.5 82.1L851.2 76.2L855.1 78.3ZM858.7 81.6L860.2 75.6L863.9 78.3ZM866.9 79.7L869.5 74.4L872.4 77.6ZM875.3 76.3L879.2 72.4L880.8 76.2ZM884.5 71.8L889.5 70.1L889.3 74ZM894.7 67.5L900.3 68.1L898.3 71.7ZM905.6 64.2L911.2 66.7L907.9 69.8ZM916.7 61.9L921.9 65.8L917.8 68.4ZM927.4 59.8L932.2 65.1L927.8 67ZM937 57.8L941.8 64L937.3 65.7ZM946.8 57.3L951.5 63.6L946.9 65.2ZM957.9 57.9L962.1 64.6L957.4 65.7ZM969.4 58.9L972.6 65.3L967.9 65.9ZM980.1 59.8L982.8 65.9L978 66.2ZM990.1 60.4L992.6 66.3L987.8 66.4ZM1000 60.7L1002.3 66.5L997.7 66.5ZM1009.9 60.9L1012 66.7L1007.4 66.6ZM1019.9 61.1L1021.8 66.8L1017.3 66.5ZM1030.2 61.3L1031.7 67.1L1027.3 66.5ZM1040.1 62.5L1041.2 67.8L1037.3 67.1ZM1049.1 66.9L1049.6 69.9L1047.5 69.4ZM825.1 68.2L824.9 65L827.1 65.8ZM833.8 69.6L833.8 65.6L836.6 66.7ZM842.3 70.8L842.6 65.9L845.9 67.5ZM850.6 71.2L851.5 65.9L854.9 68ZM858.8 70.8L860.5 65.4L863.7 68.1ZM867 69L869.8 64.3L872.3 67.5ZM875.6 66.1L879.4 62.6L880.8 66.2ZM884.8 62.3L889.6 60.6L889.5 64.4ZM895 58.5L900.2 58.8L898.6 62.4ZM905.7 55.6L911 57.6L908.2 60.7ZM916.8 53.5L921.8 56.8L918.1 59.3ZM927.4 51.3L932.2 56L927.9 58ZM937 49.1L941.9 55L937.4 56.8ZM946.8 48.4L951.6 54.7L947.1 56.3ZM957.9 48.9L962.1 55.2L957.4 56.4ZM969.4 49.6L972.6 55.8L967.9 56.5ZM980.1 50.3L982.8 56.4L978 56.6ZM990.1 50.8L992.6 56.7L987.9 56.8ZM1000 51.2L1002.3 56.9L997.7 56.9ZM1009.9 51.3L1012 57.1L1007.4 57ZM1019.9 51.5L1021.8 57.2L1017.3 56.9ZM1030.2 51.7L1031.7 57.5L1027.3 56.9ZM1040.1 52.9L1041.2 58.1L1037.3 57.4ZM1049.1 57.3L1049.6 60.2L1047.5 59.8ZM825.2 57.8L825.1 55L827 55.8ZM833.9 59L834.1 55.5L836.4 56.6ZM842.4 60L842.9 55.7L845.7 57.3ZM850.8 60.4L851.8 55.7L854.8 57.7ZM859 59.9L860.9 55.2L863.6 57.8ZM867.4 58.4L870.1 54.2L872.3 57.3ZM876.1 55.9L879.8 52.8L880.9 56.2ZM885.4 52.7L889.9 51.1L889.7 54.6ZM895.4 49.5L900.4 49.6L899 53ZM906.1 47L911 48.5L908.6 51.5ZM917 45L921.7 47.8L918.4 50.2ZM927.6 42.7L932.2 46.9L928.1 48.9ZM937.1 40.4L941.9 45.8L937.5 47.6ZM946.9 39.5L951.6 45.4L947.1 47.1ZM958 39.7L962.1 45.8L957.4 47ZM969.4 40.3L972.6 46.4L967.9 47ZM980.1 40.9L982.8 46.8L978 47.1ZM990.2 41.3L992.6 47.1L987.9 47.2ZM1000 41.6L1002.3 47.3L997.7 47.3ZM1009.9 41.7L1012 47.4L1007.5 47.3ZM1019.9 41.8L1021.8 47.6L1017.3 47.3ZM1030.2 42L1031.7 47.8L1027.3 47.3ZM1040.1 43.2L1041.2 48.5L1037.3 47.8ZM1049.1 47.7L1049.6 50.6L1047.5 50.1ZM825.3 47.4L825.3 45.1L826.9 45.8ZM834.1 48.4L834.3 45.4L836.3 46.4ZM842.7 49.2L843.3 45.6L845.6 47ZM851.1 49.6L852.2 45.5L854.7 47.4ZM859.5 49.2L861.3 45.1L863.6 47.5ZM868 47.9L870.6 44.2L872.4 47.1ZM876.8 45.8L880.2 43L881.2 46.2ZM886.1 43.1L890.2 41.6L890.1 44.9ZM896.1 40.5L900.6 40.4L899.4 43.5ZM906.6 38.3L911.1 39.5L909 42.2ZM917.5 36.4L921.7 38.8L918.9 41ZM928 34.1L932.2 37.8L928.5 39.7ZM937.3 31.6L942 36.6L937.6 38.4ZM947 30.5L951.7 36.1L947.2 37.8ZM958.1 30.6L962.1 36.4L957.5 37.6ZM969.5 31L972.7 36.9L967.9 37.5ZM980.1 31.5L982.8 37.3L978 37.6ZM990.2 31.8L992.6 37.6L987.9 37.6ZM1000 32L1002.3 37.7L997.7 37.7ZM1009.9 32.1L1012 37.8L1007.5 37.7ZM1019.9 32.2L1021.8 38L1017.3 37.7ZM1030.2 32.4L1031.7 38.2L1027.3 37.6ZM1040.1 33.6L1041.2 38.9L1037.3 38.2ZM1049.1 38L1049.6 40.9L1047.5 40.5ZM825.4 37.1L825.5 35.1L826.9 35.8ZM834.3 38L834.6 35.4L836.3 36.3ZM843 38.6L843.6 35.5L845.6 36.8ZM851.5 38.9L852.7 35.5L854.7 37.2ZM860 38.5L861.8 35.1L863.7 37.2ZM868.7 37.5L871.1 34.3L872.6 36.9ZM877.6 35.7L880.7 33.3L881.5 36.2ZM887 33.5L890.7 32.2L890.6 35.1ZM896.9 31.4L900.9 31.2L899.9 34ZM907.3 29.5L911.2 30.4L909.5 32.9ZM918 27.8L921.7 29.8L919.3 31.8ZM928.4 25.4L932.2 28.7L928.9 30.5ZM937.6 22.7L942.2 27.3L937.7 29.2ZM947.2 21.4L951.8 26.7L947.3 28.5ZM958.2 21.3L962.2 26.9L957.5 28.2ZM969.5 21.6L972.7 27.4L968 28ZM980.2 22L982.8 27.8L978.1 28ZM990.2 22.2L992.6 28L988 28ZM1000 22.4L1002.3 28.1L997.7 28.1ZM1009.9 22.5L1012 28.2L1007.5 28.1ZM1019.9 22.6L1021.8 28.3L1017.3 28ZM1030.2 22.8L1031.7 28.5L1027.3 28ZM1040.1 24L1041.2 29.2L1037.3 28.5ZM1049.1 28.4L1049.6 31.3L1047.5 30.9ZM825.6 26.9L825.8 25.2L826.8 25.8ZM834.5 27.5L834.9 25.4L836.3 26.3ZM843.3 28.1L844 25.5L845.6 26.7ZM852 28.3L853.1 25.4L854.8 27ZM860.7 28L862.3 25.1L863.8 27ZM869.4 27.1L871.6 24.5L872.8 26.7ZM878.4 25.7L881.2 23.7L881.9 26.2ZM887.9 23.9L891.1 22.8L891 25.3ZM897.8 22.2L901.2 21.9L900.4 24.4ZM908.1 20.6L911.5 21.3L910.1 23.5ZM918.6 19L921.9 20.7L919.8 22.5ZM928.8 16.6L932.3 19.6L929.2 21.1ZM937.9 13.7L942.2 18.1L938 19.8ZM947.3 12.3L951.9 17.4L947.4 19.1ZM958.3 12.1L962.2 17.5L957.6 18.7ZM969.6 12.2L972.8 17.9L968 18.5ZM980.2 12.5L982.8 18.2L978.2 18.4ZM990.2 12.7L992.6 18.4L988 18.4ZM1000 12.8L1002.3 18.5L997.7 18.5ZM1009.9 12.9L1012 18.6L1007.5 18.4ZM1019.9 12.9L1021.8 18.7L1017.3 18.4ZM1030.2 13.1L1031.7 18.9L1027.3 18.4ZM1040.1 14.3L1041.2 19.6L1037.3 18.9ZM1049.1 18.8L1049.6 21.7L1047.5 21.2ZM825.8 16.7L826 15.3L826.8 15.8ZM834.8 17.2L835.2 15.5L836.3 16.2ZM843.7 17.7L844.3 15.6L845.6 16.6ZM852.5 17.8L853.5 15.5L854.8 16.8ZM861.3 17.6L862.8 15.2L864 16.9ZM870.2 16.9L872.2 14.7L873.1 16.6ZM879.3 15.7L881.7 14.1L882.2 16.2ZM888.8 14.3L891.6 13.3L891.5 15.5ZM898.6 12.9L901.6 12.7L900.9 14.8ZM908.8 11.6L911.7 12.1L910.6 14ZM919.2 10.1L922 11.5L920.3 13.1ZM929.3 7.6L932.4 10.4L929.6 11.7ZM938.2 4.6L942.2 8.7L938.3 10.4ZM947.5 3.1L952 7.9L947.5 9.6ZM958.4 2.7L962.3 8L957.7 9.2ZM969.7 2.8L972.8 8.4L968.1 8.9ZM980.3 3L982.8 8.6L978.2 8.8ZM990.2 3.1L992.6 8.8L988 8.8ZM1000 3.2L1002.3 8.9L997.7 8.8ZM1009.9 3.3L1012 8.9L1007.5 8.8ZM1019.9 3.3L1021.8 9.1L1017.3 8.8ZM1030.2 3.5L1031.7 9.3L1027.3 8.7ZM1040.1 4.7L1041.2 9.9L1037.3 9.3ZM1049.1 9.1L1049.6 12L1047.5 11.6Z" fill="#000" stroke="#000" stroke-width="0.5" stroke-linejoin="round"/>
</g>
<rect x="827.0" y="7.0" width="221" height="223.5" fill="none" stroke="#000" stroke-width="1.4"/>
<g clip-path="url(#clipd)">
<path d="M475 504.2L476.3 504.7M484.6 504.2L486.5 504.8M494.3 504.2L496.6 504.8M503.9 504.2L506.8 504.7M513.5 504.2L516.7 504.4M523.2 504.2L526.4 504.1M532.8 504.2L535.8 503.7M542.4 504.2L544.7 503.2M552 504.2L553 502.6M561.7 504.2L560.6 502.5M571.3 504.2L568.6 502.6M580.9 504.2L576.8 502.7M590.6 504.2L585.2 502.9M600.2 504.2L593.7 503.1M609.8 504.2L602.4 503.3M619.5 504.2L611.2 503.7M629.1 504.2L620.4 504.2M638.7 504.2L630.3 504.6M648.3 504.2L640.8 505M658 504.2L651.2 505.3M667.6 504.2L661.9 505.4M677.2 504.2L672.6 505.4M686.9 504.2L683.2 505.4M696.5 504.2L693.8 505.2M475 494.6L476.8 496.1M484.6 494.6L487.2 496.4M494.3 494.6L497.7 496.4M503.9 494.6L508.2 496M513.5 494.6L518.4 495.3M523.2 494.6L528.2 494.3M532.8 494.6L537.4 493.1M542.4 494.6L546 492M552 494.6L554 491M561.7 494.6L561.5 490.4M571.3 494.6L569 490.3M580.9 494.6L576.8 490.4M590.6 494.6L584.8 490.7M600.2 494.6L592.8 491.2M609.8 494.6L600.6 491.8M619.5 494.6L608.9 492.9M629.1 494.6L618 494.4M638.7 494.6L628 495.9M648.3 494.6L638.7 497.1M658 494.6L650.1 497.7M667.6 494.6L661.2 498M677.2 494.6L672.2 498M686.9 494.6L683 497.7M696.5 494.6L693.7 497.3M475 484.9L476.1 487.3M484.6 484.9L486.2 487.7M494.3 484.9L496.5 487.8M503.9 484.9L506.8 487.4M513.5 484.9L517 486.3M523.2 484.9L526.8 484.5M532.8 484.9L536 482.6M542.4 484.9L544.7 481.1M552 484.9L553.3 480.1M561.7 484.9L561.7 479.5M571.3 484.9L570.1 479.2M580.9 484.9L578.5 479.2M590.6 484.9L587 479.4M600.2 484.9L595.5 480M609.8 484.9L604.2 481.1M619.5 484.9L613.1 482.7M629.1 484.9L622.5 484.7M638.7 484.9L632.3 486.7M648.3 484.9L642.5 488.4M658 484.9L653 489.5M667.6 484.9L663.5 489.9M677.2 484.9L674.1 489.8M686.9 484.9L684.5 489.3M696.5 484.9L694.8 488.6M475 475.3L475.3 478M484.6 475.3L485.1 478.5M494.3 475.3L494.9 478.7M503.9 475.3L504.8 478.4M513.5 475.3L514.8 477.2M523.2 475.3L524.6 474.4M532.8 475.3L533.7 472.2M542.4 475.3L542.9 470.7M552 475.3L552 469.8M561.7 475.3L561.1 469.2M571.3 475.3L570.1 468.9M580.9 475.3L579 468.7M590.6 475.3L587.8 468.9M600.2 475.3L596.7 469.5M609.8 475.3L605.5 470.6M619.5 475.3L614.5 472.5M629.1 475.3L623.7 475M638.7 475.3L633.6 477.6M648.3 475.3L643.9 479.6M658 475.3L654.2 480.7M667.6 475.3L664.6 481.1M677.2 475.3L674.9 481M686.9 475.3L685.2 480.4M696.5 475.3L695.3 479.5M475 465.7L474.6 468.3M484.6 465.7L484 468.7M494.3 465.7L493.3 468.9M503.9 465.7L502.6 468.5M513.5 465.7L511.8 467.3M523.2 465.7L521.2 464.6M532.8 465.7L531.2 462.4M542.4 465.7L541.1 460.9M552 465.7L550.8 459.9M561.7 465.7L560.4 459.2M571.3 465.7L569.9 458.8M580.9 465.7L579.1 458.6M590.6 465.7L588.2 458.7M600.2 465.7L597.2 459.2M609.8 465.7L606.1 460.4M619.5 465.7L615.1 462.4M629.1 465.7L624.3 465.3M638.7 465.7L634.2 468.3M648.3 465.7L644.5 470.5M658 465.7L654.8 471.7M667.6 465.7L665.1 472.1M677.2 465.7L675.3 471.9M686.9 465.7L685.4 471.2M696.5 465.7L695.5 470.3M475 456L474 458.2M484.6 456L483.1 458.4M494.3 456L492.1 458.4M503.9 456L501.1 457.9M513.5 456L510.3 456.7M523.2 456L519.8 454.7M532.8 456L529.8 452.8M542.4 456L539.9 451.3M552 456L550 450.2M561.7 456L560 449.4M571.3 456L569.8 448.8M580.9 456L579.2 448.5M590.6 456L588.4 448.6M600.2 456L597.6 449.1M609.8 456L606.6 450.4M619.5 456L615.6 452.5M629.1 456L624.7 455.7M638.7 456L634.7 459M648.3 456L645 461.3M658 456L655.3 462.6M667.6 456L665.5 463M677.2 456L675.6 462.7M686.9 456L685.7 462M696.5 456L695.6 461M475 446.4L473.6 447.7M484.6 446.4L482.5 447.3M494.3 446.4L491.5 447.2M503.9 446.4L500.6 446.8M513.5 446.4L509.8 445.8M523.2 446.4L519.4 444.4M532.8 446.4L529.4 442.9M542.4 446.4L539.6 441.6M552 446.4L549.9 440.4M561.7 446.4L560.1 439.5M571.3 446.4L570.1 438.8M580.9 446.4L579.5 438.2M590.6 446.4L588.8 438.3M600.2 446.4L598 439.1M609.8 446.4L607.2 440.4M619.5 446.4L616.2 442.5M629.1 446.4L625.3 446M638.7 446.4L635.4 449.7M648.3 446.4L645.6 452M658 446.4L655.8 453.3M667.6 446.4L665.9 453.8M677.2 446.4L675.9 453.5M686.9 446.4L685.9 452.7M696.5 446.4L695.8 451.6M475 436.8L473.5 436.6M484.6 436.8L482.7 435.5M494.3 436.8L491.8 435.3M503.9 436.8L501 435.1M513.5 436.8L510.3 434.5M523.2 436.8L520 433.6M532.8 436.8L529.9 432.5M542.4 436.8L540 431.4M552 436.8L550.3 430.4M561.7 436.8L560.6 429.4M571.3 436.8L570.6 428.3M580.9 436.8L580.1 427.5M590.6 436.8L589.3 427.9M600.2 436.8L598.6 429.1M609.8 436.8L607.9 430.4M619.5 436.8L617 432.6M629.1 436.8L626 436.3M638.7 436.8L636.2 440.3M648.3 436.8L646.3 442.7M658 436.8L656.4 444M667.6 436.8L666.3 444.4M677.2 436.8L676.3 444.1M686.9 436.8L686.2 443.3M696.5 436.8L696 442.2M475 427.1L473.9 425.6M484.6 427.1L483.3 424.1M494.3 427.1L492.6 423.7M503.9 427.1L501.9 423.6M513.5 427.1L511.4 423.2M523.2 427.1L521 422.7M532.8 427.1L530.8 421.9M542.4 427.1L540.8 421M552 427.1L551.1 420.1M561.7 427.1L561.4 418.9M571.3 427.1L571.4 417.4M580.9 427.1L580.8 416.8M590.6 427.1L589.9 417.6M600.2 427.1L599.3 419.1M609.8 427.1L608.7 420.6M619.5 427.1L618 422.8M629.1 427.1L627 426.5M638.7 427.1L637.2 430.9M648.3 427.1L647.2 433.3M658 427.1L657 434.6M667.6 427.1L666.9 435.1M677.2 427.1L676.7 434.7M686.9 427.1L686.5 433.8M696.5 427.1L696.2 432.7M475 417.5L474.3 415.2M484.6 417.5L483.7 413.4M494.3 417.5L493.2 412.9M503.9 417.5L502.7 412.7M513.5 417.5L512.3 412.5M523.2 417.5L521.9 412.1M532.8 417.5L531.7 411.5M542.4 417.5L541.6 410.8M552 417.5L551.8 409.9M561.7 417.5L562.1 408.2M571.3 417.5L572.3 406.7M580.9 417.5L581.6 406.3M590.6 417.5L590.6 407.4M600.2 417.5L600 409.3M609.8 417.5L609.5 410.8M619.5 417.5L619.1 413M629.1 417.5L628.3 416.6M638.7 417.5L638.3 421.4M648.3 417.5L648.1 423.8M658 417.5L657.7 425.1M667.6 417.5L667.4 425.6M677.2 417.5L677.1 425.1M686.9 417.5L686.8 424.3M696.5 417.5L696.4 423.1M475 407.9L474.5 405.2M484.6 407.9L483.9 403.2M494.3 407.9L493.5 402.6M503.9 407.9L503.2 402.4M513.5 407.9L512.9 402.3M523.2 407.9L522.6 402M532.8 407.9L532.3 401.5M542.4 407.9L542.1 400.8M552 407.9L552.3 399.9M561.7 407.9L562.7 398M571.3 407.9L572.9 396.5M580.9 407.9L582.3 396.2M590.6 407.9L591.2 397.6M600.2 407.9L600.7 399.6M609.8 407.9L610.4 401.2M619.5 407.9L620.2 403.4M629.1 407.9L630.4 407.1M638.7 407.9L639.5 411.8M648.3 407.9L649 414.1M658 407.9L658.5 415.4M667.6 407.9L668 416M677.2 407.9L677.5 415.5M686.9 407.9L687.1 414.6M696.5 407.9L696.7 413.5M475 398.2L474.6 395.4M484.6 398.2L484 393.3M494.3 398.2L493.7 392.7M503.9 398.2L503.5 392.5M513.5 398.2L513.2 392.4M523.2 398.2L522.9 392.1M532.8 398.2L532.6 391.7M542.4 398.2L542.5 391M552 398.2L552.6 390M561.7 398.2L563.1 388.2M571.3 398.2L573.4 386.7M580.9 398.2L582.8 386.6M590.6 398.2L591.8 388.1M600.2 398.2L601.4 390.1M609.8 398.2L611.2 391.7M619.5 398.2L621.3 393.9M629.1 398.2L631.6 397.7M638.7 398.2L640.6 402M648.3 398.2L649.8 404.3M658 398.2L659.2 405.6M667.6 398.2L668.5 406.1M677.2 398.2L677.9 405.7M686.9 398.2L687.4 404.9M696.5 398.2L696.9 403.8M475 388.6L474.6 385.7M484.6 388.6L484.1 383.5M494.3 388.6L493.8 382.9M503.9 388.6L503.6 382.8M513.5 388.6L513.4 382.6M523.2 388.6L523.1 382.4M532.8 388.6L532.8 382M542.4 388.6L542.6 381.4M552 388.6L552.8 380.4M561.7 388.6L563.3 378.7M571.3 388.6L573.8 377.3M580.9 388.6L583.2 377.2M590.6 388.6L592.3 378.8M600.2 388.6L601.9 380.9M609.8 388.6L612 382.3M619.5 388.6L622.2 384.5M629.1 388.6L632.4 388.2M638.7 388.6L641.6 392.1M648.3 388.6L650.6 394.5M658 388.6L659.8 395.8M667.6 388.6L669 396.2M677.2 388.6L678.3 395.9M686.9 388.6L687.7 395.1M696.5 388.6L697.1 394M475 379L474.7 376M484.6 379L484.1 373.8M494.3 379L493.9 373.2M503.9 379L503.7 373.1M513.5 379L513.4 373M523.2 379L523.2 372.7M532.8 379L532.9 372.4M542.4 379L542.7 371.8M552 379L552.9 371M561.7 379L563.5 369.3M571.3 379L574 368M580.9 379L583.5 368.1M590.6 379L592.7 369.8M600.2 379L602.5 371.7M609.8 379L612.6 373M619.5 379L622.9 375.2M629.1 379L633.1 378.6M638.7 379L642.3 382.2M648.3 379L651.3 384.5M658 379L660.4 385.8M667.6 379L669.5 386.2M677.2 379L678.7 385.9M686.9 379L687.9 385.1M696.5 379L697.3 384.1M475 369.4L474.7 366.4M484.6 369.4L484.1 364.2M494.3 369.4L493.9 363.6M503.9 369.4L503.7 363.5M513.5 369.4L513.5 363.3M523.2 369.4L523.2 363.1M532.8 369.4L532.9 362.8M542.4 369.4L542.8 362.3M552 369.4L553 361.6M561.7 369.4L563.6 360.1M571.3 369.4L574.2 358.9M580.9 369.4L583.8 359.1M590.6 369.4L593 360.8M600.2 369.4L602.9 362.4M609.8 369.4L613.1 363.8M619.5 369.4L623.5 365.9M629.1 369.4L633.5 369M638.7 369.4L642.9 372.2M648.3 369.4L651.8 374.5M658 369.4L660.8 375.7M667.6 369.4L669.9 376.1M677.2 369.4L679 375.9M686.9 369.4L688.1 375.2M696.5 369.4L697.4 374.2M475 359.7L474.7 356.8M484.6 359.7L484.1 354.6M494.3 359.7L493.9 354M503.9 359.7L503.7 353.8M513.5 359.7L513.5 353.7M523.2 359.7L523.2 353.5M532.8 359.7L532.9 353.2M542.4 359.7L542.8 352.7M552 359.7L553 352.1M561.7 359.7L563.7 350.9M571.3 359.7L574.3 349.9M580.9 359.7L583.9 350.2M590.6 359.7L593.2 352M600.2 359.7L603.2 353.3M609.8 359.7L613.5 354.6M619.5 359.7L623.8 356.6M629.1 359.7L633.9 359.4M638.7 359.7L643.2 362.3M648.3 359.7L652.2 364.4M658 359.7L661.1 365.6M667.6 359.7L670.1 366M677.2 359.7L679.2 365.8M686.9 359.7L688.3 365.1M696.5 359.7L697.5 364.2M475 350.1L474.7 347.1M484.6 350.1L484.1 344.9M494.3 350.1L493.9 344.3M503.9 350.1L503.7 344.2M513.5 350.1L513.5 344.1M523.2 350.1L523.2 343.9M532.8 350.1L533 343.6M542.4 350.1L542.8 343.2M552 350.1L553 342.7M561.7 350.1L563.7 341.8M571.3 350.1L574.3 340.9M580.9 350.1L583.9 341.3M590.6 350.1L593.3 343M600.2 350.1L603.4 344.2M609.8 350.1L613.8 345.5M619.5 350.1L624 347.3M629.1 350.1L634 349.8M638.7 350.1L643.4 352.4M648.3 350.1L652.4 354.3M658 350.1L661.4 355.4M667.6 350.1L670.3 355.8M677.2 350.1L679.3 355.6M686.9 350.1L688.4 355.1M696.5 350.1L697.6 354.2M475 340.5L474.7 337.5M484.6 340.5L484.1 335.3M494.3 340.5L493.9 334.7M503.9 340.5L503.7 334.6M513.5 340.5L513.5 334.5M523.2 340.5L523.2 334.3M532.8 340.5L533 334.1M542.4 340.5L542.8 333.7M552 340.5L553 333.3M561.7 340.5L563.6 332.7M571.3 340.5L574.2 331.9M580.9 340.5L583.9 332.5M590.6 340.5L593.4 333.9M600.2 340.5L603.5 335.1M609.8 340.5L613.9 336.3M619.5 340.5L624.1 338M629.1 340.5L634 340.2M638.7 340.5L643.5 342.5M648.3 340.5L652.5 344.2M658 340.5L661.5 345.3M667.6 340.5L670.4 345.6M677.2 340.5L679.4 345.5M686.9 340.5L688.5 345M696.5 340.5L697.7 344.2M475 330.8L474.7 327.9M484.6 330.8L484.1 325.7M494.3 330.8L493.9 325.1M503.9 330.8L503.7 325M513.5 330.8L513.5 324.9M523.2 330.8L523.2 324.7M532.8 330.8L532.9 324.5M542.4 330.8L542.8 324.2M552 330.8L553 323.8M561.7 330.8L563.6 323.4M571.3 330.8L574.1 323M580.9 330.8L583.8 323.7M590.6 330.8L593.4 324.8M600.2 330.8L603.5 326M609.8 330.8L613.8 327.2M619.5 330.8L624 328.7M629.1 330.8L633.9 330.6M638.7 330.8L643.4 332.6M648.3 330.8L652.5 334.1M658 330.8L661.5 335.1M667.6 330.8L670.4 335.4M677.2 330.8L679.4 335.3M686.9 330.8L688.5 334.8M696.5 330.8L697.7 334.2M475 321.2L474.7 318.2M484.6 321.2L484.1 316M494.3 321.2L493.9 315.4M503.9 321.2L503.7 315.3M513.5 321.2L513.5 315.3M523.2 321.2L523.2 315.2M532.8 321.2L532.9 315M542.4 321.2L542.8 314.7M552 321.2L553 314.4M561.7 321.2L563.6 314.1M571.3 321.2L574 314M580.9 321.2L583.7 314.5M590.6 321.2L593.3 315.7M600.2 321.2L603.4 316.9M609.8 321.2L613.7 318M619.5 321.2L623.9 319.3M629.1 321.2L633.7 321M638.7 321.2L643.2 322.7M648.3 321.2L652.4 324.1M658 321.2L661.4 324.9M667.6 321.2L670.4 325.2M677.2 321.2L679.4 325.1M686.9 321.2L688.5 324.7M696.5 321.2L697.7 324.2M475 311.6L474.7 308.6M484.6 311.6L484.1 306.4M494.3 311.6L493.9 305.8M503.9 311.6L503.7 305.7M513.5 311.6L513.5 305.7M523.2 311.6L523.2 305.6M532.8 311.6L532.9 305.4M542.4 311.6L542.8 305.2M552 311.6L553 304.9M561.7 311.6L563.6 304.7M571.3 311.6L574 304.7M580.9 311.6L583.6 305.2M590.6 311.6L593.2 306.5M600.2 311.6L603.3 307.7M609.8 311.6L613.5 308.8M619.5 311.6L623.6 310M629.1 311.6L633.4 311.4M638.7 311.6L642.9 312.8M648.3 311.6L652.1 314M658 311.6L661.2 314.8M667.6 311.6L670.2 315.1M677.2 311.6L679.3 315M686.9 311.6L688.4 314.7M696.5 311.6L697.6 314.2M475 301.9L474.7 299M484.6 301.9L484.1 296.8M494.3 301.9L493.9 296.2M503.9 301.9L503.7 296.1M513.5 301.9L513.5 296M523.2 301.9L523.2 296M532.8 301.9L532.9 295.8M542.4 301.9L542.8 295.7M552 301.9L553 295.5M561.7 301.9L563.5 295.3M571.3 301.9L573.9 295.3M580.9 301.9L583.5 296M590.6 301.9L593 297.3M600.2 301.9L603 298.6M609.8 301.9L613.2 299.5M619.5 301.9L623.3 300.6M629.1 301.9L633.1 301.8M638.7 301.9L642.6 303M648.3 301.9L651.9 304M658 301.9L661 304.7M667.6 301.9L670.1 304.9M677.2 301.9L679.2 304.9M686.9 301.9L688.3 304.6M696.5 301.9L697.6 304.2M475 292.3L474.7 289.3M484.6 292.3L484.1 287.1M494.3 292.3L493.9 286.6M503.9 292.3L503.7 286.5M513.5 292.3L513.5 286.4M523.2 292.3L523.2 286.4M532.8 292.3L532.9 286.3M542.4 292.3L542.7 286.1M552 292.3L552.9 286M561.7 292.3L563.4 285.8M571.3 292.3L573.8 286M580.9 292.3L583.4 286.7M590.6 292.3L592.8 288.1M600.2 292.3L602.8 289.3M609.8 292.3L612.9 290.3M619.5 292.3L622.9 291.2M629.1 292.3L632.7 292.2M638.7 292.3L642.2 293.2M648.3 292.3L651.6 294M658 292.3L660.7 294.6M667.6 292.3L669.9 294.8M677.2 292.3L679 294.8M686.9 292.3L688.2 294.6M696.5 292.3L697.5 294.2" stroke="#000" stroke-width="1.8" stroke-linecap="round" fill="none"/>
<path d="M477.1 505.1L475.9 505L476.2 504.2ZM487.7 505.2L486 505.3L486.4 504.1ZM498.4 505.2L496.1 505.5L496.5 503.9ZM509 505L506.3 505.6L506.6 503.6ZM519.3 504.6L516.3 505.6L516.5 503.2ZM529.1 504L526.2 505.3L526.1 502.9ZM538.2 503.3L535.7 504.8L535.3 502.7ZM546.5 502.5L544.8 504.2L544.1 502.5ZM553.7 501.6L553.4 503.2L552.3 502.6ZM559.8 501.2L561.3 502.3L560.1 503.1ZM566.3 501.3L569.4 501.8L568.2 503.8ZM573.2 501.5L577.6 501.3L576.5 504.4ZM580.4 501.7L586 500.9L585 505ZM587.8 502L594.4 500.7L593.6 505.5ZM595.6 502.5L603 501L602.4 505.8ZM604 503.3L611.7 501.3L611.4 506.1ZM613.2 504.1L620.7 501.8L620.7 506.6ZM623.1 505L630.5 502.2L630.7 507ZM633.8 505.7L640.8 502.6L641.3 507.3ZM645.1 506.2L651.2 502.8L651.9 507.6ZM656.7 506.5L661.7 503.2L662.6 507.5ZM668.5 506.5L672.4 503.6L673.3 507.1ZM680.2 506.3L683.1 503.9L683.9 506.6ZM691.6 506L693.7 504.1L694.4 506.1ZM478.1 497.3L476 496.6L477.1 495.3ZM489.3 497.8L486.3 497.1L487.6 495.3ZM500.6 497.9L496.8 497.5L498.1 495ZM511.9 497.3L507.3 497.5L508.4 494.3ZM522.7 496L517.8 497.1L518.4 493.4ZM532.6 494L528 496.2L527.8 492.4ZM541.5 491.8L537.7 494.9L536.6 491.5ZM549.2 489.7L546.8 493.5L544.8 490.8ZM555.7 488L555.2 492L552.6 490.5ZM561.4 486.9L563.1 490.7L560 490.8ZM567 486.6L570.8 489.7L567.6 491.4ZM573 486.7L578.5 489.1L575.4 492.2ZM579.4 487.2L586.3 488.9L583.7 492.9ZM586.3 488.2L594.1 489.1L592.1 493.5ZM593.7 489.7L601.5 489.6L600.2 494.2ZM601.8 491.8L609.6 490.6L608.8 495.4ZM610.8 494.3L618.4 492L618.3 496.8ZM620.8 496.8L628 493.5L628.6 498.2ZM631.8 498.9L638.4 494.7L639.6 499.3ZM643.4 500.4L649.5 495.4L651.2 499.8ZM655.4 501.1L660.4 495.7L662.6 500ZM667.6 501.1L671.1 495.9L673.7 499.8ZM679.6 500.5L682 496.1L684.4 499ZM691.3 499.5L692.9 496L694.9 498.1ZM476.9 489.1L475.1 487.4L476.8 486.6ZM487.6 490L485.1 488L487.1 486.9ZM498.4 490.3L495.3 488.4L497.4 486.8ZM509.3 489.5L505.7 488.3L507.5 486.1ZM520 487.4L516.3 487.4L517.2 484.9ZM529.9 484.1L526.7 485.9L526.4 483.2ZM538.8 480.5L536.7 483.9L534.9 481.5ZM546.8 477.7L546 482.2L543.1 480.4ZM554.3 475.8L555 480.8L551.4 479.9ZM561.7 474.7L563.7 479.8L559.6 479.8ZM568.9 474.1L572.3 479.1L568 480ZM576.3 474L580.8 478.5L576.4 480.4ZM583.7 474.4L589.1 478.3L585.1 481ZM591.2 475.5L597.5 478.6L594 481.9ZM599.1 477.6L605.8 479.3L603.1 483.2ZM607.4 480.7L614.2 480.5L612.6 485.1ZM616.5 484.5L622.9 482.3L622.7 487.1ZM626.5 488.4L631.9 484.4L633.2 489ZM637.2 491.6L641.6 486.2L644 490.3ZM648.5 493.6L651.6 487.5L654.8 491ZM659.9 494.4L661.9 488.2L665.6 491.2ZM671.2 494.2L672.4 488.4L676.1 490.8ZM682.4 493.2L683 488.2L686.3 490ZM693.3 491.8L693.6 487.7L696.3 489ZM475.5 480L474.3 477.8L476.2 477.6ZM485.5 481.1L483.9 478.4L486.2 478ZM495.5 481.6L493.6 478.7L496.1 478.2ZM505.5 480.9L503.6 478.4L505.8 477.8ZM515.7 478.6L514 477.4L515.3 476.5ZM525.6 473.8L524.7 475L524.1 474.1ZM534.4 469.6L534.7 472.8L532.4 472.1ZM543.2 466.7L544.5 471.2L541.1 470.8ZM552 464.8L554.1 470L549.9 470.1ZM560.6 463.7L563.5 469.3L558.8 469.7ZM569 463L572.5 468.7L567.8 469.6ZM577.2 462.7L581.4 468.3L576.8 469.7ZM585.4 463L590.2 468.2L585.8 470.1ZM593.5 464.1L598.9 468.5L594.8 470.9ZM601.6 466.4L607.5 469.2L603.9 472.5ZM610 470L615.8 470.7L613.6 474.5ZM619 474.8L624.1 473L623.9 477.1ZM629 479.6L633 475.5L634.7 479.4ZM639.8 483.4L642.5 477.6L645.7 481.1ZM650.8 485.7L652.4 479.1L656.4 481.8ZM661.9 486.5L662.6 479.8L666.9 482ZM672.8 486.1L672.9 479.8L677.2 481.6ZM683.6 484.9L683.3 479.4L687.2 480.7ZM694.2 483.2L693.8 478.8L696.9 479.7ZM474.2 470.3L473.7 467.8L475.5 468.1ZM483.4 471.2L482.9 468.2L485.1 468.7ZM492.6 471.6L492.2 468.3L494.6 469ZM501.6 470.9L501.7 467.8L503.8 468.7ZM510.4 468.4L511.4 466.4L512.5 467.7ZM519.7 463.8L521.8 464L521.1 465.4ZM529.9 459.7L532.5 462.1L530.1 463.2ZM539.9 456.7L542.9 460.7L539.4 461.7ZM549.7 454.7L553.1 459.7L548.7 460.6ZM559.3 453.3L562.8 459L558.1 460ZM568.5 452.5L572.3 458.6L567.6 459.6ZM577.4 452L581.5 458.3L576.8 459.5ZM586 452.2L590.5 458.2L586 459.7ZM594.4 453.3L599.5 458.5L595.1 460.5ZM602.8 455.7L608.3 459.3L604.3 462.1ZM611.2 459.6L616.5 461L614.1 464.3ZM620.1 465L624.7 463.6L624.5 467.2ZM630.2 470.7L633.5 466.5L635.5 469.9ZM641 474.8L642.9 468.8L646.5 471.7ZM651.9 477.2L652.8 470.3L657.1 472.5ZM662.8 478L663 471L667.4 472.7ZM673.5 477.5L673.1 470.9L677.7 472.3ZM684.2 476.2L683.4 470.4L687.6 471.5ZM694.6 474.3L693.8 469.6L697.3 470.4ZM473.2 459.8L473.4 457.5L474.9 458.3ZM481.9 460.2L482.4 457.6L484.1 458.7ZM490.4 460.4L491.5 457.4L493.2 459ZM498.9 459.5L500.7 456.8L502.1 458.8ZM507.6 457.2L510.3 455.4L510.8 457.8ZM517 453.6L520.5 453.6L519.6 456.1ZM527.1 450L531.2 451.9L528.8 454.2ZM537.7 447.1L541.8 450.6L538.3 452.5ZM548.2 444.9L552.4 449.7L547.9 451.3ZM558.5 443.3L562.4 449.1L557.8 450.3ZM568.4 442.2L572.2 448.6L567.5 449.6ZM577.7 441.6L581.6 448.3L577 449.3ZM586.5 441.7L590.8 448.2L586.2 449.5ZM595.2 442.8L599.9 448.6L595.4 450.3ZM603.7 445.2L608.9 449.4L604.7 451.8ZM612.2 449.3L617.2 451.2L614.5 454.1ZM621 455.3L625.2 454.1L624.9 457.3ZM631.2 461.6L633.8 457.3L636.1 460.3ZM642 466L643.2 459.8L647.2 462.3ZM652.8 468.5L653.2 461.4L657.6 463.2ZM663.5 469.3L663.3 462L667.8 463.4ZM674.1 468.8L673.3 461.9L678 463ZM684.6 467.3L683.5 461.2L688 462.1ZM694.9 465.3L693.8 460.4L697.5 461ZM472.7 448.6L473.4 447L474.3 448ZM481 448L482.5 446.5L483.1 447.9ZM489.4 447.9L491.5 446.2L492.1 448.1ZM497.9 447.1L500.8 445.6L501 447.9ZM506.8 445.3L510.4 444.5L509.9 447.2ZM516.2 442.7L520.4 443.2L518.9 445.9ZM526.4 439.8L530.9 441.8L528.3 444.4ZM537.1 437.2L541.6 440.7L537.9 442.9ZM547.9 435L552.2 439.9L547.7 441.5ZM558.7 433.2L562.5 439.3L557.8 440.3ZM568.9 431.8L572.5 438.7L567.7 439.5ZM578.3 431.1L581.9 438.1L577.2 438.9ZM587.2 431.2L591.2 438.1L586.5 439.1ZM596.1 432.4L600.4 438.7L595.8 440.1ZM604.8 434.8L609.5 439.7L605.1 441.6ZM613.4 439.1L617.9 441.5L615 444ZM622.1 445.6L625.8 444.6L625.4 447.4ZM632.4 452.6L634.3 448.2L636.8 450.7ZM643.2 457.1L643.6 450.7L647.9 452.8ZM653.8 459.7L653.6 452.3L658.2 453.8ZM664.3 460.5L663.6 452.9L668.3 454ZM674.7 459.9L673.6 452.7L678.3 453.6ZM685 458.3L683.6 452L688.3 452.7ZM695.2 456.2L693.9 451.1L697.8 451.6ZM472.6 436.5L473.8 436.2L473.7 437.1ZM481.2 434.5L483.4 435L482.5 436.3ZM489.8 434.1L492.6 434.6L491.5 436.3ZM498.6 433.7L501.8 434.2L500.6 436.3ZM507.6 432.6L511.4 433.5L509.7 435.8ZM517.2 430.8L521.4 432.6L519 435ZM527.3 428.7L531.7 431.7L528.4 433.8ZM537.9 426.6L542.2 430.8L538.1 432.6ZM548.8 424.5L552.7 430L548.1 431.3ZM559.7 422.6L563.1 429.4L558.3 430ZM570.1 421.1L573 428.4L568.3 428.8ZM579.4 420.4L582.5 427.6L577.7 428.1ZM588.2 420.8L591.7 427.9L586.9 428.5ZM597.2 422.1L601 429L596.3 429.9ZM606.1 424.6L610.3 430L605.7 431.4ZM614.9 428.9L618.8 432L615.6 433.8ZM623.6 435.9L626.5 435.2L626.1 437.4ZM634 443.4L635 439.2L637.7 441ZM644.5 448.1L644.2 441.7L648.7 443.2ZM654.9 450.7L654.1 443.2L658.8 444.2ZM665.2 451.5L664 443.8L668.8 444.5ZM675.4 450.9L673.9 443.5L678.7 444.1ZM685.5 449.2L683.8 442.7L688.6 443.3ZM695.5 447L694 441.7L698.1 442.1ZM473.2 424.5L474.6 425.5L473.6 426.2ZM482.1 421.6L484.5 423.9L482.3 424.9ZM491.1 420.8L494 423.4L491.4 424.6ZM500.2 420.5L503.4 423.1L500.7 424.6ZM509.5 419.8L513 422.7L510 424.3ZM519.1 418.7L522.8 422.1L519.4 423.7ZM529.1 417.2L532.9 421.4L528.9 422.9ZM539.4 415.5L543.2 420.7L538.6 421.9ZM550.2 413.6L553.5 420.1L548.7 420.7ZM561.1 411.7L563.8 419.1L559 419.3ZM571.6 410.2L573.8 417.7L569 417.6ZM580.7 409.6L583.2 417.1L578.4 417.1ZM589.4 410.4L592.3 417.7L587.5 418ZM598.4 412L601.7 419.1L596.9 419.7ZM607.6 414.6L611.1 420.5L606.4 421.3ZM616.7 418.9L619.7 422.5L616.5 423.6ZM625.4 426.1L627.4 425.9L627 427.4ZM635.9 434.2L635.9 430.1L638.7 431.2ZM646.1 438.8L644.9 432.5L649.6 433.4ZM656.2 441.5L654.7 434L659.5 434.6ZM666.2 442.3L664.5 434.6L669.3 435ZM676.2 441.6L674.3 434.2L679.1 434.6ZM686.1 439.9L684.1 433.4L688.9 433.7ZM695.9 437.6L694.1 432.3L698.3 432.5ZM473.8 413.5L475.2 415.3L473.6 415.7ZM482.9 409.8L485.3 413.3L482.2 414ZM492.2 408.8L495 412.8L491.5 413.6ZM501.7 408.5L504.6 412.6L501 413.5ZM511.2 408L514.3 412.3L510.5 413.2ZM520.8 407.3L524 411.9L519.9 412.8ZM530.7 406.1L534 411.4L529.5 412.2ZM540.9 404.7L544 410.8L539.3 411.4ZM551.5 402.9L554.2 410.1L549.4 410.3ZM562.4 401L564.5 408.6L559.7 408.4ZM572.9 399.5L574.6 407.2L569.9 406.8ZM582 399.1L584 406.7L579.2 406.5ZM590.6 400.2L593 407.7L588.2 407.7ZM599.8 402.1L602.4 409.5L597.6 409.6ZM609.3 404.8L611.9 411L607.2 411.2ZM618.8 409.1L620.8 413.2L617.4 413.4ZM627.9 416.2L628.8 416.6L628.2 417.1ZM638 424.8L636.9 421L639.8 421.3ZM647.8 429.4L645.7 423.3L650.4 423.6ZM657.5 432L655.4 424.7L660.2 424.8ZM667.3 432.8L665 425.3L669.8 425.4ZM677 432.2L674.7 424.8L679.5 424.9ZM686.7 430.4L684.4 423.9L689.2 424ZM696.4 428.1L694.3 422.8L698.6 422.9ZM474.1 403.1L475.5 405.3L473.6 405.7ZM483.3 399.1L485.7 403.2L482.2 403.7ZM492.9 397.9L495.6 402.6L491.6 403.2ZM502.6 397.6L505.3 402.5L501.2 403ZM512.3 397.2L515.1 402.3L510.8 402.8ZM522 396.6L524.8 402L520.3 402.5ZM531.8 395.7L534.7 401.6L529.9 402ZM541.9 394.3L544.6 401L539.8 401.2ZM552.4 392.7L554.6 400.2L549.8 400.1ZM563.4 390.8L565 398.5L560.3 398.1ZM574 389.4L575.3 397.1L570.5 396.4ZM583.1 389.1L584.6 396.8L579.8 396.3ZM591.7 390.4L593.6 398.1L588.8 397.8ZM601.1 392.4L603.1 400L598.3 399.8ZM610.9 395.2L612.8 401.7L608 401.3ZM620.9 399.5L621.8 404L618.5 403.4ZM631.3 406.7L630.4 407.7L629.9 406.8ZM640.2 415.1L638 411.8L640.9 411.2ZM649.5 419.7L646.6 414L651.3 413.6ZM658.9 422.3L656 415.3L660.8 415ZM668.3 423.2L665.6 415.8L670.4 415.6ZM677.8 422.5L675.1 415.3L679.9 415.1ZM687.3 420.8L684.7 414.4L689.5 414.3ZM696.8 418.5L694.5 413.2L698.8 413.1ZM474.3 393.1L475.7 395.6L473.6 395.8ZM483.5 388.9L486 393.3L482.2 393.8ZM493.3 387.7L495.9 392.8L491.7 393.2ZM503.1 387.4L505.7 392.7L501.3 393ZM513 387.1L515.5 392.5L511 392.8ZM522.7 386.5L525.3 392.3L520.6 392.5ZM532.5 385.7L535 391.9L530.2 392ZM542.5 384.4L544.9 391.4L540.1 391.3ZM553 382.8L554.9 390.5L550.2 390.2ZM564.1 381.1L565.4 388.8L560.7 388.2ZM574.7 379.6L575.7 387.5L571 386.6ZM583.9 379.5L585.1 387.3L580.4 386.5ZM592.7 381L594.2 388.7L589.4 388.1ZM602.4 383L603.7 390.8L598.9 390.1ZM612.5 385.8L613.5 392.5L608.8 391.5ZM622.8 390.1L622.8 394.9L619.5 393.5ZM633.5 397.3L631.5 398.6L631.1 396.9ZM642.3 405.2L639.1 402.4L641.9 401ZM651.2 409.8L647.4 404.6L652.1 403.5ZM660.2 412.4L656.7 405.7L661.5 405ZM669.4 413.3L666.1 406.1L670.9 405.5ZM678.6 412.6L675.5 405.7L680.3 405.2ZM687.9 410.9L685 404.8L689.8 404.4ZM697.2 408.7L694.8 403.6L698.9 403.3ZM474.4 383.4L475.7 385.9L473.6 386.1ZM483.6 379L486.1 383.6L482.2 384ZM493.4 377.8L496 383.1L491.7 383.4ZM503.4 377.5L505.8 383L501.4 383.2ZM513.2 377.2L515.7 382.9L511.1 383ZM523 376.7L525.5 382.7L520.7 382.7ZM532.8 375.9L535.2 382.3L530.4 382.3ZM542.8 374.8L545 381.8L540.2 381.6ZM553.4 373.2L555.1 380.9L550.4 380.5ZM564.5 371.6L565.7 379.4L560.9 378.6ZM575.3 370.2L576 378.1L571.3 377.1ZM584.6 370.2L585.5 378L580.8 377.1ZM593.6 371.8L594.6 379.6L589.9 378.7ZM603.5 373.9L604.2 381.7L599.5 380.6ZM613.9 376.6L614.2 383.4L609.6 381.8ZM624.5 381L623.5 385.8L620.5 383.8ZM635.2 387.8L632.3 389.4L632 387ZM644 395.1L640.1 392.9L642.7 390.8ZM652.7 399.7L648.3 395L652.7 393.3ZM661.5 402.3L657.4 396.1L662 394.9ZM670.4 403.1L666.6 396.3L671.3 395.4ZM679.3 402.5L675.9 395.9L680.7 395.2ZM688.4 400.9L685.3 395.1L690 394.5ZM697.6 398.7L695 393.9L699.1 393.5ZM474.4 373.7L475.8 376.2L473.6 376.5ZM483.7 369.3L486.1 374L482.2 374.3ZM493.5 368.1L496.1 373.4L491.7 373.7ZM503.5 367.8L505.9 373.3L501.4 373.5ZM513.4 367.5L515.7 373.2L511.1 373.3ZM523.2 367.1L525.5 373L520.8 373ZM533 366.3L535.3 372.7L530.5 372.6ZM543 365.2L545.1 372.2L540.3 372ZM553.6 363.8L555.2 371.5L550.5 371ZM564.8 362.2L565.8 370L561.1 369.2ZM575.7 361L576.3 368.9L571.6 367.7ZM585.2 361.1L585.8 368.9L581.1 367.8ZM594.4 362.7L595 370.6L590.3 369.5ZM604.5 364.9L604.7 372.6L600.1 371.2ZM615.2 367.6L614.7 374.3L610.3 372.3ZM625.9 371.9L624.1 376.7L621.3 374.1ZM636.5 378.2L632.9 380.1L632.6 377.1ZM645.4 385L640.9 383.3L643.3 380.6ZM653.9 389.5L649 385.3L653.2 383.1ZM662.5 392L658 386.3L662.5 384.7ZM671.2 392.8L667.1 386.5L671.7 385.3ZM680 392.3L676.3 386.1L681 385.1ZM688.9 390.7L685.5 385.3L690.2 384.4ZM697.9 388.6L695.3 384.1L699.1 383.5ZM474.4 364L475.8 366.6L473.6 366.8ZM483.7 359.6L486.1 364.3L482.2 364.7ZM493.5 358.4L496.1 363.7L491.7 364ZM503.5 358.2L505.9 363.7L501.5 363.8ZM513.4 357.9L515.7 363.6L511.2 363.7ZM523.2 357.5L525.6 363.4L520.8 363.4ZM533.1 356.8L535.3 363.1L530.5 363ZM543.1 355.8L545.2 362.7L540.4 362.4ZM553.8 354.4L555.3 362.2L550.5 361.6ZM565.1 353L565.9 360.8L561.2 359.9ZM576.1 351.9L576.4 359.8L571.8 358.5ZM585.7 352.1L586 360L581.4 358.7ZM595 353.9L595.2 361.8L590.6 360.4ZM605.4 356.1L605 363.6L600.5 361.8ZM616.2 358.8L615.1 365.3L610.9 362.8ZM627 362.8L624.5 367.6L621.9 364.6ZM637.4 368.7L633.4 370.7L633.1 367.4ZM646.5 374.8L641.5 373.6L643.7 370.5ZM655 379.1L649.7 375.5L653.6 372.9ZM663.4 381.5L658.5 376.4L662.9 374.5ZM671.9 382.3L667.5 376.6L672 375.1ZM680.5 381.8L676.6 376.2L681.2 375ZM689.3 380.4L685.9 375.4L690.3 374.4ZM698.2 378.4L695.5 374.2L699.2 373.6ZM474.4 354.4L475.8 356.9L473.6 357.2ZM483.7 350L486.1 354.7L482.2 355ZM493.5 348.8L496.1 354.1L491.7 354.4ZM503.5 348.5L505.9 354L501.5 354.2ZM513.4 348.3L515.8 354L511.2 354ZM523.2 347.9L525.6 353.8L520.8 353.8ZM533.1 347.3L535.3 353.6L530.5 353.4ZM543.2 346.4L545.2 353.2L540.4 352.9ZM553.9 345.2L555.3 352.7L550.6 352.1ZM565.2 343.9L565.9 351.7L561.3 350.7ZM576.3 343L576.5 350.8L571.9 349.5ZM586 343.3L586.1 351.2L581.5 349.7ZM595.5 345.2L595.4 353.1L590.8 351.5ZM606 347.4L605.3 354.6L600.9 352.5ZM616.9 350L615.3 356.3L611.4 353.5ZM627.7 353.8L624.8 358.4L622.4 355.1ZM638 359.1L633.7 361.2L633.4 357.6ZM647.2 364.6L642 363.9L643.9 360.5ZM655.7 368.6L650.2 365.6L653.8 362.7ZM664 370.9L658.9 366.5L663.1 364.2ZM672.4 371.7L667.8 366.6L672.2 364.8ZM680.9 371.3L676.8 366.2L681.4 364.8ZM689.6 370L686.2 365.4L690.3 364.3ZM698.4 368.1L695.8 364.3L699.1 363.6ZM474.4 344.8L475.8 347.3L473.6 347.5ZM483.7 340.4L486.1 345L482.2 345.4ZM493.5 339.2L496.1 344.5L491.7 344.8ZM503.5 338.9L505.9 344.4L501.5 344.6ZM513.4 338.7L515.7 344.4L511.2 344.4ZM523.2 338.4L525.5 344.2L520.9 344.2ZM533.1 337.8L535.3 344L530.5 343.9ZM543.2 337L545.2 343.7L540.4 343.4ZM554 335.9L555.4 343.3L550.6 342.7ZM565.4 334.8L565.9 342.6L561.3 341.5ZM576.5 334L576.5 341.9L571.9 340.4ZM586.3 334.5L586.1 342.4L581.6 340.8ZM595.8 336.5L595.4 344.2L590.9 342.5ZM606.3 338.8L605.4 345.6L601.2 343.3ZM617.3 341.3L615.3 347.2L611.8 344.2ZM628.1 344.8L624.8 349.2L622.7 345.7ZM638.4 349.6L633.8 351.7L633.6 348ZM647.6 354.4L642.3 354L644 350.5ZM656.1 358.1L650.6 355.6L653.8 352.5ZM664.4 360.3L659.2 356.5L663.2 353.9ZM672.8 361L668 356.6L672.4 354.5ZM681.2 360.6L677.1 356.2L681.3 354.6ZM689.8 359.4L686.5 355.4L690.2 354.2ZM698.6 357.8L696 354.4L699.1 353.5ZM474.4 335.1L475.8 337.7L473.6 337.9ZM483.7 330.7L486.1 335.4L482.2 335.8ZM493.5 329.5L496.1 334.8L491.7 335.1ZM503.5 329.3L505.9 334.8L501.5 335ZM513.4 329.1L515.7 334.8L511.2 334.8ZM523.2 328.8L525.5 334.7L520.9 334.6ZM533.1 328.3L535.3 334.5L530.5 334.3ZM543.2 327.6L545.2 334.2L540.4 333.9ZM554 326.7L555.4 333.9L550.6 333.2ZM565.4 325.7L565.9 333.6L561.2 332.4ZM576.6 325.1L576.4 333L571.9 331.4ZM586.4 325.8L586 333.6L581.5 332ZM595.9 327.9L595.5 335.1L591 333.3ZM606.5 330.2L605.4 336.6L601.3 334.1ZM617.5 332.6L615.2 338.1L612.1 335ZM628.2 335.8L624.8 339.9L622.9 336.4ZM638.4 340L633.8 342.1L633.7 338.4ZM647.7 344.3L642.4 344.1L643.9 340.6ZM656.3 347.6L650.9 345.6L653.7 342.4ZM664.6 349.6L659.5 346.3L663.1 343.7ZM672.9 350.3L668.3 346.4L672.2 344.3ZM681.3 350L677.4 346L681.2 344.4ZM689.9 348.9L686.7 345.3L690.1 344.1ZM698.6 347.4L696.2 344.4L699 343.5ZM474.4 325.5L475.8 328L473.6 328.3ZM483.7 321.1L486.1 325.8L482.2 326.2ZM493.5 319.9L496.1 325.2L491.7 325.5ZM503.5 319.7L505.9 325.2L501.5 325.3ZM513.4 319.5L515.7 325.2L511.2 325.2ZM523.2 319.3L525.5 325.1L520.9 325ZM533.1 318.8L535.3 324.9L530.5 324.8ZM543.2 318.2L545.2 324.7L540.4 324.4ZM554 317.4L555.4 324.5L550.6 323.8ZM565.4 316.6L565.9 324.3L561.2 323.1ZM576.6 316.2L576.3 324.1L571.8 322.5ZM586.4 317L585.9 324.8L581.4 323.1ZM595.9 319.3L595.4 326.1L591.1 324.1ZM606.5 321.6L605.2 327.5L601.5 325ZM617.4 323.9L615 328.9L612.2 325.8ZM628.1 326.8L624.6 330.5L623 327.1ZM638.2 330.4L633.7 332.4L633.6 328.8ZM647.5 334.1L642.4 334.2L643.8 330.7ZM656.2 337L651 335.5L653.5 332.4ZM664.6 338.8L659.7 336.2L662.9 333.5ZM672.9 339.5L668.5 336.2L672 334.1ZM681.3 339.2L677.6 335.9L681 334.2ZM689.9 338.3L686.9 335.2L689.9 334ZM698.6 337L696.3 334.3L698.8 333.5ZM474.4 315.9L475.8 318.4L473.6 318.7ZM483.7 311.5L486.1 316.2L482.2 316.5ZM493.5 310.3L496.1 315.6L491.7 315.9ZM503.5 310.1L505.9 315.6L501.5 315.7ZM513.4 309.9L515.7 315.5L511.2 315.6ZM523.2 309.7L525.5 315.5L520.9 315.4ZM533.1 309.4L535.3 315.3L530.6 315.2ZM543.2 308.8L545.2 315.2L540.4 314.9ZM553.9 308.2L555.4 315L550.6 314.3ZM565.4 307.5L565.8 315L561.2 313.7ZM576.5 307.3L576.2 315.1L571.7 313.4ZM586.3 308.3L585.8 315.7L581.4 313.8ZM595.8 310.7L595.3 317L591.1 314.9ZM606.3 313L604.9 318.3L601.6 315.9ZM617.1 315.1L614.7 319.6L612.3 316.7ZM627.7 317.7L624.3 321.1L622.9 317.8ZM637.8 320.9L633.5 322.8L633.4 319.3ZM647.1 324L642.4 324.3L643.5 320.9ZM655.9 326.6L651 325.4L653.2 322.4ZM664.4 328.2L659.8 326L662.6 323.4ZM672.8 328.8L668.7 326L671.7 323.9ZM681.2 328.6L677.8 325.7L680.7 324.1ZM689.8 327.7L687 325.1L689.7 323.9ZM698.6 326.6L696.5 324.3L698.6 323.5ZM474.4 306.2L475.8 308.8L473.6 309ZM483.7 301.9L486.1 306.5L482.2 306.9ZM493.5 300.7L496.1 306L491.7 306.3ZM503.5 300.5L505.9 305.9L501.5 306.1ZM513.4 300.3L515.7 305.9L511.2 306ZM523.2 300.2L525.5 305.9L520.9 305.8ZM533.1 299.9L535.3 305.8L530.6 305.7ZM543.1 299.4L545.2 305.6L540.4 305.4ZM553.9 298.9L555.3 305.6L550.6 304.9ZM565.3 298.4L565.8 305.6L561.2 304.3ZM576.4 298.3L576.1 305.8L571.6 304.1ZM586.1 299.5L585.7 306.4L581.3 304.6ZM595.5 302L594.9 307.8L591.1 305.8ZM605.9 304.4L604.5 309.1L601.6 306.8ZM616.7 306.4L614.3 310.3L612.2 307.6ZM627.2 308.6L623.9 311.6L622.7 308.5ZM637.2 311.3L633.2 313L633.1 309.8ZM646.6 314L642.2 314.3L643.1 311.2ZM655.4 316.1L651 315.3L652.8 312.4ZM664 317.5L659.8 315.8L662.2 313.3ZM672.5 318.1L668.8 315.8L671.4 313.8ZM681 317.9L677.9 315.5L680.4 314ZM689.7 317.2L687.1 315L689.4 313.8ZM698.5 316.2L696.6 314.3L698.4 313.5ZM474.4 296.6L475.8 299.2L473.6 299.4ZM483.7 292.2L486.1 296.9L482.2 297.3ZM493.5 291L496.1 296.3L491.7 296.6ZM503.5 290.8L505.9 296.3L501.5 296.5ZM513.4 290.7L515.7 296.3L511.2 296.4ZM523.2 290.6L525.4 296.3L520.9 296.3ZM533 290.4L535.2 296.2L530.6 296.1ZM543.1 290L545.1 296.1L540.4 295.8ZM553.8 289.6L555.3 296.1L550.5 295.4ZM565.2 289.2L565.7 296.2L561.1 294.9ZM576.2 289.3L576 296.5L571.5 294.7ZM585.9 290.6L585.6 297.2L581.2 295.3ZM595.1 293.2L594.6 298.5L591.1 296.7ZM605.5 295.7L604.1 299.9L601.6 297.7ZM616.1 297.5L613.9 301L612.1 298.4ZM626.5 299.4L623.5 302.1L622.5 299.3ZM636.5 301.7L632.8 303.3L632.7 300.3ZM645.9 303.9L641.9 304.4L642.7 301.5ZM654.9 305.8L650.8 305.2L652.4 302.6ZM663.6 307L659.8 305.6L661.8 303.3ZM672.2 307.4L668.8 305.6L671 303.8ZM680.8 307.3L677.9 305.3L680.1 303.9ZM689.5 306.7L687.2 304.9L689.1 303.8ZM698.4 305.9L696.6 304.3L698.2 303.6ZM474.4 287L475.8 289.5L473.6 289.8ZM483.7 282.6L486.1 287.3L482.2 287.6ZM493.5 281.4L496.1 286.7L491.7 287ZM503.5 281.2L505.9 286.7L501.5 286.8ZM513.4 281.1L515.7 286.7L511.2 286.7ZM523.2 281L525.4 286.7L520.9 286.7ZM533 280.8L535.2 286.6L530.6 286.5ZM543 280.6L545.1 286.6L540.4 286.3ZM553.7 280.2L555.2 286.6L550.5 285.9ZM565 280L565.7 286.8L561 285.5ZM576.1 280.2L575.9 287.1L571.5 285.4ZM585.6 281.6L585.4 287.9L581.1 286ZM594.7 284.4L594.2 289.2L591.1 287.5ZM605 286.8L603.7 290.5L601.5 288.6ZM615.5 288.5L613.4 291.6L611.9 289.3ZM625.8 290.2L623.1 292.5L622.2 290ZM635.7 292.1L632.4 293.5L632.4 290.9ZM645.2 294L641.6 294.4L642.3 291.8ZM654.2 295.5L650.6 295.1L651.9 292.7ZM663 296.5L659.7 295.4L661.3 293.4ZM671.7 296.9L668.8 295.4L670.6 293.8ZM680.5 296.8L677.9 295.2L679.7 293.9ZM689.3 296.3L687.3 294.8L688.9 293.8ZM698.2 295.6L696.7 294.3L698 293.6Z" fill="#000" stroke="#000" stroke-width="0.5" stroke-linejoin="round"/>
</g>
<rect x="475.0" y="284.8" width="221.5" height="223.4" fill="none" stroke="#000" stroke-width="1.4"/>
<g clip-path="url(#clipe)">
<path d="M827 504.2L827.8 504.4M836.6 504.2L837.7 504.4M846.2 504.2L847.5 504.4M855.8 504.2L857.4 504.4M865.4 504.2L867.3 504.4M875 504.2L877.1 504.3M884.7 504.2L886.9 504.3M894.3 504.2L896.5 504.2M903.9 504.2L906 504.1M913.5 504.2L915.4 504M923.1 504.2L924.6 503.9M932.7 504.2L933.7 503.7M942.3 504.2L941.8 503.5M951.9 504.2L950.6 503.8M961.5 504.2L959.8 503.9M971.1 504.2L969.1 504M980.7 504.2L978.6 504.1M990.3 504.2L988.1 504.2M1000 504.2L997.8 504.3M1009.6 504.2L1007.6 504.4M1019.2 504.2L1017.4 504.4M1028.8 504.2L1027.3 504.4M1038.4 504.2L1037.2 504.4M1048 504.2L1047.1 504.4M827 494.6L827.7 495.2M836.6 494.6L837.6 495.3M846.2 494.6L847.5 495.4M855.8 494.6L857.5 495.3M865.4 494.6L867.4 495.2M875 494.6L877.2 495M884.7 494.6L887 494.8M894.3 494.6L896.6 494.4M903.9 494.6L906.1 494.1M913.5 494.6L915.4 493.8M923.1 494.6L924.6 493.5M932.7 494.6L933.4 493.2M942.3 494.6L942 493.1M951.9 494.6L950.7 493.4M961.5 494.6L959.8 493.7M971.1 494.6L969 494M980.7 494.6L978.4 494.3M990.3 494.6L988 494.6M1000 494.6L997.7 494.9M1009.6 494.6L1007.5 495.2M1019.2 494.6L1017.4 495.3M1028.8 494.6L1027.3 495.4M1038.4 494.6L1037.3 495.3M1048 494.6L1047.1 495.3M827 484.9L827.6 485.9M836.6 484.9L837.4 486.1M846.2 484.9L847.3 486.2M855.8 484.9L857.3 486.2M865.4 484.9L867.2 486.1M875 484.9L877.1 485.8M884.7 484.9L886.9 485.3M894.3 484.9L896.6 484.7M903.9 484.9L906 484.1M913.5 484.9L915.2 483.6M923.1 484.9L924.3 483.3M932.7 484.9L933.3 483M942.3 484.9L942.1 483M951.9 484.9L951 483.1M961.5 484.9L960 483.5M971.1 484.9L969.1 483.9M980.7 484.9L978.5 484.4M990.3 484.9L988 485M1000 484.9L997.8 485.6M1009.6 484.9L1007.6 486M1019.2 484.9L1017.6 486.2M1028.8 484.9L1027.5 486.2M1038.4 484.9L1037.4 486.1M1048 484.9L1047.3 486M827 475.3L827.5 476.5M836.6 475.3L837.4 476.7M846.2 475.3L847.2 476.9M855.8 475.3L857.2 477M865.4 475.3L867.2 476.8M875 475.3L877.1 476.4M884.7 475.3L887 475.8M894.3 475.3L896.6 475M903.9 475.3L906 474.2M913.5 475.3L915.1 473.6M923.1 475.3L924.2 473.2M932.7 475.3L933.2 473M942.3 475.3L942.1 472.9M951.9 475.3L951.1 473.1M961.5 475.3L960.1 473.4M971.1 475.3L969.2 473.9M980.7 475.3L978.5 474.6M990.3 475.3L988 475.4M1000 475.3L997.8 476.2M1009.6 475.3L1007.7 476.7M1019.2 475.3L1017.7 476.9M1028.8 475.3L1027.6 476.9M1038.4 475.3L1037.5 476.8M1048 475.3L1047.4 476.6M827 465.7L827.5 467M836.6 465.7L837.3 467.3M846.2 465.7L847.2 467.5M855.8 465.7L857.1 467.6M865.4 465.7L867.1 467.5M875 465.7L877.1 467.1M884.7 465.7L887 466.3M894.3 465.7L896.7 465.2M903.9 465.7L906 464.3M913.5 465.7L915.1 463.6M923.1 465.7L924.2 463.2M932.7 465.7L933.1 462.9M942.3 465.7L942.1 462.9M951.9 465.7L951.1 463.1M961.5 465.7L960.1 463.4M971.1 465.7L969.2 463.9M980.7 465.7L978.4 464.8M990.3 465.7L987.9 465.8M1000 465.7L997.7 466.8M1009.6 465.7L1007.7 467.4M1019.2 465.7L1017.7 467.6M1028.8 465.7L1027.7 467.6M1038.4 465.7L1037.6 467.4M1048 465.7L1047.4 467.1M827 456L827.5 457.5M836.6 456L837.3 457.9M846.2 456L847.1 458.2M855.8 456L857.1 458.3M865.4 456L867.1 458.2M875 456L877.1 457.7M884.7 456L887 456.8M894.3 456L896.7 455.5M903.9 456L906 454.4M913.5 456L915 453.6M923.1 456L924.1 453.2M932.7 456L933.1 452.8M942.3 456L942.2 452.8M951.9 456L951.2 453.1M961.5 456L960.2 453.4M971.1 456L969.3 454M980.7 456L978.4 455M990.3 456L987.9 456.2M1000 456L997.7 457.3M1009.6 456L1007.7 458M1019.2 456L1017.8 458.3M1028.8 456L1027.7 458.3M1038.4 456L1037.6 458M1048 456L1047.5 457.7M827 446.4L827.4 448.1M836.6 446.4L837.2 448.4M846.2 446.4L847.1 448.8M855.8 446.4L857 449M865.4 446.4L866.9 448.9M875 446.4L877 448.4M884.7 446.4L887 447.3M894.3 446.4L896.7 445.8M903.9 446.4L905.8 444.5M913.5 446.4L914.9 443.7M923.1 446.4L924 443.3M932.7 446.4L933.1 442.7M942.3 446.4L942.2 442.7M951.9 446.4L951.2 443.2M961.5 446.4L960.3 443.5M971.1 446.4L969.4 444.1M980.7 446.4L978.5 445.1M990.3 446.4L987.9 446.6M1000 446.4L997.8 447.9M1009.6 446.4L1007.9 448.7M1019.2 446.4L1017.9 448.9M1028.8 446.4L1027.8 448.9M1038.4 446.4L1037.7 448.6M1048 446.4L1047.5 448.2M827 436.8L827.3 438.6M836.6 436.8L837.1 439M846.2 436.8L846.9 439.4M855.8 436.8L856.8 439.6M865.4 436.8L866.8 439.5M875 436.8L876.8 439M884.7 436.8L886.8 437.8M894.3 436.8L896.5 436M903.9 436.8L905.6 434.6M913.5 436.8L914.7 433.8M923.1 436.8L923.9 433.3M932.7 436.8L933 432.7M942.3 436.8L942.2 432.6M951.9 436.8L951.3 433.2M961.5 436.8L960.5 433.6M971.1 436.8L969.6 434.2M980.7 436.8L978.7 435.3M990.3 436.8L988 437M1000 436.8L998 438.6M1009.6 436.8L1008.1 439.3M1019.2 436.8L1018 439.6M1028.8 436.8L1027.9 439.5M1038.4 436.8L1037.8 439.2M1048 436.8L1047.6 438.8M827 427.1L827.3 429M836.6 427.1L837 429.5M846.2 427.1L846.8 429.9M855.8 427.1L856.6 430.2M865.4 427.1L866.5 430.1M875 427.1L876.4 429.6M884.7 427.1L886.5 428.4M894.3 427.1L896.2 426.2M903.9 427.1L905.3 424.7M913.5 427.1L914.5 423.9M923.1 427.1L923.7 423.5M932.7 427.1L932.9 422.7M942.3 427.1L942.2 422.7M951.9 427.1L951.5 423.4M961.5 427.1L960.7 423.7M971.1 427.1L969.9 424.3M980.7 427.1L979 425.4M990.3 427.1L988.3 427.5M1000 427.1L998.4 429.2M1009.6 427.1L1008.4 429.9M1019.2 427.1L1018.3 430.2M1028.8 427.1L1028.1 430.1M1038.4 427.1L1037.9 429.7M1048 427.1L1047.7 429.3M827 417.5L827.2 419.5M836.6 417.5L836.9 420M846.2 417.5L846.6 420.4M855.8 417.5L856.3 420.7M865.4 417.5L866.1 420.6M875 417.5L876 420.2M884.7 417.5L886 419M894.3 417.5L895.8 416.4M903.9 417.5L904.8 414.9M913.5 417.5L914.1 414.1M923.1 417.5L923.5 413.7M932.7 417.5L932.8 412.9M942.3 417.5L942.2 412.8M951.9 417.5L951.6 413.6M961.5 417.5L961 413.9M971.1 417.5L970.3 414.5M980.7 417.5L979.5 415.5M990.3 417.5L988.7 417.9M1000 417.5L998.8 419.8M1009.6 417.5L1008.8 420.5M1019.2 417.5L1018.6 420.7M1028.8 417.5L1028.4 420.6M1038.4 417.5L1038.1 420.2M1048 417.5L1047.8 419.7M827 407.9L827.1 409.9M836.6 407.9L836.7 410.4M846.2 407.9L846.4 410.9M855.8 407.9L856 411.1M865.4 407.9L865.7 411.1M875 407.9L875.4 410.7M884.7 407.9L885.3 409.6M894.3 407.9L895 406.5M903.9 407.9L904.3 405.1M913.5 407.9L913.7 404.4M923.1 407.9L923.2 403.9M932.7 407.9L932.8 403.1M942.3 407.9L942.3 403.1M951.9 407.9L951.8 403.8M961.5 407.9L961.3 404.1M971.1 407.9L970.8 404.7M980.7 407.9L980.2 405.7M990.3 407.9L989.3 408.5M1000 407.9L999.5 410.3M1009.6 407.9L1009.2 411M1019.2 407.9L1018.9 411.2M1028.8 407.9L1028.6 411M1038.4 407.9L1038.3 410.6M1048 407.9L1047.9 410.1M827 398.2L827 400.3M836.6 398.2L836.6 400.8M846.2 398.2L846.1 401.2M855.8 398.2L855.7 401.5M865.4 398.2L865.3 401.5M875 398.2L874.8 401M884.7 398.2L884.3 400M894.3 398.2L893.8 396.8M903.9 398.2L903.7 395.5M913.5 398.2L913.3 394.7M923.1 398.2L923 394.3M932.7 398.2L932.7 393.5M942.3 398.2L942.3 393.5M951.9 398.2L952 394.2M961.5 398.2L961.6 394.5M971.1 398.2L971.3 395.1M980.7 398.2L981 396.1M990.3 398.2L991 399.1M1000 398.2L1000.2 400.7M1009.6 398.2L1009.7 401.3M1019.2 398.2L1019.3 401.5M1028.8 398.2L1028.9 401.4M1038.4 398.2L1038.5 401M1048 398.2L1048 400.5M827 388.6L826.9 390.6M836.6 388.6L836.4 391.1M846.2 388.6L845.9 391.6M855.8 388.6L855.4 391.8M865.4 388.6L864.9 391.8M875 388.6L874.3 391.3M884.7 388.6L883.5 390.2M894.3 388.6L892.9 387.4M903.9 388.6L903.1 385.9M913.5 388.6L912.9 385.2M923.1 388.6L922.8 384.7M932.7 388.6L932.6 383.9M942.3 388.6L942.3 383.9M951.9 388.6L952.1 384.6M961.5 388.6L962 384.9M971.1 388.6L971.8 385.5M980.7 388.6L981.8 386.6M990.3 388.6L991.9 389.1M1000 388.6L1000.9 390.9M1009.6 388.6L1010.2 391.6M1019.2 388.6L1019.7 391.8M1028.8 388.6L1029.1 391.7M1038.4 388.6L1038.6 391.3M1048 388.6L1048.2 390.8M827 379L826.8 380.9M836.6 379L836.3 381.4M846.2 379L845.7 381.8M855.8 379L855.1 382M865.4 379L864.5 382M875 379L873.8 381.5M884.7 379L882.9 380.3M894.3 379L892.4 378M903.9 379L902.6 376.5M913.5 379L912.6 375.7M923.1 379L922.5 375.2M932.7 379L932.5 374.4M942.3 379L942.4 374.4M951.9 379L952.3 375.1M961.5 379L962.2 375.5M971.1 379L972.2 376.1M980.7 379L982.3 377.2M990.3 379L992.3 379.3M1000 379L1001.4 381.1M1009.6 379L1010.6 381.8M1019.2 379L1020 382.1M1028.8 379L1029.4 381.9M1038.4 379L1038.8 381.6M1048 379L1048.3 381.1M827 369.4L826.7 371.2M836.6 369.4L836.1 371.6M846.2 369.4L845.5 372M855.8 369.4L854.9 372.2M865.4 369.4L864.2 372.1M875 369.4L873.4 371.6M884.7 369.4L882.5 370.5M894.3 369.4L892.1 368.6M903.9 369.4L902.2 367.1M913.5 369.4L912.3 366.3M923.1 369.4L922.4 365.8M932.7 369.4L932.4 365M942.3 369.4L942.4 364.9M951.9 369.4L952.4 365.7M961.5 369.4L962.5 366.1M971.1 369.4L972.6 366.7M980.7 369.4L982.7 367.8M990.3 369.4L992.6 369.6M1000 369.4L1001.8 371.2M1009.6 369.4L1011 372M1019.2 369.4L1020.2 372.2M1028.8 369.4L1029.6 372.1M1038.4 369.4L1038.9 371.8M1048 369.4L1048.4 371.4M827 359.7L826.6 361.4M836.6 359.7L836 361.8M846.2 359.7L845.4 362.2M855.8 359.7L854.7 362.3M865.4 359.7L864 362.3M875 359.7L873.2 361.8M884.7 359.7L882.3 360.7M894.3 359.7L891.9 359.1M903.9 359.7L901.9 357.7M913.5 359.7L912.1 356.9M923.1 359.7L922.2 356.5M932.7 359.7L932.4 355.6M942.3 359.7L942.4 355.5M951.9 359.7L952.6 356.4M961.5 359.7L962.7 356.7M971.1 359.7L972.8 357.3M980.7 359.7L982.9 358.4M990.3 359.7L992.8 360M1000 359.7L1002 361.3M1009.6 359.7L1011.2 362.1M1019.2 359.7L1020.4 362.3M1028.8 359.7L1029.7 362.3M1038.4 359.7L1039.1 362M1048 359.7L1048.5 361.6M827 350.1L826.6 351.6M836.6 350.1L836 352M846.2 350.1L845.3 352.3M855.8 350.1L854.6 352.4M865.4 350.1L863.8 352.3M875 350.1L873 351.9M884.7 350.1L882.3 350.9M894.3 350.1L891.8 349.5M903.9 350.1L901.8 348.4M913.5 350.1L912 347.6M923.1 350.1L922.1 347.1M932.7 350.1L932.3 346.2M942.3 350.1L942.4 346.2M951.9 350.1L952.6 347M961.5 350.1L962.8 347.4M971.1 350.1L972.9 348M980.7 350.1L983 348.9M990.3 350.1L992.8 350.3M1000 350.1L1002.2 351.5M1009.6 350.1L1011.3 352.2M1019.2 350.1L1020.6 352.4M1028.8 350.1L1029.8 352.4M1038.4 350.1L1039.1 352.1M1048 350.1L1048.5 351.8M827 340.5L826.5 341.8M836.6 340.5L835.9 342.2M846.2 340.5L845.3 342.4M855.8 340.5L854.6 342.5M865.4 340.5L863.8 342.4M875 340.5L873 342M884.7 340.5L882.3 341.1M894.3 340.5L891.9 340M903.9 340.5L901.8 339M913.5 340.5L911.9 338.3M923.1 340.5L922.1 337.8M932.7 340.5L932.3 336.9M942.3 340.5L942.4 336.9M951.9 340.5L952.7 337.7M961.5 340.5L962.9 338.1M971.1 340.5L973 338.6M980.7 340.5L983 339.5M990.3 340.5L992.8 340.6M1000 340.5L1002.2 341.6M1009.6 340.5L1011.4 342.2M1019.2 340.5L1020.6 342.5M1028.8 340.5L1029.9 342.5M1038.4 340.5L1039.2 342.3M1048 340.5L1048.6 342M827 330.8L826.5 332.1M836.6 330.8L835.9 332.3M846.2 330.8L845.3 332.5M855.8 330.8L854.6 332.6M865.4 330.8L863.8 332.5M875 330.8L873.1 332.1M884.7 330.8L882.4 331.4M894.3 330.8L892 330.5M903.9 330.8L901.9 329.6M913.5 330.8L911.9 329M923.1 330.8L922.1 328.5M932.7 330.8L932.3 327.6M942.3 330.8L942.4 327.6M951.9 330.8L952.7 328.4M961.5 330.8L962.9 328.8M971.1 330.8L973 329.3M980.7 330.8L982.9 330M990.3 330.8L992.6 331M1000 330.8L1002.1 331.8M1009.6 330.8L1011.4 332.3M1019.2 330.8L1020.6 332.6M1028.8 330.8L1029.9 332.6M1038.4 330.8L1039.2 332.4M1048 330.8L1048.6 332.2M827 321.2L826.5 322.3M836.6 321.2L835.9 322.5M846.2 321.2L845.3 322.6M855.8 321.2L854.6 322.7M865.4 321.2L863.9 322.6M875 321.2L873.2 322.2M884.7 321.2L882.6 321.6M894.3 321.2L892.2 320.9M903.9 321.2L902 320.2M913.5 321.2L912 319.6M923.1 321.2L922.1 319.2M932.7 321.2L932.3 318.4M942.3 321.2L942.4 318.4M951.9 321.2L952.7 319.1M961.5 321.2L962.8 319.4M971.1 321.2L972.9 319.9M980.7 321.2L982.8 320.5M990.3 321.2L992.5 321.3M1000 321.2L1001.9 322M1009.6 321.2L1011.3 322.5M1019.2 321.2L1020.5 322.7M1028.8 321.2L1029.8 322.7M1038.4 321.2L1039.2 322.6M1048 321.2L1048.6 322.4M827 311.6L826.5 312.5M836.6 311.6L836 312.7M846.2 311.6L845.4 312.8M855.8 311.6L854.7 312.8M865.4 311.6L864 312.7M875 311.6L873.3 312.4M884.7 311.6L882.8 311.9M894.3 311.6L892.4 311.3M903.9 311.6L902.1 310.7M913.5 311.6L912.1 310.3M923.1 311.6L922.2 309.9M932.7 311.6L932.4 309.3M942.3 311.6L942.4 309.3M951.9 311.6L952.6 309.8M961.5 311.6L962.7 310.1M971.1 311.6L972.7 310.5M980.7 311.6L982.6 311M990.3 311.6L992.3 311.7M1000 311.6L1001.8 312.2M1009.6 311.6L1011.1 312.6M1019.2 311.6L1020.4 312.8M1028.8 311.6L1029.8 312.8M1038.4 311.6L1039.1 312.7M1048 311.6L1048.5 312.6M827 301.9L826.6 302.7M836.6 301.9L836 302.9M846.2 301.9L845.4 303M855.8 301.9L854.8 303M865.4 301.9L864.1 302.9M875 301.9L873.5 302.6M884.7 301.9L883 302.2M894.3 301.9L892.6 301.7M903.9 301.9L902.3 301.3M913.5 301.9L912.2 300.9M923.1 301.9L922.2 300.6M932.7 301.9L932.4 300.1M942.3 301.9L942.4 300.1M951.9 301.9L952.6 300.5M961.5 301.9L962.6 300.7M971.1 301.9L972.6 301.1M980.7 301.9L982.4 301.5M990.3 301.9L992 302M1000 301.9L1001.6 302.5M1009.6 301.9L1011 302.8M1019.2 301.9L1020.3 302.9M1028.8 301.9L1029.7 303M1038.4 301.9L1039.1 302.9M1048 301.9L1048.5 302.8M827 292.3L826.6 293M836.6 292.3L836.1 293.1M846.2 292.3L845.5 293.1M855.8 292.3L854.9 293.1M865.4 292.3L864.3 293.1M875 292.3L873.7 292.8M884.7 292.3L883.2 292.5M894.3 292.3L892.8 292.1M903.9 292.3L902.5 291.8M913.5 292.3L912.4 291.4M923.1 292.3L922.3 291.2M932.7 292.3L932.4 290.9M942.3 292.3L942.4 290.9M951.9 292.3L952.5 291.1M961.5 292.3L962.5 291.3M971.1 292.3L972.4 291.6M980.7 292.3L982.2 292M990.3 292.3L991.8 292.4M1000 292.3L1001.4 292.7M1009.6 292.3L1010.8 293M1019.2 292.3L1020.2 293.1M1028.8 292.3L1029.6 293.2M1038.4 292.3L1039 293.1M1048 292.3L1048.5 293" stroke="#000" stroke-width="1.5" stroke-linecap="round" fill="none"/>
<path d="M828.1 504.5L827.5 504.5L827.6 504.1ZM838.1 504.5L837.3 504.7L837.4 504.1ZM848.3 504.6L847.2 504.8L847.3 504ZM858.4 504.6L857.1 504.9L857.2 503.9ZM868.6 504.5L866.9 505L867.1 503.7ZM878.6 504.4L876.8 505L876.9 503.6ZM888.5 504.3L886.5 505L886.6 503.5ZM898.1 504.1L896.2 504.9L896.2 503.4ZM907.5 504L905.7 504.8L905.6 503.4ZM916.6 503.8L915.1 504.6L915 503.4ZM925.5 503.7L924.4 504.4L924.2 503.4ZM934.1 503.4L933.6 504.1L933.3 503.5ZM941.6 503.2L942.2 503.6L941.8 503.8ZM949.9 503.6L951 503.5L950.8 504.3ZM958.7 503.8L960.2 503.4L960 504.6ZM967.7 503.9L969.5 503.4L969.4 504.7ZM977 504.1L978.9 503.4L978.8 504.9ZM986.5 504.2L988.4 503.4L988.4 505ZM996.3 504.4L998.1 503.5L998.1 505ZM1006.2 504.5L1007.8 503.7L1007.9 505ZM1016.3 504.5L1017.7 503.8L1017.8 504.9ZM1026.5 504.6L1027.6 503.9L1027.7 504.8ZM1036.6 504.5L1037.5 504L1037.6 504.7ZM1046.7 504.5L1047.3 504.1L1047.4 504.6ZM828 495.5L827.3 495.2L827.7 494.8ZM838.1 495.7L837.1 495.4L837.6 494.8ZM848.3 495.8L847 495.6L847.5 494.8ZM858.5 495.9L856.9 495.8L857.4 494.7ZM868.7 495.7L866.9 495.8L867.3 494.5ZM878.8 495.4L876.8 495.7L877.1 494.2ZM888.8 494.9L886.6 495.6L886.8 493.9ZM898.4 494.3L896.4 495.3L896.3 493.6ZM907.7 493.8L906 494.9L905.6 493.4ZM916.8 493.2L915.4 494.6L914.9 493.2ZM925.5 492.8L924.7 494.2L924 493.2ZM933.9 492.3L933.7 493.7L932.8 493.2ZM941.8 492.2L942.5 493.3L941.6 493.5ZM950 492.6L951.3 493.2L950.5 494ZM958.6 493L960.4 493.2L959.7 494.4ZM967.5 493.5L969.5 493.3L969.1 494.8ZM976.7 494.1L978.8 493.5L978.6 495.1ZM986.2 494.6L988.3 493.8L988.3 495.4ZM996 495.2L997.8 494.1L998.1 495.7ZM1006 495.6L1007.6 494.4L1008 495.8ZM1016.2 495.8L1017.4 494.6L1017.9 495.8ZM1026.4 495.9L1027.3 494.7L1027.9 495.7ZM1036.6 495.8L1037.3 494.8L1037.8 495.5ZM1046.8 495.6L1047.2 494.8L1047.6 495.3ZM827.9 486.3L827.2 485.8L827.7 485.5ZM837.9 486.7L836.9 486.1L837.6 485.6ZM848.1 487L846.7 486.3L847.5 485.6ZM858.3 487.1L856.6 486.5L857.5 485.5ZM868.5 486.9L866.6 486.5L867.4 485.3ZM878.7 486.4L876.6 486.4L877.2 484.9ZM888.6 485.5L886.5 486L886.8 484.4ZM898.3 484.5L896.4 485.5L896.2 483.9ZM907.6 483.5L906 485L905.4 483.5ZM916.5 482.7L915.5 484.4L914.6 483.2ZM925.2 482.1L924.7 483.9L923.6 483.1ZM933.6 481.7L933.8 483.5L932.5 483.1ZM941.9 481.6L942.8 483.2L941.5 483.3ZM950.3 481.9L951.7 483.1L950.5 483.7ZM958.9 482.4L960.7 483.1L959.7 484.2ZM967.7 483.1L969.8 483.3L969 484.7ZM976.8 484.1L979 483.7L978.6 485.3ZM986.3 485.1L988.3 484.2L988.4 485.8ZM996.1 486L997.8 484.7L998.3 486.2ZM1006.2 486.7L1007.5 485.1L1008.2 486.5ZM1016.4 487L1017.4 485.4L1018.2 486.5ZM1026.7 487.1L1027.3 485.6L1028.1 486.4ZM1036.9 486.8L1037.2 485.6L1038 486.2ZM1046.9 486.5L1047.2 485.5L1047.8 485.9ZM827.8 477.1L827 476.3L827.8 476ZM837.8 477.6L836.8 476.7L837.7 476.2ZM847.9 478L846.5 477L847.6 476.3ZM858.2 478.1L856.4 477.2L857.6 476.3ZM868.4 477.9L866.4 477.2L867.5 476ZM878.6 477.3L876.4 477L877.2 475.6ZM888.7 476.1L886.5 476.5L886.8 474.9ZM898.3 474.7L896.4 475.8L896.2 474.2ZM907.5 473.4L906.1 475.1L905.3 473.6ZM916.4 472.3L915.5 474.4L914.3 473.2ZM925 471.6L924.8 473.9L923.3 473.1ZM933.5 471.2L933.9 473.4L932.3 473.1ZM942 471.1L943 473.2L941.3 473.3ZM950.4 471.5L952 473.1L950.4 473.7ZM959 472L960.9 473.1L959.6 474.1ZM967.8 472.8L969.9 473.4L969 474.7ZM976.8 474.1L979 473.9L978.5 475.5ZM986.2 475.5L988.3 474.6L988.3 476.2ZM996.1 476.8L997.7 475.3L998.3 476.8ZM1006.3 477.7L1007.4 475.8L1008.4 477.2ZM1016.5 478.1L1017.3 476.2L1018.4 477.2ZM1026.8 478.1L1027.2 476.3L1028.3 477.1ZM1037 477.8L1037.2 476.2L1038.2 476.8ZM1047 477.3L1047.1 476.1L1047.9 476.5ZM827.8 467.8L827 466.9L827.8 466.6ZM837.8 468.4L836.6 467.3L837.7 466.8ZM847.9 468.9L846.4 467.6L847.7 466.9ZM858.1 469.1L856.3 467.8L857.7 466.9ZM868.4 468.9L866.3 467.9L867.6 466.7ZM878.7 468.1L876.4 467.6L877.4 466.2ZM888.8 466.7L886.5 467L886.9 465.4ZM898.5 464.9L896.5 466.1L896.2 464.5ZM907.6 463.2L906.2 465.2L905.2 463.7ZM916.4 462L915.6 464.4L914.2 463.3ZM925 461.3L924.9 463.9L923.2 463.1ZM933.5 460.7L934.1 463.4L932.1 463ZM942 460.7L943.2 463.1L941.2 463.2ZM950.5 461.1L952.1 463.1L950.3 463.7ZM959.1 461.6L961.1 463.2L959.5 464.1ZM967.8 462.6L970.1 463.5L968.8 464.8ZM976.7 464.1L979 464.1L978.4 465.7ZM986.1 465.9L988.2 465L988.3 466.7ZM996 467.6L997.6 465.8L998.4 467.4ZM1006.3 468.6L1007.3 466.5L1008.5 467.8ZM1016.6 469.1L1017.2 466.9L1018.6 467.9ZM1026.8 469L1027.1 467L1028.5 467.7ZM1037 468.6L1037.1 466.9L1038.3 467.4ZM1047.1 468.1L1047.1 466.7L1048 467ZM827.7 458.5L826.9 457.4L827.9 457.1ZM837.7 459.2L836.5 457.8L837.8 457.4ZM847.8 459.7L846.3 458.2L847.8 457.6ZM858 460L856.1 458.5L857.7 457.6ZM868.3 459.9L866.1 458.5L867.6 457.4ZM878.7 459L876.3 458.2L877.4 456.8ZM888.9 457.4L886.5 457.5L887 455.9ZM898.5 455.1L896.6 456.4L896.2 454.7ZM907.6 453.1L906.3 455.3L905.1 453.8ZM916.3 451.8L915.7 454.5L914 453.3ZM924.9 451L925 453.9L923 453.1ZM933.4 450.2L934.2 453.3L931.9 453ZM942 450.2L943.3 453L941 453.2ZM950.6 450.8L952.3 453.1L950.2 453.7ZM959.2 451.3L961.3 453.2L959.4 454.2ZM967.8 452.4L970.2 453.6L968.8 454.9ZM976.7 454.1L979.1 454.3L978.3 455.9ZM986 456.4L988.1 455.3L988.2 457.1ZM996 458.3L997.5 456.4L998.5 458ZM1006.3 459.6L1007.2 457.2L1008.7 458.4ZM1016.7 460L1017.1 457.5L1018.7 458.5ZM1026.9 459.9L1027.1 457.6L1028.6 458.4ZM1037.1 459.4L1037 457.5L1038.4 458ZM1047.1 458.8L1047 457.2L1048.1 457.6ZM827.7 449.1L826.8 447.9L827.9 447.6ZM837.6 449.9L836.4 448.4L837.8 448ZM847.7 450.6L846.1 448.8L847.8 448.2ZM857.9 450.9L855.9 449.1L857.8 448.3ZM868.1 450.8L865.9 449.1L867.7 448.1ZM878.5 449.9L876.1 448.8L877.5 447.5ZM888.8 448L886.4 448L887 446.4ZM898.5 445.3L896.6 446.7L896.1 445ZM907.4 443L906.3 445.4L904.9 444ZM916.1 441.5L915.8 444.5L913.8 443.4ZM924.7 440.7L925.1 443.9L922.8 443.2ZM933.4 439.6L934.4 443.2L931.7 442.9ZM942.1 439.6L943.5 443L940.8 443.1ZM950.7 440.5L952.5 443.2L950.1 443.7ZM959.3 441.1L961.5 443.3L959.4 444.2ZM968 442.2L970.4 443.7L968.7 444.9ZM976.8 444.1L979.2 444.5L978.3 446.1ZM986.1 446.8L988.1 445.7L988.3 447.5ZM996.2 449.1L997.5 447L998.6 448.5ZM1006.5 450.5L1007.2 447.8L1008.9 449.1ZM1016.8 451L1017.1 448.2L1018.9 449.1ZM1027.1 450.8L1027 448.3L1028.8 449ZM1037.2 450.2L1037 448.1L1038.6 448.6ZM1047.2 449.5L1047 447.8L1048.2 448.1ZM827.6 439.8L826.7 438.4L827.9 438.2ZM837.5 440.6L836.3 438.9L837.8 438.5ZM847.5 441.4L845.9 439.3L847.8 438.8ZM857.6 441.8L855.7 439.6L857.7 438.9ZM867.8 441.7L865.6 439.7L867.6 438.7ZM878.1 440.7L875.8 439.4L877.4 438.1ZM888.5 438.7L886.2 438.5L886.9 436.9ZM898.2 435.5L896.5 436.9L896 435.3ZM907 432.9L906.2 435.5L904.7 434.2ZM915.8 431.3L915.7 434.5L913.5 433.6ZM924.5 430.5L925.1 433.9L922.5 433.3ZM933.2 429.2L934.5 433.1L931.4 432.9ZM942.1 429.1L943.7 432.9L940.7 433ZM950.9 430.3L952.7 433.3L950.1 433.7ZM959.6 430.9L961.8 433.5L959.4 434.2ZM968.4 432.1L970.7 433.9L968.8 435ZM977.1 434.1L979.5 434.7L978.4 436.2ZM986.3 437.2L988.2 436.2L988.4 437.8ZM996.5 439.9L997.6 437.7L998.9 439ZM1006.9 441.4L1007.3 438.5L1009.1 439.6ZM1017.1 441.8L1017.1 438.9L1019.2 439.7ZM1027.3 441.6L1027.1 438.9L1029 439.5ZM1037.3 441L1037 438.7L1038.7 439.1ZM1047.3 440.2L1047 438.3L1048.3 438.6ZM827.4 430.3L826.6 428.8L827.9 428.7ZM837.3 431.3L836.1 429.4L837.8 429.1ZM847.2 432.1L845.7 429.8L847.7 429.4ZM857.2 432.6L855.4 430.1L857.6 429.6ZM867.3 432.5L865.3 430.2L867.4 429.4ZM877.5 431.5L875.4 429.8L877.2 428.8ZM887.9 429.4L885.8 428.9L886.7 427.6ZM897.7 425.6L896.3 427L895.7 425.7ZM906.4 422.8L906 425.5L904.3 424.5ZM915.3 421.3L915.6 424.6L913.2 423.8ZM924.2 420.4L925 424L922.3 423.5ZM933.1 418.9L934.6 423.1L931.3 422.9ZM942.1 418.8L943.9 423L940.6 423ZM951.1 420.2L952.9 423.5L950.1 423.8ZM960 420.8L962.1 423.7L959.5 424.3ZM968.9 422L971.1 424.1L969 425ZM977.7 424.1L979.8 425L978.6 426.2ZM986.8 427.7L988.5 426.7L988.7 428.1ZM997.1 430.7L997.8 428.4L999.3 429.5ZM1007.4 432.2L1007.5 429.2L1009.5 430.1ZM1017.6 432.6L1017.3 429.6L1019.5 430.2ZM1027.6 432.4L1027.2 429.5L1029.2 430ZM1037.6 431.7L1037.1 429.3L1038.9 429.6ZM1047.5 430.8L1047 428.9L1048.5 429.1ZM827.3 420.9L826.5 419.3L827.8 419.1ZM837.1 421.9L836 419.8L837.7 419.6ZM846.9 422.7L845.5 420.3L847.6 420ZM856.7 423.2L855.1 420.6L857.4 420.2ZM866.7 423.2L864.9 420.6L867.2 420.1ZM876.7 422.3L874.9 420.2L876.8 419.6ZM887 420.1L885.3 419.3L886.4 418.3ZM896.8 415.6L895.9 417.1L895.2 416.1ZM905.6 412.8L905.7 415.5L903.8 414.8ZM914.7 411.3L915.3 414.6L912.8 414.2ZM923.8 410.4L924.9 414.1L922 413.8ZM933 408.8L934.6 413.2L931.1 413.1ZM942.2 408.8L944 413.1L940.5 413.2ZM951.4 410.2L953.1 413.8L950.2 414ZM960.6 410.8L962.4 414L959.7 414.4ZM969.7 412L971.5 414.5L969.3 415ZM978.6 414.1L980.4 415.4L979 416.2ZM987.6 418.2L988.8 417.3L989.1 418.4ZM998 421.5L998.2 419.1L999.8 419.9ZM1008.1 422.9L1007.8 419.9L1009.9 420.5ZM1018.1 423.3L1017.5 420.2L1019.8 420.6ZM1028 423L1027.3 420.1L1029.5 420.4ZM1037.9 422.3L1037.2 419.8L1039.1 420ZM1047.6 421.3L1047.1 419.3L1048.6 419.5ZM827.1 411.3L826.4 409.6L827.7 409.6ZM836.8 412.3L835.8 410.2L837.6 410.1ZM846.5 413.2L845.3 410.6L847.4 410.5ZM856.2 413.8L854.8 410.9L857.2 410.8ZM865.9 413.7L864.5 410.9L866.9 410.7ZM875.7 412.8L874.4 410.5L876.4 410.2ZM885.7 410.8L884.6 409.6L885.8 409.1ZM895.5 405.6L895.3 407L894.4 406.5ZM904.6 402.9L905.2 405.6L903.2 405.3ZM914 401.5L915 404.8L912.4 404.6ZM923.4 400.6L924.7 404.3L921.8 404.2ZM932.8 399L934.5 403.5L931 403.4ZM942.3 398.9L944.1 403.4L940.5 403.4ZM951.7 400.4L953.3 404.1L950.3 404.2ZM961.1 401L962.7 404.4L960 404.5ZM970.5 402.2L972 404.9L969.7 405.1ZM979.8 404.2L981 405.8L979.5 406.2ZM988.8 408.9L989.4 408.1L989.8 408.7ZM999.1 412.1L998.7 409.8L1000.4 410.2ZM1009 413.4L1008.2 410.5L1010.4 410.8ZM1018.7 413.8L1017.8 410.8L1020.2 410.9ZM1028.5 413.5L1027.5 410.7L1029.8 410.8ZM1038.2 412.8L1037.3 410.3L1039.3 410.4ZM1047.9 411.8L1047.1 409.8L1048.7 409.9ZM826.9 401.7L826.3 400L827.7 400ZM836.5 402.7L835.7 400.5L837.5 400.5ZM846.1 403.6L845.1 400.9L847.2 401ZM855.6 404.2L854.5 401.2L856.9 401.3ZM865.2 404.1L864.1 401.1L866.5 401.2ZM874.7 403.2L873.9 400.7L875.9 400.8ZM884.1 401.2L883.8 399.6L885 399.9ZM893.6 395.9L894.4 396.9L893.5 397.2ZM903.5 393.3L904.7 395.7L902.7 395.8ZM913.2 391.8L914.6 395L912.1 395.1ZM922.9 390.9L924.5 394.6L921.5 394.6ZM932.6 389.3L934.5 393.8L930.9 393.8ZM942.3 389.3L944.1 393.8L940.5 393.7ZM952 390.7L953.5 394.5L950.5 394.5ZM961.7 391.4L963 394.8L960.2 394.8ZM971.4 392.5L972.4 395.4L970.1 395.3ZM981.2 394.5L981.7 396.5L980.2 396.3ZM991.3 399.4L990.6 399L991.1 398.6ZM1000.4 402.5L999.3 400.5L1001 400.3ZM1009.9 403.8L1008.6 401.1L1010.8 401ZM1019.4 404.2L1018.1 401.3L1020.5 401.2ZM1028.9 403.9L1027.7 401.1L1030 401.1ZM1038.5 403.2L1037.5 400.7L1039.4 400.7ZM1048.1 402.2L1047.3 400.2L1048.8 400.2ZM826.8 392L826.2 390.3L827.6 390.4ZM836.2 393L835.5 390.7L837.3 390.9ZM845.7 393.9L844.9 391.1L847 391.4ZM855.1 394.4L854.3 391.4L856.6 391.7ZM864.4 394.3L863.8 391.3L866.1 391.7ZM873.7 393.5L873.4 390.8L875.3 391.3ZM882.6 391.3L883.1 389.6L884.2 390.4ZM892 386.6L893.6 387.2L892.7 388.1ZM902.4 383.8L904.1 385.9L902.2 386.5ZM912.5 382.3L914.3 385.3L911.7 385.7ZM922.5 381.4L924.2 384.9L921.4 385.1ZM932.5 379.8L934.3 384.2L930.8 384.2ZM942.4 379.7L944.1 384.2L940.6 384.2ZM952.4 381.2L953.6 385L950.7 384.8ZM962.3 381.9L963.3 385.4L960.6 385.1ZM972.3 383L972.9 386.1L970.6 385.6ZM982.5 385.1L982.3 387.2L980.9 386.5ZM992.8 389.4L991.4 389.5L991.7 388.5ZM1001.6 392.7L1000 391L1001.6 390.3ZM1010.7 394.1L1009.1 391.6L1011.2 391.1ZM1020 394.5L1018.4 391.7L1020.8 391.4ZM1029.4 394.2L1028 391.5L1030.2 391.3ZM1038.8 393.4L1037.6 391.1L1039.6 390.9ZM1048.3 392.5L1047.4 390.6L1048.9 390.5ZM826.6 382.2L826.1 380.5L827.4 380.7ZM836 383.2L835.5 381L837.1 381.2ZM845.3 384L844.8 381.3L846.8 381.7ZM854.6 384.5L854.1 381.5L856.3 382ZM863.7 384.4L863.5 381.4L865.7 382ZM872.8 383.5L873 380.8L874.8 381.7ZM881.6 381.3L882.7 379.5L883.6 380.8ZM891.1 377.3L893 377.5L892.3 378.8ZM901.5 374.5L903.6 376.3L901.8 377.2ZM911.9 373L913.9 375.7L911.5 376.3ZM922.1 372.1L924 375.3L921.2 375.7ZM932.3 370.4L934.2 374.6L930.8 374.8ZM942.4 370.4L944.1 374.7L940.6 374.6ZM952.6 371.9L953.7 375.6L950.9 375.3ZM962.9 372.5L963.5 376L960.9 375.5ZM973.1 373.7L973.2 376.7L971.1 375.9ZM983.5 375.8L982.8 378L981.5 376.8ZM993.7 379.6L991.9 380L992.1 378.6ZM1002.6 382.7L1000.5 381.4L1002 380.3ZM1011.5 384.1L1009.5 381.9L1011.6 381.2ZM1020.6 384.6L1018.8 382.1L1021 381.5ZM1029.8 384.3L1028.2 381.9L1030.4 381.4ZM1039.1 383.6L1037.8 381.4L1039.7 381.2ZM1048.5 382.7L1047.5 380.9L1049 380.7ZM826.5 372.4L826.1 370.8L827.3 371ZM835.8 373.3L835.4 371.2L837 371.5ZM845 374.1L844.7 371.5L846.6 372ZM854.2 374.5L854 371.6L856 372.3ZM863.2 374.4L863.3 371.4L865.3 372.3ZM872.1 373.4L872.8 370.8L874.4 372ZM881 371.3L882.4 369.6L883.2 371.1ZM890.4 368L892.6 367.9L892.1 369.4ZM900.9 365.3L903.2 366.7L901.6 367.9ZM911.3 363.8L913.5 366.1L911.3 367ZM921.8 362.9L923.7 365.9L921.1 366.4ZM932.2 361.2L934.1 365.2L930.8 365.4ZM942.5 361.1L944 365.3L940.7 365.2ZM952.9 362.7L953.7 366.2L951.1 365.8ZM963.3 363.3L963.6 366.7L961.2 366ZM973.7 364.5L973.4 367.4L971.5 366.4ZM984.2 366.6L983 368.7L981.9 367.3ZM994.3 369.9L992.2 370.4L992.4 368.8ZM1003.2 372.6L1000.9 371.7L1002.3 370.3ZM1012.1 374.1L1009.9 372.2L1011.8 371.2ZM1021.1 374.5L1019.1 372.3L1021.2 371.6ZM1030.2 374.3L1028.5 372.1L1030.5 371.6ZM1039.4 373.7L1038 371.7L1039.7 371.3ZM1048.7 372.8L1047.6 371.2L1049 371ZM826.4 362.5L826.1 361L827.2 361.3ZM835.6 363.3L835.4 361.3L836.8 361.7ZM844.8 364L844.6 361.6L846.4 362.2ZM853.9 364.4L853.9 361.7L855.8 362.5ZM862.8 364.3L863.2 361.5L865 362.5ZM871.7 363.3L872.6 360.9L874.1 362.2ZM880.6 361.4L882.3 359.7L883 361.4ZM890.1 358.6L892.4 358.3L892 360ZM900.4 356.1L902.9 357.2L901.4 358.6ZM911 354.7L913.2 356.7L911.2 357.7ZM921.5 353.8L923.5 356.4L921.1 357.1ZM932.1 352L933.9 355.7L930.9 356ZM942.5 352L944 355.9L940.9 355.8ZM953.1 353.6L953.7 356.9L951.3 356.4ZM963.6 354.2L963.7 357.4L961.5 356.6ZM974.1 355.4L973.5 358.1L971.8 356.9ZM984.6 357.3L983.2 359.3L982.2 357.8ZM994.6 360.1L992.4 360.8L992.5 359.1ZM1003.7 362.6L1001.2 361.9L1002.4 360.4ZM1012.5 363.9L1010.2 362.4L1011.9 361.2ZM1021.4 364.4L1019.4 362.5L1021.2 361.6ZM1030.4 364.3L1028.7 362.3L1030.5 361.7ZM1039.6 363.7L1038.2 361.9L1039.8 361.5ZM1048.8 362.9L1047.8 361.5L1049 361.2ZM826.3 352.6L826.1 351.2L827.1 351.5ZM835.5 353.3L835.4 351.5L836.7 351.9ZM844.7 353.9L844.7 351.7L846.2 352.3ZM853.7 354.3L853.9 351.7L855.6 352.6ZM862.6 354.1L863.2 351.5L864.8 352.7ZM871.5 353.2L872.6 350.9L873.9 352.4ZM880.5 351.5L882.3 350L882.8 351.6ZM890 349.1L892.3 348.8L891.9 350.5ZM900.2 347L902.7 347.8L901.4 349.3ZM910.7 345.6L913 347.3L911.2 348.4ZM921.3 344.8L923.3 347.1L921.1 347.8ZM932.1 342.9L933.8 346.4L930.9 346.6ZM942.5 342.9L943.9 346.5L941 346.4ZM953.2 344.6L953.7 347.6L951.5 347.1ZM963.8 345.2L963.6 348.1L961.7 347.2ZM974.4 346.3L973.5 348.8L972 347.5ZM984.8 348.1L983.2 349.9L982.4 348.3ZM994.7 350.4L992.4 351.1L992.6 349.4ZM1003.8 352.5L1001.4 352.1L1002.4 350.5ZM1012.7 353.8L1010.4 352.6L1011.9 351.3ZM1021.6 354.3L1019.6 352.7L1021.2 351.7ZM1030.6 354.1L1028.9 352.5L1030.5 351.8ZM1039.7 353.6L1038.3 352.1L1039.7 351.6ZM1048.9 352.9L1047.9 351.7L1049 351.3ZM826.3 342.7L826.2 341.4L827.1 341.7ZM835.5 343.3L835.5 341.7L836.6 342.1ZM844.6 343.8L844.7 341.8L846.1 342.5ZM853.6 344.1L854 341.8L855.4 342.7ZM862.5 343.9L863.3 341.6L864.7 342.8ZM871.5 343.1L872.7 341.1L873.8 342.5ZM880.5 341.6L882.4 340.2L882.8 341.9ZM890.1 339.7L892.3 339.2L892 340.9ZM900.2 337.8L902.6 338.4L901.5 339.9ZM910.7 336.6L912.8 338L911.3 339.1ZM921.3 335.8L923.1 337.8L921.2 338.5ZM932 333.9L933.7 337.1L931.1 337.3ZM942.5 333.9L943.7 337.2L941.1 337.1ZM953.3 335.6L953.6 338.3L951.6 337.8ZM963.9 336.2L963.6 338.8L961.9 337.9ZM974.4 337.2L973.4 339.5L972.1 338.2ZM984.7 338.8L983.1 340.4L982.4 338.8ZM994.6 340.7L992.4 341.4L992.5 339.8ZM1003.8 342.5L1001.5 342.3L1002.3 340.7ZM1012.8 343.6L1010.5 342.7L1011.8 341.4ZM1021.7 344.1L1019.7 342.8L1021.2 341.8ZM1030.7 344L1029 342.6L1030.4 341.8ZM1039.7 343.6L1038.4 342.3L1039.7 341.7ZM1048.9 343L1048 341.9L1049 341.5ZM826.3 332.7L826.3 331.6L827 331.9ZM835.5 333.3L835.6 331.8L836.5 332.3ZM844.6 333.7L844.8 331.9L846 332.6ZM853.6 333.9L854.1 331.9L855.4 332.8ZM862.6 333.7L863.4 331.7L864.6 332.8ZM871.6 333L872.9 331.2L873.8 332.6ZM880.7 331.8L882.5 330.5L882.9 332.1ZM890.3 330.2L892.4 329.7L892.2 331.3ZM900.4 328.7L902.5 329L901.7 330.4ZM910.7 327.6L912.8 328.6L911.4 329.7ZM921.3 326.8L923 328.5L921.4 329.2ZM932.1 325L933.5 327.8L931.2 328.1ZM942.5 325L943.6 328L941.3 327.9ZM953.3 326.6L953.4 329L951.7 328.5ZM963.9 327.2L963.4 329.5L962 328.5ZM974.3 328.1L973.3 330.1L972.2 328.8ZM984.5 329.4L982.9 330.9L982.4 329.4ZM994.3 331.1L992.3 331.7L992.4 330.1ZM1003.7 332.5L1001.5 332.4L1002.1 330.9ZM1012.7 333.5L1010.6 332.8L1011.7 331.5ZM1021.6 333.9L1019.8 332.8L1021 331.9ZM1030.6 333.8L1029.1 332.7L1030.3 332ZM1039.7 333.5L1038.5 332.4L1039.6 331.9ZM1048.9 333L1048 332.1L1048.9 331.7ZM826.3 322.8L826.3 321.9L827 322.1ZM835.5 323.2L835.7 322L836.5 322.4ZM844.7 323.6L845 322.1L845.9 322.7ZM853.8 323.8L854.3 322.1L855.3 322.9ZM862.8 323.6L863.6 321.9L864.6 322.9ZM871.8 323L873.1 321.5L873.8 322.7ZM881.1 322L882.7 320.9L883 322.3ZM890.6 320.7L892.6 320.2L892.3 321.7ZM900.6 319.4L902.6 319.7L901.9 321ZM910.9 318.5L912.7 319.3L911.6 320.4ZM921.4 317.8L922.9 319.2L921.6 319.9ZM932.1 316.3L933.4 318.6L931.4 318.9ZM942.5 316.2L943.4 318.8L941.4 318.7ZM953.2 317.7L953.3 319.7L951.8 319.2ZM963.7 318.2L963.2 320.1L962 319.2ZM974.1 319L973.1 320.7L972.2 319.5ZM984.2 320.1L982.7 321.3L982.3 319.9ZM994 321.4L992.1 322L992.2 320.6ZM1003.4 322.6L1001.4 322.6L1001.9 321.2ZM1012.5 323.4L1010.6 322.9L1011.5 321.7ZM1021.5 323.7L1019.8 322.9L1020.8 322ZM1030.5 323.7L1029.2 322.8L1030.2 322.1ZM1039.7 323.4L1038.6 322.6L1039.5 322.1ZM1048.9 323L1048.1 322.3L1048.8 321.9ZM826.4 312.9L826.4 312.1L826.9 312.3ZM835.6 313.2L835.8 312.2L836.5 312.6ZM844.8 313.5L845.1 312.3L845.9 312.8ZM854 313.6L854.5 312.2L855.3 313ZM863 313.5L863.9 312L864.6 313ZM872.2 313L873.3 311.7L873.9 312.9ZM881.5 312.2L882.9 311.2L883.2 312.5ZM891.1 311.1L892.7 310.7L892.6 312ZM901 310.2L902.7 310.3L902.1 311.4ZM911.1 309.4L912.7 310L911.9 310.9ZM921.5 308.8L922.9 309.9L921.7 310.5ZM932.1 307.6L933.2 309.5L931.6 309.7ZM942.5 307.6L943.2 309.6L941.6 309.5ZM953.1 308.7L953.1 310.3L951.9 309.9ZM963.5 309.1L963 310.7L962 309.9ZM973.8 309.8L972.8 311.2L972.1 310.1ZM983.9 310.7L982.5 311.7L982.1 310.5ZM993.6 311.7L991.9 312.3L992 311ZM1003 312.7L1001.3 312.7L1001.7 311.5ZM1012.2 313.3L1010.5 313L1011.2 311.9ZM1021.3 313.6L1019.8 313L1020.6 312.2ZM1030.4 313.6L1029.2 312.9L1030 312.3ZM1039.5 313.4L1038.6 312.7L1039.3 312.2ZM1048.8 313L1048.1 312.5L1048.7 312.1ZM826.4 303L826.5 302.3L826.9 302.6ZM835.7 303.3L835.9 302.4L836.4 302.8ZM845 303.5L845.3 302.5L845.9 303ZM854.2 303.6L854.7 302.4L855.3 303.1ZM863.3 303.5L864.1 302.3L864.7 303.1ZM872.6 303.1L873.6 302L874 303ZM881.9 302.4L883.2 301.6L883.4 302.7ZM891.5 301.6L892.9 301.2L892.8 302.3ZM901.3 300.8L902.8 300.9L902.4 301.9ZM911.4 300.2L912.8 300.7L912.1 301.5ZM921.7 299.7L922.8 300.6L921.9 301.1ZM932.2 298.9L933 300.3L931.8 300.5ZM942.5 298.9L943 300.5L941.8 300.4ZM953 299.6L952.9 301L952 300.6ZM963.3 300L962.8 301.3L962 300.6ZM973.5 300.5L972.6 301.7L972 300.8ZM983.4 301.2L982.2 302.1L981.9 301ZM993.1 302L991.7 302.5L991.8 301.4ZM1002.6 302.8L1001.1 302.9L1001.4 301.8ZM1011.9 303.3L1010.4 303.1L1011 302.2ZM1021 303.6L1019.8 303.1L1020.4 302.4ZM1030.2 303.6L1029.2 303L1029.8 302.5ZM1039.4 303.4L1038.6 302.9L1039.2 302.5ZM1048.7 303.1L1048.1 302.7L1048.6 302.4ZM826.5 293.1L826.6 292.6L826.9 292.8ZM835.9 293.4L836 292.7L836.4 293ZM845.2 293.5L845.4 292.7L845.9 293.1ZM854.4 293.6L854.9 292.7L855.4 293.2ZM863.7 293.5L864.3 292.5L864.8 293.2ZM872.9 293.2L873.8 292.3L874.2 293.2ZM882.3 292.7L883.4 292L883.6 292.9ZM891.9 292.1L893.1 291.7L893 292.6ZM901.7 291.4L903 291.4L902.6 292.3ZM911.7 291L912.9 291.3L912.3 292ZM921.9 290.6L922.8 291.2L922.1 291.7ZM932.2 290.1L932.9 291.1L932 291.3ZM942.5 290L942.9 291.2L941.9 291.1ZM952.8 290.5L952.7 291.6L952 291.2ZM963 290.8L962.6 291.8L962 291.2ZM973.1 291.2L972.3 292.1L971.9 291.4ZM983 291.8L982 292.5L981.8 291.6ZM992.7 292.4L991.5 292.8L991.5 291.9ZM1002.2 293L1000.9 293.1L1001.2 292.2ZM1011.5 293.4L1010.3 293.2L1010.7 292.4ZM1020.8 293.6L1019.7 293.2L1020.2 292.6ZM1030 293.6L1029.1 293.2L1029.6 292.7ZM1039.3 293.4L1038.6 293L1039.1 292.7ZM1048.6 293.2L1048.1 292.9L1048.5 292.6Z" fill="#000" stroke="#000" stroke-width="0.5" stroke-linejoin="round"/>
</g>
<rect x="827.0" y="284.8" width="221" height="223.4" fill="none" stroke="#000" stroke-width="1.4"/>
<text x="2.2" y="84.5" font-size="30">(<tspan font-style="italic">a</tspan>)</text>
<text x="372.2" y="24.0" font-size="30">(<tspan font-style="italic">b</tspan>)</text>
<text x="737.2" y="24.0" font-size="30">(<tspan font-style="italic">c</tspan>)</text>
<text x="371.8" y="302.0" font-size="30">(<tspan font-style="italic">d</tspan>)</text>
<text x="737.2" y="302.0" font-size="30">(<tspan font-style="italic">e</tspan>)</text>
<text x="200.0" y="86.5" font-size="30"><tspan font-style="italic">w</tspan></text>
<text x="222.8" y="93.5" font-size="19"><tspan font-style="italic">f</tspan></text>
<text x="150.2" y="122.2" font-size="25">2</text>
<text x="210.5" y="122.2" font-size="25">0</text>
<text x="281.0" y="122.2" font-size="25">2</text>
<text x="65.0" y="183.0" font-size="25">1.0</text>
<text x="64.2" y="289.8" font-size="25">0.5</text>
<text x="83.0" y="396.2" font-size="25">0</text>
<text x="104.2" y="414.8" font-size="25">0.5</text>
<text x="210.0" y="414.8" font-size="25">0</text>
<text x="307.0" y="414.8" font-size="25">0.5</text>
<text x="149.6" y="203.2" font-size="24">0.1<tspan font-style="italic">δ</tspan></text>
<text x="435.0" y="26.2" font-size="25">1.0</text>
<text x="433.8" y="132.8" font-size="25">0.5</text>
<text x="452.8" y="239.2" font-size="25">0</text>
<text x="474.9" y="258.0" font-size="25">0.5</text>
<text x="579.6" y="257.9" font-size="25">0</text>
<text x="676.7" y="257.9" font-size="25">0.5</text>
<text x="787.0" y="26.2" font-size="25">1.0</text>
<text x="785.8" y="132.8" font-size="25">0.5</text>
<text x="804.8" y="239.2" font-size="25">0</text>
<text x="826.9" y="258.0" font-size="25">0.5</text>
<text x="931.6" y="257.9" font-size="25">0</text>
<text x="1028.7" y="257.9" font-size="25">0.5</text>
<text x="435.0" y="304.0" font-size="25">1.0</text>
<text x="433.8" y="410.6" font-size="25">0.5</text>
<text x="452.8" y="517.0" font-size="25">0</text>
<text x="474.9" y="535.8" font-size="25">0.5</text>
<text x="579.6" y="535.7" font-size="25">0</text>
<text x="676.7" y="535.7" font-size="25">0.5</text>
<text x="787.0" y="304.0" font-size="25">1.0</text>
<text x="785.8" y="410.6" font-size="25">0.5</text>
<text x="804.8" y="517.0" font-size="25">0</text>
<text x="826.9" y="535.8" font-size="25">0.5</text>
<text x="931.6" y="535.7" font-size="25">0</text>
<text x="1028.7" y="535.7" font-size="25">0.5</text>
<text x="7.8" y="292.6" font-size="30"><tspan font-style="italic">z</tspan></text>
<text x="31.9" y="291.6" font-size="30"><tspan font-style="italic">δ</tspan></text>
<text x="377.3" y="135.6" font-size="30"><tspan font-style="italic">z</tspan></text>
<text x="401.4" y="134.6" font-size="30"><tspan font-style="italic">δ</tspan></text>
<text x="377.3" y="413.4" font-size="30"><tspan font-style="italic">z</tspan></text>
<text x="401.4" y="412.4" font-size="30"><tspan font-style="italic">δ</tspan></text>
<text x="187.0" y="453.1" font-size="30">Δ</text>
<text x="208.7" y="453.6" font-size="30"><tspan font-style="italic">y</tspan></text>
<text x="234.4" y="453.8" font-size="30"><tspan font-style="italic">δ</tspan></text>
<text x="557.7" y="574.3" font-size="30">Δ</text>
<text x="579.4" y="574.8" font-size="30"><tspan font-style="italic">y</tspan></text>
<text x="605.0" y="575.0" font-size="30"><tspan font-style="italic">δ</tspan></text>
<text x="909.7" y="574.3" font-size="30">Δ</text>
<text x="931.4" y="574.8" font-size="30"><tspan font-style="italic">y</tspan></text>
<text x="957.0" y="575.0" font-size="30"><tspan font-style="italic">δ</tspan></text>
<text x="487.5" y="35.2" font-size="25">14.6 %</text>
<text x="839.5" y="35.2" font-size="25">16.9 %</text>
<text x="486.0" y="315.0" font-size="25">14.7 %</text>
<text x="841.3" y="311.9" font-size="25">53.8 % (others)</text>
<path d="M31.4 271L20.9 297.4" stroke="#000" stroke-width="1.35"/>
<path d="M400.9 114L390.4 140.4" stroke="#000" stroke-width="1.35"/>
<path d="M400.9 391.8L390.4 418.2" stroke="#000" stroke-width="1.35"/>
<path d="M233.1 433.1L223.2 459.5" stroke="#000" stroke-width="1.35"/>
<path d="M603.8 554.3L593.9 580.7" stroke="#000" stroke-width="1.35"/>
<path d="M955.8 554.3L945.9 580.7" stroke="#000" stroke-width="1.35"/>
<path d="M457.8 251.6L472.8 251.6" stroke="#000" stroke-width="1.25"/>
<path d="M809.8 251.6L824.8 251.6" stroke="#000" stroke-width="1.25"/>
<path d="M457.8 529.4L472.8 529.4" stroke="#000" stroke-width="1.25"/>
<path d="M809.8 529.4L824.8 529.4" stroke="#000" stroke-width="1.25"/>
<path d="M86.3 408.6L101.3 408.6" stroke="#000" stroke-width="1.25"/>
<path d="M132.3 116.2L147.8 116.2" stroke="#000" stroke-width="1.25"/>
<path d="M222 70.3L235 70.3" stroke="#000" stroke-width="1.25"/>
<path d="M228.5 63.5L228.5 77" stroke="#000" stroke-width="1.25"/>
<rect x="146.5" y="130" width="7.3" height="15" fill="#36459c"/>
<rect x="153.5" y="130" width="7.3" height="15" fill="#4065ac"/>
<rect x="160.5" y="130" width="7.3" height="15" fill="#5183bb"/>
<rect x="167.5" y="130" width="7.3" height="15" fill="#679ec9"/>
<rect x="174.5" y="130" width="7.3" height="15" fill="#81b7d7"/>
<rect x="181.5" y="130" width="7.3" height="15" fill="#9dcee3"/>
<rect x="188.5" y="130" width="7.3" height="15" fill="#b9e0ed"/>
<rect x="195.5" y="130" width="7.3" height="15" fill="#d4edf4"/>
<rect x="202.5" y="130" width="7.3" height="15" fill="#e7f6eb"/>
<rect x="209.5" y="130" width="7.3" height="15" fill="#f7fcce"/>
<rect x="216.5" y="130" width="7.3" height="15" fill="#fff7b3"/>
<rect x="223.5" y="130" width="7.3" height="15" fill="#fee79b"/>
<rect x="230.5" y="130" width="7.3" height="15" fill="#fed283"/>
<rect x="237.5" y="130" width="7.3" height="15" fill="#fdbb6d"/>
<rect x="244.5" y="130" width="7.3" height="15" fill="#fb9d59"/>
<rect x="251.5" y="130" width="7.3" height="15" fill="#f67c4a"/>
<rect x="258.5" y="130" width="7.3" height="15" fill="#ec5c3b"/>
<rect x="265.5" y="130" width="7.3" height="15" fill="#dd3d2d"/>
<rect x="272.5" y="130" width="7.3" height="15" fill="#ca2427"/>
<rect x="279.5" y="130" width="7.3" height="15" fill="#b10b26"/>
<rect x="146.5" y="130" width="140" height="15" fill="none" stroke="#000" stroke-width="1.3"/>
<path d="M216.5 130L216.5 132.5" stroke="#000" stroke-width="1"/>
<path d="M216.5 142.5L216.5 145" stroke="#000" stroke-width="1"/>
<path d="M124 195.9H142" stroke="#000" stroke-width="2.6"/>
<path d="M129.6 190.6L123 195.9L129.6 201.2M136.4 190.6L143 195.9L136.4 201.2" stroke="#000" stroke-width="3.4" fill="none" stroke-linejoin="miter" stroke-miterlimit="6"/>
<rect x="122.2" y="263.5" width="21.8" height="21.2" fill="#fff" stroke="#000" stroke-width="1.8"/>
<path d="M125.3 274.6L140.9 274.6" stroke="#000" stroke-width="1.3"/>
<rect x="205.2" y="263.5" width="21.8" height="21.2" fill="#fff" stroke="#000" stroke-width="1.8"/>
<path d="M208.2 274.6L223.9 274.6" stroke="#000" stroke-width="1.3"/>
<path d="M216.1 266.8L216.1 282.4" stroke="#000" stroke-width="1.3"/>
<rect x="288.5" y="263.5" width="21.8" height="21.2" fill="#fff" stroke="#000" stroke-width="1.8"/>
<path d="M291.6 274.6L307.2 274.6" stroke="#000" stroke-width="1.3"/>
<rect x="482.8" y="117.1" width="35.8" height="34.6" fill="#fff" stroke="#000" stroke-width="1.25"/>
<path d="M492.5 136.4L508.1 136.4" stroke="#000" stroke-width="1.2"/>
<rect x="567.6" y="117.1" width="35.8" height="34.6" fill="#fff" stroke="#000" stroke-width="1.25"/>
<path d="M577.4 136.4L593 136.4" stroke="#000" stroke-width="1.2"/>
<path d="M585.2 128.6L585.2 144.2" stroke="#000" stroke-width="1.2"/>
<rect x="652.7" y="117.1" width="35.8" height="34.6" fill="#fff" stroke="#000" stroke-width="1.25"/>
<path d="M662.5 136.4L678.1 136.4" stroke="#000" stroke-width="1.2"/>
<rect x="834.8" y="117.1" width="35.8" height="34.6" fill="#fff" stroke="#000" stroke-width="1.25"/>
<path d="M844.6 136.4L860.1 136.4" stroke="#000" stroke-width="1.2"/>
<rect x="919.6" y="117.1" width="35.8" height="34.6" fill="#fff" stroke="#000" stroke-width="1.25"/>
<path d="M929.4 136.4L945 136.4" stroke="#000" stroke-width="1.2"/>
<path d="M937.2 128.6L937.2 144.2" stroke="#000" stroke-width="1.2"/>
<rect x="1004.7" y="117.1" width="35.8" height="34.6" fill="#fff" stroke="#000" stroke-width="1.25"/>
<path d="M1014.5 136.4L1030.1 136.4" stroke="#000" stroke-width="1.2"/>
<path d="M1022.3 128.6L1022.3 144.2" stroke="#000" stroke-width="1.2"/>
<rect x="482.8" y="394.1" width="35.8" height="35.3" fill="#fff" stroke="#000" stroke-width="1.25"/>
<path d="M492.5 412.6L508.1 412.6" stroke="#000" stroke-width="1.2"/>
<path d="M500.3 404.8L500.3 420.4" stroke="#000" stroke-width="1.2"/>
<rect x="567.6" y="394.1" width="35.8" height="35.3" fill="#fff" stroke="#000" stroke-width="1.25"/>
<path d="M577.4 412.6L593 412.6" stroke="#000" stroke-width="1.2"/>
<path d="M585.2 404.8L585.2 420.4" stroke="#000" stroke-width="1.2"/>
<rect x="652.7" y="394.1" width="35.8" height="35.3" fill="#fff" stroke="#000" stroke-width="1.25"/>
<path d="M662.5 412.6L678.1 412.6" stroke="#000" stroke-width="1.2"/>
<rect x="476.2" y="10.9" width="91" height="34.6" fill="#fff" stroke="#000" stroke-width="1.25"/>
<rect x="828.2" y="10.9" width="91" height="34.6" fill="#fff" stroke="#000" stroke-width="1.25"/>
<rect x="476.2" y="288.9" width="91" height="33.8" fill="#fff" stroke="#000" stroke-width="1.25"/>
<rect x="827.5" y="285.5" width="190" height="39.3" fill="#fff" stroke="#000" stroke-width="1.4"/>
<text x="487.5" y="35.2" font-size="25">14.6 %</text>
<text x="839.5" y="35.2" font-size="25">16.9 %</text>
<text x="486.0" y="315.0" font-size="25">14.7 %</text>
<text x="841.3" y="311.9" font-size="25">53.8 % (others)</text>
<path d="M483.3 286.7h6.5M493.8 286.7h6.5M504.0 286.7h6.5M514.3 286.7h6.5M524.4 286.7h6.5M534.8 286.7h6.5M545.0 286.7h6.5M555.0 286.7h6.5" stroke="#000" stroke-width="1.9"/>
</svg></body></html>
